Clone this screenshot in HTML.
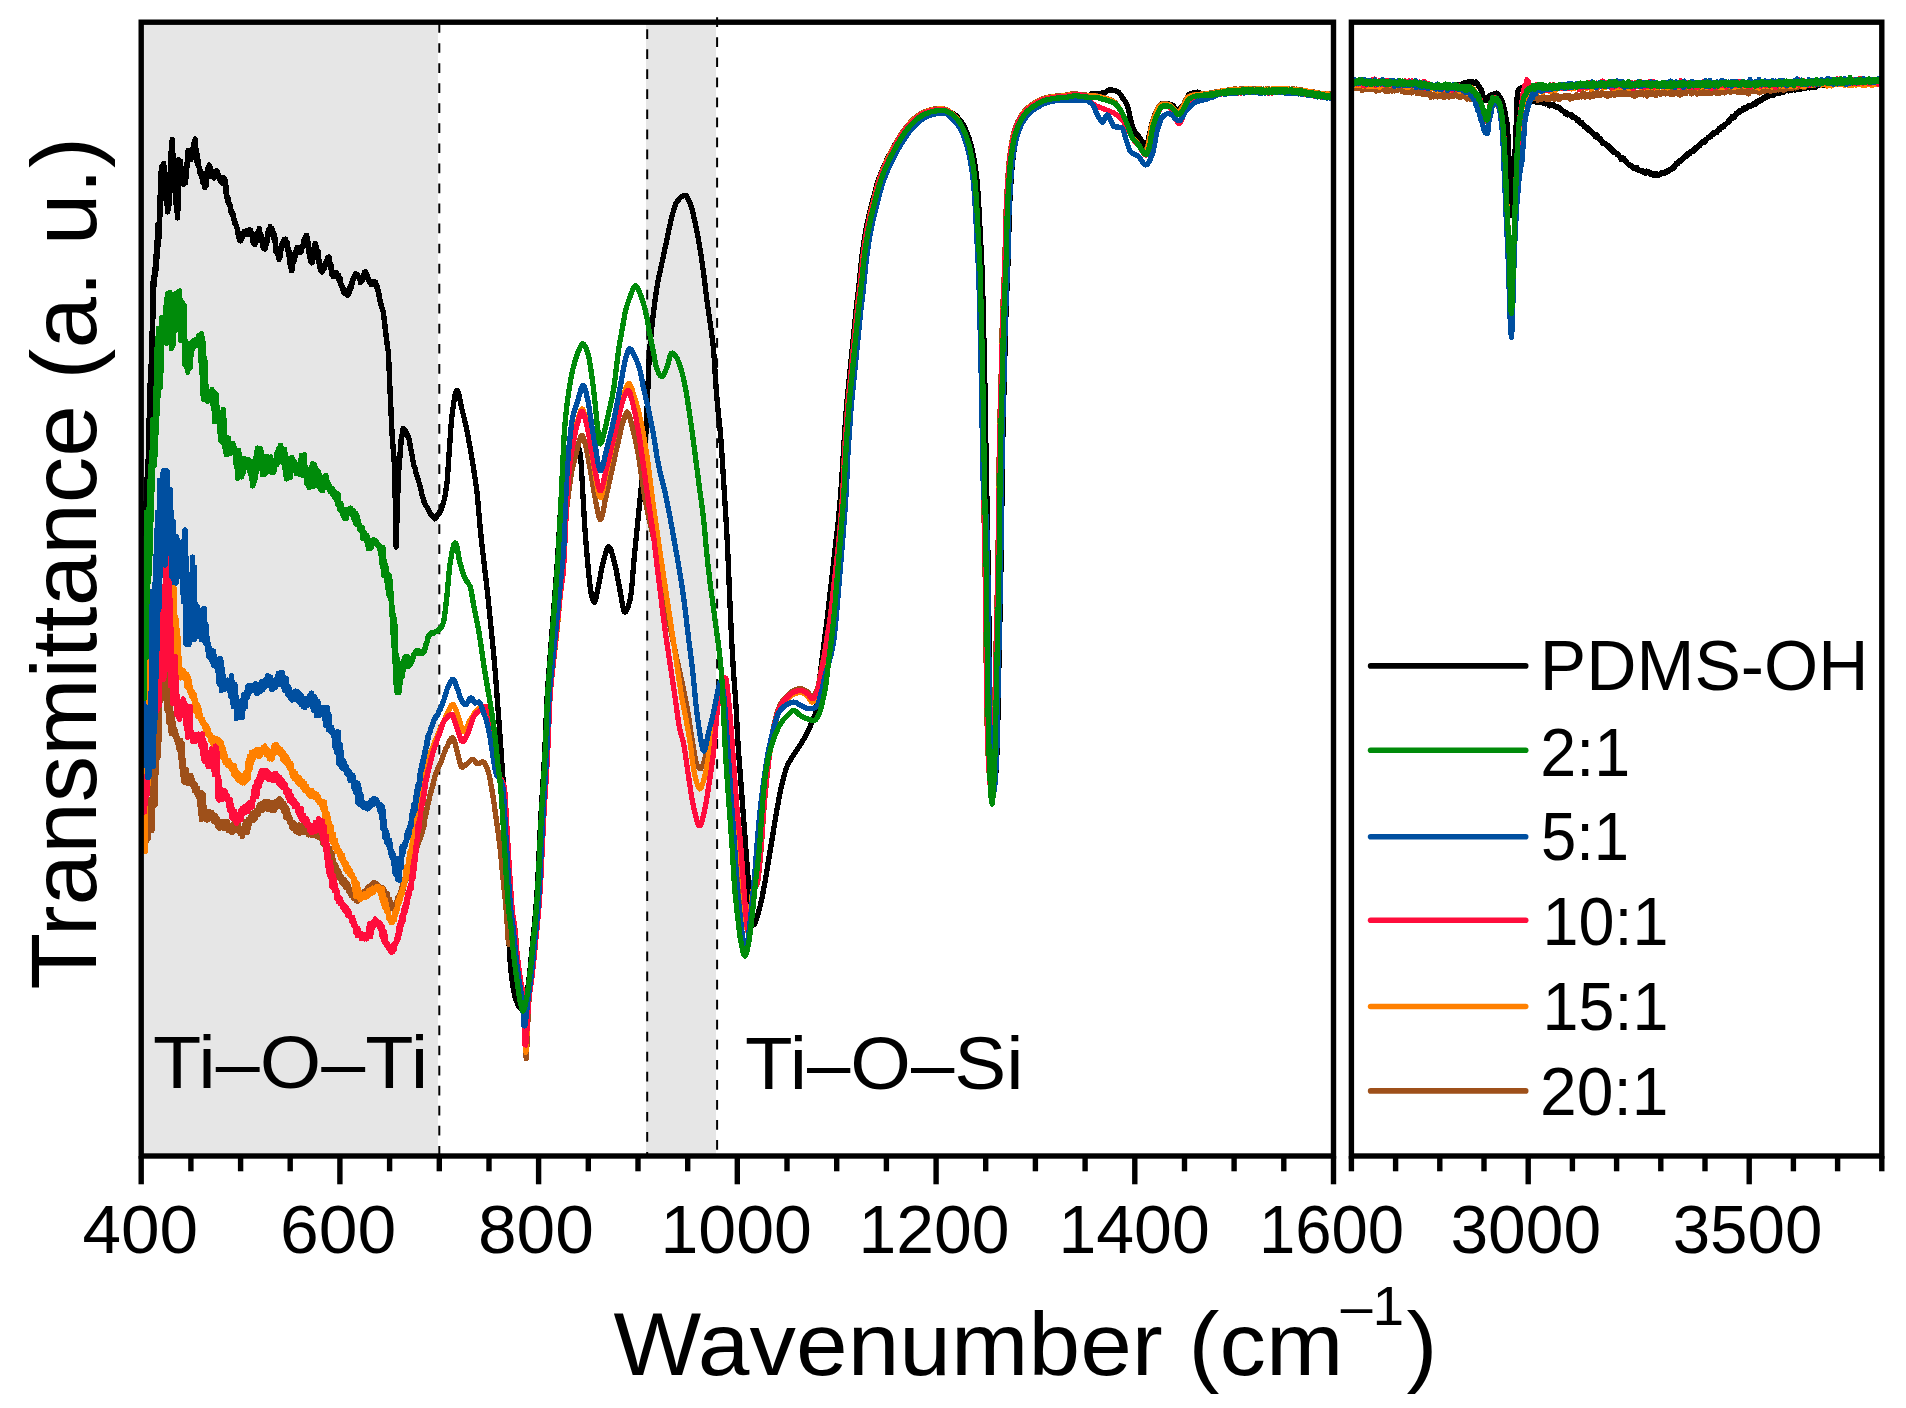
<!DOCTYPE html>
<html lang="en"><head><meta charset="utf-8"><title>FTIR spectra</title>
<style>html,body{margin:0;padding:0;background:#fff}body{width:1906px;height:1408px;overflow:hidden}svg{display:block}text{font-family:"Liberation Sans",sans-serif;fill:#000}.c{shape-rendering:crispEdges;fill:none;stroke-width:5.3;stroke-linejoin:round;stroke-linecap:butt}.f{fill:none;stroke:#000;stroke-width:5.4}.t{stroke:#000;stroke-width:5.4}.d{stroke:#000;stroke-width:2;stroke-dasharray:9.7 10.35}</style></head><body>
<svg width="1906" height="1408" viewBox="0 0 1906 1408">
<rect width="1906" height="1408" fill="#fff"/>
<rect x="141.2" y="22.2" width="296.7" height="1133.8" fill="#E6E6E6"/>
<rect x="646.0" y="22.2" width="70.0" height="1133.8" fill="#E6E6E6"/>
<line class="d" x1="439.3" y1="23.1" x2="439.3" y2="1156.0"/>
<line class="d" x1="647.2" y1="29.2" x2="647.2" y2="1156.0"/>
<line class="d" x1="717.1" y1="17.3" x2="717.1" y2="1156.0"/>
<defs><clipPath id="cl"><rect x="141.2" y="22.2" width="1192.3" height="1133.8"/></clipPath><clipPath id="cr"><rect x="1351.4" y="22.2" width="530.4" height="1133.8"/></clipPath></defs>
<g clip-path="url(#cl)">
<path class="c" stroke="#000000" d="M141.5,555.4 141.8,557.0 142.0,557.4 142.2,560.7 142.5,555.2 142.8,546.2 143.0,552.7 143.2,546.3 143.5,552.7 143.8,549.5 144.0,540.4 144.2,539.9 144.5,525.6 144.8,520.8 145.0,531.7 145.2,512.4 145.5,509.0 145.8,502.1 146.0,517.8 146.2,517.2 146.5,507.5 146.8,478.5 147.0,496.0 147.2,500.2 147.5,470.9 147.8,478.4 148.0,459.7 148.2,469.7 148.5,420.3 148.8,432.7 149.0,433.7 149.2,459.2 149.5,453.6 149.8,404.1 150.0,385.0 150.2,382.7 150.5,421.4 150.8,402.2 151.0,403.6 151.2,356.4 151.5,349.4 151.8,353.7 152.0,332.3 152.2,354.3 152.5,329.4 152.8,337.8 153.0,285.7 153.2,280.2 153.5,276.8 153.8,281.8 154.0,284.0 154.2,285.6 154.5,276.2 154.8,268.9 155.0,276.3 155.2,264.9 155.5,256.3 155.8,269.0 156.0,270.3 156.2,260.0 156.5,251.3 156.8,254.3 157.0,241.2 157.2,245.3 157.5,257.1 157.8,247.5 158.0,224.3 158.2,225.9 158.5,229.4 158.8,244.5 159.0,227.4 159.2,237.1 159.5,197.0 159.8,223.3 160.0,205.0 160.2,211.2 160.5,189.7 160.8,174.1 161.0,187.6 161.2,166.9 161.5,174.8 161.8,179.5 162.0,170.3 162.2,177.4 162.5,180.6 162.8,174.1 163.0,168.8 163.2,165.2 163.5,175.0 163.8,163.2 164.0,169.8 164.2,165.7 164.5,171.8 164.8,184.1 165.0,191.1 165.2,187.6 165.5,188.6 165.8,190.9 166.0,195.2 166.2,202.8 166.5,196.1 166.8,201.0 167.0,199.7 167.2,207.5 167.5,212.0 167.8,209.2 168.0,201.4 168.2,210.0 168.5,199.1 168.8,188.6 169.0,201.9 169.2,205.3 169.5,193.9 169.8,173.5 170.0,183.7 170.2,184.6 170.5,152.9 170.8,190.6 171.0,151.7 171.2,153.0 171.5,149.0 171.8,152.2 172.0,145.4 172.2,139.1 172.5,162.1 172.8,156.8 173.0,165.3 173.2,165.0 173.5,164.7 173.8,155.5 174.0,166.5 174.2,170.7 174.5,169.6 174.8,184.3 175.0,188.2 175.2,190.3 175.5,179.6 175.8,178.8 176.0,198.7 176.2,206.2 176.5,210.6 176.8,206.6 177.0,209.5 177.2,190.3 177.5,217.9 177.8,180.2 178.0,185.2 178.2,209.1 178.5,176.8 178.8,159.8 179.0,171.9 179.2,178.9 179.5,177.4 179.8,177.6 180.0,168.2 180.2,163.3 180.5,161.0 180.8,169.0 181.0,170.7 181.2,167.8 181.5,175.4 181.8,178.0 182.0,177.4 182.2,177.7 182.5,181.4 182.8,181.4 183.0,181.2 183.2,181.7 183.5,184.3 183.8,183.4 184.0,182.1 184.2,182.4 184.5,179.2 184.8,176.0 185.0,178.6 185.2,172.6 185.5,171.1 185.8,182.6 186.0,172.6 186.2,164.1 186.5,171.1 186.8,170.5 187.0,163.6 187.2,163.9 187.5,151.9 187.8,154.9 188.0,153.2 188.2,150.5 188.5,153.7 188.8,151.9 189.0,152.4 189.2,154.7 189.5,155.4 189.8,155.1 190.0,157.5 190.2,155.7 190.5,158.0 190.8,154.6 191.0,159.6 191.2,154.9 191.5,158.1 191.8,155.9 192.0,154.5 192.2,158.0 192.5,155.1 192.8,153.6 193.0,147.6 193.2,148.0 193.5,144.9 193.8,146.1 194.0,144.5 194.2,141.0 194.5,142.6 194.8,145.0 195.0,143.6 195.2,138.8 195.5,143.3 195.8,146.4 196.0,150.9 196.2,158.0 196.5,161.5 196.8,152.3 197.0,155.6 197.2,161.6 197.5,164.1 197.8,162.8 198.0,165.2 198.2,159.6 198.5,164.5 198.8,167.2 199.0,166.3 199.2,168.4 199.5,171.8 199.8,172.6 200.0,169.8 200.2,173.5 200.5,173.1 200.8,173.9 201.0,173.1 201.2,172.1 201.5,177.0 201.8,175.9 202.0,175.2 202.2,178.8 202.5,176.7 202.8,182.3 203.0,182.5 203.2,181.2 203.5,181.1 203.8,184.4 204.0,182.1 204.2,184.7 204.5,185.7 204.8,187.5 205.0,187.7 205.2,184.5 205.5,181.5 205.8,177.3 206.0,186.0 206.2,183.1 206.5,172.7 206.8,176.8 207.0,177.3 207.2,178.4 207.5,169.1 207.8,172.5 208.0,168.9 208.2,170.5 208.5,168.6 208.8,166.7 209.0,165.4 209.2,164.9 209.5,166.6 209.8,166.3 210.0,168.1 210.2,167.3 210.5,168.8 210.8,168.1 211.0,171.8 211.2,172.3 211.5,171.4 211.8,176.5 212.0,174.5 212.2,173.8 212.5,173.0 212.8,176.7 213.0,175.3 213.2,175.1 213.5,173.3 213.8,178.2 214.0,176.9 214.2,172.7 214.5,177.4 214.8,174.8 215.0,172.0 215.2,173.0 215.5,173.4 215.8,174.5 216.0,175.4 216.2,172.4 216.5,173.1 216.8,170.8 217.0,172.5 217.2,174.7 217.5,171.7 217.8,176.8 218.0,174.5 218.2,176.3 218.5,176.4 218.8,177.6 219.0,175.3 219.2,177.0 219.5,177.2 219.8,176.9 220.0,179.6 220.2,181.0 220.5,180.8 220.8,179.5 221.0,181.5 221.2,181.8 221.5,179.9 221.8,181.1 222.0,181.2 222.2,182.6 222.5,183.5 222.8,181.8 223.0,180.5 223.2,179.7 223.5,179.5 223.8,177.6 224.0,181.9 224.2,180.5 224.5,183.0 224.8,184.8 225.0,179.0 225.2,184.9 225.5,184.0 225.8,182.3 226.0,192.0 226.2,194.8 226.5,191.9 226.8,194.5 227.0,198.4 227.2,196.3 227.5,199.9 227.8,201.4 228.0,202.2 228.2,199.5 228.5,199.0 228.8,203.5 229.0,204.4 229.2,202.9 229.5,204.0 229.8,204.1 230.0,204.1 230.2,207.5 230.5,207.6 230.8,208.9 231.0,210.7 231.2,212.8 231.5,211.3 231.8,212.1 232.0,213.1 232.2,211.8 232.5,213.3 232.8,215.9 233.0,213.4 233.2,214.8 233.5,218.8 233.8,216.9 234.0,220.3 234.2,219.4 234.5,221.5 234.8,223.8 235.0,223.1 235.2,222.8 235.5,223.0 235.8,223.7 236.0,225.0 236.2,224.8 236.5,226.5 236.8,228.3 237.0,227.5 237.2,229.6 237.5,229.8 237.8,233.6 238.0,231.5 238.2,235.4 238.5,236.7 238.8,235.7 239.0,238.1 239.2,238.7 239.5,237.3 239.8,240.9 240.0,240.9 240.2,238.1 240.5,241.1 240.8,238.4 241.0,235.5 241.2,237.3 241.5,238.0 241.8,237.7 242.0,238.8 242.2,235.9 242.5,233.8 242.8,236.2 243.0,233.8 243.2,236.2 243.5,235.4 243.8,231.7 244.0,234.3 244.2,234.4 244.5,231.8 244.8,234.1 245.0,231.2 245.2,231.4 245.5,234.2 245.8,234.5 246.0,231.2 246.2,232.0 246.5,233.8 246.8,230.7 247.0,231.4 247.2,231.1 247.5,234.3 247.8,233.8 248.0,231.9 248.2,233.3 248.5,231.7 248.8,231.0 249.0,232.8 249.2,232.4 249.5,229.4 249.8,230.2 250.0,231.8 250.2,230.8 250.5,231.0 250.8,230.4 251.0,232.2 251.2,233.9 251.5,233.8 251.8,233.1 252.0,235.9 252.2,237.6 252.5,237.7 252.8,239.0 253.0,239.4 253.2,243.4 253.5,242.1 253.8,243.5 254.0,240.9 254.2,243.5 254.5,242.6 254.8,244.7 255.0,243.2 255.2,243.4 255.5,240.2 255.8,240.0 256.0,242.2 256.2,237.6 256.5,234.4 256.8,234.7 257.0,236.5 257.2,233.4 257.5,235.4 257.8,233.5 258.0,232.3 258.2,231.0 258.5,231.1 258.8,229.9 259.0,231.5 259.2,228.5 259.5,232.5 259.8,233.2 260.0,233.8 260.2,235.9 260.5,233.4 260.8,238.8 261.0,234.6 261.2,239.7 261.5,241.2 261.8,237.5 262.0,238.8 262.2,243.7 262.5,242.9 262.8,245.0 263.0,247.8 263.2,247.1 263.5,246.2 263.8,248.8 264.0,246.8 264.2,245.5 264.5,247.9 264.8,245.4 265.0,249.0 265.2,246.2 265.5,245.8 265.8,242.1 266.0,244.6 266.2,239.5 266.5,240.8 266.8,243.6 267.0,242.4 267.2,237.0 267.5,236.3 267.8,231.9 268.0,234.5 268.2,234.3 268.5,235.3 268.8,228.9 269.0,230.7 269.2,229.9 269.5,229.1 269.8,231.9 270.0,228.5 270.2,226.6 270.5,229.2 270.8,229.2 271.0,231.6 271.2,229.9 271.5,230.3 271.8,228.8 272.0,228.5 272.2,229.9 272.5,232.2 272.8,231.4 273.0,233.0 273.2,233.2 273.5,233.7 273.8,232.5 274.0,235.2 274.2,241.1 274.5,237.8 274.8,240.0 275.0,240.2 275.2,239.2 275.5,238.8 275.8,243.3 276.0,251.7 276.2,247.1 276.5,247.5 276.8,248.1 277.0,253.3 277.2,251.0 277.5,252.4 277.8,252.6 278.0,255.7 278.2,254.9 278.5,256.8 278.8,257.7 279.0,259.5 279.2,257.7 279.5,254.9 279.8,256.4 280.0,255.8 280.2,256.5 280.5,254.4 280.8,252.1 281.0,248.4 281.2,249.1 281.5,249.0 281.8,248.4 282.0,243.9 282.2,246.4 282.5,246.0 282.8,242.1 283.0,243.0 283.2,244.2 283.5,240.7 283.8,240.5 284.0,244.5 284.2,239.5 284.5,240.1 284.8,241.3 285.0,240.1 285.2,240.4 285.5,239.0 285.8,240.7 286.0,241.4 286.2,242.0 286.5,244.2 286.8,243.6 287.0,242.1 287.2,243.5 287.5,245.2 287.8,247.8 288.0,248.0 288.2,252.8 288.5,251.4 288.8,250.0 289.0,251.2 289.2,258.7 289.5,255.1 289.8,260.3 290.0,257.0 290.2,266.7 290.5,266.0 290.8,261.7 291.0,264.2 291.2,267.0 291.5,270.7 291.8,268.3 292.0,267.8 292.2,270.3 292.5,269.1 292.8,263.0 293.0,259.4 293.2,262.0 293.5,261.9 293.8,258.8 294.0,254.9 294.2,260.6 294.5,260.7 294.8,253.4 295.0,257.2 295.2,255.5 295.5,251.5 295.8,254.2 296.0,251.8 296.2,251.3 296.5,248.8 296.8,250.6 297.0,247.2 297.2,248.9 297.5,250.7 297.8,248.1 298.0,248.8 298.2,250.5 298.5,248.3 298.8,248.9 299.0,249.4 299.2,249.4 299.5,250.8 299.8,247.9 300.0,252.7 300.2,251.8 300.5,249.2 300.8,252.0 301.0,250.3 301.2,251.8 301.5,248.7 301.8,247.5 302.0,247.7 302.2,247.0 302.5,246.1 302.8,246.2 303.0,245.3 303.2,246.8 303.5,244.1 303.8,242.9 304.0,239.4 304.2,240.4 304.5,238.3 304.8,238.1 305.0,240.7 305.2,240.2 305.5,238.3 305.8,235.9 306.0,238.5 306.2,237.7 306.5,235.3 306.8,242.0 307.0,240.0 307.2,237.4 307.5,238.4 307.8,238.3 308.0,246.4 308.2,248.4 308.5,243.7 308.8,249.7 309.0,253.2 309.2,251.0 309.5,252.6 309.8,256.5 310.0,257.9 310.2,257.2 310.5,259.8 310.8,261.6 311.0,259.8 311.2,261.2 311.5,257.3 311.8,258.5 312.0,263.0 312.2,259.5 312.5,260.2 312.8,252.6 313.0,258.1 313.2,253.9 313.5,257.7 313.8,248.5 314.0,249.9 314.2,252.4 314.5,244.5 314.8,246.0 315.0,245.6 315.2,243.5 315.5,247.5 315.8,247.5 316.0,245.8 316.2,250.9 316.5,252.2 316.8,250.8 317.0,252.4 317.2,253.4 317.5,254.6 317.8,257.8 318.0,251.0 318.2,253.3 318.5,259.9 318.8,257.5 319.0,262.7 319.2,263.6 319.5,264.2 319.8,267.8 320.0,263.7 320.2,270.0 320.5,267.9 320.8,266.9 321.0,270.4 321.2,269.2 321.5,267.9 321.8,269.5 322.0,271.4 322.2,272.0 322.5,269.3 322.8,269.5 323.0,270.8 323.2,267.9 323.5,268.2 323.8,267.3 324.0,266.2 324.2,268.4 324.5,268.0 324.8,264.1 325.0,265.7 325.2,264.6 325.5,262.5 325.8,263.6 326.0,262.2 326.2,263.1 326.5,261.8 326.8,261.5 327.0,259.2 327.2,261.5 327.5,260.0 327.8,257.5 328.0,258.7 328.2,257.4 328.5,260.5 328.8,258.3 329.0,258.3 329.2,256.8 329.5,263.2 329.8,265.3 330.0,265.1 330.2,267.9 330.5,264.6 330.8,266.0 331.0,264.3 331.2,270.7 331.5,273.8 331.8,269.7 332.0,272.4 332.2,272.8 332.5,273.9 332.8,273.3 333.0,276.6 333.2,273.8 333.5,273.8 333.8,276.4 334.0,274.0 334.2,275.1 334.5,276.4 334.8,276.6 335.0,275.2 335.2,273.6 335.5,273.6 335.8,275.1 336.0,275.2 336.2,272.6 336.5,273.8 336.8,274.7 337.0,274.5 337.2,276.9 337.5,275.0 337.8,276.9 338.0,277.7 338.2,278.5 338.5,279.0 338.8,275.4 339.0,277.9 339.2,280.5 339.5,278.5 339.8,277.5 340.0,278.3 340.2,283.2 340.5,282.8 340.8,283.3 341.0,285.5 341.2,285.3 341.5,286.1 341.8,284.9 342.0,285.4 342.2,287.4 342.5,287.4 342.8,289.7 343.0,289.3 343.2,290.9 343.5,288.7 343.8,292.7 344.0,290.3 344.2,289.9 344.5,291.8 344.8,293.3 345.0,292.6 345.2,292.2 345.5,292.5 345.8,290.6 346.0,293.5 346.2,293.2 346.5,292.9 346.8,293.4 347.0,292.9 347.2,292.6 347.5,294.9 347.8,294.6 348.0,295.3 348.2,292.6 348.5,292.4 348.8,292.7 349.0,291.9 349.2,293.2 349.5,289.2 349.8,288.1 350.0,286.6 350.2,287.4 350.5,289.9 350.8,288.9 351.0,287.4 351.2,282.7 351.5,284.7 351.8,283.1 352.0,283.5 352.2,283.4 352.5,279.5 352.8,282.3 353.0,278.7 353.2,280.0 353.5,278.4 353.8,279.5 354.0,277.6 354.2,275.9 354.5,276.0 354.8,275.6 355.0,276.3 355.2,276.5 355.5,273.8 355.8,273.8 356.0,276.1 356.2,274.4 356.5,275.5 356.8,275.1 357.0,274.9 357.2,274.6 357.5,275.0 357.8,275.2 358.0,275.6 358.2,276.3 358.5,277.6 358.8,278.2 359.0,277.7 359.2,278.2 359.5,279.7 359.8,278.4 360.0,280.4 360.2,280.5 360.5,282.7 360.8,281.5 361.0,281.2 361.2,279.3 361.5,279.5 361.8,278.4 362.0,279.5 362.2,280.6 362.5,276.6 362.8,278.0 363.0,275.9 363.2,277.2 363.5,275.5 363.8,273.9 364.0,274.2 364.2,272.2 364.5,272.5 364.8,272.8 365.0,272.6 365.2,273.1 365.5,273.0 365.8,271.7 366.0,275.1 366.2,275.4 366.5,276.0 366.8,274.3 367.0,274.9 367.2,276.8 367.5,276.2 367.8,279.2 368.0,278.8 368.2,278.3 368.5,278.2 368.8,280.5 369.0,280.6 369.2,281.7 369.5,281.5 369.8,281.3 370.0,282.3 370.2,280.9 370.5,281.0 370.8,281.4 371.0,281.5 371.2,284.4 371.5,283.3 371.8,281.4 372.0,283.8 372.2,283.6 372.5,282.9 372.8,283.0 373.0,282.8 373.2,284.3 373.5,283.1 373.8,282.9 374.0,282.8 374.2,283.1 374.5,283.6 374.8,283.1 375.0,282.0 375.2,284.1 375.5,282.1 375.8,283.7 376.0,284.2 376.2,285.0 376.5,284.5 376.8,285.9 377.0,288.2 377.2,289.2 377.5,287.1 377.8,290.1 378.0,289.6 378.2,291.9 378.5,292.0 378.8,292.3 379.0,296.4 379.2,297.2 379.5,297.5 379.8,298.9 380.0,301.3 380.2,301.4 380.5,303.0 380.8,303.9 381.0,304.9 381.2,305.6 381.5,305.0 381.8,307.8 382.0,308.2 382.2,308.3 382.5,309.9 382.8,310.0 383.0,310.9 383.2,311.5 383.5,313.0 383.8,315.3 384.0,318.1 384.2,320.4 384.5,320.8 384.8,323.6 385.0,326.3 385.2,329.1 385.5,332.1 385.8,331.4 386.0,336.0 386.2,336.8 386.5,338.1 386.8,340.2 387.0,342.7 387.2,345.0 387.5,346.8 387.8,348.8 388.0,349.7 388.2,351.6 388.5,354.7 388.8,360.1 389.0,364.9 389.2,371.5 389.5,376.8 389.8,383.3 390.0,390.6 390.2,394.3 390.5,400.5 390.8,405.0 391.0,411.6 391.2,416.8 391.5,422.3 391.8,427.4 392.0,433.2 392.2,436.8 392.5,439.9 392.8,442.6 393.0,445.9 393.2,449.1 393.5,453.4 393.8,455.1 394.0,458.5 394.2,463.2 394.5,468.5 394.8,479.4 395.0,491.4 395.2,500.4 395.5,510.4 395.8,526.9 396.0,545.8 396.2,547.2 396.5,536.3 396.8,526.3 397.0,517.1 397.2,510.1 397.5,502.5 397.8,495.3 398.0,489.3 398.2,481.2 398.5,476.0 398.8,470.9 399.0,468.7 399.2,465.9 399.5,461.8 399.8,459.3 400.0,454.0 400.2,451.5 400.5,447.6 400.8,444.8 401.0,443.3 401.2,438.4 401.5,437.6 401.8,435.7 402.0,434.8 402.2,434.0 402.5,433.4 402.8,430.8 403.0,428.2 403.2,428.3 403.5,428.6 403.8,428.9 404.0,429.6 404.2,429.2 404.5,430.8 404.8,430.4 405.0,430.9 405.2,430.6 405.5,431.3 405.8,432.3 406.0,433.6 406.2,432.2 406.5,434.7 406.8,434.0 407.0,433.8 407.2,435.6 407.5,435.2 407.8,435.0 408.0,436.4 408.2,437.1 408.5,438.0 408.8,437.7 409.0,438.9 409.2,439.9 409.5,441.2 409.8,442.7 410.0,444.9 410.2,446.6 410.5,447.1 410.8,448.3 411.0,449.8 411.5,453.0 412.0,455.2 412.5,457.6 413.0,461.2 413.5,463.3 414.0,466.7 414.5,466.8 415.0,468.0 415.5,470.2 416.0,473.1 416.5,474.5 417.0,475.8 417.5,476.7 418.0,479.1 418.5,481.2 419.0,482.4 419.5,484.0 420.0,486.2 420.5,487.9 421.0,490.3 421.5,492.4 422.0,494.8 422.5,496.4 423.0,498.3 423.5,500.3 424.0,501.7 424.5,502.2 425.0,503.9 425.5,505.0 426.0,505.7 426.5,506.5 427.0,507.0 427.5,508.4 428.0,509.3 428.5,510.2 429.0,511.0 429.5,512.5 430.0,512.7 430.5,514.2 431.0,514.5 431.5,514.4 432.0,515.9 432.5,516.2 433.0,516.2 433.5,516.9 434.0,517.7 434.5,517.9 435.0,518.9 435.5,518.7 436.0,518.2 436.5,517.1 437.0,516.2 437.5,515.2 438.0,514.9 438.5,513.6 439.0,512.8 439.5,512.2 440.0,512.4 440.5,510.8 441.0,509.8 441.5,509.0 442.0,507.3 442.5,505.8 443.0,504.4 443.5,502.2 444.0,500.6 444.5,498.1 445.0,495.7 445.5,492.9 446.0,489.7 446.5,486.5 447.0,482.4 447.5,477.2 448.0,470.3 448.5,462.4 449.0,454.9 449.5,448.0 450.0,440.5 450.5,432.9 451.0,425.7 451.5,419.9 452.0,415.7 452.5,411.4 453.0,408.0 453.5,404.3 454.0,400.9 454.5,397.8 455.0,395.2 455.5,393.1 456.0,391.4 456.5,390.7 457.0,390.5 457.5,390.9 458.0,391.7 458.5,393.5 459.0,395.3 459.5,397.6 460.0,399.8 460.5,402.2 461.0,404.9 461.5,407.1 462.0,409.4 462.5,411.2 463.0,413.4 463.5,415.3 464.0,417.5 464.5,419.5 465.0,421.9 465.5,424.0 466.0,426.4 466.5,428.5 467.0,431.1 467.5,433.6 468.0,436.1 468.5,438.9 469.0,441.5 469.5,444.4 470.0,447.3 470.5,450.0 471.0,453.0 471.5,456.0 472.0,459.2 472.5,462.1 473.0,465.2 473.5,468.1 474.0,471.3 474.5,474.5 475.0,477.6 475.5,481.1 476.0,484.9 476.5,488.6 477.0,492.7 477.5,497.4 478.0,502.7 478.5,508.3 479.0,514.2 479.5,520.2 480.0,525.9 480.5,530.9 481.0,535.8 481.5,540.5 482.5,549.4 483.5,558.2 484.5,567.0 485.5,575.5 486.5,584.0 487.5,593.0 488.5,602.5 489.5,612.5 490.5,622.6 491.5,632.7 492.5,642.5 493.5,652.5 494.5,663.2 495.5,675.3 496.5,688.6 497.5,701.9 498.5,715.1 499.5,728.7 500.5,743.0 501.5,757.9 502.5,771.5 503.5,786.0 504.5,818.5 505.5,850.3 506.5,878.0 507.5,912.0 508.5,934.5 509.5,952.2 510.5,966.0 511.5,975.8 512.5,983.3 513.5,989.6 514.5,994.7 515.5,998.6 516.5,1001.3 517.5,1003.7 518.5,1005.8 519.5,1007.5 520.5,1008.6 521.5,1009.0 522.5,1008.3 523.5,1006.5 524.5,1003.9 525.5,1000.7 526.5,996.9 527.5,990.6 528.5,982.6 529.5,974.0 530.5,964.6 531.5,953.9 532.5,943.1 533.5,933.2 534.5,923.6 535.5,912.6 536.5,899.9 537.5,885.0 538.5,866.1 539.5,844.0 540.5,823.3 541.5,804.9 542.5,789.8 543.5,774.4 544.5,755.9 545.5,734.7 546.5,708.9 547.5,689.8 548.5,676.5 549.5,664.0 550.5,650.7 551.5,637.6 552.5,624.4 553.5,611.3 554.5,598.3 555.5,585.7 556.5,573.2 557.5,559.1 558.5,543.1 559.5,526.6 560.5,509.7 561.5,497.7 562.5,488.5 563.5,481.1 564.5,475.1 565.5,470.0 566.5,465.6 567.5,461.7 568.5,458.3 569.5,455.0 570.5,452.0 571.5,449.6 572.5,448.0 573.5,447.0 574.5,446.1 575.5,445.4 576.5,445.1 577.5,445.2 578.5,447.1 579.5,450.5 580.5,455.3 581.5,468.9 582.5,487.6 583.5,504.7 584.5,522.3 585.5,536.9 586.5,549.3 587.5,560.5 588.5,571.0 589.5,581.4 590.5,589.9 591.5,595.0 592.5,598.6 593.5,601.2 594.5,602.2 595.5,600.3 596.5,595.9 597.5,590.7 598.5,586.0 599.5,580.7 600.5,575.2 601.5,569.8 602.5,565.2 603.5,561.3 604.5,557.4 605.5,553.7 606.5,550.5 607.5,548.1 608.5,546.9 609.5,547.2 610.5,548.9 611.5,551.7 612.5,555.2 613.5,559.0 614.5,562.9 615.5,566.9 616.5,571.8 617.5,577.1 618.5,582.6 619.5,587.8 620.5,593.1 621.5,599.1 622.5,605.0 623.5,609.7 624.5,612.1 625.5,612.0 626.5,610.7 627.5,608.5 628.5,605.5 629.5,601.8 630.5,597.6 631.5,590.4 632.5,578.6 633.5,565.7 634.5,554.8 635.5,544.7 636.5,534.7 637.5,524.8 638.5,514.9 639.5,505.1 640.5,495.2 641.5,485.3 642.5,475.8 643.5,466.7 644.5,455.9 645.5,441.2 646.5,420.9 647.5,398.0 648.5,372.0 649.5,351.8 650.5,340.0 651.5,330.5 652.5,321.1 653.5,312.5 654.5,304.6 655.5,297.2 656.5,290.3 657.5,284.2 658.5,278.9 659.5,274.1 660.5,269.5 661.5,264.9 662.5,260.2 663.5,255.5 664.5,250.8 665.5,246.1 666.5,241.4 667.5,236.7 668.5,231.8 669.5,226.9 670.5,222.3 671.5,218.1 672.5,214.4 673.5,210.8 674.5,207.4 675.5,204.5 676.5,202.3 677.5,201.0 678.5,199.8 679.5,198.6 680.5,197.6 681.5,196.7 682.5,196.1 683.5,195.5 684.5,195.3 685.5,195.2 686.5,196.0 687.5,197.6 688.5,199.6 689.5,201.9 690.5,204.4 691.5,207.4 692.5,211.2 693.5,215.5 694.5,220.0 695.5,224.6 696.5,229.4 697.5,234.6 698.5,240.0 699.5,245.8 700.5,251.8 701.5,258.3 702.5,265.3 703.5,272.6 704.5,280.4 705.5,288.8 706.5,297.1 707.5,304.6 708.5,311.4 709.5,318.1 710.5,325.2 711.5,332.4 712.5,340.0 713.5,349.2 714.5,362.9 715.5,379.6 716.5,393.1 717.5,405.0 718.5,414.8 719.5,423.7 720.5,434.0 721.5,447.4 722.5,463.2 723.5,479.5 724.5,495.2 725.5,510.7 726.5,527.2 727.5,546.0 728.5,568.8 729.5,592.6 730.5,615.6 731.5,637.0 732.5,655.5 733.5,672.1 734.5,685.8 735.5,698.4 736.5,714.5 737.5,735.4 738.5,751.1 739.5,764.0 740.5,777.0 741.5,790.4 742.5,803.9 743.5,817.3 744.5,830.8 745.5,844.2 746.5,857.4 747.5,870.5 748.5,883.9 749.5,897.7 750.5,907.4 751.5,915.9 752.5,922.4 753.5,925.0 754.5,924.0 755.5,921.5 756.5,918.5 757.5,915.5 758.5,912.3 759.5,908.6 760.5,904.6 761.5,900.1 762.5,895.2 763.5,890.0 764.5,884.5 765.5,878.9 766.5,872.9 767.5,866.8 768.5,860.6 769.5,854.6 770.5,848.6 771.5,842.6 772.5,836.6 773.5,830.5 774.5,824.3 775.5,818.0 776.5,812.0 777.5,806.4 778.5,800.9 779.5,795.7 780.5,790.7 781.5,786.1 782.5,781.9 783.5,778.0 784.5,774.3 785.5,770.9 786.5,767.9 787.5,765.4 788.5,763.3 789.5,761.4 790.5,759.7 791.5,758.1 792.5,756.6 793.5,755.0 794.5,753.4 795.5,751.9 796.5,750.4 797.5,748.9 798.5,747.5 799.5,746.0 800.5,744.4 801.5,742.8 802.5,741.2 803.5,739.5 804.5,737.9 805.5,736.1 806.5,734.2 807.5,732.3 808.5,730.2 809.5,727.9 810.5,725.5 811.5,723.0 812.5,720.6 813.5,718.5 814.5,716.4 815.5,713.6 816.5,708.8 817.5,699.6 818.5,688.8 819.5,679.5 820.5,671.2 821.5,663.3 822.5,655.5 823.5,647.6 824.5,639.7 825.5,632.0 826.5,624.1 827.5,616.0 828.5,607.5 829.5,598.6 830.5,589.6 831.5,580.7 832.5,571.9 833.5,563.1 834.5,554.3 835.5,545.4 836.5,536.8 837.5,528.1 838.5,518.7 839.5,508.1 840.5,496.0 841.5,482.4 842.5,466.3 843.5,450.2 844.5,435.5 845.5,420.3 846.5,405.9 847.5,395.1 848.5,385.6 849.5,375.7 850.5,365.6 851.5,355.6 852.5,345.5 853.5,335.4 854.5,325.4 855.5,315.6 856.5,306.1 857.5,297.6 858.5,289.4 859.5,280.0 860.5,269.2 861.5,259.8 862.5,252.0 863.5,244.8 864.5,238.3 865.5,232.3 866.5,226.9 867.5,222.0 868.5,217.5 869.5,213.3 870.5,209.4 871.5,205.4 872.5,201.5 873.5,197.5 874.5,193.6 875.5,189.8 876.5,186.1 877.5,182.8 878.5,179.7 879.5,176.9 880.5,174.2 881.5,171.7 882.5,169.3 883.5,167.0 884.5,164.8 885.5,162.6 886.5,160.4 887.5,158.4 888.5,156.4 889.5,154.5 890.5,152.6 891.5,150.7 892.5,148.8 893.5,147.0 894.5,145.2 895.5,143.4 896.5,141.7 897.5,140.0 898.5,138.4 899.5,136.9 900.5,135.4 901.5,133.9 902.5,132.5 903.5,131.1 904.5,129.8 905.5,128.5 906.5,127.3 907.5,126.2 908.5,125.0 909.5,123.9 910.5,122.9 911.5,121.9 912.5,120.9 913.5,120.0 914.5,119.2 915.5,118.4 916.5,117.7 917.5,117.0 918.5,116.3 919.5,115.7 920.5,115.1 921.5,114.6 922.5,114.1 923.5,113.7 924.5,113.3 925.5,112.9 926.5,112.5 927.5,112.2 928.5,111.9 929.5,111.7 930.5,111.4 931.5,111.2 932.5,111.1 933.5,111.0 934.5,110.8 935.5,110.7 936.5,110.6 937.5,110.5 938.5,110.4 939.5,110.4 940.5,110.4 941.5,110.4 942.5,110.5 943.5,110.7 944.5,110.8 945.5,111.1 946.5,111.3 947.5,111.6 948.5,111.9 949.5,112.3 950.5,112.6 951.5,113.0 952.5,113.4 953.5,113.9 954.5,114.5 955.5,115.2 956.5,116.1 957.5,117.1 958.5,118.3 959.5,119.5 960.5,120.8 961.5,122.1 962.5,123.6 963.5,125.3 964.5,127.3 965.5,129.4 966.5,131.7 967.5,134.2 968.5,136.8 969.5,139.8 970.5,143.2 971.5,146.9 972.5,151.1 973.5,156.0 974.5,161.6 975.5,168.1 976.5,176.0 977.5,185.9 978.5,200.6 979.5,218.5 980.5,238.7 981.5,257.0 982.5,278.3 983.5,326.0 984.5,359.8 985.5,423.6 986.5,476.4 987.5,530.0 988.5,584.2 989.5,672.6 990.5,733.0 991.5,759.7 992.5,775.3 993.5,784.4 994.5,785.3 995.5,777.7 996.5,763.3 997.5,740.4 998.5,685.0 999.5,639.4 1000.5,592.5 1001.5,537.1 1002.5,453.2 1003.5,408.0 1004.5,371.9 1005.5,327.0 1006.5,299.2 1007.5,277.1 1008.5,244.9 1009.5,208.0 1010.5,189.1 1011.5,174.0 1012.5,162.5 1013.5,154.3 1014.5,147.5 1015.5,141.8 1016.5,137.2 1017.5,133.4 1018.5,130.2 1019.5,127.5 1020.5,125.0 1021.5,122.9 1022.5,121.0 1023.5,119.2 1024.5,117.5 1025.5,116.0 1026.5,114.6 1027.5,113.3 1028.5,112.2 1029.5,111.2 1030.5,110.2 1031.5,109.3 1032.5,108.5 1033.5,107.7 1034.5,107.0 1035.5,106.3 1036.5,105.7 1037.5,105.1 1038.5,104.4 1039.5,103.8 1040.5,103.3 1041.5,102.7 1042.5,102.2 1043.5,101.7 1044.5,101.2 1045.5,100.8 1046.5,100.5 1047.5,100.2 1048.5,99.9 1049.5,99.7 1050.5,99.4 1051.5,99.2 1052.5,99.0 1053.5,98.8 1054.5,98.7 1055.5,98.5 1056.5,98.4 1057.5,98.3 1058.5,98.2 1059.5,98.1 1060.5,98.0 1061.5,97.9 1062.5,97.8 1063.5,97.7 1064.5,97.7 1065.5,97.6 1066.5,97.5 1067.5,97.4 1068.5,97.2 1069.5,97.0 1070.5,96.8 1071.5,96.6 1072.5,96.4 1073.5,96.2 1074.5,96.0 1075.5,95.9 1076.5,95.8 1077.5,95.8 1078.5,95.8 1079.5,95.9 1080.5,96.1 1081.5,96.2 1082.5,96.4 1083.5,96.6 1084.5,96.8 1085.5,96.9 1086.5,97.0 1087.5,97.0 1088.5,96.6 1089.5,95.7 1090.5,94.7 1091.5,93.9 1092.5,93.6 1093.5,93.5 1094.5,93.4 1095.5,93.3 1096.5,93.3 1097.5,93.3 1098.5,93.2 1099.5,93.2 1100.5,93.2 1101.5,93.1 1102.5,93.1 1103.5,93.0 1104.5,92.8 1105.5,92.3 1106.5,91.5 1107.5,90.6 1108.5,90.0 1109.5,89.9 1110.5,89.9 1111.5,90.0 1112.5,90.2 1113.5,90.4 1114.5,90.6 1115.5,90.8 1116.5,91.1 1117.5,91.5 1118.5,92.2 1119.5,93.3 1120.5,94.7 1121.5,96.2 1122.5,97.8 1123.5,99.2 1124.5,100.6 1125.5,102.0 1126.5,103.7 1127.5,105.9 1128.5,109.4 1129.5,114.6 1130.5,119.3 1131.5,123.3 1132.5,126.9 1133.5,129.6 1134.5,131.3 1135.5,132.7 1136.5,133.9 1137.5,134.9 1138.5,136.0 1139.5,137.3 1140.5,138.8 1141.5,140.6 1142.5,142.3 1143.5,143.9 1144.5,145.1 1145.5,145.7 1146.5,145.3 1147.5,142.5 1148.5,138.5 1149.5,134.4 1150.5,130.1 1151.5,125.2 1152.5,121.1 1153.5,118.1 1154.5,115.4 1155.5,112.9 1156.5,110.8 1157.5,109.0 1158.5,107.5 1159.5,106.1 1160.5,104.8 1161.5,103.8 1162.5,103.2 1163.5,103.2 1164.5,103.3 1165.5,103.4 1166.5,103.5 1167.5,103.6 1168.5,103.8 1169.5,104.1 1170.5,104.3 1171.5,104.6 1172.5,105.1 1173.5,106.1 1174.5,107.3 1175.5,108.5 1176.5,109.4 1177.5,109.8 1178.5,109.6 1179.5,108.9 1180.5,108.0 1181.5,106.9 1182.5,105.7 1183.5,104.5 1184.5,102.9 1185.5,100.9 1186.5,98.7 1187.5,96.7 1188.5,95.1 1189.5,94.3 1190.5,93.8 1191.5,93.4 1192.5,93.0 1193.5,92.6 1194.0,92.6 1194.5,92.4 1195.0,92.4 1195.5,92.3 1196.0,92.3 1196.5,92.2 1197.0,92.3 1197.5,92.1 1198.0,92.4 1198.5,92.4 1199.0,92.7 1199.5,92.8 1200.0,93.0 1200.5,93.1 1201.0,93.1 1201.5,93.7 1202.0,93.7 1202.5,94.2 1203.0,94.4 1203.5,94.6 1204.0,94.6 1204.5,94.8 1205.0,94.9 1205.5,94.8 1206.0,95.2 1206.5,95.3 1207.0,95.2 1207.5,95.3 1208.0,94.8 1208.5,95.4 1209.0,94.9 1209.5,94.6 1210.0,94.9 1210.5,95.0 1211.0,94.7 1211.5,94.8 1212.0,94.3 1212.5,94.5 1213.0,94.7 1213.5,94.6 1214.0,94.0 1214.5,94.0 1215.0,94.4 1215.5,93.8 1216.0,93.6 1216.5,93.9 1217.0,93.6 1217.5,93.7 1218.0,93.3 1218.5,93.6 1219.0,92.7 1219.5,93.2 1220.0,93.2 1220.5,92.7 1221.0,93.1 1221.5,93.5 1222.0,92.7 1222.5,92.7 1223.0,92.5 1223.5,92.3 1224.0,92.9 1224.5,92.7 1225.0,92.1 1225.5,92.7 1226.0,93.1 1226.5,93.0 1227.0,92.2 1227.5,92.0 1228.0,91.9 1228.5,91.4 1229.0,92.1 1229.5,92.5 1230.0,91.5 1230.5,91.9 1231.0,92.2 1231.5,92.2 1232.0,92.0 1232.5,91.3 1233.0,92.1 1233.5,91.7 1234.0,91.8 1234.5,91.3 1235.0,90.8 1235.5,91.3 1236.0,91.1 1236.5,90.7 1237.0,91.2 1237.5,92.0 1238.0,90.8 1238.5,91.0 1239.0,91.0 1239.5,90.9 1240.0,92.0 1240.5,91.1 1241.0,91.3 1241.5,91.3 1242.0,91.3 1242.5,90.6 1243.0,90.6 1243.5,90.6 1244.0,91.7 1244.5,91.4 1245.0,90.8 1245.5,90.2 1246.0,90.8 1246.5,90.5 1247.0,90.3 1247.5,91.3 1248.0,91.5 1248.5,91.5 1249.0,91.2 1249.5,90.6 1250.0,91.2 1250.5,91.2 1251.0,90.9 1251.5,90.0 1252.0,90.4 1252.5,90.4 1253.0,90.7 1253.5,90.1 1254.0,91.3 1254.5,91.0 1255.0,91.3 1255.5,90.9 1256.0,91.5 1256.5,91.6 1257.0,91.4 1257.5,90.7 1258.0,91.1 1258.5,90.7 1259.0,91.4 1259.5,91.8 1260.0,92.0 1260.5,91.7 1261.0,91.6 1261.5,91.8 1262.0,91.5 1262.5,90.6 1263.0,91.4 1263.5,91.4 1264.0,91.1 1264.5,90.7 1265.0,91.1 1265.5,91.0 1266.0,91.1 1266.5,91.1 1267.0,91.4 1267.5,91.4 1268.0,91.4 1268.5,91.1 1269.0,91.0 1269.5,91.6 1270.0,91.0 1270.5,91.4 1271.0,90.4 1271.5,90.7 1272.0,90.8 1272.5,90.9 1273.0,91.6 1273.5,90.9 1274.0,91.7 1274.5,91.8 1275.0,90.2 1275.5,91.7 1276.0,90.8 1276.5,90.3 1277.0,91.4 1277.5,91.6 1278.0,90.6 1278.5,90.9 1279.0,90.1 1279.5,90.0 1280.0,90.2 1280.5,91.0 1281.0,90.4 1281.5,90.9 1282.0,90.9 1282.5,90.4 1283.0,90.9 1283.5,90.4 1284.0,90.8 1284.5,90.4 1285.0,90.1 1285.5,90.3 1286.0,90.7 1286.5,90.7 1287.0,90.4 1287.5,91.0 1288.0,91.7 1288.5,91.0 1289.0,91.8 1289.5,90.7 1290.0,90.9 1290.5,90.7 1291.0,90.4 1291.5,91.2 1292.0,91.4 1292.5,91.4 1293.0,91.5 1293.5,91.3 1294.0,92.1 1294.5,91.1 1295.0,91.8 1295.5,90.8 1296.0,91.5 1296.5,92.1 1297.0,92.2 1297.5,91.7 1298.0,91.3 1298.5,91.9 1299.0,92.3 1299.5,91.4 1300.0,91.2 1300.5,91.6 1301.0,92.9 1301.5,91.9 1302.0,92.9 1302.5,92.2 1303.0,91.9 1303.5,91.7 1304.0,92.2 1304.5,93.4 1305.0,92.9 1305.5,92.5 1306.0,93.3 1306.5,92.9 1307.0,92.4 1307.5,93.1 1308.0,92.5 1308.5,93.8 1309.0,93.7 1309.5,93.4 1310.0,93.5 1310.5,93.5 1311.0,93.2 1311.5,94.1 1312.0,93.5 1312.5,93.9 1313.0,94.7 1313.5,94.9 1314.0,93.8 1314.5,94.7 1315.0,95.2 1315.5,94.3 1316.0,94.2 1316.5,95.0 1317.0,95.3 1317.5,94.6 1318.0,94.8 1318.5,94.8 1319.0,95.0 1319.5,95.6 1320.0,95.9 1320.5,95.2 1321.0,95.4 1321.5,95.1 1322.0,95.7 1322.5,95.4 1323.0,96.4 1323.5,95.7 1324.0,95.4 1324.5,96.6 1325.0,96.1 1325.5,95.8 1326.0,95.5 1326.5,95.8 1327.0,95.7 1327.5,96.0 1328.0,95.3 1328.5,95.7 1329.0,96.5 1329.5,96.4 1330.0,95.6 1330.5,95.6 1331.0,96.7 1331.5,95.6 1332.0,97.3 1332.5,97.1 1333.0,96.8 1333.5,97.2"/>
<path class="c" stroke="#9E501A" d="M142.0,847.6 142.2,846.3 142.5,848.4 142.8,848.2 143.0,845.8 143.2,847.5 143.5,843.1 143.8,847.7 144.0,844.2 144.2,840.7 144.5,846.3 144.8,843.7 145.0,837.6 145.2,845.4 145.5,848.3 145.8,840.9 146.0,842.3 146.2,836.5 146.5,838.2 146.8,841.2 147.0,831.4 147.2,833.9 147.5,829.7 147.8,828.7 148.0,835.4 148.2,829.1 148.5,838.2 148.8,835.6 149.0,826.0 149.2,827.9 149.5,817.4 149.8,822.1 150.0,801.6 150.2,799.3 150.5,817.7 150.8,818.0 151.0,803.9 151.2,803.4 151.5,815.6 151.8,823.1 152.0,830.9 152.2,808.6 152.5,816.3 152.8,790.6 153.0,799.9 153.2,746.5 153.5,778.1 153.8,754.9 154.0,779.2 154.2,797.3 154.5,798.4 154.8,796.1 155.0,805.0 155.2,785.2 155.5,756.4 155.8,732.4 156.0,741.4 156.2,773.9 156.5,720.2 156.8,764.6 157.0,750.8 157.2,728.6 157.5,730.6 157.8,742.5 158.0,757.0 158.2,732.2 158.5,719.6 158.8,726.1 159.0,732.5 159.2,740.5 159.5,703.6 159.8,717.6 160.0,675.8 160.2,682.4 160.5,677.4 160.8,700.7 161.0,680.1 161.2,670.7 161.5,696.8 161.8,665.1 162.0,695.6 162.2,693.1 162.5,698.9 162.8,688.7 163.0,668.6 163.2,677.0 163.5,691.8 163.8,673.9 164.0,667.7 164.2,673.1 164.5,682.4 164.8,684.4 165.0,671.0 165.2,675.5 165.5,683.3 165.8,679.2 166.0,658.4 166.2,680.9 166.5,669.9 166.8,660.3 167.0,709.7 167.2,711.1 167.5,682.9 167.8,685.3 168.0,662.3 168.2,680.6 168.5,722.2 168.8,676.9 169.0,703.8 169.2,708.0 169.5,683.6 169.8,714.0 170.0,703.9 170.2,720.1 170.5,724.6 170.8,705.2 171.0,728.4 171.2,733.7 171.5,720.3 171.8,722.2 172.0,713.1 172.2,722.3 172.5,729.4 172.8,718.7 173.0,725.2 173.2,727.3 173.5,725.0 173.8,723.1 174.0,733.5 174.2,729.2 174.5,729.7 174.8,733.7 175.0,736.2 175.2,733.1 175.5,731.2 175.8,737.4 176.0,733.9 176.2,736.4 176.5,737.5 176.8,734.7 177.0,738.3 177.2,742.9 177.5,738.5 177.8,740.4 178.0,741.6 178.2,746.4 178.5,748.5 178.8,742.3 179.0,744.6 179.2,743.0 179.5,743.7 179.8,750.8 180.0,751.3 180.2,748.5 180.5,749.1 180.8,740.2 181.0,759.0 181.2,742.7 181.5,766.8 181.8,755.5 182.0,743.1 182.2,744.0 182.5,775.1 182.8,760.8 183.0,758.5 183.2,774.5 183.5,776.9 183.8,782.0 184.0,770.5 184.2,775.1 184.5,776.7 184.8,782.2 185.0,777.9 185.2,781.8 185.5,777.9 185.8,769.3 186.0,774.6 186.2,775.9 186.5,769.3 186.8,772.8 187.0,783.0 187.2,779.1 187.5,782.8 187.8,782.6 188.0,780.9 188.2,783.7 188.5,776.1 188.8,776.0 189.0,779.0 189.2,776.3 189.5,777.9 189.8,778.8 190.0,779.0 190.2,782.8 190.5,776.2 190.8,777.6 191.0,775.3 191.2,779.3 191.5,783.3 191.8,779.7 192.0,778.5 192.2,785.2 192.5,781.6 192.8,785.2 193.0,783.7 193.2,782.6 193.5,785.8 193.8,787.7 194.0,784.5 194.2,784.7 194.5,791.0 194.8,789.6 195.0,785.0 195.2,783.9 195.5,786.7 195.8,784.8 196.0,791.1 196.2,790.0 196.5,793.1 196.8,790.6 197.0,792.2 197.2,795.0 197.5,791.7 197.8,788.2 198.0,793.6 198.2,797.3 198.5,793.1 198.8,797.4 199.0,793.9 199.2,798.4 199.5,804.1 199.8,805.7 200.0,799.1 200.2,795.8 200.5,803.4 200.8,814.4 201.0,797.1 201.2,819.6 201.5,796.6 201.8,813.5 202.0,808.5 202.2,793.0 202.5,794.5 202.8,808.4 203.0,794.0 203.2,817.1 203.5,807.7 203.8,800.4 204.0,815.7 204.2,817.2 204.5,814.7 204.8,813.7 205.0,815.3 205.2,817.6 205.5,815.1 205.8,817.1 206.0,817.7 206.2,813.7 206.5,820.1 206.8,816.5 207.0,820.2 207.2,820.0 207.5,812.2 207.8,816.4 208.0,819.5 208.2,811.7 208.5,816.9 208.8,814.1 209.0,811.2 209.2,815.5 209.5,815.7 209.8,813.3 210.0,818.2 210.2,813.4 210.5,818.4 210.8,818.5 211.0,816.2 211.2,816.1 211.5,816.3 211.8,815.5 212.0,813.6 212.2,812.7 212.5,814.3 212.8,818.3 213.0,817.4 213.2,820.8 213.5,816.6 213.8,821.8 214.0,821.1 214.2,814.9 214.5,819.3 214.8,820.7 215.0,816.5 215.2,815.5 215.5,821.8 215.8,821.9 216.0,818.0 216.2,819.4 216.5,822.4 216.8,820.2 217.0,818.6 217.2,826.2 217.5,826.2 217.8,819.5 218.0,823.0 218.2,823.2 218.5,826.1 218.8,824.4 219.0,823.0 219.2,826.9 219.5,828.3 219.8,826.1 220.0,821.3 220.2,823.3 220.5,826.2 220.8,826.5 221.0,822.8 221.2,824.9 221.5,825.1 221.8,826.3 222.0,821.5 222.2,824.3 222.5,821.6 222.8,822.9 223.0,824.9 223.2,824.0 223.5,827.0 223.8,821.5 224.0,828.3 224.2,828.3 224.5,822.1 224.8,823.4 225.0,828.1 225.2,822.8 225.5,823.0 225.8,824.6 226.0,825.8 226.2,821.6 226.5,823.2 226.8,823.7 227.0,825.2 227.2,826.4 227.5,821.8 227.8,829.7 228.0,830.4 228.2,825.7 228.5,826.9 228.8,826.7 229.0,830.2 229.2,828.3 229.5,829.8 229.8,828.3 230.0,829.8 230.2,830.5 230.5,830.2 230.8,830.8 231.0,828.1 231.2,832.4 231.5,828.5 231.8,827.1 232.0,827.4 232.2,828.9 232.5,825.2 232.8,832.1 233.0,826.8 233.2,827.8 233.5,825.8 233.8,828.4 234.0,823.1 234.2,824.9 234.5,822.8 234.8,825.1 235.0,830.4 235.2,824.6 235.5,828.0 235.8,825.7 236.0,824.1 236.2,824.9 236.5,823.7 236.8,827.6 237.0,823.7 237.2,826.7 237.5,825.8 237.8,829.4 238.0,825.9 238.2,826.5 238.5,831.0 238.8,823.7 239.0,831.1 239.2,831.6 239.5,828.2 239.8,828.4 240.0,828.9 240.2,830.1 240.5,833.9 240.8,830.2 241.0,833.0 241.2,830.2 241.5,828.7 241.8,832.8 242.0,830.4 242.2,836.5 242.5,830.7 242.8,836.4 243.0,829.1 243.2,830.6 243.5,830.7 243.8,827.7 244.0,831.6 244.2,826.0 244.5,824.4 244.8,829.6 245.0,825.5 245.2,829.0 245.5,822.0 245.8,823.9 246.0,825.5 246.2,825.4 246.5,823.8 246.8,824.2 247.0,832.8 247.2,830.9 247.5,831.8 247.8,831.6 248.0,826.1 248.2,819.4 248.5,826.5 248.8,826.5 249.0,822.7 249.2,821.2 249.5,824.1 249.8,823.2 250.0,818.0 250.2,822.3 250.5,818.1 250.8,816.4 251.0,821.0 251.2,821.2 251.5,817.7 251.8,817.2 252.0,817.1 252.2,816.3 252.5,813.1 252.8,818.3 253.0,820.9 253.2,814.5 253.5,814.5 253.8,812.7 254.0,817.0 254.2,814.5 254.5,819.2 254.8,813.4 255.0,818.6 255.2,814.5 255.5,818.1 255.8,814.5 256.0,815.8 256.2,810.3 256.5,812.5 256.8,811.1 257.0,811.9 257.2,812.2 257.5,809.9 257.8,810.2 258.0,809.7 258.2,814.4 258.5,807.4 258.8,813.9 259.0,807.9 259.2,808.8 259.5,804.9 259.8,808.6 260.0,806.2 260.2,807.9 260.5,804.1 260.8,807.1 261.0,806.3 261.2,805.0 261.5,807.2 261.8,804.5 262.0,806.8 262.2,810.6 262.5,806.9 262.8,808.6 263.0,805.7 263.2,807.3 263.5,804.5 263.8,804.1 264.0,801.8 264.2,802.7 264.5,803.4 264.8,806.1 265.0,805.4 265.2,801.2 265.5,807.0 265.8,802.5 266.0,807.8 266.2,805.9 266.5,805.8 266.8,805.4 267.0,804.8 267.2,809.2 267.5,806.4 267.8,802.5 268.0,801.3 268.2,809.7 268.5,806.6 268.8,806.8 269.0,802.0 269.2,808.0 269.5,805.7 269.8,803.3 270.0,802.9 270.2,804.8 270.5,805.4 270.8,807.6 271.0,805.0 271.2,809.2 271.5,808.7 271.8,803.0 272.0,810.5 272.2,806.1 272.5,804.7 272.8,805.8 273.0,807.1 273.2,805.6 273.5,808.4 273.8,804.4 274.0,808.1 274.2,802.4 274.5,808.6 274.8,810.2 275.0,809.3 275.2,808.3 275.5,804.4 275.8,806.5 276.0,801.5 276.2,803.4 276.5,807.1 276.8,801.3 277.0,801.7 277.2,801.5 277.5,801.8 277.8,802.4 278.0,802.3 278.2,800.2 278.5,800.4 278.8,800.1 279.0,798.9 279.2,799.7 279.5,798.4 279.8,802.5 280.0,801.9 280.2,804.6 280.5,802.6 280.8,803.0 281.0,799.8 281.2,806.3 281.5,802.1 281.8,802.3 282.0,808.2 282.2,802.3 282.5,802.3 282.8,807.2 283.0,807.8 283.2,810.6 283.5,811.3 283.8,807.4 284.0,803.6 284.2,810.1 284.5,805.8 284.8,812.9 285.0,809.6 285.2,809.7 285.5,810.9 285.8,817.5 286.0,810.4 286.2,807.1 286.5,812.9 286.8,811.5 287.0,816.0 287.2,809.1 287.5,814.0 287.8,818.8 288.0,814.3 288.2,815.8 288.5,814.1 288.8,817.5 289.0,818.1 289.2,822.0 289.5,819.5 289.8,819.3 290.0,817.4 290.2,820.2 290.5,818.3 290.8,818.8 291.0,823.3 291.2,824.7 291.5,826.5 291.8,822.5 292.0,828.0 292.2,824.0 292.5,825.7 292.8,823.5 293.0,828.9 293.2,822.1 293.5,826.0 293.8,823.1 294.0,823.4 294.2,826.2 294.5,825.0 294.8,825.2 295.0,826.4 295.2,827.4 295.5,827.8 295.8,831.8 296.0,824.7 296.2,829.5 296.5,826.2 296.8,830.9 297.0,826.0 297.2,830.0 297.5,828.1 297.8,829.7 298.0,831.1 298.2,832.9 298.5,830.8 298.8,830.5 299.0,826.0 299.2,824.9 299.5,828.3 299.8,833.1 300.0,831.8 300.2,832.0 300.5,829.6 300.8,825.8 301.0,830.4 301.2,831.5 301.5,832.7 301.8,829.2 302.0,832.6 302.2,828.0 302.5,825.9 302.8,831.3 303.0,830.0 303.2,827.5 303.5,831.9 303.8,826.3 304.0,826.4 304.2,825.1 304.5,828.5 304.8,831.1 305.0,830.4 305.2,829.3 305.5,829.4 305.8,826.1 306.0,826.4 306.2,830.2 306.5,832.9 306.8,832.0 307.0,832.8 307.2,832.0 307.5,831.9 307.8,832.1 308.0,830.8 308.2,833.0 308.5,834.9 308.8,831.1 309.0,832.0 309.2,833.0 309.5,830.9 309.8,831.8 310.0,831.9 310.2,830.3 310.5,830.4 310.8,833.5 311.0,835.2 311.2,831.4 311.5,832.9 311.8,832.1 312.0,830.2 312.2,833.8 312.5,833.3 312.8,834.0 313.0,830.7 313.2,833.4 313.5,834.8 313.8,828.9 314.0,835.4 314.2,834.1 314.5,828.8 314.8,830.9 315.0,830.2 315.2,831.7 315.5,832.9 315.8,829.9 316.0,833.9 316.2,833.6 316.5,836.2 316.8,836.2 317.0,833.1 317.2,831.0 317.5,830.9 317.8,834.0 318.0,834.2 318.2,833.5 318.5,835.2 318.8,834.6 319.0,832.6 319.2,837.9 319.5,834.9 319.8,835.5 320.0,835.1 320.2,837.5 320.5,835.6 320.8,836.6 321.0,836.4 321.2,839.1 321.5,832.7 321.8,834.1 322.0,833.5 322.2,833.9 322.5,840.1 322.8,842.8 323.0,843.8 323.2,840.9 323.5,840.3 323.8,835.9 324.0,838.7 324.2,842.7 324.5,838.6 324.8,843.5 325.0,846.4 325.2,843.6 325.5,847.3 325.8,844.2 326.0,846.5 326.2,849.0 326.5,851.3 326.8,849.1 327.0,845.5 327.2,846.7 327.5,850.6 327.8,854.2 328.0,851.0 328.2,848.7 328.5,850.7 328.8,848.6 329.0,851.2 329.2,853.0 329.5,848.1 329.8,859.5 330.0,859.8 330.2,851.0 330.5,850.2 330.8,857.9 331.0,857.7 331.2,857.2 331.5,856.5 331.8,856.2 332.0,853.4 332.2,860.7 332.5,860.3 332.8,856.6 333.0,863.0 333.2,866.2 333.5,869.3 333.8,866.4 334.0,867.9 334.2,863.2 334.5,871.9 334.8,864.0 335.0,864.0 335.2,871.3 335.5,866.0 335.8,864.6 336.0,868.4 336.2,875.5 336.5,867.3 336.8,873.6 337.0,868.1 337.2,873.4 337.5,870.2 337.8,870.8 338.0,877.4 338.2,873.8 338.5,871.2 338.8,873.6 339.0,874.4 339.2,872.4 339.5,872.7 339.8,878.4 340.0,877.5 340.2,875.0 340.5,878.8 340.8,878.0 341.0,876.0 341.2,876.4 341.5,880.8 341.8,881.3 342.0,883.1 342.2,882.5 342.5,879.2 342.8,881.1 343.0,883.0 343.2,881.3 343.5,880.6 343.8,880.8 344.0,879.9 344.2,884.8 344.5,879.5 344.8,885.3 345.0,880.1 345.2,884.8 345.5,881.8 345.8,887.5 346.0,883.6 346.2,883.4 346.5,888.1 346.8,883.8 347.0,884.5 347.2,886.2 347.5,883.7 347.8,888.1 348.0,888.4 348.2,884.7 348.5,891.3 348.8,886.7 349.0,888.1 349.2,889.9 349.5,889.7 349.8,891.1 350.0,889.9 350.2,894.2 350.5,892.1 350.8,889.8 351.0,893.4 351.2,895.5 351.5,891.9 351.8,892.5 352.0,894.6 352.2,896.0 352.5,895.7 352.8,895.3 353.0,895.6 353.2,895.2 353.5,898.2 353.8,896.6 354.0,894.7 354.2,895.6 354.5,897.1 354.8,894.9 355.0,896.4 355.2,899.2 355.5,895.5 355.8,900.1 356.0,898.4 356.2,896.5 356.5,900.7 356.8,896.2 357.0,898.6 357.2,900.8 357.5,901.1 357.8,895.9 358.0,898.4 358.2,901.0 358.5,899.5 358.8,899.7 359.0,895.6 359.2,897.7 359.5,896.7 359.8,896.0 360.0,894.8 360.2,894.7 360.5,896.4 360.8,894.5 361.0,894.4 361.2,896.4 361.5,893.5 361.8,894.4 362.0,893.8 362.2,896.3 362.5,894.8 362.8,896.6 363.0,895.8 363.2,896.1 363.5,893.7 363.8,892.8 364.0,891.6 364.2,896.8 364.5,893.9 364.8,894.6 365.0,894.2 365.2,894.5 365.5,890.4 365.8,893.1 366.0,892.1 366.2,890.9 366.5,892.9 366.8,891.4 367.0,890.3 367.2,889.7 367.5,887.9 367.8,891.8 368.0,890.6 368.2,890.5 368.5,889.2 368.8,889.6 369.0,888.7 369.2,886.5 369.5,887.9 369.8,887.5 370.0,888.0 370.2,887.4 370.5,887.0 370.8,889.0 371.0,887.5 371.2,884.8 371.5,886.9 371.8,886.9 372.0,883.8 372.2,886.8 372.5,887.9 372.8,883.4 373.0,884.7 373.2,885.1 373.5,884.6 373.8,882.6 374.0,885.4 374.2,885.0 374.5,886.5 374.8,882.6 375.0,886.5 375.2,885.3 375.5,882.9 375.8,886.0 376.0,885.8 376.2,886.6 376.5,886.3 376.8,886.2 377.0,886.3 377.2,885.8 377.5,884.7 377.8,886.1 378.0,888.1 378.2,886.6 378.5,889.9 378.8,890.1 379.0,890.1 379.2,887.5 379.5,888.9 379.8,887.8 380.0,887.0 380.2,888.2 380.5,889.7 380.8,889.0 381.0,888.0 381.2,888.3 381.5,887.4 381.8,890.3 382.0,892.4 382.2,887.7 382.5,890.7 382.8,888.9 383.0,892.1 383.2,888.6 383.5,890.9 383.8,893.9 384.0,889.6 384.2,892.6 384.5,891.3 384.8,890.8 385.0,894.3 385.2,892.4 385.5,893.6 385.8,894.6 386.0,894.6 386.2,895.3 386.5,897.0 386.8,896.2 387.0,897.9 387.2,896.9 387.5,893.7 387.8,897.0 388.0,899.5 388.2,901.5 388.5,900.3 388.8,898.8 389.0,898.9 389.2,900.1 389.5,898.9 389.8,900.3 390.0,901.7 390.2,903.4 390.5,901.4 390.8,906.2 391.0,907.4 391.2,906.5 391.5,905.6 391.8,904.2 392.0,906.6 392.2,906.1 392.5,908.9 392.8,906.9 393.0,907.0 393.2,906.9 393.5,908.8 393.8,909.9 394.0,910.1 394.2,905.5 394.5,907.9 394.8,909.6 395.0,907.1 395.2,906.9 395.5,906.7 395.8,908.7 396.0,904.8 396.2,904.5 396.5,905.8 396.8,906.3 397.0,901.1 397.2,904.2 397.5,898.1 397.8,898.3 398.0,898.9 398.2,898.5 398.5,898.8 398.8,898.4 399.0,895.2 399.2,895.9 399.5,894.7 399.8,894.8 400.0,894.1 400.2,892.7 400.5,891.6 400.8,894.6 401.0,892.6 401.2,889.5 401.5,893.8 401.8,893.5 402.0,887.5 402.2,885.2 402.5,889.4 402.8,885.8 403.0,890.0 403.2,887.7 403.5,882.7 403.8,885.1 404.0,880.8 404.2,879.2 404.5,878.7 404.8,880.0 405.0,882.3 405.2,879.9 405.5,877.4 405.8,875.5 406.0,880.6 406.2,876.8 406.5,874.5 406.8,873.0 407.0,874.1 407.2,874.0 407.5,874.3 407.8,873.4 408.0,869.3 408.2,872.9 408.5,873.3 408.8,870.0 409.0,870.1 409.2,866.5 409.5,870.2 409.8,864.3 410.0,865.1 410.2,867.4 410.5,862.3 410.8,861.4 411.0,862.6 411.2,860.3 411.5,860.4 411.8,863.2 412.0,859.9 412.2,858.8 412.5,860.8 412.8,859.4 413.0,857.9 413.2,855.9 413.5,855.6 413.8,857.0 414.0,854.8 414.2,852.9 414.5,853.5 414.8,853.3 415.0,853.3 415.2,851.6 415.5,850.2 415.8,848.9 416.0,847.7 416.2,850.4 416.5,848.3 416.8,847.6 417.0,846.5 417.2,846.6 417.5,845.6 417.8,845.1 418.0,843.4 418.2,844.3 418.5,842.3 418.8,841.1 419.0,841.0 419.2,840.8 419.5,839.3 419.8,838.3 420.0,839.0 420.2,837.3 420.5,836.4 420.8,836.7 421.0,836.0 421.2,835.7 421.5,834.9 421.8,832.0 422.0,832.8 422.2,832.1 422.5,830.7 422.8,830.5 423.0,828.0 423.2,827.4 423.5,826.4 423.8,827.7 424.0,825.6 424.2,819.6 424.5,824.1 424.8,817.1 425.0,817.8 425.2,816.7 425.5,817.2 425.8,815.4 426.0,811.0 426.2,813.2 426.5,813.1 426.8,808.3 427.0,809.2 427.2,807.0 427.5,807.5 427.8,804.5 428.0,803.9 428.2,801.9 428.5,802.4 428.8,799.7 429.0,800.2 429.2,798.3 429.5,797.6 429.8,796.6 430.2,793.4 430.8,793.2 431.2,790.0 431.8,789.2 432.2,787.2 432.8,785.9 433.2,783.3 433.8,780.7 434.2,779.5 434.8,776.7 435.2,776.1 435.8,773.4 436.2,773.0 436.8,771.2 437.2,770.5 437.8,769.3 438.2,767.5 438.8,767.0 439.2,765.3 439.8,765.2 440.2,762.9 440.8,762.5 441.2,760.9 441.8,759.6 442.2,757.8 442.8,757.0 443.2,755.2 443.8,754.3 444.2,752.7 444.8,751.7 445.2,750.5 445.8,748.9 446.2,747.5 446.8,747.2 447.2,746.5 447.8,744.9 448.2,744.0 448.8,742.6 449.2,742.3 449.8,740.7 450.2,739.6 450.8,739.4 451.2,738.2 451.8,738.1 452.2,737.6 452.8,737.8 453.2,738.1 453.8,738.9 454.2,740.1 454.8,741.6 455.2,743.6 455.8,746.1 456.2,747.9 456.8,750.0 457.2,752.0 457.8,753.7 458.2,755.6 458.8,757.6 459.2,760.1 459.8,761.5 460.2,763.5 460.8,765.4 461.2,766.6 461.8,766.9 462.2,767.4 462.8,767.0 463.2,766.6 463.8,766.1 464.2,766.2 464.8,765.4 465.2,765.0 465.8,764.9 466.2,764.2 466.8,764.0 467.2,763.6 467.8,763.3 468.2,762.8 468.8,762.2 469.2,761.8 469.8,761.1 470.2,760.8 470.8,760.4 471.2,759.9 471.8,759.7 472.2,759.5 472.8,759.6 473.2,759.6 473.8,759.9 474.2,760.4 474.8,761.0 475.2,761.5 475.8,762.2 476.2,762.5 476.8,763.2 477.2,763.5 477.8,763.8 478.2,763.8 478.8,763.7 479.2,763.3 479.8,763.2 480.2,762.9 480.8,762.7 481.2,762.5 481.8,762.1 482.2,762.1 482.8,761.9 483.2,762.0 483.8,762.3 484.2,762.8 484.8,763.5 485.2,764.3 486.2,766.4 487.2,768.8 488.2,771.4 489.2,775.2 490.2,780.2 491.2,785.8 492.2,791.5 493.2,797.6 494.2,804.4 495.2,811.6 496.2,818.7 497.2,825.8 498.2,832.9 499.2,840.6 500.2,849.3 501.2,859.4 502.2,870.1 503.2,880.4 504.2,889.9 505.2,899.4 506.2,909.8 507.2,924.8 508.2,940.9 509.2,944.8 510.2,941.5 511.2,935.9 512.2,929.8 513.2,925.1 514.2,923.7 515.2,930.3 516.2,942.6 517.2,954.8 518.2,963.4 519.2,971.2 520.2,978.4 521.2,985.1 522.2,990.1 523.2,995.7 524.2,1004.9 525.2,1040.8 526.2,1058.6 527.2,1040.2 528.2,1013.2 529.2,996.5 530.2,988.4 531.2,982.0 532.2,975.1 533.2,966.2 534.2,956.3 535.2,946.0 536.2,936.0 537.2,926.4 538.2,915.8 539.2,903.3 540.2,889.0 541.2,871.5 542.2,849.6 543.2,829.0 544.2,809.8 545.2,793.8 546.2,778.6 547.2,760.9 548.2,740.8 549.2,715.0 550.2,694.3 551.2,682.6 552.2,673.6 553.2,664.8 554.2,655.5 555.2,646.7 556.2,637.8 557.2,628.2 558.2,618.0 559.2,607.4 560.2,596.7 561.2,586.6 562.2,576.4 563.2,564.3 564.2,547.9 565.2,530.3 566.2,513.0 567.2,504.2 568.2,496.8 569.2,488.5 570.2,480.7 571.2,474.5 572.2,469.5 573.2,465.0 574.2,461.0 575.2,457.2 576.2,453.5 577.2,449.5 578.2,445.2 579.2,441.2 580.2,438.0 581.2,436.0 582.2,435.7 583.2,437.4 584.2,440.4 585.2,444.2 586.2,448.0 587.2,452.5 588.2,458.0 589.2,463.8 590.2,469.4 591.2,475.3 592.2,481.4 593.2,487.4 594.2,493.1 595.2,498.2 596.2,503.7 597.2,509.2 598.2,514.2 599.2,517.9 600.2,519.6 601.2,518.7 602.2,515.6 603.2,511.0 604.2,505.8 605.2,500.5 606.2,495.9 607.2,491.6 608.2,487.1 609.2,482.5 610.2,478.0 611.2,473.4 612.2,468.9 613.2,464.3 614.2,459.8 615.2,455.2 616.2,450.7 617.2,446.3 618.2,441.9 619.2,437.4 620.2,432.8 621.2,428.4 622.2,424.5 623.2,421.2 624.2,418.1 625.2,415.2 626.2,413.0 627.2,412.1 628.2,412.9 629.2,415.2 630.2,418.6 631.2,422.6 632.2,426.8 633.2,430.8 634.2,434.8 635.2,439.2 636.2,443.9 637.2,449.0 638.2,454.4 639.2,460.3 640.2,466.9 641.2,473.6 642.2,480.3 643.2,487.2 644.2,493.8 645.2,499.6 646.2,504.9 647.2,509.9 648.2,514.5 649.2,519.0 650.2,523.4 651.2,527.7 652.2,532.1 653.2,536.6 654.2,541.3 655.2,546.3 656.2,551.5 657.2,556.9 658.2,562.4 659.2,568.0 660.2,573.7 661.2,579.4 662.2,585.0 663.2,590.6 664.2,596.0 665.2,601.3 666.2,606.5 667.2,611.6 668.2,616.7 669.2,621.7 670.2,626.7 671.2,631.7 672.2,636.6 673.2,641.5 674.2,646.3 675.2,651.2 676.2,656.0 677.2,660.6 678.2,665.1 679.2,669.6 680.2,674.1 681.2,678.6 682.2,683.2 683.2,687.9 684.2,692.7 685.2,697.6 686.2,702.8 687.2,708.3 688.2,714.2 689.2,720.7 690.2,727.3 691.2,733.9 692.2,740.4 693.2,746.3 694.2,752.0 695.2,758.0 696.2,762.9 697.2,765.5 698.2,767.2 699.2,768.3 700.2,768.8 701.2,768.2 702.2,766.5 703.2,763.9 704.2,760.8 705.2,757.5 706.2,754.1 707.2,750.0 708.2,745.0 709.2,739.6 710.2,734.0 711.2,728.6 712.2,723.9 713.2,719.3 714.2,714.8 715.2,710.4 716.2,706.3 717.2,702.5 718.2,699.2 719.2,695.8 720.2,692.4 721.2,689.4 722.2,687.1 723.2,686.0 724.2,687.1 725.2,691.2 726.2,697.1 727.2,703.8 728.2,713.1 729.2,725.0 730.2,737.6 731.2,750.3 732.2,764.0 733.2,777.7 734.2,791.8 735.2,805.0 736.2,815.7 737.2,824.7 738.2,833.7 739.2,844.4 740.2,857.9 741.2,871.9 742.2,884.6 743.2,897.1 744.2,907.8 745.2,916.7 746.2,925.1 747.2,929.8 748.2,927.9 749.2,920.8 750.2,913.1 751.2,903.4 752.2,894.0 753.2,889.4 754.2,887.8 755.2,886.8 756.2,885.7 757.2,883.8 758.2,878.7 759.2,870.1 760.2,859.3 761.2,847.7 762.2,834.5 763.2,819.0 764.2,805.8 765.2,794.4 766.2,784.1 767.2,774.7 768.2,766.0 769.2,757.5 770.2,749.4 771.2,741.9 772.2,735.1 773.2,729.2 774.2,724.4 775.2,720.1 776.2,716.2 777.2,712.7 778.2,709.6 779.2,706.9 780.2,704.7 781.2,702.9 782.2,701.3 783.2,699.9 784.2,698.7 785.2,697.6 786.2,696.6 787.2,695.6 788.2,694.7 789.2,693.8 790.2,692.9 791.2,692.1 792.2,691.4 793.2,690.8 794.2,690.4 795.2,690.0 796.2,689.6 797.2,689.3 798.2,689.0 799.2,688.8 800.2,688.7 801.2,688.7 802.2,689.0 803.2,689.3 804.2,689.9 805.2,690.5 806.2,691.2 807.2,691.8 808.2,692.7 809.2,693.9 810.2,695.2 811.2,696.4 812.2,697.0 813.2,696.8 814.2,695.7 815.2,694.1 816.2,692.0 817.2,689.6 818.2,686.4 819.2,681.3 820.2,675.5 821.2,670.3 822.2,665.5 823.2,660.5 824.2,655.2 825.2,649.1 826.2,642.6 827.2,636.2 828.2,630.0 829.2,623.7 830.2,616.9 831.2,609.2 832.2,600.4 833.2,591.2 834.2,582.0 835.2,573.4 836.2,564.9 837.2,556.2 838.2,546.7 839.2,536.2 840.2,524.9 841.2,512.3 842.2,498.4 843.2,481.9 844.2,457.5 845.2,440.8 846.2,426.8 847.2,411.4 848.2,398.7 849.2,388.7 850.2,379.2 851.2,369.2 852.2,359.1 853.2,349.1 854.2,338.9 855.2,328.9 856.2,319.0 857.2,309.2 858.2,300.1 859.2,292.0 860.2,283.5 861.2,273.2 862.2,262.6 863.2,254.2 864.2,246.7 865.2,239.8 866.2,233.5 867.2,227.8 868.2,222.6 869.2,217.9 870.2,213.6 871.2,209.5 872.2,205.6 873.2,201.7 874.2,197.7 875.2,193.7 876.2,189.9 877.2,186.1 878.2,182.6 879.2,179.4 880.2,176.4 881.2,173.7 882.2,171.1 883.2,168.6 884.2,166.3 885.2,164.0 886.2,161.8 887.2,159.6 888.2,157.5 889.2,155.5 890.2,153.5 891.2,151.6 892.2,149.7 893.2,147.9 894.2,146.0 895.2,144.2 896.2,142.4 897.2,140.6 898.2,138.9 899.2,137.3 900.2,135.7 901.2,134.2 902.2,132.7 903.2,131.3 904.2,129.9 905.2,128.5 906.2,127.2 907.2,126.0 908.2,124.8 909.2,123.6 910.2,122.5 911.2,121.5 912.2,120.4 913.2,119.4 914.2,118.5 915.2,117.6 916.2,116.8 917.2,116.1 918.2,115.4 919.2,114.7 920.2,114.0 921.2,113.4 922.2,112.9 923.2,112.3 924.2,111.9 925.2,111.5 926.2,111.1 927.2,110.7 928.2,110.4 929.2,110.1 930.2,109.8 931.2,109.5 932.2,109.3 933.2,109.2 934.2,109.0 935.2,108.9 936.2,108.8 937.2,108.7 938.2,108.6 939.2,108.5 940.2,108.4 941.2,108.4 942.2,108.4 943.2,108.6 944.2,108.9 945.2,109.3 946.2,109.7 947.2,110.2 948.2,110.8 949.2,111.3 950.2,111.9 951.2,112.6 952.2,113.3 953.2,114.2 954.2,115.2 955.2,116.3 956.2,117.5 957.2,118.7 958.2,120.0 959.2,121.5 960.2,123.2 961.2,125.2 962.2,127.3 963.2,129.6 964.2,132.0 965.2,134.7 966.2,137.7 967.2,141.0 968.2,144.7 969.2,148.9 970.2,153.7 971.2,159.3 972.2,165.8 973.2,173.5 974.2,183.3 975.2,197.7 976.2,215.5 977.2,235.7 978.2,254.2 979.2,274.9 980.2,321.7 981.2,356.1 982.2,417.3 983.2,472.0 984.2,525.3 985.2,579.1 986.2,666.5 987.2,728.4 988.2,757.2 989.2,773.9 990.2,784.0 991.2,785.4 992.2,777.7 993.2,762.8 994.2,740.3 995.2,685.7 996.2,639.6 997.2,593.0 998.2,538.6 999.2,454.4 1000.2,407.7 1001.2,372.2 1002.2,326.7 1003.2,298.4 1004.2,276.0 1005.2,246.3 1006.2,207.1 1007.2,188.0 1008.2,172.6 1009.2,161.0 1010.2,152.7 1011.2,145.8 1012.2,140.0 1013.2,135.4 1014.2,131.6 1015.2,128.4 1016.2,125.6 1017.2,123.1 1018.2,121.0 1019.2,119.1 1020.2,117.3 1021.2,115.6 1022.2,114.1 1023.2,112.7 1024.2,111.4 1025.2,110.3 1026.2,109.2 1027.2,108.3 1028.2,107.4 1029.2,106.6 1030.2,105.8 1031.2,105.0 1032.2,104.4 1033.2,103.7 1034.2,103.1 1035.2,102.5 1036.2,101.9 1037.2,101.3 1038.2,100.7 1039.2,100.2 1040.2,99.7 1041.2,99.3 1042.2,98.8 1043.2,98.5 1044.2,98.2 1045.2,97.9 1046.2,97.7 1047.2,97.5 1048.2,97.2 1049.2,97.0 1050.2,96.9 1051.2,96.7 1052.2,96.5 1053.2,96.4 1054.2,96.3 1055.2,96.2 1056.2,96.1 1057.2,96.0 1058.2,95.9 1059.2,95.8 1060.2,95.7 1061.2,95.7 1062.2,95.6 1063.2,95.5 1064.2,95.4 1065.2,95.2 1066.2,95.1 1067.2,94.9 1068.2,94.6 1069.2,94.4 1070.2,94.2 1071.2,94.0 1072.2,93.9 1073.2,93.8 1074.2,93.8 1075.2,93.8 1076.2,93.9 1077.2,94.0 1078.2,94.2 1079.2,94.3 1080.2,94.5 1081.2,94.6 1082.2,94.8 1083.2,94.9 1084.2,95.0 1085.2,95.1 1086.2,95.1 1087.2,95.2 1088.2,95.2 1089.2,95.2 1090.2,95.3 1091.2,95.3 1092.2,95.4 1093.2,95.4 1094.2,95.5 1095.2,95.6 1096.2,95.8 1097.2,96.0 1098.2,96.2 1099.2,96.5 1100.2,96.7 1101.2,97.0 1102.2,97.3 1103.2,97.6 1104.2,97.9 1105.2,98.1 1106.2,98.4 1107.2,98.7 1108.2,99.0 1109.2,99.4 1110.2,99.8 1111.2,100.2 1112.2,100.7 1113.2,101.2 1114.2,101.9 1115.2,102.8 1116.2,103.9 1117.2,105.2 1118.2,106.6 1119.2,108.1 1120.2,109.6 1121.2,111.3 1122.2,113.3 1123.2,115.5 1124.2,117.9 1125.2,120.4 1126.2,122.8 1127.2,125.5 1128.2,128.5 1129.2,131.4 1130.2,133.9 1131.2,135.7 1132.2,137.2 1133.2,138.5 1134.2,139.6 1135.2,140.6 1136.2,141.7 1137.2,142.8 1138.2,144.0 1139.2,145.5 1140.2,147.2 1141.2,149.0 1142.2,150.6 1143.2,151.8 1144.2,152.5 1145.2,152.3 1146.2,150.6 1147.2,147.7 1148.2,144.3 1149.2,139.5 1150.2,132.7 1151.2,126.8 1152.2,122.8 1153.2,119.5 1154.2,116.6 1155.2,114.1 1156.2,112.0 1157.2,109.9 1158.2,107.8 1159.2,106.1 1160.2,104.8 1161.2,104.2 1162.2,104.1 1163.2,104.1 1164.2,104.1 1165.2,104.1 1166.2,104.1 1167.2,104.1 1168.2,104.2 1169.2,104.7 1170.2,105.5 1171.2,106.4 1172.2,107.4 1173.2,108.4 1174.2,109.4 1175.2,110.7 1176.2,112.0 1177.2,112.8 1178.2,112.8 1179.2,111.9 1180.2,110.4 1181.2,108.6 1182.2,106.9 1183.2,105.2 1184.2,103.1 1185.2,101.0 1186.2,99.0 1187.2,97.5 1188.2,96.7 1189.2,96.3 1190.2,95.9 1191.2,95.5 1192.2,95.3 1192.8,95.2 1193.2,95.1 1193.8,94.8 1194.2,94.8 1194.8,94.7 1195.2,94.7 1195.8,94.6 1196.2,94.6 1196.8,94.5 1197.2,94.4 1197.8,94.2 1198.2,94.5 1198.8,94.3 1199.2,94.2 1199.8,94.5 1200.2,94.5 1200.8,94.2 1201.2,94.0 1201.8,94.0 1202.2,94.6 1202.8,94.0 1203.2,94.2 1203.8,93.8 1204.2,94.5 1204.8,94.5 1205.2,93.7 1205.8,94.1 1206.2,94.1 1206.8,94.0 1207.2,94.0 1207.8,94.3 1208.2,93.3 1208.8,94.0 1209.2,93.6 1209.8,93.1 1210.2,93.4 1210.8,94.0 1211.2,92.8 1211.8,93.3 1212.2,93.0 1212.8,93.4 1213.2,92.7 1213.8,92.8 1214.2,92.2 1214.8,92.6 1215.2,91.8 1215.8,92.6 1216.2,92.2 1216.8,92.1 1217.2,92.2 1217.8,93.0 1218.2,92.1 1218.8,91.8 1219.2,92.0 1219.8,92.8 1220.2,91.4 1220.8,91.2 1221.2,91.0 1221.8,92.0 1222.2,91.6 1222.8,90.6 1223.0,91.2 1223.2,91.1 1223.5,91.9 1223.8,91.4 1224.0,91.5 1224.2,91.9 1224.5,92.4 1224.8,91.6 1225.0,92.3 1225.2,90.7 1225.5,92.3 1225.8,91.2 1226.0,91.2 1226.2,91.5 1226.5,90.9 1226.8,90.6 1227.0,91.9 1227.2,90.9 1227.5,90.0 1227.8,90.1 1228.0,91.9 1228.2,90.4 1228.5,90.1 1228.8,89.9 1229.0,90.8 1229.2,90.8 1229.5,90.0 1229.8,89.8 1230.0,91.1 1230.2,90.1 1230.5,89.4 1230.8,90.7 1231.0,89.7 1231.2,89.9 1231.5,91.1 1231.8,91.1 1232.0,90.4 1232.2,90.1 1232.5,90.9 1232.8,90.1 1233.0,90.8 1233.2,90.9 1233.5,91.2 1233.8,91.3 1234.0,90.6 1234.2,89.0 1234.5,89.8 1234.8,90.6 1235.0,90.7 1235.2,91.5 1235.5,89.2 1235.8,90.6 1236.0,90.3 1236.2,90.2 1236.5,88.9 1236.8,89.7 1237.0,89.4 1237.2,89.2 1237.5,89.3 1237.8,90.0 1238.0,89.9 1238.2,90.5 1238.5,91.0 1238.8,90.1 1239.0,89.7 1239.2,89.1 1239.5,91.2 1239.8,89.5 1240.0,90.4 1240.2,89.0 1240.5,90.2 1240.8,89.4 1241.0,90.1 1241.2,90.1 1241.5,91.0 1241.8,90.0 1242.0,89.0 1242.2,90.4 1242.5,89.3 1242.8,90.0 1243.0,89.8 1243.2,90.2 1243.5,89.5 1243.8,89.0 1244.0,90.3 1244.2,89.6 1244.5,90.6 1244.8,90.9 1245.0,88.4 1245.2,88.8 1245.5,90.9 1245.8,90.2 1246.0,89.6 1246.2,89.9 1246.5,88.6 1246.8,89.0 1247.0,88.7 1247.2,89.6 1247.5,89.6 1247.8,90.2 1248.0,88.3 1248.2,90.8 1248.5,89.1 1248.8,90.6 1249.0,89.9 1249.2,90.1 1249.5,89.8 1249.8,89.0 1250.0,89.4 1250.2,90.8 1250.5,90.6 1250.8,90.0 1251.0,89.7 1251.2,90.0 1251.5,89.3 1251.8,90.8 1252.0,90.4 1252.2,89.5 1252.5,89.4 1252.8,89.4 1253.0,90.5 1253.2,88.5 1253.5,89.9 1253.8,89.5 1254.0,90.0 1254.2,89.7 1254.5,89.4 1254.8,90.8 1255.0,89.6 1255.2,89.9 1255.5,88.9 1255.8,90.0 1256.0,89.2 1256.2,89.6 1256.5,90.7 1256.8,90.2 1257.0,90.8 1257.2,89.2 1257.5,90.1 1257.8,90.5 1258.0,90.4 1258.2,89.6 1258.5,88.7 1258.8,89.3 1259.0,89.3 1259.2,89.7 1259.5,89.5 1259.8,90.7 1260.0,89.8 1260.2,91.2 1260.5,90.4 1260.8,91.2 1261.0,88.8 1261.2,89.1 1261.5,90.4 1261.8,89.2 1262.0,91.3 1262.2,90.5 1262.5,90.1 1262.8,90.8 1263.0,89.5 1263.2,89.7 1263.5,91.4 1263.8,89.1 1264.0,89.9 1264.2,90.4 1264.5,91.1 1264.8,89.6 1265.0,90.8 1265.2,89.4 1265.5,90.9 1265.8,89.1 1266.0,91.5 1266.2,88.9 1266.5,90.6 1266.8,90.1 1267.0,90.0 1267.2,89.6 1267.5,89.0 1267.8,89.8 1268.0,90.4 1268.2,91.4 1268.5,88.8 1268.8,90.5 1269.0,89.3 1269.2,89.4 1269.5,89.1 1269.8,91.0 1270.0,90.2 1270.2,90.9 1270.5,89.5 1270.8,90.0 1271.0,90.7 1271.2,90.4 1271.5,89.6 1271.8,89.9 1272.0,90.4 1272.2,89.4 1272.5,91.1 1272.8,89.9 1273.0,88.8 1273.2,89.5 1273.5,89.8 1273.8,90.8 1274.0,89.8 1274.2,90.9 1274.5,91.0 1274.8,89.2 1275.0,89.7 1275.2,90.0 1275.5,90.3 1275.8,88.4 1276.0,90.3 1276.2,89.9 1276.5,90.9 1276.8,88.6 1277.0,90.3 1277.2,90.1 1277.5,90.5 1277.8,89.8 1278.0,90.8 1278.2,88.3 1278.5,89.8 1278.8,89.2 1279.0,89.6 1279.2,90.0 1279.5,89.7 1279.8,90.2 1280.0,88.2 1280.2,90.4 1280.5,89.4 1280.8,88.8 1281.0,88.8 1281.2,90.5 1281.5,88.4 1281.8,88.4 1282.0,90.1 1282.2,88.5 1282.5,90.7 1282.8,90.8 1283.0,89.9 1283.2,89.6 1283.5,90.8 1283.8,90.8 1284.0,89.0 1284.2,90.9 1284.5,89.7 1284.8,88.9 1285.0,90.0 1285.2,88.8 1285.5,90.4 1285.8,88.7 1286.0,89.4 1286.2,89.7 1286.5,89.7 1286.8,90.4 1287.0,89.8 1287.2,89.6 1287.5,89.3 1287.8,89.4 1288.0,88.8 1288.2,90.3 1288.5,90.6 1288.8,89.2 1289.0,89.3 1289.2,90.0 1289.5,89.2 1289.8,89.4 1290.0,89.6 1290.2,90.4 1290.5,90.8 1290.8,89.7 1291.0,90.4 1291.2,89.2 1291.5,90.5 1291.8,89.2 1292.0,89.6 1292.2,90.2 1292.5,89.3 1292.8,88.8 1293.0,90.5 1293.2,89.6 1293.5,89.7 1293.8,88.9 1294.0,88.9 1294.2,90.9 1294.5,89.3 1294.8,89.9 1295.0,90.2 1295.2,90.1 1295.5,90.1 1295.8,90.0 1296.0,90.8 1296.2,89.1 1296.5,89.8 1296.8,90.8 1297.0,91.0 1297.2,89.7 1297.5,90.5 1297.8,90.0 1298.0,91.0 1298.2,90.3 1298.5,90.5 1298.8,90.9 1299.0,90.9 1299.2,91.0 1299.5,91.8 1299.8,91.0 1300.0,91.7 1300.2,90.8 1300.5,89.7 1300.8,91.0 1301.0,91.6 1301.2,92.3 1301.5,91.0 1301.8,91.4 1302.0,90.5 1302.2,91.5 1302.5,90.1 1302.8,92.3 1303.0,92.4 1303.2,91.7 1303.5,91.5 1303.8,92.8 1304.0,90.5 1304.2,92.0 1304.5,91.6 1304.8,90.7 1305.0,93.0 1305.2,92.3 1305.5,92.6 1305.8,90.6 1306.0,93.2 1306.2,91.3 1306.5,93.2 1306.8,91.8 1307.0,92.4 1307.2,91.7 1307.5,92.5 1307.8,91.8 1308.0,92.4 1308.2,93.4 1308.5,92.8 1308.8,93.2 1309.0,91.3 1309.2,92.7 1309.5,92.8 1309.8,93.1 1310.0,92.5 1310.2,91.8 1310.5,91.6 1310.8,92.8 1311.0,91.4 1311.2,93.0 1311.5,93.7 1311.8,92.4 1312.0,93.3 1312.2,93.2 1312.5,93.0 1312.8,92.0 1313.0,94.3 1313.2,93.2 1313.5,92.2 1313.8,93.5 1314.0,93.8 1314.2,92.0 1314.5,92.8 1314.8,92.8 1315.0,94.5 1315.2,92.6 1315.5,94.7 1315.8,92.2 1316.0,93.8 1316.2,93.2 1316.5,92.8 1316.8,93.7 1317.0,94.0 1317.2,92.4 1317.5,92.9 1317.8,94.0 1318.0,94.4 1318.2,94.1 1318.5,94.0 1318.8,92.8 1319.0,93.8 1319.2,94.0 1319.5,94.4 1319.8,94.2 1320.0,93.6 1320.2,93.9 1320.5,95.1 1320.8,94.4 1321.0,93.6 1321.2,95.6 1321.5,93.6 1321.8,95.6 1322.0,94.6 1322.2,95.7 1322.5,94.5 1322.8,94.2 1323.0,94.7 1323.2,94.2 1323.5,94.6 1323.8,94.5 1324.0,95.7 1324.2,94.8 1324.5,95.0 1324.8,95.0 1325.0,95.9 1325.2,94.2 1325.5,95.5 1325.8,94.8 1326.0,95.2 1326.2,95.7 1326.5,94.8 1326.8,93.6 1327.0,95.8 1327.2,94.1 1327.5,96.1 1327.8,95.6 1328.0,94.9 1328.2,94.4 1328.5,95.7 1328.8,93.8 1329.0,94.3 1329.2,95.6 1329.5,94.2 1329.8,95.8 1330.0,94.0 1330.2,95.8 1330.5,95.1 1330.8,96.0 1331.0,94.2 1331.2,96.0 1331.5,96.0 1331.8,94.1 1332.0,96.1 1332.2,95.8 1332.5,96.6 1332.8,96.7"/>
<path class="c" stroke="#FF8000" d="M142.0,834.5 142.2,843.4 142.5,833.5 142.8,840.6 143.0,834.0 143.2,847.4 143.5,842.6 143.8,840.4 144.0,843.2 144.2,836.5 144.5,822.2 144.8,850.1 145.0,829.4 145.2,851.2 145.5,769.4 145.8,768.2 146.0,730.9 146.2,736.2 146.5,747.3 146.8,691.5 147.0,739.5 147.2,748.3 147.5,782.0 147.8,784.2 148.0,739.3 148.2,683.1 148.5,684.2 148.8,784.0 149.0,672.6 149.2,747.2 149.5,704.1 149.8,752.8 150.0,651.3 150.2,719.9 150.5,660.7 150.8,717.1 151.0,666.0 151.2,664.1 151.5,682.3 151.8,665.5 152.0,655.6 152.2,683.2 152.5,645.0 152.8,692.4 153.0,673.7 153.2,658.2 153.5,676.1 153.8,678.5 154.0,666.3 154.2,677.2 154.5,651.7 154.8,659.0 155.0,661.9 155.2,659.2 155.5,644.9 155.8,653.8 156.0,659.1 156.2,663.7 156.5,627.5 156.8,639.3 157.0,595.3 157.2,660.3 157.5,628.7 157.8,673.1 158.0,660.9 158.2,645.4 158.5,614.4 158.8,639.1 159.0,652.7 159.2,615.7 159.5,630.0 159.8,595.8 160.0,625.0 160.2,630.5 160.5,628.8 160.8,620.5 161.0,593.6 161.2,614.4 161.5,612.9 161.8,616.2 162.0,605.0 162.2,637.4 162.5,630.4 162.8,640.9 163.0,610.2 163.2,632.2 163.5,623.2 163.8,633.6 164.0,648.7 164.2,600.3 164.5,649.9 164.8,646.6 165.0,652.5 165.2,638.8 165.5,645.7 165.8,619.5 166.0,605.4 166.2,593.9 166.5,601.8 166.8,653.1 167.0,624.2 167.2,615.4 167.5,638.0 167.8,618.9 168.0,612.7 168.2,587.2 168.5,619.9 168.8,642.3 169.0,601.4 169.2,643.2 169.5,614.4 169.8,639.7 170.0,620.3 170.2,595.9 170.5,584.2 170.8,613.9 171.0,585.8 171.2,601.0 171.5,594.0 171.8,598.8 172.0,601.9 172.2,618.7 172.5,586.5 172.8,620.5 173.0,603.7 173.2,612.7 173.5,638.3 173.8,626.1 174.0,587.8 174.2,624.3 174.5,633.3 174.8,613.1 175.0,618.6 175.2,626.7 175.5,650.8 175.8,647.6 176.0,618.8 176.2,655.9 176.5,636.0 176.8,660.8 177.0,628.6 177.2,669.7 177.5,640.6 177.8,654.9 178.0,636.7 178.2,654.5 178.5,660.0 178.8,659.9 179.0,656.6 179.2,669.3 179.5,661.8 179.8,669.8 180.0,671.7 180.2,668.4 180.5,672.9 180.8,678.0 181.0,671.7 181.2,676.5 181.5,672.0 181.8,674.3 182.0,674.0 182.2,671.0 182.5,670.8 182.8,677.3 183.0,671.8 183.2,671.7 183.5,670.8 183.8,678.1 184.0,672.1 184.2,673.4 184.5,673.6 184.8,675.5 185.0,674.2 185.2,675.6 185.5,675.0 185.8,679.3 186.0,677.3 186.2,677.4 186.5,685.7 186.8,674.1 187.0,680.7 187.2,676.5 187.5,680.0 187.8,687.5 188.0,682.8 188.2,676.7 188.5,684.9 188.8,683.0 189.0,679.4 189.2,690.3 189.5,691.4 189.8,688.6 190.0,691.1 190.2,685.8 190.5,691.0 190.8,694.2 191.0,692.4 191.2,696.0 191.5,694.2 191.8,693.2 192.0,691.0 192.2,693.6 192.5,692.4 192.8,693.0 193.0,698.2 193.2,695.2 193.5,699.6 193.8,699.6 194.0,694.8 194.2,699.7 194.5,699.7 194.8,694.7 195.0,705.7 195.2,708.9 195.5,705.7 195.8,712.1 196.0,706.5 196.2,703.5 196.5,705.7 196.8,713.1 197.0,711.4 197.2,707.4 197.5,716.4 197.8,705.1 198.0,709.0 198.2,706.6 198.5,707.2 198.8,715.8 199.0,715.9 199.2,709.5 199.5,716.6 199.8,714.0 200.0,715.3 200.2,718.5 200.5,714.8 200.8,718.5 201.0,719.5 201.2,720.8 201.5,720.4 201.8,719.9 202.0,721.8 202.2,722.8 202.5,723.4 202.8,719.2 203.0,722.9 203.2,724.1 203.5,723.3 203.8,724.8 204.0,725.3 204.2,725.8 204.5,726.4 204.8,725.5 205.0,726.8 205.2,728.9 205.5,731.0 205.8,731.3 206.0,725.0 206.2,728.3 206.5,728.1 206.8,732.8 207.0,734.1 207.2,733.9 207.5,727.8 207.8,734.4 208.0,733.0 208.2,733.0 208.5,730.0 208.8,735.0 209.0,733.8 209.2,734.9 209.5,734.5 209.8,737.0 210.0,736.9 210.2,733.9 210.5,739.9 210.8,735.9 211.0,740.7 211.2,739.4 211.5,740.1 211.8,738.8 212.0,739.1 212.2,737.5 212.5,742.1 212.8,744.3 213.0,741.0 213.2,740.4 213.5,739.9 213.8,742.5 214.0,737.8 214.2,743.4 214.5,739.0 214.8,739.9 215.0,741.1 215.2,742.0 215.5,746.3 215.8,743.7 216.0,745.1 216.2,740.6 216.5,744.4 216.8,745.4 217.0,741.6 217.2,738.9 217.5,742.6 217.8,741.7 218.0,741.6 218.2,739.5 218.5,745.2 218.8,740.3 219.0,742.1 219.2,745.8 219.5,744.2 219.8,743.7 220.0,746.6 220.2,744.9 220.5,745.9 220.8,745.1 221.0,741.7 221.2,745.0 221.5,747.3 221.8,756.9 222.0,746.4 222.2,752.8 222.5,747.6 222.8,753.5 223.0,747.4 223.2,750.2 223.5,752.6 223.8,755.8 224.0,756.4 224.2,760.1 224.5,753.3 224.8,761.8 225.0,762.2 225.2,758.6 225.5,755.5 225.8,760.5 226.0,761.8 226.2,759.6 226.5,762.1 226.8,760.0 227.0,761.1 227.2,765.4 227.5,763.0 227.8,763.1 228.0,763.9 228.2,763.7 228.5,764.4 228.8,760.2 229.0,760.8 229.2,763.1 229.5,765.1 229.8,766.4 230.0,766.2 230.2,766.1 230.5,765.0 230.8,764.7 231.0,763.7 231.2,769.1 231.5,764.4 231.8,766.2 232.0,768.6 232.2,770.3 232.5,768.5 232.8,768.0 233.0,765.1 233.2,765.7 233.5,767.5 233.8,775.2 234.0,771.9 234.2,770.0 234.5,765.3 234.8,767.2 235.0,771.0 235.2,772.6 235.5,773.1 235.8,771.6 236.0,776.6 236.2,776.9 236.5,777.8 236.8,771.7 237.0,773.4 237.2,775.8 237.5,777.6 237.8,777.3 238.0,780.3 238.2,777.8 238.5,774.9 238.8,777.2 239.0,776.7 239.2,774.1 239.5,774.5 239.8,778.0 240.0,778.9 240.2,778.1 240.5,778.7 240.8,776.2 241.0,776.4 241.2,779.3 241.5,781.8 241.8,777.6 242.0,781.4 242.2,783.0 242.5,781.8 242.8,779.0 243.0,775.9 243.2,782.0 243.5,779.4 243.8,782.0 244.0,780.0 244.2,783.0 244.5,778.6 244.8,778.3 245.0,778.8 245.2,773.4 245.5,772.8 245.8,778.8 246.0,774.4 246.2,780.5 246.5,779.3 246.8,771.9 247.0,776.0 247.2,779.6 247.5,772.5 247.8,763.0 248.0,765.8 248.2,772.9 248.5,778.6 248.8,775.2 249.0,763.8 249.2,756.3 249.5,765.7 249.8,762.1 250.0,762.7 250.2,764.9 250.5,756.9 250.8,767.7 251.0,757.8 251.2,757.0 251.5,752.2 251.8,759.1 252.0,758.3 252.2,756.8 252.5,759.9 252.8,755.6 253.0,758.5 253.2,753.4 253.5,757.7 253.8,751.3 254.0,754.2 254.2,751.1 254.5,753.5 254.8,752.6 255.0,756.2 255.2,754.6 255.5,756.0 255.8,752.9 256.0,755.8 256.2,752.6 256.5,749.9 256.8,749.6 257.0,751.3 257.2,751.5 257.5,756.0 257.8,753.7 258.0,753.3 258.2,755.4 258.5,749.8 258.8,750.8 259.0,756.6 259.2,752.3 259.5,755.0 259.8,754.3 260.0,749.5 260.2,751.1 260.5,755.3 260.8,751.0 261.0,751.1 261.2,749.5 261.5,752.1 261.8,751.5 262.0,751.9 262.2,748.8 262.5,753.0 262.8,749.1 263.0,753.0 263.2,747.5 263.5,749.7 263.8,747.1 264.0,749.0 264.2,749.9 264.5,748.5 264.8,745.9 265.0,748.8 265.2,747.3 265.5,752.5 265.8,750.3 266.0,752.8 266.2,754.9 266.5,754.5 266.8,754.9 267.0,753.3 267.2,748.8 267.5,754.5 267.8,756.0 268.0,751.1 268.2,751.3 268.5,755.3 268.8,754.1 269.0,756.5 269.2,757.4 269.5,759.0 269.8,755.6 270.0,754.2 270.2,756.2 270.5,752.8 270.8,756.2 271.0,755.8 271.2,753.8 271.5,751.0 271.8,757.1 272.0,759.2 272.2,754.5 272.5,754.3 272.8,753.6 273.0,754.1 273.2,748.4 273.5,746.7 273.8,754.4 274.0,751.0 274.2,752.0 274.5,745.3 274.8,748.8 275.0,748.1 275.2,751.1 275.5,745.4 275.8,747.2 276.0,746.5 276.2,751.0 276.5,744.3 276.8,746.1 277.0,745.4 277.2,746.8 277.5,749.6 277.8,747.2 278.0,749.6 278.2,750.3 278.5,752.9 278.8,748.6 279.0,747.9 279.2,750.1 279.5,750.3 279.8,750.6 280.0,753.3 280.2,750.9 280.5,752.2 280.8,754.2 281.0,749.1 281.2,752.5 281.5,755.0 281.8,752.8 282.0,755.5 282.2,756.0 282.5,758.7 282.8,756.1 283.0,758.9 283.2,759.7 283.5,752.7 283.8,759.5 284.0,758.0 284.2,761.1 284.5,759.4 284.8,761.2 285.0,756.4 285.2,757.2 285.5,759.0 285.8,762.6 286.0,757.3 286.2,756.1 286.5,760.3 286.8,758.2 287.0,758.7 287.2,763.6 287.5,759.5 287.8,759.5 288.0,762.4 288.2,761.7 288.5,761.6 288.8,760.8 289.0,766.5 289.2,763.7 289.5,766.2 289.8,763.0 290.0,768.6 290.2,766.9 290.5,769.1 290.8,765.7 291.0,763.1 291.2,766.1 291.5,767.7 291.8,773.6 292.0,770.2 292.2,771.7 292.5,775.6 292.8,774.4 293.0,770.9 293.2,770.8 293.5,771.0 293.8,771.4 294.0,777.8 294.2,775.1 294.5,778.7 294.8,774.0 295.0,778.0 295.2,773.2 295.5,773.3 295.8,773.3 296.0,778.2 296.2,774.8 296.5,779.5 296.8,778.4 297.0,779.6 297.2,782.1 297.5,778.1 297.8,777.4 298.0,779.2 298.2,780.0 298.5,780.1 298.8,784.1 299.0,783.5 299.2,782.7 299.5,777.6 299.8,784.9 300.0,782.6 300.2,784.0 300.5,780.3 300.8,782.8 301.0,782.8 301.2,781.4 301.5,781.6 301.8,784.1 302.0,785.1 302.2,785.7 302.5,780.9 302.8,787.7 303.0,785.1 303.2,784.9 303.5,784.3 303.8,786.6 304.0,783.8 304.2,790.3 304.5,783.3 304.8,789.4 305.0,788.9 305.2,787.0 305.5,786.7 305.8,788.1 306.0,787.2 306.2,790.1 306.5,786.6 306.8,786.4 307.0,790.3 307.2,788.2 307.5,789.5 307.8,789.4 308.0,793.5 308.2,791.3 308.5,791.8 308.8,791.3 309.0,791.6 309.2,795.3 309.5,790.3 309.8,794.7 310.0,794.6 310.2,795.8 310.5,791.7 310.8,796.5 311.0,795.5 311.2,791.7 311.5,792.6 311.8,790.2 312.0,790.4 312.2,796.6 312.5,792.9 312.8,795.2 313.0,796.7 313.2,795.7 313.5,793.9 313.8,794.8 314.0,795.7 314.2,793.9 314.5,794.5 314.8,794.9 315.0,796.8 315.2,797.8 315.5,793.3 315.8,795.4 316.0,796.5 316.2,797.4 316.5,797.7 316.8,794.3 317.0,799.4 317.2,798.2 317.5,798.9 317.8,797.3 318.0,795.7 318.2,800.0 318.5,797.8 318.8,798.7 319.0,802.4 319.2,798.7 319.5,800.7 319.8,801.9 320.0,802.7 320.2,802.7 320.5,801.5 320.8,802.0 321.0,800.6 321.2,804.3 321.5,803.3 321.8,805.9 322.0,802.5 322.2,807.5 322.5,807.8 322.8,802.8 323.0,804.0 323.2,810.2 323.5,801.8 323.8,807.4 324.0,809.0 324.2,809.9 324.5,802.3 324.8,816.7 325.0,806.5 325.2,811.2 325.5,812.8 325.8,817.3 326.0,816.4 326.2,817.0 326.5,813.1 326.8,822.1 327.0,824.3 327.2,819.2 327.5,817.2 327.8,814.2 328.0,819.9 328.2,817.0 328.5,828.9 328.8,828.6 329.0,822.8 329.2,822.5 329.5,828.6 329.8,827.8 330.0,833.7 330.2,829.7 330.5,832.9 330.8,828.1 331.0,832.2 331.2,833.3 331.5,826.8 331.8,830.6 332.0,840.9 332.2,841.7 332.5,842.4 332.8,835.4 333.0,840.7 333.2,836.4 333.5,834.1 333.8,840.7 334.0,843.7 334.2,840.0 334.5,847.8 334.8,845.1 335.0,841.4 335.2,845.8 335.5,840.2 335.8,845.3 336.0,845.3 336.2,846.6 336.5,844.6 336.8,851.5 337.0,846.8 337.2,845.8 337.5,847.8 337.8,846.5 338.0,850.2 338.2,849.2 338.5,850.4 338.8,850.0 339.0,852.8 339.2,850.8 339.5,852.7 339.8,852.5 340.0,856.8 340.2,851.6 340.5,857.6 340.8,852.6 341.0,855.3 341.2,859.0 341.5,855.3 341.8,860.1 342.0,858.5 342.2,857.1 342.5,859.3 342.8,855.3 343.0,859.6 343.2,863.3 343.5,862.7 343.8,863.0 344.0,860.2 344.2,863.4 344.5,862.8 344.8,863.1 345.0,864.1 345.2,867.8 345.5,869.1 345.8,865.6 346.0,865.7 346.2,862.9 346.5,867.8 346.8,868.0 347.0,867.0 347.2,871.7 347.5,870.5 347.8,867.5 348.0,868.9 348.2,867.3 348.5,871.5 348.8,868.4 349.0,870.2 349.2,870.8 349.5,873.3 349.8,875.1 350.0,869.9 350.2,871.7 350.5,870.6 350.8,872.8 351.0,872.3 351.2,873.2 351.5,876.1 351.8,874.1 352.0,874.4 352.2,874.6 352.5,876.4 352.8,876.3 353.0,876.4 353.2,880.1 353.5,877.7 353.8,883.4 354.0,877.8 354.2,880.0 354.5,885.1 354.8,880.9 355.0,885.5 355.2,893.2 355.5,890.3 355.8,896.6 356.0,888.3 356.2,888.2 356.5,882.8 356.8,895.7 357.0,883.3 357.2,886.3 357.5,884.6 357.8,884.4 358.0,892.1 358.2,894.0 358.5,888.9 358.8,889.4 359.0,892.3 359.2,894.9 359.5,897.4 359.8,896.8 360.0,899.4 360.2,896.9 360.5,896.7 360.8,898.7 361.0,897.7 361.2,897.8 361.5,896.4 361.8,897.5 362.0,896.4 362.2,894.4 362.5,895.8 362.8,897.7 363.0,895.5 363.2,895.0 363.5,896.0 363.8,896.7 364.0,894.0 364.2,896.5 364.5,894.2 364.8,897.1 365.0,897.1 365.2,893.4 365.5,894.7 365.8,897.4 366.0,897.3 366.2,896.2 366.5,895.5 366.8,892.8 367.0,894.3 367.2,892.9 367.5,895.3 367.8,896.1 368.0,893.0 368.2,890.7 368.5,892.0 368.8,895.2 369.0,890.2 369.2,894.4 369.5,892.3 369.8,892.1 370.0,890.3 370.2,889.8 370.5,894.1 370.8,891.7 371.0,892.4 371.2,889.1 371.5,890.8 371.8,890.9 372.0,889.4 372.2,890.0 372.5,892.4 372.8,888.0 373.0,891.1 373.2,892.5 373.5,889.3 373.8,890.6 374.0,888.7 374.2,889.8 374.5,889.5 374.8,887.9 375.0,888.3 375.2,888.5 375.5,888.9 375.8,888.8 376.0,887.1 376.2,887.0 376.5,886.3 376.8,889.4 377.0,887.8 377.2,888.3 377.5,887.8 377.8,887.3 378.0,888.7 378.2,888.2 378.5,889.7 378.8,888.0 379.0,887.4 379.2,887.0 379.5,889.0 379.8,892.1 380.0,891.4 380.2,889.8 380.5,894.1 380.8,889.5 381.0,893.9 381.2,895.8 381.5,889.9 381.8,894.0 382.0,899.1 382.2,888.5 382.5,901.2 382.8,893.6 383.0,895.2 383.2,903.5 383.5,895.2 383.8,894.9 384.0,903.5 384.2,898.9 384.5,900.2 384.8,904.4 385.0,908.0 385.2,904.6 385.5,904.9 385.8,900.5 386.0,906.7 386.2,902.7 386.5,904.6 386.8,910.2 387.0,912.2 387.2,910.2 387.5,909.9 387.8,908.9 388.0,913.9 388.2,912.0 388.5,918.5 388.8,914.6 389.0,916.5 389.2,917.2 389.5,917.7 389.8,919.5 390.0,920.1 390.2,918.8 390.5,917.6 390.8,921.0 391.0,922.8 391.2,920.9 391.5,920.9 391.8,920.4 392.0,921.6 392.2,918.7 392.5,920.7 392.8,922.1 393.0,920.6 393.2,921.1 393.5,919.7 393.8,917.8 394.0,919.2 394.2,915.9 394.5,920.1 394.8,919.3 395.0,913.9 395.2,910.7 395.5,915.0 395.8,911.6 396.0,913.1 396.2,910.3 396.5,911.0 396.8,908.1 397.0,910.2 397.2,906.3 397.5,906.5 397.8,905.5 398.0,901.2 398.2,900.3 398.5,900.0 398.8,903.7 399.0,900.9 399.2,898.7 399.5,902.7 399.8,902.5 400.0,897.6 400.2,893.9 400.5,895.8 400.8,898.6 401.0,894.0 401.2,896.2 401.5,893.7 401.8,890.9 402.0,892.2 402.2,894.4 402.5,891.0 402.8,889.9 403.0,887.7 403.2,886.5 403.5,883.9 403.8,882.4 404.0,886.6 404.2,881.7 404.5,880.1 404.8,880.6 405.0,881.2 405.2,880.0 405.5,878.3 405.8,874.7 406.0,870.1 406.2,879.0 406.5,873.0 406.8,877.6 407.0,866.0 407.2,871.1 407.5,872.2 407.8,868.2 408.0,867.8 408.2,863.8 408.5,867.9 408.8,858.2 409.0,859.4 409.2,859.5 409.5,858.5 409.8,852.7 410.0,853.4 410.2,850.9 410.5,854.2 410.8,853.8 411.0,853.9 411.2,849.0 411.5,847.1 411.8,843.7 412.0,847.1 412.2,842.7 412.5,834.6 412.8,835.7 413.0,833.0 413.2,828.9 413.5,827.3 413.8,837.8 414.0,823.8 414.2,822.1 414.5,826.9 414.8,830.0 415.0,820.8 415.2,821.4 415.5,817.3 415.8,814.4 416.0,816.0 416.2,814.2 416.5,811.3 416.8,813.4 417.0,814.5 417.2,809.4 417.5,808.9 417.8,809.4 418.0,808.9 418.2,805.2 418.5,803.2 418.8,802.5 419.0,800.5 419.2,800.5 419.5,800.2 419.8,797.7 420.0,800.3 420.2,797.4 420.5,793.7 420.8,796.5 421.0,792.6 421.2,791.8 421.5,790.4 421.8,788.1 422.0,785.1 422.2,787.1 422.5,784.8 422.8,786.5 423.0,782.3 423.2,780.8 423.5,780.7 423.8,781.4 424.0,780.0 424.2,776.8 424.5,776.0 424.8,776.4 425.0,774.5 425.2,773.3 425.5,771.9 425.8,770.5 426.0,769.5 426.2,768.8 426.5,767.7 426.8,767.5 427.0,765.8 427.2,764.9 427.5,764.3 427.8,761.6 428.0,761.4 428.2,760.8 428.5,759.5 428.8,758.4 429.2,756.8 429.8,753.7 430.2,753.6 430.8,752.0 431.2,750.8 431.8,749.3 432.2,748.8 432.8,747.4 433.2,745.8 433.8,744.1 434.2,743.4 434.8,741.7 435.2,740.6 435.8,739.0 436.2,738.3 436.8,737.4 437.2,736.1 437.8,734.9 438.2,733.8 438.8,732.2 439.2,731.5 439.8,730.2 440.2,728.5 440.8,728.1 441.2,726.9 441.8,725.7 442.2,724.6 442.8,723.6 443.2,722.0 443.8,721.2 444.2,720.2 444.8,719.2 445.2,718.1 445.8,716.8 446.2,716.1 446.8,715.0 447.2,713.6 447.8,713.1 448.2,711.7 448.8,710.7 449.2,710.0 449.8,708.7 450.2,707.3 450.8,706.3 451.2,705.3 451.8,705.1 452.2,704.9 452.8,704.6 453.2,704.8 453.8,705.0 454.2,706.0 454.8,707.1 455.2,708.2 455.8,709.4 456.2,710.8 456.8,711.9 457.2,713.8 457.8,715.1 458.2,716.0 458.8,718.1 459.2,719.9 459.8,721.3 460.2,723.5 460.8,725.4 461.2,726.8 461.8,728.5 462.2,730.0 462.8,730.6 463.2,731.4 463.8,731.6 464.2,731.1 464.8,730.6 465.2,730.2 465.8,729.4 466.2,728.2 466.8,727.4 467.2,726.2 467.8,725.3 468.2,723.8 468.8,722.9 469.2,721.7 469.8,720.6 470.2,719.7 470.8,719.0 471.2,718.3 471.8,717.2 472.2,716.6 472.8,716.0 473.2,714.9 473.8,714.5 474.2,713.5 474.8,712.9 475.2,712.4 475.8,711.9 476.2,711.2 476.8,710.8 477.2,710.2 477.8,709.9 478.2,709.2 478.8,708.8 479.2,708.3 479.8,708.0 480.2,707.6 480.8,707.3 481.2,707.2 481.8,707.0 482.2,707.0 482.8,707.2 483.2,707.3 483.8,707.7 484.2,708.0 484.8,708.5 485.8,709.6 486.8,710.9 487.8,712.4 488.8,714.5 489.8,717.4 490.8,721.0 491.8,725.0 492.8,729.6 493.8,735.6 494.8,742.5 495.8,750.0 496.8,760.2 497.8,770.3 498.8,775.8 499.8,778.3 500.8,779.8 501.8,781.2 502.8,783.2 503.8,786.9 504.8,798.4 505.8,815.6 506.8,833.5 507.8,850.2 508.8,867.5 509.8,883.2 510.8,897.9 511.8,910.1 512.8,917.8 513.8,924.9 514.8,934.4 515.8,945.0 516.8,955.0 517.8,963.4 518.8,971.2 519.8,978.4 520.8,985.1 521.8,990.2 522.8,995.8 523.8,1004.9 524.8,1039.3 525.8,1052.3 526.8,1037.1 527.8,1015.0 528.8,998.6 529.8,990.1 530.8,983.5 531.8,976.7 532.8,968.1 533.8,958.3 534.8,948.0 535.8,937.9 536.8,928.4 537.8,918.1 538.8,906.0 539.8,892.0 540.8,875.4 541.8,853.9 542.8,833.0 543.8,813.4 544.8,796.9 545.8,781.7 546.8,764.7 547.8,745.0 548.8,720.5 549.8,697.1 550.8,684.6 551.8,675.2 552.8,666.6 553.8,657.4 554.8,648.8 555.8,640.2 556.8,631.2 557.8,621.3 558.8,610.9 559.8,600.6 560.8,591.4 561.8,583.5 562.8,574.6 563.8,562.3 564.8,541.7 565.8,520.2 566.8,499.8 567.8,484.4 568.8,471.6 569.8,462.0 570.8,454.5 571.8,448.3 572.8,442.7 573.8,437.4 574.8,432.5 575.8,427.9 576.8,423.8 577.8,420.2 578.8,416.6 579.8,413.1 580.8,410.3 581.8,408.9 582.8,409.4 583.8,411.8 584.8,415.2 585.8,419.1 586.8,423.2 587.8,428.5 588.8,434.4 589.8,440.5 590.8,446.6 591.8,453.3 592.8,460.1 593.8,466.7 594.8,472.7 595.8,478.1 596.8,484.0 597.8,489.6 598.8,494.2 599.8,497.1 600.8,497.5 601.8,495.3 602.8,491.2 603.8,485.9 604.8,480.3 605.8,475.1 606.8,470.7 607.8,466.3 608.8,461.8 609.8,457.3 610.8,452.8 611.8,448.2 612.8,443.5 613.8,438.6 614.8,433.7 615.8,428.8 616.8,423.9 617.8,419.2 618.8,414.4 619.8,409.5 620.8,404.7 621.8,400.4 622.8,396.7 623.8,393.8 624.8,391.0 625.8,388.3 626.8,386.0 627.8,384.4 628.8,383.6 629.8,384.1 630.8,385.9 631.8,388.7 632.8,392.0 633.8,395.3 634.8,398.2 635.8,401.4 636.8,404.8 637.8,408.5 638.8,412.4 639.8,416.6 640.8,421.0 641.8,425.9 642.8,431.1 643.8,436.7 644.8,442.5 645.8,448.7 646.8,455.1 647.8,462.2 648.8,469.9 649.8,478.0 650.8,486.1 651.8,493.8 652.8,501.3 653.8,508.7 654.8,516.1 655.8,523.3 656.8,530.3 657.8,537.2 658.8,544.0 659.8,550.6 660.8,557.3 661.8,563.9 662.8,570.7 663.8,577.4 664.8,584.2 665.8,590.9 666.8,597.5 667.8,604.1 668.8,610.7 669.8,617.2 670.8,623.8 671.8,630.4 672.8,637.0 673.8,643.7 674.8,650.5 675.8,657.2 676.8,664.0 677.8,670.8 678.8,677.8 679.8,684.8 680.8,691.4 681.8,697.6 682.8,703.1 683.8,708.2 684.8,713.1 685.8,718.0 686.8,723.4 687.8,728.9 688.8,734.7 689.8,740.7 690.8,747.4 691.8,755.4 692.8,763.5 693.8,770.5 694.8,775.2 695.8,779.3 696.8,783.0 697.8,786.0 698.8,788.1 699.8,788.9 700.8,788.2 701.8,786.2 702.8,783.3 703.8,779.7 704.8,775.9 705.8,772.0 706.8,766.9 707.8,760.9 708.8,754.4 709.8,747.8 710.8,741.3 711.8,734.4 712.8,727.2 713.8,720.2 714.8,713.7 715.8,708.2 716.8,703.0 717.8,698.2 718.8,694.0 719.8,690.7 720.8,688.1 721.8,685.7 722.8,683.6 723.8,682.3 724.8,682.2 725.8,686.4 726.8,693.9 727.8,702.1 728.8,712.3 729.8,724.6 730.8,737.5 731.8,750.4 732.8,764.1 733.8,777.7 734.8,791.7 735.8,804.9 736.8,815.9 737.8,825.2 738.8,834.6 739.8,845.6 740.8,858.7 741.8,872.0 742.8,884.3 743.8,896.4 744.8,907.5 745.8,918.4 746.8,928.8 747.8,931.7 748.8,925.8 749.8,917.0 750.8,908.3 751.8,898.3 752.8,890.9 753.8,888.4 754.8,887.1 755.8,886.0 756.8,884.3 757.8,880.0 758.8,871.9 759.8,861.5 760.8,850.0 761.8,837.5 762.8,822.0 763.8,808.2 764.8,796.5 765.8,785.8 766.8,776.4 767.8,768.2 768.8,760.5 769.8,753.3 770.8,746.6 771.8,740.5 772.8,735.0 773.8,730.1 774.8,725.8 775.8,721.8 776.8,718.1 777.8,714.7 778.8,711.7 779.8,709.2 780.8,707.2 781.8,705.6 782.8,704.1 783.8,702.8 784.8,701.7 785.8,700.6 786.8,699.6 787.8,698.7 788.8,697.7 789.8,696.8 790.8,696.0 791.8,695.2 792.8,694.6 793.8,694.1 794.8,693.7 795.8,693.4 796.8,693.1 797.8,692.8 798.8,692.6 799.8,692.4 800.8,692.4 801.8,692.5 802.8,692.8 803.8,693.3 804.8,693.9 805.8,694.7 806.8,695.4 807.8,696.2 808.8,697.6 809.8,699.4 810.8,701.1 811.8,702.0 812.8,701.8 813.8,700.8 814.8,699.3 815.8,697.3 816.8,694.9 817.8,692.3 818.8,687.9 819.8,682.2 820.8,676.4 821.8,671.2 822.8,666.0 823.8,660.6 824.8,654.6 825.8,648.0 826.8,641.3 827.8,635.0 828.8,628.8 829.8,622.4 830.8,615.4 831.8,607.5 832.8,598.6 833.8,589.4 834.8,580.3 835.8,571.5 836.8,562.7 837.8,553.6 838.8,543.6 839.8,533.1 840.8,521.6 841.8,508.8 842.8,494.4 843.8,476.2 844.8,452.1 845.8,437.3 846.8,422.7 847.8,407.6 848.8,396.1 849.8,386.4 850.8,376.7 851.8,366.6 852.8,356.6 853.8,346.5 854.8,336.4 855.8,326.4 856.8,316.5 857.8,306.9 858.8,298.1 859.8,290.0 860.8,281.1 861.8,270.4 862.8,260.4 863.8,252.4 864.8,245.1 865.8,238.3 866.8,232.2 867.8,226.7 868.8,221.6 869.8,217.1 870.8,212.8 871.8,208.8 872.8,204.9 873.8,201.0 874.8,197.0 875.8,193.1 876.8,189.2 877.8,185.5 878.8,182.1 879.8,179.0 880.8,176.1 881.8,173.4 882.8,170.8 883.8,168.4 884.8,166.1 885.8,163.8 886.8,161.6 887.8,159.5 888.8,157.4 889.8,155.4 890.8,153.5 891.8,151.6 892.8,149.7 893.8,147.8 894.8,145.9 895.8,144.1 896.8,142.3 897.8,140.6 898.8,138.9 899.8,137.3 900.8,135.8 901.8,134.3 902.8,132.8 903.8,131.3 904.8,130.0 905.8,128.6 906.8,127.3 907.8,126.1 908.8,124.9 909.8,123.8 910.8,122.7 911.8,121.6 912.8,120.6 913.8,119.6 914.8,118.7 915.8,117.9 916.8,117.1 917.8,116.4 918.8,115.7 919.8,115.0 920.8,114.3 921.8,113.7 922.8,113.2 923.8,112.7 924.8,112.3 925.8,111.9 926.8,111.5 927.8,111.1 928.8,110.8 929.8,110.5 930.8,110.2 931.8,110.0 932.8,109.8 933.8,109.6 934.8,109.5 935.8,109.4 936.8,109.2 937.8,109.1 938.8,109.0 939.8,109.0 940.8,108.9 941.8,108.9 942.8,109.0 943.8,109.2 944.8,109.5 945.8,109.9 946.8,110.4 947.8,110.9 948.8,111.4 949.8,112.0 950.8,112.6 951.8,113.3 952.8,114.1 953.8,115.0 954.8,116.0 955.8,117.1 956.8,118.3 957.8,119.6 958.8,120.9 959.8,122.5 960.8,124.3 961.8,126.3 962.8,128.5 963.8,130.8 964.8,133.3 965.8,136.0 966.8,139.1 967.8,142.6 968.8,146.4 969.8,150.8 970.8,155.8 971.8,161.7 972.8,168.4 973.8,176.7 974.8,187.5 975.8,203.4 976.8,221.9 977.8,242.2 978.8,259.9 979.8,286.1 980.8,334.7 981.8,367.5 982.8,438.6 983.8,487.9 984.8,541.8 985.8,599.7 986.8,688.3 987.8,741.3 988.8,763.8 989.8,779.3 990.8,787.4 991.8,785.9 992.8,775.4 993.8,758.0 994.8,726.4 995.8,671.4 996.8,626.8 997.8,578.5 998.8,515.0 999.8,437.1 1000.8,398.5 1001.8,358.2 1002.8,317.7 1003.8,291.7 1004.8,271.1 1005.8,228.4 1006.8,201.2 1007.8,183.5 1008.8,169.2 1009.8,158.8 1010.8,151.0 1011.8,144.4 1012.8,139.0 1013.8,134.7 1014.8,131.1 1015.8,128.0 1016.8,125.3 1017.8,123.0 1018.8,120.9 1019.8,119.0 1020.8,117.2 1021.8,115.6 1022.8,114.1 1023.8,112.8 1024.8,111.6 1025.8,110.4 1026.8,109.4 1027.8,108.5 1028.8,107.6 1029.8,106.8 1030.8,106.1 1031.8,105.3 1032.8,104.7 1033.8,104.0 1034.8,103.4 1035.8,102.8 1036.8,102.2 1037.8,101.6 1038.8,101.1 1039.8,100.5 1040.8,100.1 1041.8,99.6 1042.8,99.2 1043.8,98.9 1044.8,98.6 1045.8,98.4 1046.8,98.1 1047.8,97.9 1048.8,97.7 1049.8,97.5 1050.8,97.3 1051.8,97.1 1052.8,97.0 1053.8,96.9 1054.8,96.7 1055.8,96.6 1056.8,96.5 1057.8,96.5 1058.8,96.4 1059.8,96.3 1060.8,96.2 1061.8,96.1 1062.8,96.1 1063.8,96.0 1064.8,95.8 1065.8,95.7 1066.8,95.5 1067.8,95.3 1068.8,95.1 1069.8,94.9 1070.8,94.7 1071.8,94.5 1072.8,94.4 1073.8,94.3 1074.8,94.3 1075.8,94.4 1076.8,94.4 1077.8,94.6 1078.8,94.7 1079.8,94.9 1080.8,95.0 1081.8,95.2 1082.8,95.3 1083.8,95.4 1084.8,95.5 1085.8,95.6 1086.8,95.6 1087.8,95.7 1088.8,95.7 1089.8,95.7 1090.8,95.8 1091.8,95.8 1092.8,95.9 1093.8,95.9 1094.8,96.0 1095.8,96.1 1096.8,96.3 1097.8,96.5 1098.8,96.8 1099.8,97.0 1100.8,97.3 1101.8,97.6 1102.8,97.9 1103.8,98.2 1104.8,98.5 1105.8,98.7 1106.8,99.0 1107.8,99.3 1108.8,99.6 1109.8,100.0 1110.8,100.4 1111.8,100.8 1112.8,101.3 1113.8,101.9 1114.8,102.7 1115.8,103.7 1116.8,104.8 1117.8,106.1 1118.8,107.5 1119.8,109.0 1120.8,110.6 1121.8,112.4 1122.8,114.4 1123.8,116.7 1124.8,119.1 1125.8,121.6 1126.8,124.1 1127.8,126.9 1128.8,129.9 1129.8,132.7 1130.8,135.0 1131.8,136.7 1132.8,138.1 1133.8,139.3 1134.8,140.4 1135.8,141.5 1136.8,142.5 1137.8,143.6 1138.8,144.9 1139.8,146.5 1140.8,148.3 1141.8,150.0 1142.8,151.5 1143.8,152.6 1144.8,153.1 1145.8,152.4 1146.8,150.3 1147.8,147.2 1148.8,143.7 1149.8,138.1 1150.8,131.2 1151.8,126.0 1152.8,122.3 1153.8,119.0 1154.8,116.3 1155.8,113.9 1156.8,111.8 1157.8,109.7 1158.8,107.8 1159.8,106.2 1160.8,105.0 1161.8,104.6 1162.8,104.6 1163.8,104.6 1164.8,104.6 1165.8,104.6 1166.8,104.6 1167.8,104.6 1168.8,104.8 1169.8,105.4 1170.8,106.3 1171.8,107.2 1172.8,108.2 1173.8,109.1 1174.8,110.3 1175.8,111.6 1176.8,112.8 1177.8,113.4 1178.8,113.1 1179.8,112.0 1180.8,110.3 1181.8,108.6 1182.8,106.9 1183.8,105.1 1184.8,103.0 1185.8,100.9 1186.8,99.0 1187.8,97.7 1188.8,97.1 1189.8,96.6 1190.8,96.2 1191.8,95.8 1192.8,95.5 1193.2,95.4 1193.8,95.4 1194.2,95.2 1194.8,95.2 1195.2,95.0 1195.8,95.1 1196.2,94.9 1196.8,94.8 1197.2,94.8 1197.8,94.9 1198.2,94.8 1198.8,94.7 1199.2,94.6 1199.8,94.7 1200.2,94.7 1200.8,94.7 1201.2,94.3 1201.8,94.3 1202.2,94.1 1202.8,94.4 1203.2,94.5 1203.8,94.8 1204.2,94.4 1204.8,94.2 1205.2,94.2 1205.8,94.1 1206.2,94.0 1206.8,94.2 1207.2,94.4 1207.8,93.9 1208.2,93.7 1208.8,94.2 1209.2,94.1 1209.8,93.9 1210.2,93.9 1210.8,94.0 1211.2,93.7 1211.8,93.8 1212.2,93.3 1212.8,93.2 1213.2,93.3 1213.8,93.1 1214.2,92.7 1214.8,93.3 1215.2,92.3 1215.8,93.6 1216.2,92.7 1216.8,92.9 1217.2,92.3 1217.8,92.0 1218.2,92.6 1218.8,92.5 1219.2,92.6 1219.8,91.3 1220.2,93.0 1220.8,91.8 1221.2,91.4 1221.8,91.2 1222.2,90.8 1222.8,91.4 1223.0,92.3 1223.2,91.3 1223.5,91.5 1223.8,92.1 1224.0,92.7 1224.2,91.2 1224.5,90.9 1224.8,92.0 1225.0,91.5 1225.2,92.6 1225.5,90.7 1225.8,91.5 1226.0,90.9 1226.2,90.8 1226.5,91.0 1226.8,91.5 1227.0,91.9 1227.2,90.5 1227.5,91.0 1227.8,90.6 1228.0,91.0 1228.2,90.9 1228.5,90.2 1228.8,90.3 1229.0,90.5 1229.2,90.8 1229.5,90.9 1229.8,92.2 1230.0,91.5 1230.2,91.9 1230.5,89.9 1230.8,90.3 1231.0,90.6 1231.2,91.2 1231.5,91.2 1231.8,89.7 1232.0,91.7 1232.2,90.8 1232.5,89.5 1232.8,90.6 1233.0,91.8 1233.2,90.7 1233.5,89.4 1233.8,90.5 1234.0,91.4 1234.2,89.3 1234.5,89.8 1234.8,91.8 1235.0,90.6 1235.2,91.3 1235.5,89.3 1235.8,90.6 1236.0,89.6 1236.2,89.8 1236.5,91.2 1236.8,90.1 1237.0,90.7 1237.2,89.7 1237.5,89.9 1237.8,90.3 1238.0,91.3 1238.2,91.6 1238.5,89.2 1238.8,90.3 1239.0,91.1 1239.2,90.9 1239.5,91.1 1239.8,90.8 1240.0,91.1 1240.2,89.8 1240.5,90.9 1240.8,90.1 1241.0,90.2 1241.2,89.7 1241.5,89.9 1241.8,90.7 1242.0,89.6 1242.2,90.9 1242.5,90.1 1242.8,90.2 1243.0,90.0 1243.2,90.0 1243.5,89.7 1243.8,89.9 1244.0,89.6 1244.2,89.2 1244.5,91.1 1244.8,90.7 1245.0,89.7 1245.2,89.9 1245.5,88.6 1245.8,91.2 1246.0,90.2 1246.2,89.7 1246.5,90.6 1246.8,88.6 1247.0,91.1 1247.2,89.3 1247.5,90.8 1247.8,90.5 1248.0,89.4 1248.2,89.3 1248.5,90.0 1248.8,89.4 1249.0,90.9 1249.2,89.1 1249.5,89.2 1249.8,91.1 1250.0,89.4 1250.2,89.4 1250.5,89.5 1250.8,90.3 1251.0,88.9 1251.2,89.8 1251.5,90.9 1251.8,89.3 1252.0,91.1 1252.2,89.9 1252.5,90.6 1252.8,89.3 1253.0,90.6 1253.2,89.8 1253.5,90.2 1253.8,89.6 1254.0,89.8 1254.2,90.4 1254.5,91.2 1254.8,89.8 1255.0,89.3 1255.2,90.6 1255.5,91.0 1255.8,90.5 1256.0,90.6 1256.2,90.3 1256.5,89.1 1256.8,90.1 1257.0,89.9 1257.2,90.0 1257.5,90.3 1257.8,90.5 1258.0,90.8 1258.2,90.3 1258.5,88.9 1258.8,91.5 1259.0,91.5 1259.2,90.6 1259.5,89.1 1259.8,91.5 1260.0,89.0 1260.2,91.6 1260.5,89.7 1260.8,89.7 1261.0,89.9 1261.2,89.3 1261.5,90.4 1261.8,89.5 1262.0,90.3 1262.2,91.6 1262.5,91.6 1262.8,91.1 1263.0,91.4 1263.2,91.1 1263.5,91.3 1263.8,89.5 1264.0,91.8 1264.2,91.2 1264.5,91.2 1264.8,91.5 1265.0,89.5 1265.2,90.7 1265.5,91.0 1265.8,91.3 1266.0,89.9 1266.2,90.1 1266.5,89.2 1266.8,91.7 1267.0,90.3 1267.2,91.2 1267.5,89.9 1267.8,90.5 1268.0,90.2 1268.2,89.2 1268.5,90.4 1268.8,90.8 1269.0,89.1 1269.2,89.4 1269.5,89.9 1269.8,89.7 1270.0,89.9 1270.2,90.2 1270.5,90.9 1270.8,89.8 1271.0,90.9 1271.2,89.6 1271.5,90.1 1271.8,90.2 1272.0,90.1 1272.2,89.0 1272.5,90.4 1272.8,88.9 1273.0,90.6 1273.2,89.6 1273.5,90.3 1273.8,89.5 1274.0,90.5 1274.2,89.6 1274.5,90.8 1274.8,89.9 1275.0,89.0 1275.2,91.2 1275.5,90.7 1275.8,90.3 1276.0,90.2 1276.2,90.1 1276.5,90.8 1276.8,91.1 1277.0,89.1 1277.2,91.1 1277.5,89.3 1277.8,88.8 1278.0,91.1 1278.2,90.4 1278.5,90.6 1278.8,90.0 1279.0,90.1 1279.2,89.9 1279.5,89.3 1279.8,88.9 1280.0,90.3 1280.2,89.6 1280.5,90.1 1280.8,88.5 1281.0,89.7 1281.2,91.1 1281.5,90.3 1281.8,90.2 1282.0,88.9 1282.2,89.2 1282.5,91.1 1282.8,88.6 1283.0,90.0 1283.2,89.9 1283.5,89.8 1283.8,90.3 1284.0,89.0 1284.2,90.7 1284.5,90.8 1284.8,89.7 1285.0,90.0 1285.2,90.8 1285.5,89.6 1285.8,89.0 1286.0,89.9 1286.2,90.9 1286.5,90.5 1286.8,89.4 1287.0,91.3 1287.2,90.9 1287.5,90.2 1287.8,89.7 1288.0,88.8 1288.2,91.1 1288.5,90.4 1288.8,90.3 1289.0,89.3 1289.2,90.8 1289.5,90.5 1289.8,91.4 1290.0,90.0 1290.2,90.9 1290.5,89.9 1290.8,91.5 1291.0,89.1 1291.2,91.5 1291.5,90.7 1291.8,89.6 1292.0,89.6 1292.2,89.4 1292.5,91.4 1292.8,90.0 1293.0,89.8 1293.2,91.0 1293.5,89.2 1293.8,90.0 1294.0,90.7 1294.2,91.1 1294.5,90.8 1294.8,91.2 1295.0,89.3 1295.2,90.3 1295.5,89.5 1295.8,91.5 1296.0,90.8 1296.2,90.9 1296.5,90.6 1296.8,89.7 1297.0,90.7 1297.2,89.5 1297.5,92.1 1297.8,90.7 1298.0,91.9 1298.2,91.5 1298.5,91.6 1298.8,90.9 1299.0,91.1 1299.2,91.4 1299.5,91.0 1299.8,91.9 1300.0,92.4 1300.2,90.3 1300.5,92.5 1300.8,91.7 1301.0,92.2 1301.2,90.5 1301.5,91.9 1301.8,92.2 1302.0,90.6 1302.2,91.5 1302.5,92.8 1302.8,91.7 1303.0,91.1 1303.2,92.0 1303.5,91.4 1303.8,91.6 1304.0,93.1 1304.2,92.7 1304.5,92.5 1304.8,92.1 1305.0,92.8 1305.2,90.8 1305.5,91.5 1305.8,92.7 1306.0,92.2 1306.2,91.2 1306.5,91.0 1306.8,93.0 1307.0,92.5 1307.2,91.2 1307.5,92.7 1307.8,92.3 1308.0,93.0 1308.2,93.4 1308.5,93.0 1308.8,92.9 1309.0,92.4 1309.2,91.7 1309.5,91.5 1309.8,92.3 1310.0,91.6 1310.2,92.8 1310.5,93.5 1310.8,92.3 1311.0,92.7 1311.2,92.9 1311.5,93.6 1311.8,93.7 1312.0,93.5 1312.2,92.0 1312.5,93.6 1312.8,93.7 1313.0,92.9 1313.2,93.5 1313.5,93.4 1313.8,93.4 1314.0,93.4 1314.2,94.2 1314.5,93.6 1314.8,93.4 1315.0,94.5 1315.2,93.1 1315.5,93.8 1315.8,92.5 1316.0,93.4 1316.2,94.7 1316.5,94.2 1316.8,94.0 1317.0,93.5 1317.2,94.0 1317.5,94.0 1317.8,94.3 1318.0,95.2 1318.2,93.6 1318.5,94.3 1318.8,94.3 1319.0,94.4 1319.2,94.0 1319.5,94.1 1319.8,94.7 1320.0,94.2 1320.2,95.6 1320.5,94.3 1320.8,94.4 1321.0,95.8 1321.2,94.7 1321.5,93.8 1321.8,95.0 1322.0,94.7 1322.2,93.4 1322.5,95.3 1322.8,95.4 1323.0,95.0 1323.2,95.0 1323.5,93.8 1323.8,95.7 1324.0,95.4 1324.2,94.8 1324.5,95.4 1324.8,96.2 1325.0,95.6 1325.2,95.5 1325.5,96.3 1325.8,95.0 1326.0,96.0 1326.2,95.7 1326.5,94.9 1326.8,95.8 1327.0,95.6 1327.2,94.0 1327.5,95.7 1327.8,96.0 1328.0,94.0 1328.2,95.2 1328.5,95.6 1328.8,94.7 1329.0,95.3 1329.2,96.1 1329.5,95.4 1329.8,96.6 1330.0,96.4 1330.2,96.2 1330.5,96.1 1330.8,95.0 1331.0,95.3 1331.2,94.6 1331.5,94.3 1331.8,95.7 1332.0,96.2 1332.2,95.3 1332.5,94.6 1332.8,95.9 1333.0,95.2"/>
<path class="c" stroke="#FF0D3C" d="M141.5,809.4 141.8,802.7 142.0,810.5 142.2,807.6 142.5,807.1 142.8,803.5 143.0,800.4 143.2,799.7 143.5,810.7 143.8,812.2 144.0,807.4 144.2,791.5 144.5,800.0 144.8,811.5 145.0,795.2 145.2,803.4 145.5,786.4 145.8,779.4 146.0,776.7 146.2,782.6 146.5,780.4 146.8,780.4 147.0,795.5 147.2,769.1 147.5,768.7 147.8,782.7 148.0,759.0 148.2,760.3 148.5,750.2 148.8,772.7 149.0,764.0 149.2,771.6 149.5,755.1 149.8,750.2 150.0,760.4 150.2,722.4 150.5,740.2 150.8,763.9 151.0,735.2 151.2,735.2 151.5,756.3 151.8,722.4 152.0,745.7 152.2,723.2 152.5,737.6 152.8,727.9 153.0,710.3 153.2,704.7 153.5,706.5 153.8,699.4 154.0,713.7 154.2,719.0 154.5,685.9 154.8,711.0 155.0,686.6 155.2,713.2 155.5,664.7 155.8,667.6 156.0,649.9 156.2,667.7 156.5,670.3 156.8,698.3 157.0,710.5 157.2,667.4 157.5,684.3 157.8,676.1 158.0,687.8 158.2,676.0 158.5,680.1 158.8,699.7 159.0,677.1 159.2,680.4 159.5,613.9 159.8,705.0 160.0,642.0 160.2,619.3 160.5,660.9 160.8,633.4 161.0,606.5 161.2,604.7 161.5,627.7 161.8,598.0 162.0,620.4 162.2,674.5 162.5,676.8 162.8,636.4 163.0,626.6 163.2,627.3 163.5,679.5 163.8,629.4 164.0,676.7 164.2,596.7 164.5,624.0 164.8,606.1 165.0,633.6 165.2,573.7 165.5,542.5 165.8,565.1 166.0,613.3 166.2,558.0 166.5,603.9 166.8,542.8 167.0,604.1 167.2,582.1 167.5,664.1 167.8,669.3 168.0,653.3 168.2,555.5 168.5,565.5 168.8,570.6 169.0,633.0 169.2,659.6 169.5,558.8 169.8,654.3 170.0,599.1 170.2,635.7 170.5,686.0 170.8,627.2 171.0,628.2 171.2,668.0 171.5,670.4 171.8,682.9 172.0,663.7 172.2,691.2 172.5,683.4 172.8,703.8 173.0,667.6 173.2,686.7 173.5,693.7 173.8,674.2 174.0,690.1 174.2,702.6 174.5,662.6 174.8,677.6 175.0,676.6 175.2,656.8 175.5,674.8 175.8,693.8 176.0,675.6 176.2,714.0 176.5,686.9 176.8,704.4 177.0,694.7 177.2,713.4 177.5,706.9 177.8,699.1 178.0,705.9 178.2,708.6 178.5,715.0 178.8,716.9 179.0,718.4 179.2,715.4 179.5,719.2 179.8,712.8 180.0,707.8 180.2,707.2 180.5,709.7 180.8,705.2 181.0,716.2 181.2,707.2 181.5,714.8 181.8,708.2 182.0,707.5 182.2,704.1 182.5,706.3 182.8,700.1 183.0,706.7 183.2,699.0 183.5,704.4 183.8,708.3 184.0,705.8 184.2,705.5 184.5,705.5 184.8,704.1 185.0,704.8 185.2,703.6 185.5,706.1 185.8,712.8 186.0,710.5 186.2,729.0 186.5,721.6 186.8,710.6 187.0,712.7 187.2,711.0 187.5,713.9 187.8,737.1 188.0,713.4 188.2,722.2 188.5,723.8 188.8,718.2 189.0,712.4 189.2,723.7 189.5,710.9 189.8,734.1 190.0,706.3 190.2,712.7 190.5,723.2 190.8,728.6 191.0,735.4 191.2,734.8 191.5,731.4 191.8,734.8 192.0,734.3 192.2,738.4 192.5,734.5 192.8,741.5 193.0,740.1 193.2,738.1 193.5,734.7 193.8,741.4 194.0,738.5 194.2,741.6 194.5,737.9 194.8,738.6 195.0,738.8 195.2,736.6 195.5,735.0 195.8,740.5 196.0,741.3 196.2,741.0 196.5,734.5 196.8,738.1 197.0,737.2 197.2,739.0 197.5,739.1 197.8,735.4 198.0,737.7 198.2,734.5 198.5,737.4 198.8,734.0 199.0,735.4 199.2,734.8 199.5,740.0 199.8,740.9 200.0,736.5 200.2,739.9 200.5,744.9 200.8,741.1 201.0,741.1 201.2,743.6 201.5,734.2 201.8,735.4 202.0,747.7 202.2,742.5 202.5,734.0 202.8,754.2 203.0,753.8 203.2,744.7 203.5,758.9 203.8,740.5 204.0,750.7 204.2,761.2 204.5,744.4 204.8,746.4 205.0,743.1 205.2,751.7 205.5,749.5 205.8,749.6 206.0,752.7 206.2,756.6 206.5,759.8 206.8,761.5 207.0,752.7 207.2,761.5 207.5,759.4 207.8,762.1 208.0,766.6 208.2,762.0 208.5,758.7 208.8,766.6 209.0,762.1 209.2,766.6 209.5,757.8 209.8,760.5 210.0,756.9 210.2,757.1 210.5,752.6 210.8,753.1 211.0,754.9 211.2,748.9 211.5,752.6 211.8,760.1 212.0,758.3 212.2,764.2 212.5,752.7 212.8,750.1 213.0,762.8 213.2,751.0 213.5,756.6 213.8,768.1 214.0,763.6 214.2,774.6 214.5,754.6 214.8,758.8 215.0,766.7 215.2,746.3 215.5,746.2 215.8,768.6 216.0,765.6 216.2,747.0 216.5,748.0 216.8,769.1 217.0,751.1 217.2,755.8 217.5,767.7 217.8,792.1 218.0,798.3 218.2,775.9 218.5,779.6 218.8,795.3 219.0,800.2 219.2,780.6 219.5,799.2 219.8,794.9 220.0,787.9 220.2,790.7 220.5,795.4 220.8,792.2 221.0,791.9 221.2,791.5 221.5,797.0 221.8,797.5 222.0,791.7 222.2,794.0 222.5,799.5 222.8,794.3 223.0,793.9 223.2,792.4 223.5,799.0 223.8,797.5 224.0,798.4 224.2,794.1 224.5,790.4 224.8,794.9 225.0,791.8 225.2,790.9 225.5,792.2 225.8,798.1 226.0,795.9 226.2,795.3 226.5,795.9 226.8,796.4 227.0,797.5 227.2,794.9 227.5,798.1 227.8,800.9 228.0,797.9 228.2,798.1 228.5,806.0 228.8,805.4 229.0,798.9 229.2,801.4 229.5,803.2 229.8,805.7 230.0,811.3 230.2,799.3 230.5,801.4 230.8,807.0 231.0,806.2 231.2,804.2 231.5,807.3 231.8,806.9 232.0,818.0 232.2,814.6 232.5,815.6 232.8,812.3 233.0,809.3 233.2,815.0 233.5,817.3 233.8,815.9 234.0,811.3 234.2,818.2 234.5,810.9 234.8,819.5 235.0,813.9 235.2,819.5 235.5,818.4 235.8,821.7 236.0,822.2 236.2,819.4 236.5,816.6 236.8,823.3 237.0,819.8 237.2,817.4 237.5,821.7 237.8,817.2 238.0,815.6 238.2,819.5 238.5,814.5 238.8,816.3 239.0,816.4 239.2,817.0 239.5,815.2 239.8,816.9 240.0,815.3 240.2,815.9 240.5,819.9 240.8,817.2 241.0,810.2 241.2,818.8 241.5,811.9 241.8,812.1 242.0,810.6 242.2,813.9 242.5,808.2 242.8,812.4 243.0,808.6 243.2,808.3 243.5,808.8 243.8,809.9 244.0,810.6 244.2,808.4 244.5,807.4 244.8,813.0 245.0,806.2 245.2,812.3 245.5,807.0 245.8,807.3 246.0,811.6 246.2,809.1 246.5,808.0 246.8,809.2 247.0,809.2 247.2,806.6 247.5,811.8 247.8,804.1 248.0,809.7 248.2,809.2 248.5,808.5 248.8,808.0 249.0,805.8 249.2,803.8 249.5,805.4 249.8,808.0 250.0,808.0 250.2,802.2 250.5,805.8 250.8,802.3 251.0,804.3 251.2,805.5 251.5,805.1 251.8,807.4 252.0,802.7 252.2,806.6 252.5,798.2 252.8,803.3 253.0,798.5 253.2,800.7 253.5,797.8 253.8,793.1 254.0,798.4 254.2,787.6 254.5,794.6 254.8,795.8 255.0,789.3 255.2,794.0 255.5,792.8 255.8,785.4 256.0,794.1 256.2,781.9 256.5,782.5 256.8,796.8 257.0,795.0 257.2,790.9 257.5,791.5 257.8,784.3 258.0,787.6 258.2,778.8 258.5,784.0 258.8,785.9 259.0,786.0 259.2,787.2 259.5,780.8 259.8,781.5 260.0,774.6 260.2,775.0 260.5,773.3 260.8,782.4 261.0,775.7 261.2,779.6 261.5,770.8 261.8,778.6 262.0,779.5 262.2,778.9 262.5,772.8 262.8,770.6 263.0,772.9 263.2,776.0 263.5,773.5 263.8,773.5 264.0,772.9 264.2,774.1 264.5,775.7 264.8,771.7 265.0,775.5 265.2,774.6 265.5,775.5 265.8,774.8 266.0,776.3 266.2,770.6 266.5,777.9 266.8,773.6 267.0,775.0 267.2,772.5 267.5,773.3 267.8,771.6 268.0,774.8 268.2,772.9 268.5,775.6 268.8,779.7 269.0,773.6 269.2,777.9 269.5,777.0 269.8,774.4 270.0,778.3 270.2,779.7 270.5,776.0 270.8,776.2 271.0,777.8 271.2,777.1 271.5,774.5 271.8,776.1 272.0,774.8 272.2,778.4 272.5,780.5 272.8,776.8 273.0,776.8 273.2,774.3 273.5,777.3 273.8,774.1 274.0,778.0 274.2,777.8 274.5,777.3 274.8,774.9 275.0,778.7 275.2,779.9 275.5,776.4 275.8,773.2 276.0,780.8 276.2,776.0 276.5,776.8 276.8,776.5 277.0,777.7 277.2,780.2 277.5,778.3 277.8,778.3 278.0,782.7 278.2,776.0 278.5,779.1 278.8,777.0 279.0,783.5 279.2,777.4 279.5,781.8 279.8,784.9 280.0,783.2 280.2,777.7 280.5,779.1 280.8,782.2 281.0,781.7 281.2,781.0 281.5,784.8 281.8,784.3 282.0,783.1 282.2,783.8 282.5,787.3 282.8,780.9 283.0,785.5 283.2,782.7 283.5,785.7 283.8,787.4 284.0,787.2 284.2,786.1 284.5,788.1 284.8,788.4 285.0,783.8 285.2,785.4 285.5,787.0 285.8,792.8 286.0,788.0 286.2,789.3 286.5,788.6 286.8,790.8 287.0,793.4 287.2,793.2 287.5,794.9 287.8,796.9 288.0,793.1 288.2,792.2 288.5,791.0 288.8,793.1 289.0,797.2 289.2,801.0 289.5,790.9 289.8,794.4 290.0,797.1 290.2,796.2 290.5,801.0 290.8,797.5 291.0,802.2 291.2,797.7 291.5,795.7 291.8,799.5 292.0,798.6 292.2,800.7 292.5,800.5 292.8,803.1 293.0,802.6 293.2,801.8 293.5,801.0 293.8,799.9 294.0,801.3 294.2,806.9 294.5,801.5 294.8,806.2 295.0,801.0 295.2,806.3 295.5,802.7 295.8,803.7 296.0,804.8 296.2,804.9 296.5,805.8 296.8,803.8 297.0,807.8 297.2,808.1 297.5,804.8 297.8,806.8 298.0,811.0 298.2,812.9 298.5,811.9 298.8,814.2 299.0,808.5 299.2,808.4 299.5,810.2 299.8,815.4 300.0,810.9 300.2,816.1 300.5,811.0 300.8,813.1 301.0,818.4 301.2,808.4 301.5,812.3 301.8,817.2 302.0,817.1 302.2,820.1 302.5,819.2 302.8,818.6 303.0,817.7 303.2,815.9 303.5,815.2 303.8,820.8 304.0,817.6 304.2,820.0 304.5,820.3 304.8,820.3 305.0,819.8 305.2,819.4 305.5,822.9 305.8,823.1 306.0,819.4 306.2,822.0 306.5,818.7 306.8,824.5 307.0,825.4 307.2,819.8 307.5,824.5 307.8,825.6 308.0,822.8 308.2,824.4 308.5,825.6 308.8,826.5 309.0,826.0 309.2,825.4 309.5,830.4 309.8,828.3 310.0,826.1 310.2,830.4 310.5,827.2 310.8,825.3 311.0,832.3 311.2,829.5 311.5,828.6 311.8,828.1 312.0,828.2 312.2,832.5 312.5,830.0 312.8,832.4 313.0,828.3 313.2,831.0 313.5,826.8 313.8,831.0 314.0,826.5 314.2,827.9 314.5,827.2 314.8,830.7 315.0,828.3 315.2,831.8 315.5,822.4 315.8,828.7 316.0,823.9 316.2,827.6 316.5,822.5 316.8,824.3 317.0,821.8 317.2,822.5 317.5,823.6 317.8,822.9 318.0,821.6 318.2,819.2 318.5,818.9 318.8,825.6 319.0,821.1 319.2,822.3 319.5,825.5 319.8,827.9 320.0,822.5 320.2,828.4 320.5,821.6 320.8,829.3 321.0,832.2 321.2,826.2 321.5,820.8 321.8,821.0 322.0,825.1 322.2,836.8 322.5,826.4 322.8,821.2 323.0,829.5 323.2,842.8 323.5,836.0 323.8,831.5 324.0,826.2 324.2,826.1 324.5,838.2 324.8,838.0 325.0,838.9 325.2,844.8 325.5,839.9 325.8,851.2 326.0,851.5 326.2,847.6 326.5,858.3 326.8,836.1 327.0,855.7 327.2,859.9 327.5,851.6 327.8,855.0 328.0,854.1 328.2,871.7 328.5,857.9 328.8,866.3 329.0,864.4 329.2,860.6 329.5,875.2 329.8,865.7 330.0,871.6 330.2,876.6 330.5,875.8 330.8,862.0 331.0,870.1 331.2,873.8 331.5,869.9 331.8,885.2 332.0,887.3 332.2,885.5 332.5,878.5 332.8,882.4 333.0,882.0 333.2,887.3 333.5,877.5 333.8,875.9 334.0,880.8 334.2,878.8 334.5,891.0 334.8,879.7 335.0,890.0 335.2,888.8 335.5,886.6 335.8,891.2 336.0,888.6 336.2,892.5 336.5,894.8 336.8,899.0 337.0,890.6 337.2,891.3 337.5,894.5 337.8,892.9 338.0,898.1 338.2,897.5 338.5,901.6 338.8,898.8 339.0,897.3 339.2,901.1 339.5,898.8 339.8,903.0 340.0,902.5 340.2,898.4 340.5,903.9 340.8,902.2 341.0,901.7 341.2,902.9 341.5,903.0 341.8,904.2 342.0,902.0 342.2,906.4 342.5,904.0 342.8,908.0 343.0,905.6 343.2,905.5 343.5,904.5 343.8,904.6 344.0,907.8 344.2,905.3 344.5,908.5 344.8,910.3 345.0,910.6 345.2,906.8 345.5,906.6 345.8,909.6 346.0,909.2 346.2,909.5 346.5,912.1 346.8,912.7 347.0,908.4 347.2,914.0 347.5,912.4 347.8,913.5 348.0,915.9 348.2,914.3 348.5,913.2 348.8,914.3 349.0,915.4 349.2,911.7 349.5,916.0 349.8,913.9 350.0,916.7 350.2,917.1 350.5,916.8 350.8,916.8 351.0,917.4 351.2,917.7 351.5,921.3 351.8,919.1 352.0,918.9 352.2,921.5 352.5,917.5 352.8,917.3 353.0,920.5 353.2,919.8 353.5,924.9 353.8,924.2 354.0,923.1 354.2,923.7 354.5,926.4 354.8,922.7 355.0,926.5 355.2,925.4 355.5,931.6 355.8,929.3 356.0,927.8 356.2,929.1 356.5,931.0 356.8,928.5 357.0,932.6 357.2,935.4 357.5,930.6 357.8,932.2 358.0,932.1 358.2,928.6 358.5,933.5 358.8,934.3 359.0,934.6 359.2,935.2 359.5,934.1 359.8,935.7 360.0,933.3 360.2,935.5 360.5,934.0 360.8,936.9 361.0,935.7 361.2,936.9 361.5,938.8 361.8,933.8 362.0,936.3 362.2,936.0 362.5,937.1 362.8,936.4 363.0,937.6 363.2,934.9 363.5,938.1 363.8,934.8 364.0,938.8 364.2,934.8 364.5,938.9 364.8,936.5 365.0,938.9 365.2,936.0 365.5,936.6 365.8,938.7 366.0,936.4 366.2,936.3 366.5,939.0 366.8,935.6 367.0,937.0 367.2,936.8 367.5,934.1 367.8,934.9 368.0,936.5 368.2,934.5 368.5,931.4 368.8,927.6 369.0,933.1 369.2,931.7 369.5,932.2 369.8,934.0 370.0,923.4 370.2,930.1 370.5,924.6 370.8,936.8 371.0,932.6 371.2,932.2 371.5,925.4 371.8,928.3 372.0,927.6 372.2,926.8 372.5,926.3 372.8,925.1 373.0,927.9 373.2,924.1 373.5,924.5 373.8,924.4 374.0,921.0 374.2,923.4 374.5,922.7 374.8,920.7 375.0,920.1 375.2,918.9 375.5,919.9 375.8,921.6 376.0,922.0 376.2,921.1 376.5,920.7 376.8,921.2 377.0,921.7 377.2,922.0 377.5,923.6 377.8,921.9 378.0,922.1 378.2,922.2 378.5,923.1 378.8,925.2 379.0,926.2 379.2,923.7 379.5,926.7 379.8,926.6 380.0,923.0 380.2,923.2 380.5,925.8 380.8,926.1 381.0,930.4 381.2,928.0 381.5,928.8 381.8,927.8 382.0,932.9 382.2,937.3 382.5,932.2 382.8,926.8 383.0,933.2 383.2,931.8 383.5,934.7 383.8,938.4 384.0,941.8 384.2,931.5 384.5,932.4 384.8,935.7 385.0,934.6 385.2,937.8 385.5,940.5 385.8,943.8 386.0,941.4 386.2,944.7 386.5,943.2 386.8,942.9 387.0,943.4 387.2,945.2 387.5,946.0 387.8,944.1 388.0,946.4 388.2,945.6 388.5,948.5 388.8,946.7 389.0,949.2 389.2,947.6 389.5,946.4 389.8,948.6 390.0,949.3 390.2,950.8 390.5,949.4 390.8,952.1 391.0,949.7 391.2,951.6 391.5,950.8 391.8,952.1 392.0,947.7 392.2,948.9 392.5,949.8 392.8,946.3 393.0,945.7 393.2,951.3 393.5,949.4 393.8,945.9 394.0,950.2 394.2,946.5 394.5,947.4 394.8,943.3 395.0,945.2 395.2,944.9 395.5,944.7 395.8,942.2 396.0,943.8 396.2,940.2 396.5,940.7 396.8,941.4 397.0,938.8 397.2,937.2 397.5,935.3 397.8,940.0 398.0,935.0 398.2,938.6 398.5,930.9 398.8,932.3 399.0,927.3 399.2,935.3 399.5,934.1 399.8,932.1 400.0,927.7 400.2,922.2 400.5,930.1 400.8,924.3 401.0,921.8 401.2,920.2 401.5,925.3 401.8,916.3 402.0,922.0 402.2,915.6 402.5,918.9 402.8,915.7 403.0,921.4 403.2,918.6 403.5,914.8 403.8,915.6 404.0,908.7 404.2,913.2 404.5,913.1 404.8,911.4 405.0,912.0 405.2,903.8 405.5,908.3 405.8,903.1 406.0,908.2 406.2,901.2 406.5,903.4 406.8,898.0 407.0,903.0 407.2,904.3 407.5,898.5 407.8,901.9 408.0,892.8 408.2,892.2 408.5,897.4 408.8,894.0 409.0,894.1 409.2,889.5 409.5,894.3 409.8,887.9 410.0,887.2 410.2,888.3 410.5,885.2 410.8,885.2 411.0,889.2 411.2,882.1 411.5,880.2 411.8,878.6 412.0,879.5 412.2,872.6 412.5,875.0 412.8,879.2 413.0,866.1 413.2,878.0 413.5,877.3 413.8,867.9 414.0,865.9 414.2,857.5 414.5,869.6 414.8,863.0 415.0,861.2 415.2,852.8 415.5,855.1 415.8,846.7 416.0,852.6 416.2,843.9 416.5,846.5 416.8,843.2 417.0,840.2 417.2,838.6 417.5,837.7 417.8,825.9 418.0,832.0 418.2,831.6 418.5,825.9 418.8,827.6 419.0,822.4 419.2,827.7 419.5,820.1 419.8,819.8 420.0,819.5 420.2,816.9 420.5,818.1 420.8,810.5 421.0,809.2 421.2,809.7 421.5,809.6 421.8,806.4 422.0,803.6 422.2,802.9 422.5,799.0 422.8,800.8 423.0,798.0 423.2,800.7 423.5,794.0 423.8,797.1 424.0,793.3 424.2,790.2 424.5,787.7 424.8,791.0 425.0,784.7 425.2,783.4 425.5,780.5 425.8,782.7 426.0,778.8 426.2,779.9 426.5,779.0 426.8,777.1 427.0,776.8 427.2,775.3 427.5,774.3 427.8,772.9 428.0,771.8 428.2,770.2 428.5,770.6 428.8,769.9 429.0,767.7 429.2,766.9 429.5,764.9 429.8,764.2 430.0,764.5 430.2,762.3 430.5,762.0 430.8,760.4 431.0,760.1 431.2,757.8 431.8,756.8 432.2,755.2 432.8,753.5 433.2,750.9 433.8,750.2 434.2,748.0 434.8,746.8 435.2,745.9 435.8,744.8 436.2,742.3 436.8,741.3 437.2,739.7 437.8,738.2 438.2,736.3 438.8,735.9 439.2,734.3 439.8,733.2 440.2,731.1 440.8,729.7 441.2,728.5 441.8,727.1 442.2,725.2 442.8,723.7 443.2,722.7 443.8,722.3 444.2,720.8 444.8,719.8 445.2,719.3 445.8,719.0 446.2,718.9 446.8,718.1 447.2,717.2 447.8,717.2 448.2,716.4 448.8,716.2 449.2,715.5 449.8,715.2 450.2,714.9 450.8,714.8 451.2,714.9 451.8,714.8 452.2,714.7 452.8,715.8 453.2,716.3 453.8,717.6 454.2,719.7 454.8,721.3 455.2,722.9 455.8,724.6 456.2,726.0 456.8,727.8 457.2,728.7 457.8,730.4 458.2,732.2 458.8,733.2 459.2,734.8 459.8,736.5 460.2,737.7 460.8,739.3 461.2,740.5 461.8,741.2 462.2,741.3 462.8,741.6 463.2,741.4 463.8,741.2 464.2,740.4 464.8,740.0 465.2,738.9 465.8,738.2 466.2,736.7 466.8,735.7 467.2,734.5 467.8,733.5 468.2,732.1 468.8,731.4 469.2,729.6 469.8,728.1 470.2,726.7 470.8,724.9 471.2,723.4 471.8,721.6 472.2,719.7 472.8,718.4 473.2,717.1 473.8,716.2 474.2,715.7 474.8,714.9 475.2,714.4 475.8,713.8 476.2,713.3 476.8,713.0 477.2,712.5 477.8,712.1 478.2,711.6 478.8,711.2 479.2,710.7 479.8,710.4 480.2,709.7 480.8,709.3 481.2,708.9 481.8,708.4 482.2,707.9 482.8,707.5 483.2,707.1 483.8,706.8 484.2,706.6 484.8,706.4 485.8,706.4 486.8,707.4 487.8,709.1 488.8,711.2 489.8,713.8 490.8,717.3 491.8,721.5 492.8,726.2 493.8,732.0 494.8,738.7 495.8,746.1 496.8,754.9 497.8,765.6 498.8,773.9 499.8,777.2 500.8,779.1 501.8,780.5 502.8,782.1 503.8,784.7 504.8,791.6 505.8,806.6 506.8,824.8 507.8,841.6 508.8,858.9 509.8,875.6 510.8,890.7 511.8,904.5 512.8,914.4 513.8,921.0 514.8,929.4 515.8,939.7 516.8,950.2 517.8,959.3 518.8,967.4 519.8,974.8 520.8,982.0 521.8,987.2 522.8,991.3 523.8,998.7 524.8,1044.5 525.8,1045.0 526.8,1031.4 527.8,1014.6 528.8,1000.6 529.8,992.1 530.8,985.2 531.8,978.2 532.8,969.9 533.8,960.3 534.8,950.1 535.8,939.9 536.8,930.3 537.8,920.2 538.8,908.5 539.8,895.0 540.8,879.1 541.8,858.4 542.8,837.1 543.8,817.1 544.8,799.9 545.8,784.8 546.8,768.3 547.8,749.1 548.8,726.2 549.8,700.5 550.8,686.4 551.8,676.0 552.8,666.8 553.8,657.0 554.8,647.8 555.8,638.7 556.8,629.2 557.8,618.9 558.8,608.4 559.8,598.6 560.8,590.5 561.8,583.8 562.8,576.1 563.8,564.8 564.8,544.4 565.8,522.7 566.8,501.9 567.8,486.6 568.8,474.0 569.8,464.5 570.8,457.2 571.8,451.0 572.8,445.4 573.8,440.1 574.8,435.0 575.8,430.3 576.8,426.0 577.8,422.4 578.8,418.8 579.8,415.4 580.8,412.6 581.8,411.3 582.8,412.0 583.8,414.3 584.8,417.5 585.8,421.1 586.8,424.9 587.8,429.8 588.8,435.2 589.8,440.7 590.8,446.1 591.8,452.0 592.8,457.9 593.8,463.6 594.8,468.8 595.8,473.7 596.8,478.9 597.8,483.8 598.8,487.9 599.8,490.5 600.8,490.8 601.8,488.9 602.8,485.3 603.8,480.6 604.8,475.6 605.8,471.0 606.8,467.0 607.8,462.9 608.8,458.7 609.8,454.5 610.8,450.3 611.8,446.0 612.8,441.9 613.8,437.7 614.8,433.5 615.8,429.3 616.8,425.1 617.8,421.0 618.8,416.8 619.8,412.4 620.8,408.0 621.8,404.0 622.8,400.7 623.8,398.0 624.8,395.4 625.8,393.1 626.8,391.3 627.8,390.4 628.8,390.7 629.8,392.7 630.8,395.8 631.8,399.7 632.8,403.7 633.8,407.6 634.8,412.0 635.8,417.0 636.8,422.4 637.8,428.0 638.8,433.9 639.8,440.2 640.8,447.0 641.8,454.0 642.8,461.0 643.8,468.1 644.8,475.3 645.8,482.6 646.8,490.0 647.8,497.2 648.8,504.2 649.8,510.8 650.8,517.3 651.8,523.8 652.8,530.7 653.8,538.2 654.8,546.4 655.8,555.0 656.8,563.4 657.8,571.6 658.8,579.8 659.8,588.0 660.8,596.1 661.8,604.3 662.8,612.5 663.8,620.5 664.8,628.1 665.8,635.4 666.8,642.2 667.8,648.8 668.8,655.4 669.8,662.0 670.8,668.7 671.8,675.4 672.8,682.1 673.8,688.8 674.8,695.5 675.8,702.5 676.8,709.9 677.8,717.2 678.8,723.8 679.8,729.2 680.8,733.2 681.8,736.7 682.8,740.3 683.8,744.9 684.8,750.7 685.8,757.4 686.8,764.5 687.8,771.6 688.8,778.2 689.8,784.7 690.8,791.4 691.8,797.7 692.8,803.4 693.8,808.0 694.8,812.3 695.8,816.6 696.8,820.4 697.8,823.4 698.8,825.3 699.8,825.7 700.8,824.4 701.8,821.6 702.8,817.9 703.8,813.8 704.8,809.6 705.8,804.5 706.8,798.5 707.8,791.9 708.8,785.3 709.8,778.8 710.8,772.3 711.8,765.4 712.8,757.9 713.8,749.6 714.8,738.8 715.8,726.4 716.8,715.1 717.8,706.8 718.8,699.4 719.8,693.4 720.8,689.1 721.8,685.5 722.8,682.3 723.8,679.7 724.8,678.1 725.8,678.0 726.8,683.3 727.8,692.7 728.8,702.4 729.8,713.3 730.8,725.8 731.8,738.8 732.8,751.9 733.8,765.5 734.8,779.1 735.8,793.1 736.8,806.1 737.8,816.8 738.8,826.1 739.8,835.6 740.8,847.0 741.8,860.6 742.8,874.4 743.8,888.0 744.8,901.3 745.8,912.7 746.8,924.1 747.8,930.9 748.8,928.3 749.8,920.9 750.8,913.1 751.8,903.5 752.8,894.2 753.8,889.3 754.8,887.5 755.8,886.2 756.8,884.3 757.8,879.8 758.8,871.8 759.8,861.4 760.8,850.0 761.8,837.5 762.8,822.0 763.8,808.2 764.8,796.5 765.8,785.9 766.8,776.5 767.8,768.1 768.8,760.0 769.8,752.5 770.8,745.4 771.8,738.9 772.8,733.1 773.8,728.1 774.8,723.8 775.8,719.7 776.8,716.0 777.8,712.7 778.8,709.7 779.8,707.2 780.8,705.2 781.8,703.6 782.8,702.1 783.8,700.8 784.8,699.7 785.8,698.6 786.8,697.6 787.8,696.7 788.8,695.7 789.8,694.8 790.8,694.0 791.8,693.2 792.8,692.6 793.8,692.1 794.8,691.7 795.8,691.4 796.8,691.1 797.8,690.8 798.8,690.6 799.8,690.4 800.8,690.4 801.8,690.5 802.8,690.8 803.8,691.3 804.8,691.9 805.8,692.5 806.8,693.2 807.8,693.9 808.8,695.0 809.8,696.3 810.8,697.6 811.8,698.6 812.8,698.8 813.8,698.1 814.8,696.7 815.8,694.7 816.8,692.3 817.8,689.7 818.8,685.4 819.8,679.9 820.8,674.4 821.8,669.4 822.8,664.5 823.8,659.3 824.8,653.5 825.8,647.0 826.8,640.3 827.8,633.9 828.8,627.7 829.8,621.1 830.8,613.9 831.8,605.7 832.8,596.7 833.8,587.5 834.8,578.5 835.8,569.9 836.8,561.4 837.8,552.4 838.8,542.8 839.8,532.7 840.8,521.8 841.8,509.3 842.8,495.0 843.8,476.7 844.8,452.6 845.8,437.8 846.8,423.2 847.8,408.1 848.8,396.6 849.8,386.9 850.8,377.2 851.8,367.1 852.8,357.1 853.8,347.0 854.8,336.9 855.8,326.9 856.8,317.0 857.8,307.4 858.8,298.6 859.8,290.5 860.8,281.6 861.8,270.9 862.8,260.9 863.8,252.9 864.8,245.6 865.8,238.8 866.8,232.7 867.8,227.2 868.8,222.1 869.8,217.6 870.8,213.3 871.8,209.3 872.8,205.4 873.8,201.5 874.8,197.5 875.8,193.6 876.8,189.7 877.8,186.0 878.8,182.6 879.8,179.5 880.8,176.6 881.8,173.9 882.8,171.3 883.8,168.9 884.8,166.6 885.8,164.3 886.8,162.1 887.8,160.0 888.8,157.9 889.8,155.9 890.8,154.0 891.8,152.1 892.8,150.2 893.8,148.3 894.8,146.4 895.8,144.6 896.8,142.8 897.8,141.1 898.8,139.4 899.8,137.8 900.8,136.3 901.8,134.8 902.8,133.3 903.8,131.8 904.8,130.5 905.8,129.1 906.8,127.8 907.8,126.6 908.8,125.4 909.8,124.3 910.8,123.2 911.8,122.1 912.8,121.1 913.8,120.1 914.8,119.2 915.8,118.4 916.8,117.6 917.8,116.9 918.8,116.2 919.8,115.5 920.8,114.8 921.8,114.2 922.8,113.7 923.8,113.2 924.8,112.8 925.8,112.4 926.8,112.0 927.8,111.6 928.8,111.3 929.8,111.0 930.8,110.7 931.8,110.5 932.8,110.3 933.8,110.1 934.8,110.0 935.8,109.9 936.8,109.7 937.8,109.6 938.8,109.5 939.8,109.5 940.8,109.4 941.8,109.4 942.8,109.5 943.8,109.7 944.8,110.0 945.8,110.4 946.8,110.9 947.8,111.4 948.8,111.9 949.8,112.5 950.8,113.1 951.8,113.8 952.8,114.6 953.8,115.5 954.8,116.5 955.8,117.6 956.8,118.8 957.8,120.1 958.8,121.4 959.8,123.0 960.8,124.8 961.8,126.8 962.8,129.0 963.8,131.3 964.8,133.8 965.8,136.5 966.8,139.6 967.8,143.1 968.8,146.9 969.8,151.3 970.8,156.3 971.8,162.2 972.8,168.9 973.8,177.2 974.8,188.0 975.8,203.9 976.8,222.4 977.8,242.7 978.8,260.4 979.8,286.6 980.8,335.2 981.8,368.0 982.8,439.1 983.8,488.4 984.8,542.3 985.8,600.2 986.8,688.8 987.8,741.6 988.8,765.1 989.8,781.7 990.8,790.3 991.8,788.7 992.8,777.4 993.8,759.0 994.8,726.7 995.8,671.9 996.8,627.3 997.8,579.0 998.8,515.5 999.8,437.6 1000.8,399.0 1001.8,358.7 1002.8,318.2 1003.8,292.2 1004.8,271.6 1005.8,228.9 1006.8,201.7 1007.8,184.0 1008.8,169.7 1009.8,159.3 1010.8,151.5 1011.8,144.9 1012.8,139.5 1013.8,135.2 1014.8,131.6 1015.8,128.5 1016.8,125.8 1017.8,123.5 1018.8,121.4 1019.8,119.5 1020.8,117.7 1021.8,116.1 1022.8,114.6 1023.8,113.3 1024.8,112.1 1025.8,110.9 1026.8,109.9 1027.8,109.0 1028.8,108.1 1029.8,107.3 1030.8,106.6 1031.8,105.8 1032.8,105.2 1033.8,104.5 1034.8,103.9 1035.8,103.3 1036.8,102.7 1037.8,102.1 1038.8,101.6 1039.8,101.0 1040.8,100.6 1041.8,100.1 1042.8,99.7 1043.8,99.4 1044.8,99.1 1045.8,98.9 1046.8,98.6 1047.8,98.4 1048.8,98.2 1049.8,98.0 1050.8,97.8 1051.8,97.6 1052.8,97.5 1053.8,97.4 1054.8,97.2 1055.8,97.1 1056.8,97.0 1057.8,97.0 1058.8,96.9 1059.8,96.8 1060.8,96.7 1061.8,96.6 1062.8,96.6 1063.8,96.5 1064.8,96.3 1065.8,96.2 1066.8,96.0 1067.8,95.8 1068.8,95.6 1069.8,95.4 1070.8,95.2 1071.8,95.0 1072.8,94.9 1073.8,94.8 1074.8,94.8 1075.8,94.8 1076.8,94.8 1077.8,94.9 1078.8,94.9 1079.8,95.0 1080.8,95.1 1081.8,95.1 1082.8,95.2 1083.8,95.4 1084.8,95.5 1085.8,95.7 1086.8,96.4 1087.8,97.4 1088.8,98.6 1089.8,100.0 1090.8,101.4 1091.8,102.7 1092.8,103.8 1093.8,104.6 1094.8,105.1 1095.8,105.7 1096.8,106.1 1097.8,106.6 1098.8,107.0 1099.8,107.3 1100.8,107.7 1101.8,108.1 1102.8,108.4 1103.8,108.9 1104.8,109.3 1105.8,109.7 1106.8,110.1 1107.8,110.5 1108.8,110.9 1109.8,111.3 1110.8,111.7 1111.8,112.1 1112.8,112.6 1113.8,113.1 1114.8,113.7 1115.8,114.3 1116.8,115.0 1117.8,115.7 1118.8,116.5 1119.8,117.4 1120.8,118.3 1121.8,119.4 1122.8,120.5 1123.8,121.8 1124.8,123.3 1125.8,124.8 1126.8,126.5 1127.8,128.3 1128.8,130.4 1129.8,132.7 1130.8,135.1 1131.8,137.1 1132.8,138.6 1133.8,140.0 1134.8,141.2 1135.8,142.3 1136.8,143.4 1137.8,144.5 1138.8,145.6 1139.8,146.9 1140.8,148.5 1141.8,150.3 1142.8,152.0 1143.8,153.5 1144.8,154.6 1145.8,155.1 1146.8,154.4 1147.8,152.3 1148.8,149.2 1149.8,145.7 1150.8,140.1 1151.8,133.2 1152.8,128.0 1153.8,124.3 1154.8,121.0 1155.8,118.3 1156.8,115.9 1157.8,113.8 1158.8,111.7 1159.8,109.8 1160.8,108.2 1161.8,107.0 1162.8,106.6 1163.8,106.6 1164.8,106.6 1165.8,106.6 1166.8,106.6 1167.8,106.6 1168.8,106.6 1169.8,107.1 1170.8,108.4 1171.8,110.3 1172.8,112.3 1173.8,114.4 1174.8,116.3 1175.8,118.4 1176.8,120.7 1177.8,122.6 1178.8,123.7 1179.8,123.3 1180.8,121.6 1181.8,119.2 1182.8,116.6 1183.8,114.2 1184.8,111.4 1185.8,108.4 1186.8,105.3 1187.8,102.6 1188.8,100.6 1189.8,99.6 1190.8,98.9 1191.8,98.2 1192.8,97.6 1193.2,97.4 1193.8,97.3 1194.2,96.9 1194.8,96.9 1195.2,96.6 1195.8,96.5 1196.2,96.6 1196.8,96.4 1197.2,96.4 1197.8,96.5 1198.2,96.4 1198.8,96.1 1199.2,96.1 1199.8,96.0 1200.2,96.0 1200.8,95.9 1201.2,96.3 1201.8,96.0 1202.2,96.0 1202.8,95.6 1203.2,95.7 1203.8,96.2 1204.2,95.6 1204.8,95.4 1205.2,95.7 1205.8,95.3 1206.2,95.4 1206.8,95.2 1207.2,95.3 1207.8,95.3 1208.2,95.8 1208.8,95.0 1209.2,96.0 1209.8,95.0 1210.2,95.8 1210.8,95.8 1211.2,94.9 1211.8,94.7 1212.2,95.3 1212.8,95.2 1213.2,94.1 1213.8,94.0 1214.2,95.4 1214.8,95.3 1215.2,94.7 1215.8,93.9 1216.2,94.4 1216.8,93.8 1217.2,94.0 1217.8,94.9 1218.2,94.6 1218.8,93.5 1219.2,93.5 1219.8,94.7 1220.2,92.7 1220.8,93.8 1221.2,93.8 1221.8,93.0 1222.2,93.6 1222.8,93.7 1223.0,93.7 1223.2,92.9 1223.5,92.9 1223.8,92.2 1224.0,93.3 1224.2,93.6 1224.5,92.1 1224.8,92.4 1225.0,92.3 1225.2,93.4 1225.5,93.0 1225.8,94.1 1226.0,92.5 1226.2,93.6 1226.5,93.3 1226.8,92.9 1227.0,92.4 1227.2,91.9 1227.5,93.3 1227.8,92.4 1228.0,93.6 1228.2,91.5 1228.5,92.8 1228.8,92.8 1229.0,92.3 1229.2,92.9 1229.5,91.8 1229.8,92.1 1230.0,93.2 1230.2,91.2 1230.5,92.0 1230.8,91.8 1231.0,93.0 1231.2,92.3 1231.5,92.4 1231.8,91.8 1232.0,91.6 1232.2,91.8 1232.5,91.4 1232.8,91.4 1233.0,92.2 1233.2,93.4 1233.5,91.5 1233.8,92.7 1234.0,93.4 1234.2,92.9 1234.5,91.4 1234.8,92.2 1235.0,93.4 1235.2,92.5 1235.5,90.8 1235.8,90.8 1236.0,91.3 1236.2,92.9 1236.5,92.5 1236.8,91.5 1237.0,92.5 1237.2,91.7 1237.5,93.2 1237.8,91.3 1238.0,90.6 1238.2,91.1 1238.5,92.1 1238.8,91.7 1239.0,91.4 1239.2,91.9 1239.5,91.2 1239.8,92.1 1240.0,92.4 1240.2,92.1 1240.5,91.8 1240.8,91.6 1241.0,93.0 1241.2,90.5 1241.5,90.8 1241.8,91.7 1242.0,92.9 1242.2,91.1 1242.5,92.4 1242.8,91.3 1243.0,92.7 1243.2,90.6 1243.5,91.6 1243.8,91.4 1244.0,91.8 1244.2,92.6 1244.5,91.0 1244.8,91.6 1245.0,92.3 1245.2,90.8 1245.5,92.1 1245.8,91.2 1246.0,91.4 1246.2,91.6 1246.5,92.1 1246.8,90.2 1247.0,91.4 1247.2,91.0 1247.5,90.1 1247.8,91.2 1248.0,91.8 1248.2,90.1 1248.5,92.5 1248.8,90.2 1249.0,91.4 1249.2,91.7 1249.5,91.4 1249.8,91.3 1250.0,90.9 1250.2,92.1 1250.5,91.8 1250.8,90.7 1251.0,92.6 1251.2,90.6 1251.5,90.3 1251.8,90.8 1252.0,91.8 1252.2,90.0 1252.5,91.6 1252.8,91.4 1253.0,90.3 1253.2,92.0 1253.5,91.9 1253.8,91.3 1254.0,90.2 1254.2,91.2 1254.5,90.6 1254.8,91.6 1255.0,91.0 1255.2,91.8 1255.5,91.6 1255.8,90.8 1256.0,91.9 1256.2,91.8 1256.5,90.9 1256.8,91.5 1257.0,91.4 1257.2,91.1 1257.5,90.9 1257.8,92.4 1258.0,91.6 1258.2,92.0 1258.5,92.0 1258.8,92.7 1259.0,91.7 1259.2,91.8 1259.5,92.7 1259.8,93.0 1260.0,90.8 1260.2,92.4 1260.5,90.6 1260.8,91.6 1261.0,92.5 1261.2,91.2 1261.5,92.1 1261.8,92.6 1262.0,93.2 1262.2,92.6 1262.5,91.4 1262.8,92.7 1263.0,92.6 1263.2,91.5 1263.5,92.6 1263.8,92.3 1264.0,91.6 1264.2,90.8 1264.5,93.1 1264.8,92.5 1265.0,93.1 1265.2,91.7 1265.5,90.8 1265.8,92.0 1266.0,92.1 1266.2,91.1 1266.5,92.4 1266.8,92.6 1267.0,92.2 1267.2,92.2 1267.5,91.5 1267.8,93.0 1268.0,93.1 1268.2,92.6 1268.5,92.1 1268.8,92.7 1269.0,92.1 1269.2,92.1 1269.5,93.1 1269.8,90.9 1270.0,91.5 1270.2,90.6 1270.5,91.3 1270.8,92.8 1271.0,91.1 1271.2,92.1 1271.5,91.1 1271.8,92.4 1272.0,92.4 1272.2,92.9 1272.5,92.4 1272.8,92.1 1273.0,91.3 1273.2,90.7 1273.5,91.4 1273.8,91.2 1274.0,90.3 1274.2,92.8 1274.5,90.6 1274.8,91.1 1275.0,90.5 1275.2,90.2 1275.5,92.4 1275.8,92.0 1276.0,92.1 1276.2,92.4 1276.5,91.0 1276.8,92.7 1277.0,92.7 1277.2,91.5 1277.5,90.4 1277.8,91.0 1278.0,90.6 1278.2,90.4 1278.5,91.8 1278.8,92.3 1279.0,91.4 1279.2,91.3 1279.5,92.4 1279.8,90.8 1280.0,90.8 1280.2,90.0 1280.5,90.8 1280.8,91.7 1281.0,91.3 1281.2,92.5 1281.5,91.0 1281.8,91.4 1282.0,91.1 1282.2,92.1 1282.5,91.6 1282.8,90.2 1283.0,91.0 1283.2,92.4 1283.5,91.8 1283.8,91.1 1284.0,90.9 1284.2,91.1 1284.5,90.8 1284.8,91.9 1285.0,90.6 1285.2,92.2 1285.5,92.7 1285.8,91.9 1286.0,91.0 1286.2,91.1 1286.5,92.6 1286.8,92.0 1287.0,90.4 1287.2,90.4 1287.5,91.1 1287.8,90.3 1288.0,92.3 1288.2,92.6 1288.5,91.7 1288.8,91.9 1289.0,91.6 1289.2,90.3 1289.5,91.3 1289.8,92.9 1290.0,92.0 1290.2,92.3 1290.5,91.0 1290.8,91.1 1291.0,90.5 1291.2,91.2 1291.5,91.3 1291.8,92.1 1292.0,92.1 1292.2,91.9 1292.5,93.0 1292.8,91.9 1293.0,92.1 1293.2,90.6 1293.5,92.3 1293.8,92.1 1294.0,92.7 1294.2,92.7 1294.5,90.7 1294.8,91.9 1295.0,91.8 1295.2,93.3 1295.5,91.8 1295.8,91.8 1296.0,92.6 1296.2,93.1 1296.5,91.0 1296.8,91.9 1297.0,93.3 1297.2,92.9 1297.5,92.9 1297.8,92.8 1298.0,91.2 1298.2,92.9 1298.5,91.1 1298.8,93.7 1299.0,91.7 1299.2,91.5 1299.5,93.8 1299.8,93.2 1300.0,91.9 1300.2,93.5 1300.5,93.5 1300.8,92.8 1301.0,93.2 1301.2,91.5 1301.5,92.0 1301.8,93.6 1302.0,92.5 1302.2,93.3 1302.5,93.4 1302.8,93.1 1303.0,93.3 1303.2,93.2 1303.5,92.8 1303.8,93.3 1304.0,93.6 1304.2,92.8 1304.5,93.9 1304.8,93.5 1305.0,93.1 1305.2,93.1 1305.5,94.7 1305.8,94.2 1306.0,94.3 1306.2,93.5 1306.5,93.6 1306.8,93.7 1307.0,93.5 1307.2,94.4 1307.5,92.7 1307.8,95.0 1308.0,94.1 1308.2,95.2 1308.5,95.0 1308.8,94.9 1309.0,93.3 1309.2,94.3 1309.5,94.9 1309.8,95.4 1310.0,94.2 1310.2,93.0 1310.5,95.0 1310.8,93.8 1311.0,95.3 1311.2,94.4 1311.5,95.4 1311.8,95.6 1312.0,93.9 1312.2,95.7 1312.5,93.9 1312.8,94.4 1313.0,94.2 1313.2,96.0 1313.5,95.4 1313.8,95.2 1314.0,94.4 1314.2,95.1 1314.5,94.8 1314.8,94.5 1315.0,93.8 1315.2,94.3 1315.5,94.7 1315.8,95.7 1316.0,93.9 1316.2,96.2 1316.5,95.0 1316.8,94.9 1317.0,94.1 1317.2,95.2 1317.5,95.9 1317.8,94.2 1318.0,96.4 1318.2,96.7 1318.5,95.7 1318.8,95.3 1319.0,94.9 1319.2,96.6 1319.5,96.0 1319.8,95.2 1320.0,95.9 1320.2,94.6 1320.5,96.2 1320.8,95.4 1321.0,95.2 1321.2,95.8 1321.5,96.5 1321.8,96.6 1322.0,95.9 1322.2,96.0 1322.5,95.1 1322.8,94.9 1323.0,97.5 1323.2,96.1 1323.5,96.9 1323.8,96.5 1324.0,96.1 1324.2,96.1 1324.5,95.5 1324.8,95.9 1325.0,97.0 1325.2,97.4 1325.5,96.6 1325.8,96.8 1326.0,97.0 1326.2,96.8 1326.5,95.5 1326.8,95.7 1327.0,96.2 1327.2,97.3 1327.5,96.4 1327.8,97.4 1328.0,96.8 1328.2,96.9 1328.5,95.5 1328.8,96.1 1329.0,96.1 1329.2,95.6 1329.5,96.4 1329.8,96.6 1330.0,96.8 1330.2,97.6 1330.5,96.3 1330.8,97.4 1331.0,98.2 1331.2,96.2 1331.5,97.1 1331.8,98.3 1332.0,97.0 1332.2,96.3 1332.5,96.6 1332.8,98.0 1333.0,96.0 1333.2,97.5 1333.5,97.0"/>
<path class="c" stroke="#004FA0" d="M141.5,725.3 141.8,650.5 142.0,665.7 142.2,662.0 142.5,700.6 142.8,746.0 143.0,633.5 143.2,746.4 143.5,721.7 143.8,709.2 144.0,765.1 144.2,746.7 144.5,752.0 144.8,764.0 145.0,706.4 145.2,716.0 145.5,717.3 145.8,710.4 146.0,730.6 146.2,720.5 146.5,732.5 146.8,740.1 147.0,725.3 147.2,735.3 147.5,744.6 147.8,733.9 148.0,777.9 148.2,759.6 148.5,757.8 148.8,750.7 149.0,734.2 149.2,775.1 149.5,723.2 149.8,758.3 150.0,710.8 150.2,760.1 150.5,767.1 150.8,738.4 151.0,718.7 151.2,684.8 151.5,708.7 151.8,604.1 152.0,591.8 152.2,687.1 152.5,663.6 152.8,710.2 153.0,690.9 153.2,766.2 153.5,766.6 153.8,737.7 154.0,727.2 154.2,648.6 154.5,668.0 154.8,612.6 155.0,718.9 155.2,555.9 155.5,588.3 155.8,712.2 156.0,590.6 156.2,577.1 156.5,574.0 156.8,676.7 157.0,608.9 157.2,512.6 157.5,534.9 157.8,615.6 158.0,561.9 158.2,601.5 158.5,609.7 158.8,511.3 159.0,593.1 159.2,607.1 159.5,480.2 159.8,558.5 160.0,523.4 160.2,524.6 160.5,517.6 160.8,575.6 161.0,516.7 161.2,548.2 161.5,536.7 161.8,531.4 162.0,519.3 162.2,474.0 162.5,531.3 162.8,530.8 163.0,476.3 163.2,530.1 163.5,470.8 163.8,510.2 164.0,548.6 164.2,564.9 164.5,490.8 164.8,482.0 165.0,481.3 165.2,564.9 165.5,530.2 165.8,479.4 166.0,542.5 166.2,519.5 166.5,515.1 166.8,507.9 167.0,470.8 167.2,511.5 167.5,521.6 167.8,551.1 168.0,514.2 168.2,519.9 168.5,549.7 168.8,523.4 169.0,525.1 169.2,516.6 169.5,553.0 169.8,511.2 170.0,551.1 170.2,554.0 170.5,489.7 170.8,548.4 171.0,526.1 171.2,511.9 171.5,553.5 171.8,537.0 172.0,576.6 172.2,547.1 172.5,535.3 172.8,552.1 173.0,521.2 173.2,537.2 173.5,535.0 173.8,580.0 174.0,573.3 174.2,540.0 174.5,582.6 174.8,566.3 175.0,557.5 175.2,552.6 175.5,564.8 175.8,554.6 176.0,572.0 176.2,583.0 176.5,551.6 176.8,536.9 177.0,539.8 177.2,556.7 177.5,572.2 177.8,559.6 178.0,547.2 178.2,549.3 178.5,542.2 178.8,559.6 179.0,572.8 179.2,553.0 179.5,569.2 179.8,571.1 180.0,572.0 180.2,553.3 180.5,550.5 180.8,576.5 181.0,552.6 181.2,573.0 181.5,549.7 181.8,555.5 182.0,560.1 182.2,547.0 182.5,552.0 182.8,541.5 183.0,569.9 183.2,601.8 183.5,581.9 183.8,581.2 184.0,594.3 184.2,572.6 184.5,584.0 184.8,590.4 185.0,530.0 185.2,547.3 185.5,567.8 185.8,644.0 186.0,557.0 186.2,595.3 186.5,574.1 186.8,575.1 187.0,597.2 187.2,573.4 187.5,644.7 187.8,605.7 188.0,574.8 188.2,617.7 188.5,624.4 188.8,644.5 189.0,643.9 189.2,615.6 189.5,615.9 189.8,612.4 190.0,606.2 190.2,578.8 190.5,582.8 190.8,608.8 191.0,604.9 191.2,597.8 191.5,607.3 191.8,619.2 192.0,586.8 192.2,593.7 192.5,557.1 192.8,586.9 193.0,627.6 193.2,592.6 193.5,599.7 193.8,591.0 194.0,577.3 194.2,639.5 194.5,567.2 194.8,623.5 195.0,614.6 195.2,612.7 195.5,603.6 195.8,608.5 196.0,631.5 196.2,621.6 196.5,620.5 196.8,629.2 197.0,632.4 197.2,606.4 197.5,635.2 197.8,624.8 198.0,636.9 198.2,633.6 198.5,618.1 198.8,633.1 199.0,620.5 199.2,631.9 199.5,611.5 199.8,622.8 200.0,627.1 200.2,617.9 200.5,628.1 200.8,610.8 201.0,615.3 201.2,630.7 201.5,639.6 201.8,610.0 202.0,625.8 202.2,630.3 202.5,621.8 202.8,615.3 203.0,625.4 203.2,639.0 203.5,638.6 203.8,633.7 204.0,635.0 204.2,608.1 204.5,615.2 204.8,622.0 205.0,642.3 205.2,624.0 205.5,623.5 205.8,627.8 206.0,632.1 206.2,638.6 206.5,625.8 206.8,644.9 207.0,638.7 207.2,637.3 207.5,641.7 207.8,642.6 208.0,650.7 208.2,643.3 208.5,649.5 208.8,650.9 209.0,656.6 209.2,646.9 209.5,648.6 209.8,649.4 210.0,649.2 210.2,655.9 210.5,653.5 210.8,659.3 211.0,657.4 211.2,657.0 211.5,654.1 211.8,656.0 212.0,652.6 212.2,662.2 212.5,662.1 212.8,658.6 213.0,654.3 213.2,665.3 213.5,651.1 213.8,660.6 214.0,660.9 214.2,656.3 214.5,655.4 214.8,664.8 215.0,660.4 215.2,658.8 215.5,662.5 215.8,659.4 216.0,659.2 216.2,663.7 216.5,662.8 216.8,664.1 217.0,665.8 217.2,669.7 217.5,662.0 217.8,667.8 218.0,672.2 218.2,663.3 218.5,670.2 218.8,674.2 219.0,682.6 219.2,675.9 219.5,684.1 219.8,678.7 220.0,658.3 220.2,671.5 220.5,675.9 220.8,666.5 221.0,660.7 221.2,690.5 221.5,680.6 221.8,671.3 222.0,669.1 222.2,668.8 222.5,672.7 222.8,684.7 223.0,680.1 223.2,688.0 223.5,675.9 223.8,679.3 224.0,678.1 224.2,686.6 224.5,689.4 224.8,684.1 225.0,680.6 225.2,680.7 225.5,685.1 225.8,687.1 226.0,685.5 226.2,688.0 226.5,687.8 226.8,682.8 227.0,681.3 227.2,682.9 227.5,685.7 227.8,680.0 228.0,684.4 228.2,686.8 228.5,680.2 228.8,686.6 229.0,683.8 229.2,681.6 229.5,685.0 229.8,685.4 230.0,688.4 230.2,694.3 230.5,692.9 230.8,694.1 231.0,697.0 231.2,675.9 231.5,687.3 231.8,697.9 232.0,697.0 232.2,683.3 232.5,681.6 232.8,696.4 233.0,699.2 233.2,706.6 233.5,687.5 233.8,697.7 234.0,691.9 234.2,689.3 234.5,698.8 234.8,690.2 235.0,684.5 235.2,694.9 235.5,690.4 235.8,705.0 236.0,695.4 236.2,703.8 236.5,718.7 236.8,714.1 237.0,710.8 237.2,706.1 237.5,715.8 237.8,704.7 238.0,708.4 238.2,705.4 238.5,715.7 238.8,712.6 239.0,707.0 239.2,717.4 239.5,714.3 239.8,710.2 240.0,717.2 240.2,708.6 240.5,711.1 240.8,705.9 241.0,712.2 241.2,701.2 241.5,710.5 241.8,702.7 242.0,704.3 242.2,704.2 242.5,717.3 242.8,710.2 243.0,708.1 243.2,694.8 243.5,709.2 243.8,702.1 244.0,698.6 244.2,698.4 244.5,699.8 244.8,700.9 245.0,699.1 245.2,703.7 245.5,707.0 245.8,696.8 246.0,694.3 246.2,691.9 246.5,691.3 246.8,697.7 247.0,690.9 247.2,694.3 247.5,686.6 247.8,697.3 248.0,694.4 248.2,690.0 248.5,687.3 248.8,691.0 249.0,688.5 249.2,688.8 249.5,685.2 249.8,687.8 250.0,687.1 250.2,686.3 250.5,688.6 250.8,690.2 251.0,691.2 251.2,686.3 251.5,688.0 251.8,687.7 252.0,686.2 252.2,690.5 252.5,686.5 252.8,688.8 253.0,687.9 253.2,690.4 253.5,685.3 253.8,685.1 254.0,688.9 254.2,690.7 254.5,687.3 254.8,686.4 255.0,691.2 255.2,687.7 255.5,683.8 255.8,688.0 256.0,692.5 256.2,689.2 256.5,687.1 256.8,685.4 257.0,685.4 257.2,693.5 257.5,684.7 257.8,692.7 258.0,684.7 258.2,686.8 258.5,687.4 258.8,690.1 259.0,690.6 259.2,686.9 259.5,691.7 259.8,685.0 260.0,684.1 260.2,691.6 260.5,690.0 260.8,688.0 261.0,687.0 261.2,685.0 261.5,681.8 261.8,683.0 262.0,682.9 262.2,682.1 262.5,689.9 262.8,687.9 263.0,683.7 263.2,683.5 263.5,684.2 263.8,688.0 264.0,687.2 264.2,681.3 264.5,687.0 264.8,687.3 265.0,686.5 265.2,682.3 265.5,680.5 265.8,684.5 266.0,679.4 266.2,685.5 266.5,681.0 266.8,679.2 267.0,682.3 267.2,676.4 267.5,677.6 267.8,675.5 268.0,684.6 268.2,679.2 268.5,681.2 268.8,679.0 269.0,679.0 269.2,676.3 269.5,685.8 269.8,680.8 270.0,681.8 270.2,683.1 270.5,677.7 270.8,677.6 271.0,683.4 271.2,681.4 271.5,683.7 271.8,682.4 272.0,689.7 272.2,680.9 272.5,687.9 272.8,680.6 273.0,689.2 273.2,683.2 273.5,686.8 273.8,687.9 274.0,684.9 274.2,681.9 274.5,684.0 274.8,682.5 275.0,683.7 275.2,687.6 275.5,684.0 275.8,684.4 276.0,683.0 276.2,681.4 276.5,684.8 276.8,682.6 277.0,677.6 277.2,679.2 277.5,679.4 277.8,680.1 278.0,677.3 278.2,673.3 278.5,682.9 278.8,682.2 279.0,684.7 279.2,681.3 279.5,677.3 279.8,680.1 280.0,681.8 280.2,676.3 280.5,677.4 280.8,679.1 281.0,672.4 281.2,676.5 281.5,679.1 281.8,677.0 282.0,682.5 282.2,684.0 282.5,679.3 282.8,672.9 283.0,680.1 283.2,682.1 283.5,681.1 283.8,687.8 284.0,684.5 284.2,690.3 284.5,682.2 284.8,685.2 285.0,681.3 285.2,681.2 285.5,682.0 285.8,685.0 286.0,689.7 286.2,678.4 286.5,687.7 286.8,689.4 287.0,684.6 287.2,692.8 287.5,694.0 287.8,695.0 288.0,686.6 288.2,692.6 288.5,694.5 288.8,687.3 289.0,687.3 289.2,689.3 289.5,696.3 289.8,691.4 290.0,695.7 290.2,697.9 290.5,692.8 290.8,693.8 291.0,696.1 291.2,696.9 291.5,696.7 291.8,700.2 292.0,698.5 292.2,699.1 292.5,696.6 292.8,695.6 293.0,695.7 293.2,692.7 293.5,695.4 293.8,693.7 294.0,693.8 294.2,695.4 294.5,696.5 294.8,697.5 295.0,691.7 295.2,694.3 295.5,696.1 295.8,691.0 296.0,699.6 296.2,699.8 296.5,699.3 296.8,695.6 297.0,691.2 297.2,696.6 297.5,691.7 297.8,696.4 298.0,701.2 298.2,697.0 298.5,696.9 298.8,695.1 299.0,693.8 299.2,699.8 299.5,693.8 299.8,701.2 300.0,697.6 300.2,698.0 300.5,703.3 300.8,698.5 301.0,702.8 301.2,695.6 301.5,705.0 301.8,697.4 302.0,696.5 302.2,702.1 302.5,697.6 302.8,700.6 303.0,702.6 303.2,698.3 303.5,706.7 303.8,702.7 304.0,701.5 304.2,702.6 304.5,701.8 304.8,707.5 305.0,700.7 305.2,706.8 305.5,702.0 305.8,701.0 306.0,702.7 306.2,699.5 306.5,702.6 306.8,703.4 307.0,705.4 307.2,698.2 307.5,702.2 307.8,704.7 308.0,703.4 308.2,705.1 308.5,698.5 308.8,698.3 309.0,702.3 309.2,703.7 309.5,696.9 309.8,695.6 310.0,701.3 310.2,696.2 310.5,696.7 310.8,698.6 311.0,699.1 311.2,694.0 311.5,693.1 311.8,699.3 312.0,698.4 312.2,698.3 312.5,701.4 312.8,700.4 313.0,706.4 313.2,710.1 313.5,707.0 313.8,700.2 314.0,705.0 314.2,704.8 314.5,706.1 314.8,703.3 315.0,697.0 315.2,704.5 315.5,700.6 315.8,711.4 316.0,704.8 316.2,703.8 316.5,715.6 316.8,705.1 317.0,714.5 317.2,709.9 317.5,710.1 317.8,703.7 318.0,701.3 318.2,705.7 318.5,711.4 318.8,708.7 319.0,715.7 319.2,715.2 319.5,711.1 319.8,713.4 320.0,711.8 320.2,711.7 320.5,713.5 320.8,710.4 321.0,710.6 321.2,707.7 321.5,710.7 321.8,707.3 322.0,708.6 322.2,709.1 322.5,712.1 322.8,710.0 323.0,711.8 323.2,712.2 323.5,710.8 323.8,712.8 324.0,711.0 324.2,716.8 324.5,717.3 324.8,717.6 325.0,707.3 325.2,725.3 325.5,711.7 325.8,722.9 326.0,714.9 326.2,716.9 326.5,717.8 326.8,719.2 327.0,722.0 327.2,713.8 327.5,707.6 327.8,721.3 328.0,717.1 328.2,726.0 328.5,730.0 328.8,726.7 329.0,714.7 329.2,722.5 329.5,725.9 329.8,726.4 330.0,725.6 330.2,729.5 330.5,731.3 330.8,728.8 331.0,728.6 331.2,729.0 331.5,730.9 331.8,727.4 332.0,729.1 332.2,731.2 332.5,730.8 332.8,733.4 333.0,730.2 333.2,734.8 333.5,734.1 333.8,733.6 334.0,737.2 334.2,737.7 334.5,737.0 334.8,746.1 335.0,743.6 335.2,741.8 335.5,736.7 335.8,748.2 336.0,747.2 336.2,735.2 336.5,745.2 336.8,752.6 337.0,740.4 337.2,745.6 337.5,731.7 337.8,751.9 338.0,748.7 338.2,747.3 338.5,732.4 338.8,763.3 339.0,755.8 339.2,747.5 339.5,748.0 339.8,762.3 340.0,743.8 340.2,751.1 340.5,761.9 340.8,766.1 341.0,750.8 341.2,757.1 341.5,767.2 341.8,764.8 342.0,764.9 342.2,758.7 342.5,763.0 342.8,763.8 343.0,768.9 343.2,763.7 343.5,767.0 343.8,760.8 344.0,762.9 344.2,765.5 344.5,765.3 344.8,766.3 345.0,767.9 345.2,765.3 345.5,770.1 345.8,769.5 346.0,768.9 346.2,772.1 346.5,766.9 346.8,770.6 347.0,774.3 347.2,770.1 347.5,774.1 347.8,773.7 348.0,773.6 348.2,770.2 348.5,771.0 348.8,776.2 349.0,770.8 349.2,774.4 349.5,771.9 349.8,772.2 350.0,779.8 350.2,777.4 350.5,780.8 350.8,779.0 351.0,774.6 351.2,775.5 351.5,779.8 351.8,777.3 352.0,777.6 352.2,777.3 352.5,775.1 352.8,777.1 353.0,776.5 353.2,775.8 353.5,785.4 353.8,784.5 354.0,787.1 354.2,788.9 354.5,784.2 354.8,785.3 355.0,790.4 355.2,783.7 355.5,786.3 355.8,782.5 356.0,792.7 356.2,786.6 356.5,783.0 356.8,788.5 357.0,794.1 357.2,782.9 357.5,797.7 357.8,794.1 358.0,802.5 358.2,784.9 358.5,801.3 358.8,802.4 359.0,802.1 359.2,804.1 359.5,792.0 359.8,789.4 360.0,797.7 360.2,796.4 360.5,796.8 360.8,803.5 361.0,794.7 361.2,796.7 361.5,800.0 361.8,802.8 362.0,805.6 362.2,805.7 362.5,805.3 362.8,807.0 363.0,804.6 363.2,802.3 363.5,803.6 363.8,807.3 364.0,806.6 364.2,804.0 364.5,804.7 364.8,804.8 365.0,806.8 365.2,807.6 365.5,805.5 365.8,806.6 366.0,806.7 366.2,804.2 366.5,807.7 366.8,808.6 367.0,806.9 367.2,806.0 367.5,808.9 367.8,808.6 368.0,808.2 368.2,803.3 368.5,807.3 368.8,808.2 369.0,806.2 369.2,806.0 369.5,805.7 369.8,801.8 370.0,802.1 370.2,801.9 370.5,802.4 370.8,806.1 371.0,804.3 371.2,800.0 371.5,802.3 371.8,803.8 372.0,800.2 372.2,802.9 372.5,802.5 372.8,799.0 373.0,804.4 373.2,802.5 373.5,803.1 373.8,803.8 374.0,800.8 374.2,801.1 374.5,801.4 374.8,798.8 375.0,803.1 375.2,799.7 375.5,799.2 375.8,800.7 376.0,799.8 376.2,803.8 376.5,800.4 376.8,799.6 377.0,801.5 377.2,804.3 377.5,802.6 377.8,803.0 378.0,802.3 378.2,803.6 378.5,804.5 378.8,803.9 379.0,806.8 379.2,807.4 379.5,810.3 379.8,804.4 380.0,805.3 380.2,812.1 380.5,809.9 380.8,807.4 381.0,811.8 381.2,807.5 381.5,818.5 381.8,811.3 382.0,805.8 382.2,806.6 382.5,828.5 382.8,825.8 383.0,825.1 383.2,819.7 383.5,810.6 383.8,818.6 384.0,820.3 384.2,831.2 384.5,834.2 384.8,824.5 385.0,838.1 385.2,832.5 385.5,838.0 385.8,835.2 386.0,830.4 386.2,832.3 386.5,838.4 386.8,836.9 387.0,843.2 387.2,833.9 387.5,835.6 387.8,839.8 388.0,844.1 388.2,840.6 388.5,845.6 388.8,843.9 389.0,839.9 389.2,842.8 389.5,845.5 389.8,840.4 390.0,849.1 390.2,849.9 390.5,844.1 390.8,847.2 391.0,853.5 391.2,855.7 391.5,855.3 391.8,853.3 392.0,856.4 392.2,857.0 392.5,856.8 392.8,859.3 393.0,853.0 393.2,861.2 393.5,863.0 393.8,865.3 394.0,856.5 394.2,861.8 394.5,860.7 394.8,859.0 395.0,869.1 395.2,874.3 395.5,868.4 395.8,873.2 396.0,869.4 396.2,873.8 396.5,865.5 396.8,873.0 397.0,874.8 397.2,875.5 397.5,876.9 397.8,870.5 398.0,879.5 398.2,873.8 398.5,876.4 398.8,870.6 399.0,868.0 399.2,871.0 399.5,880.2 399.8,858.0 400.0,859.6 400.2,865.1 400.5,858.4 400.8,867.8 401.0,861.3 401.2,867.6 401.5,856.1 401.8,859.6 402.0,846.7 402.2,852.6 402.5,855.4 402.8,848.7 403.0,850.7 403.2,853.3 403.5,847.2 403.8,845.8 404.0,845.3 404.2,847.6 404.5,846.9 404.8,842.9 405.0,845.1 405.2,841.8 405.5,845.3 405.8,840.7 406.0,842.0 406.2,840.1 406.5,838.9 406.8,841.1 407.0,834.2 407.2,837.8 407.5,833.3 407.8,831.6 408.0,837.5 408.2,831.3 408.5,831.0 408.8,828.7 409.0,829.0 409.2,833.7 409.5,830.7 409.8,826.8 410.0,827.1 410.2,824.4 410.5,823.4 410.8,823.9 411.0,826.9 411.2,819.5 411.5,819.0 411.8,820.6 412.0,813.8 412.2,815.3 412.5,813.6 412.8,810.0 413.0,813.2 413.2,814.0 413.5,807.8 413.8,813.6 414.0,804.2 414.2,806.7 414.5,807.3 414.8,803.4 415.0,810.4 415.2,808.5 415.5,802.6 415.8,796.4 416.0,797.8 416.2,796.7 416.5,800.9 416.8,799.3 417.0,789.8 417.2,796.4 417.5,785.5 417.8,790.6 418.0,790.6 418.2,784.3 418.5,784.2 418.8,782.9 419.0,786.6 419.2,783.3 419.5,774.7 419.8,777.0 420.0,780.7 420.2,773.8 420.5,769.7 420.8,769.9 421.0,769.5 421.2,768.6 421.5,770.4 421.8,764.3 422.0,767.9 422.2,766.5 422.5,764.3 422.8,765.5 423.0,762.3 423.2,758.7 423.5,760.8 423.8,759.7 424.0,756.9 424.2,755.3 424.5,753.9 424.8,754.4 425.0,752.5 425.2,749.7 425.5,751.0 425.8,749.0 426.0,749.0 426.2,745.5 426.5,744.2 426.8,743.5 427.0,745.3 427.2,739.0 427.5,737.9 427.8,741.9 428.0,735.9 428.2,737.0 428.5,734.6 428.8,734.4 429.0,733.5 429.2,733.9 429.5,732.4 429.8,732.0 430.0,732.2 430.2,730.2 430.5,729.2 430.8,728.6 431.0,728.6 431.2,727.8 431.5,727.7 431.8,726.8 432.0,725.7 432.2,725.3 432.5,724.9 432.8,724.1 433.2,722.4 433.8,720.2 434.2,719.3 434.8,718.3 435.2,717.4 435.8,718.2 436.2,716.8 436.8,715.7 437.2,715.5 437.8,714.7 438.2,712.9 438.8,711.4 439.2,711.0 439.8,709.5 440.2,709.3 440.8,707.7 441.2,707.2 441.8,705.9 442.2,703.6 442.8,702.5 443.2,701.4 443.8,700.3 444.2,698.8 444.8,696.8 445.2,695.2 445.8,694.0 446.2,692.7 446.8,690.2 447.2,688.9 447.8,687.3 448.2,686.4 448.8,685.1 449.2,684.3 449.8,683.6 450.2,683.0 450.8,681.8 451.2,680.9 451.8,680.2 452.2,679.4 452.8,679.2 453.2,679.4 453.8,679.8 454.2,680.7 454.8,681.7 455.2,682.8 455.8,684.3 456.2,685.7 456.8,686.8 457.2,688.3 457.8,689.4 458.2,690.8 458.8,692.7 459.2,694.3 459.8,696.1 460.2,697.7 460.8,698.5 461.2,700.4 461.8,701.0 462.2,701.7 462.8,702.5 463.2,703.2 463.8,703.9 464.2,704.2 464.8,704.3 465.2,704.8 465.8,704.8 466.2,704.1 466.8,703.7 467.2,702.8 467.8,702.1 468.2,701.3 468.8,700.2 469.2,699.7 469.8,698.7 470.2,698.3 470.8,698.0 471.2,697.9 471.8,698.2 472.2,698.9 472.8,699.5 473.2,700.5 473.8,701.5 474.2,702.0 474.8,702.7 475.2,703.0 475.8,702.9 476.2,702.8 476.8,702.7 477.2,702.5 477.8,702.2 478.2,702.1 478.8,702.0 479.2,702.3 479.8,703.0 480.2,703.7 480.8,704.8 481.2,706.1 481.8,707.5 482.2,709.0 482.8,710.4 483.2,711.8 483.8,713.1 484.2,714.3 484.8,715.7 485.2,717.1 485.8,718.6 486.8,721.8 487.8,725.8 488.8,730.7 489.8,736.2 490.8,742.0 491.8,748.5 492.8,755.1 493.8,761.8 494.8,768.5 495.8,772.8 496.8,775.2 497.8,776.8 498.8,778.0 499.8,779.2 500.8,780.8 501.8,783.1 502.8,786.9 503.8,798.3 504.8,815.6 505.8,833.5 506.8,850.2 507.8,867.5 508.8,883.2 509.8,897.9 510.8,910.1 511.8,917.8 512.8,924.9 513.8,934.4 514.8,945.0 515.8,955.0 516.8,963.4 517.8,971.2 518.8,978.4 519.8,985.2 520.8,990.6 521.8,996.3 522.8,1004.8 523.8,1025.8 524.8,1025.9 525.8,1019.2 526.8,1010.0 527.8,1001.0 528.8,993.7 529.8,986.6 530.8,979.2 531.8,970.8 532.8,961.3 533.8,951.1 534.8,940.9 535.8,931.2 536.8,921.3 537.8,909.8 538.8,896.4 539.8,880.8 540.8,860.6 541.8,839.2 542.8,819.0 543.8,801.5 544.8,786.3 545.8,770.1 546.8,751.2 547.8,728.9 548.8,702.5 549.8,688.0 550.8,678.0 551.8,669.4 552.8,659.9 553.8,650.4 554.8,640.9 555.8,631.2 556.8,620.9 557.8,610.3 558.8,599.8 559.8,589.6 560.8,579.6 561.8,569.5 562.8,560.0 563.8,547.1 564.8,521.0 565.8,497.0 566.8,476.7 567.8,461.6 568.8,449.1 569.8,439.0 570.8,430.1 571.8,422.6 572.8,417.0 573.8,412.7 574.8,409.3 575.8,406.3 576.8,403.5 577.8,400.6 578.8,397.2 579.8,393.4 580.8,389.8 581.8,387.0 582.8,385.4 583.8,385.7 584.8,387.9 585.8,391.4 586.8,395.7 587.8,400.2 588.8,405.5 589.8,412.3 590.8,419.3 591.8,425.6 592.8,431.9 593.8,438.0 594.8,443.8 595.8,449.3 596.8,455.4 597.8,461.6 598.8,466.8 599.8,470.2 600.8,470.8 601.8,469.1 602.8,465.9 603.8,461.8 604.8,457.3 605.8,452.9 606.8,449.0 607.8,445.2 608.8,441.2 609.8,437.1 610.8,432.9 611.8,428.7 612.8,424.3 613.8,419.7 614.8,415.1 615.8,410.3 616.8,405.3 617.8,400.1 618.8,394.7 619.8,389.2 620.8,383.7 621.8,378.3 622.8,372.5 623.8,366.8 624.8,361.7 625.8,357.9 626.8,354.7 627.8,351.8 628.8,349.7 629.8,348.8 630.8,349.3 631.8,350.6 632.8,352.4 633.8,354.5 634.8,356.6 635.8,358.7 636.8,360.9 637.8,363.4 638.8,366.3 639.8,369.6 640.8,373.8 641.8,379.2 642.8,384.7 643.8,389.4 644.8,393.7 645.8,397.9 646.8,402.0 647.8,406.3 648.8,410.9 649.8,415.7 650.8,420.6 651.8,425.7 652.8,431.0 653.8,436.6 654.8,442.7 655.8,449.1 656.8,455.4 657.8,461.3 658.8,466.4 659.8,470.9 660.8,475.0 661.8,479.0 662.8,482.9 663.8,486.9 664.8,491.1 665.8,495.7 666.8,500.6 667.8,505.6 668.8,510.8 669.8,516.0 670.8,521.4 671.8,527.0 672.8,532.6 673.8,538.4 674.8,544.0 675.8,549.6 676.8,555.0 677.8,560.6 678.8,566.4 679.8,572.4 680.8,578.7 681.8,585.1 682.8,591.9 683.8,599.0 684.8,606.8 685.8,615.1 686.8,623.6 687.8,632.1 688.8,640.3 689.8,648.1 690.8,655.8 691.8,663.7 692.8,672.3 693.8,682.1 694.8,692.9 695.8,703.1 696.8,711.8 697.8,719.7 698.8,726.8 699.8,733.0 700.8,739.2 701.8,745.1 702.8,749.4 703.8,751.0 704.8,749.5 705.8,745.8 706.8,741.0 707.8,735.8 708.8,731.3 709.8,727.4 710.8,723.5 711.8,719.5 712.8,715.4 713.8,711.1 714.8,706.2 715.8,701.0 716.8,695.9 717.8,691.3 718.8,686.4 719.8,682.2 720.8,681.1 721.8,683.9 722.8,688.7 723.8,695.3 724.8,706.0 725.8,719.3 726.8,734.0 727.8,748.6 728.8,762.6 729.8,777.6 730.8,792.8 731.8,807.2 732.8,820.8 733.8,834.3 734.8,848.8 735.8,865.8 736.8,881.9 737.8,893.8 738.8,903.8 739.8,912.8 740.8,921.6 741.8,931.0 742.8,938.9 743.8,943.0 744.8,944.7 745.8,944.8 746.8,943.5 747.8,940.8 748.8,933.8 749.8,924.5 750.8,915.3 751.8,905.8 752.8,895.5 753.8,884.6 754.8,873.3 755.8,860.6 756.8,847.3 757.8,834.8 758.8,823.9 759.8,813.9 760.8,804.8 761.8,796.1 762.8,788.0 763.8,780.3 764.8,773.3 765.8,766.7 766.8,760.4 767.8,754.7 768.8,749.4 769.8,744.5 770.8,739.9 771.8,735.6 772.8,731.6 773.8,727.8 774.8,724.3 775.8,720.7 776.8,717.4 777.8,714.6 778.8,712.4 779.8,711.0 780.8,709.7 781.8,708.6 782.8,707.6 783.8,706.7 784.8,706.0 785.8,705.4 786.8,704.8 787.8,704.2 788.8,703.7 789.8,703.2 790.8,702.8 791.8,702.4 792.8,702.2 793.8,702.1 794.8,702.2 795.8,702.5 796.8,703.1 797.8,703.7 798.8,704.4 799.8,705.0 800.8,705.5 801.8,706.0 802.8,706.5 803.8,707.0 804.8,707.5 805.8,708.0 806.8,708.4 807.8,708.7 808.8,708.8 809.8,708.8 810.8,708.7 811.8,708.5 812.8,708.3 813.8,708.0 814.8,707.7 815.8,707.3 816.8,706.3 817.8,704.1 818.8,701.2 819.8,697.7 820.8,694.2 821.8,690.5 822.8,686.0 823.8,681.3 824.8,677.0 825.8,673.1 826.8,669.6 827.8,666.3 828.8,662.9 829.8,659.4 830.8,655.5 831.8,651.2 832.8,646.2 833.8,640.2 834.8,631.7 835.8,621.5 836.8,610.8 837.8,598.7 838.8,586.2 839.8,574.3 840.8,562.4 841.8,550.3 842.8,538.3 843.8,526.0 844.8,512.6 845.8,498.3 846.8,480.2 847.8,456.1 848.8,441.3 849.8,426.7 850.8,411.6 851.8,400.1 852.8,390.4 853.8,380.7 854.8,370.6 855.8,360.6 856.8,350.5 857.8,340.4 858.8,330.4 859.8,320.5 860.8,310.9 861.8,302.1 862.8,294.0 863.8,285.1 864.8,274.4 865.8,264.4 866.8,256.4 867.8,249.1 868.8,242.3 869.8,236.2 870.8,230.7 871.8,225.6 872.8,221.1 873.8,216.8 874.8,212.8 875.8,208.9 876.8,205.0 877.8,201.0 878.8,197.1 879.8,193.2 880.8,189.5 881.8,186.1 882.8,183.0 883.8,180.1 884.8,177.4 885.8,174.8 886.8,172.4 887.8,170.1 888.8,167.8 889.8,165.6 890.8,163.5 891.8,161.4 892.8,159.4 893.8,157.5 894.8,155.6 895.8,153.7 896.8,151.8 897.8,149.9 898.8,148.1 899.8,146.3 900.8,144.6 901.8,142.9 902.8,141.3 903.8,139.8 904.8,138.3 905.8,136.8 906.8,135.3 907.8,134.0 908.8,132.6 909.8,131.3 910.8,130.1 911.8,128.9 912.8,127.8 913.8,126.7 914.8,125.6 915.8,124.6 916.8,123.6 917.8,122.7 918.8,121.9 919.8,121.1 920.8,120.4 921.8,119.7 922.8,119.0 923.8,118.3 924.8,117.7 925.8,117.2 926.8,116.7 927.8,116.3 928.8,115.9 929.8,115.5 930.8,115.1 931.8,114.8 932.8,114.5 933.8,114.2 934.8,114.0 935.8,113.8 936.8,113.6 937.8,113.5 938.8,113.4 939.8,113.2 940.8,113.1 941.8,113.0 942.8,113.0 943.8,112.9 944.8,112.9 945.8,113.2 946.8,113.9 947.8,114.9 948.8,115.9 949.8,116.8 950.8,117.7 951.8,118.5 952.8,119.4 953.8,120.3 954.8,121.3 955.8,122.4 956.8,123.5 957.8,124.8 958.8,126.2 959.8,127.9 960.8,129.8 961.8,131.9 962.8,134.1 963.8,136.5 964.8,139.1 965.8,142.0 966.8,145.3 967.8,148.9 968.8,153.0 969.8,157.7 970.8,163.1 971.8,169.4 972.8,176.8 973.8,186.2 974.8,199.4 975.8,216.8 976.8,236.6 977.8,255.8 978.8,274.7 979.8,316.4 980.8,354.9 981.8,403.3 982.8,472.1 983.8,496.1 984.8,506.2 985.8,513.8 986.8,527.3 987.8,568.6 988.8,652.0 989.8,722.5 990.8,757.9 991.8,776.4 992.8,788.4 993.8,791.9 994.8,785.6 995.8,771.4 996.8,751.3 997.8,701.4 998.8,652.9 999.8,607.5 1000.8,555.7 1001.8,472.7 1002.8,419.1 1003.8,385.2 1004.8,338.6 1005.8,307.9 1006.8,284.2 1007.8,262.1 1008.8,216.6 1009.8,195.9 1010.8,179.9 1011.8,167.5 1012.8,158.7 1013.8,151.5 1014.8,145.6 1015.8,140.7 1016.8,136.8 1017.8,133.5 1018.8,130.6 1019.8,128.1 1020.8,125.9 1021.8,123.9 1022.8,122.1 1023.8,120.4 1024.8,118.9 1025.8,117.4 1026.8,116.2 1027.8,115.0 1028.8,113.9 1029.8,113.0 1030.8,112.1 1031.8,111.2 1032.8,110.4 1033.8,109.7 1034.8,109.0 1035.8,108.3 1036.8,107.7 1037.8,107.1 1038.8,106.5 1039.8,105.9 1040.8,105.3 1041.8,104.8 1042.8,104.3 1043.8,103.8 1044.8,103.4 1045.8,103.1 1046.8,102.8 1047.8,102.5 1048.8,102.2 1049.8,101.9 1050.8,101.7 1051.8,101.4 1052.8,101.2 1053.8,101.0 1054.8,100.9 1055.8,100.8 1056.8,100.8 1057.8,100.8 1058.8,100.8 1059.8,100.8 1060.8,100.8 1061.8,100.8 1062.8,100.8 1063.8,100.8 1064.8,100.8 1065.8,100.8 1066.8,100.7 1067.8,100.7 1068.8,100.7 1069.8,100.7 1070.8,100.6 1071.8,100.6 1072.8,100.6 1073.8,100.5 1074.8,100.5 1075.8,100.5 1076.8,100.4 1077.8,100.4 1078.8,100.4 1079.8,100.4 1080.8,100.3 1081.8,100.3 1082.8,100.3 1083.8,100.3 1084.8,100.3 1085.8,100.4 1086.8,100.6 1087.8,101.0 1088.8,101.6 1089.8,102.2 1090.8,103.0 1091.8,103.8 1092.8,104.9 1093.8,106.6 1094.8,108.8 1095.8,111.2 1096.8,113.6 1097.8,115.6 1098.8,117.3 1099.8,119.1 1100.8,120.8 1101.8,121.9 1102.8,122.3 1103.8,121.0 1104.8,118.7 1105.8,116.4 1106.8,115.0 1107.8,115.2 1108.8,116.5 1109.8,118.4 1110.8,120.7 1111.8,123.0 1112.8,125.0 1113.8,126.3 1114.8,126.8 1115.8,126.9 1116.8,127.0 1117.8,127.1 1118.8,127.1 1119.8,127.2 1120.8,127.3 1121.8,127.5 1122.8,128.9 1123.8,131.8 1124.8,135.4 1125.8,138.9 1126.8,141.8 1127.8,145.0 1128.8,148.0 1129.8,150.4 1130.8,151.9 1131.8,152.7 1132.8,153.4 1133.8,153.9 1134.8,154.3 1135.8,154.8 1136.8,155.3 1137.8,156.0 1138.8,156.9 1139.8,158.1 1140.8,159.6 1141.8,161.1 1142.8,162.5 1143.8,163.7 1144.8,164.5 1145.8,164.9 1146.8,164.6 1147.8,163.7 1148.8,162.2 1149.8,160.2 1150.8,157.9 1151.8,155.4 1152.8,152.7 1153.8,148.4 1154.8,142.8 1155.8,136.9 1156.8,132.0 1157.8,128.6 1158.8,125.3 1159.8,122.3 1160.8,119.7 1161.8,117.7 1162.8,116.4 1163.8,115.6 1164.8,114.9 1165.8,114.3 1166.8,113.9 1167.8,113.6 1168.8,113.5 1169.8,113.7 1170.8,114.3 1171.8,115.0 1172.8,116.0 1173.8,117.0 1174.8,118.1 1175.8,119.1 1176.8,119.9 1177.8,120.5 1178.8,120.8 1179.8,120.6 1180.8,119.7 1181.8,118.2 1182.8,116.4 1183.8,114.6 1184.8,112.7 1185.8,111.2 1186.8,110.0 1187.8,108.9 1188.8,107.9 1189.8,106.9 1190.8,105.9 1191.8,105.0 1192.8,104.2 1193.2,103.7 1193.8,103.4 1194.2,103.0 1194.8,102.5 1195.2,102.2 1195.8,102.2 1196.2,101.9 1196.8,101.6 1197.2,101.3 1197.8,101.2 1198.2,101.0 1198.8,101.1 1199.2,101.1 1199.8,100.9 1200.2,100.5 1200.8,100.3 1201.2,100.4 1201.8,100.3 1202.2,99.8 1202.8,100.1 1203.2,100.2 1203.8,99.6 1204.2,99.7 1204.8,99.4 1205.2,99.3 1205.8,99.5 1206.2,99.2 1206.8,98.8 1207.2,98.3 1207.8,98.6 1208.2,98.2 1208.8,98.2 1209.2,97.9 1209.8,97.4 1210.2,97.5 1210.8,97.7 1211.2,97.1 1211.8,97.0 1212.2,97.4 1212.8,96.7 1213.2,95.7 1213.8,96.7 1214.2,95.4 1214.8,95.7 1215.2,96.0 1215.8,95.8 1216.2,95.5 1216.8,94.6 1217.2,94.7 1217.8,94.9 1218.2,94.8 1218.8,93.7 1219.2,94.0 1219.8,93.8 1220.2,94.2 1220.8,92.9 1221.2,93.4 1221.8,92.7 1222.2,93.8 1222.8,92.8 1223.0,93.3 1223.2,93.3 1223.5,93.2 1223.8,92.3 1224.0,94.1 1224.2,92.5 1224.5,92.2 1224.8,92.9 1225.0,93.9 1225.2,94.3 1225.5,93.2 1225.8,94.3 1226.0,93.4 1226.2,92.8 1226.5,91.9 1226.8,92.8 1227.0,93.1 1227.2,93.0 1227.5,91.7 1227.8,92.6 1228.0,93.6 1228.2,93.5 1228.5,92.0 1228.8,92.3 1229.0,92.5 1229.2,93.7 1229.5,93.4 1229.8,91.8 1230.0,92.8 1230.2,93.2 1230.5,93.2 1230.8,91.8 1231.0,91.3 1231.2,92.0 1231.5,93.0 1231.8,93.2 1232.0,92.3 1232.2,92.4 1232.5,92.6 1232.8,92.7 1233.0,91.9 1233.2,91.6 1233.5,93.2 1233.8,92.4 1234.0,91.8 1234.2,91.9 1234.5,91.3 1234.8,91.3 1235.0,92.0 1235.2,92.4 1235.5,92.9 1235.8,91.4 1236.0,92.4 1236.2,92.5 1236.5,92.9 1236.8,92.5 1237.0,91.1 1237.2,91.3 1237.5,91.6 1237.8,92.9 1238.0,91.2 1238.2,92.2 1238.5,91.2 1238.8,92.1 1239.0,91.5 1239.2,91.9 1239.5,91.8 1239.8,92.7 1240.0,92.8 1240.2,91.1 1240.5,92.7 1240.8,92.8 1241.0,92.4 1241.2,91.6 1241.5,91.8 1241.8,92.0 1242.0,92.5 1242.2,91.0 1242.5,92.2 1242.8,91.3 1243.0,91.7 1243.2,91.9 1243.5,91.0 1243.8,93.0 1244.0,92.9 1244.2,92.1 1244.5,92.2 1244.8,91.9 1245.0,90.5 1245.2,92.4 1245.5,91.2 1245.8,90.4 1246.0,91.6 1246.2,92.3 1246.5,91.3 1246.8,91.3 1247.0,92.0 1247.2,91.5 1247.5,91.7 1247.8,91.3 1248.0,90.8 1248.2,91.5 1248.5,91.0 1248.8,92.8 1249.0,91.2 1249.2,91.1 1249.5,91.2 1249.8,91.5 1250.0,91.0 1250.2,92.4 1250.5,92.0 1250.8,92.4 1251.0,92.6 1251.2,92.5 1251.5,90.9 1251.8,91.2 1252.0,91.1 1252.2,92.8 1252.5,90.6 1252.8,91.4 1253.0,91.9 1253.2,91.1 1253.5,91.4 1253.8,92.6 1254.0,91.3 1254.2,92.1 1254.5,92.6 1254.8,91.1 1255.0,91.7 1255.2,92.0 1255.5,92.1 1255.8,91.5 1256.0,91.6 1256.2,91.5 1256.5,92.4 1256.8,92.4 1257.0,90.5 1257.2,91.4 1257.5,91.5 1257.8,92.1 1258.0,91.2 1258.2,92.6 1258.5,91.6 1258.8,93.1 1259.0,93.2 1259.2,91.8 1259.5,91.2 1259.8,90.7 1260.0,92.7 1260.2,91.5 1260.5,93.3 1260.8,90.8 1261.0,91.9 1261.2,92.2 1261.5,91.8 1261.8,93.3 1262.0,91.9 1262.2,92.8 1262.5,91.3 1262.8,91.2 1263.0,91.4 1263.2,90.9 1263.5,92.4 1263.8,92.5 1264.0,92.7 1264.2,92.2 1264.5,91.6 1264.8,92.4 1265.0,91.9 1265.2,93.2 1265.5,91.4 1265.8,91.4 1266.0,92.2 1266.2,92.8 1266.5,92.4 1266.8,90.9 1267.0,92.5 1267.2,91.5 1267.5,92.2 1267.8,92.0 1268.0,92.5 1268.2,92.2 1268.5,92.9 1268.8,92.1 1269.0,91.8 1269.2,91.5 1269.5,92.6 1269.8,92.7 1270.0,90.8 1270.2,91.4 1270.5,90.8 1270.8,92.4 1271.0,91.9 1271.2,91.5 1271.5,91.8 1271.8,91.1 1272.0,92.3 1272.2,91.5 1272.5,90.9 1272.8,92.4 1273.0,91.0 1273.2,91.3 1273.5,92.1 1273.8,91.7 1274.0,92.4 1274.2,91.7 1274.5,91.4 1274.8,91.4 1275.0,90.7 1275.2,91.2 1275.5,91.7 1275.8,91.9 1276.0,92.1 1276.2,91.2 1276.5,90.7 1276.8,90.7 1277.0,90.3 1277.2,90.5 1277.5,91.1 1277.8,91.4 1278.0,91.6 1278.2,91.9 1278.5,91.4 1278.8,91.7 1279.0,91.7 1279.2,91.0 1279.5,92.0 1279.8,92.0 1280.0,92.1 1280.2,92.1 1280.5,92.7 1280.8,91.3 1281.0,90.9 1281.2,91.5 1281.5,92.0 1281.8,90.3 1282.0,92.8 1282.2,91.0 1282.5,90.7 1282.8,90.4 1283.0,92.0 1283.2,91.0 1283.5,90.5 1283.8,90.6 1284.0,92.2 1284.2,92.1 1284.5,91.2 1284.8,92.7 1285.0,92.9 1285.2,90.5 1285.5,91.0 1285.8,91.9 1286.0,90.6 1286.2,92.9 1286.5,91.2 1286.8,90.5 1287.0,92.5 1287.2,92.2 1287.5,90.4 1287.8,91.6 1288.0,91.8 1288.2,93.0 1288.5,92.7 1288.8,91.4 1289.0,91.8 1289.2,91.1 1289.5,91.8 1289.8,92.2 1290.0,93.1 1290.2,91.0 1290.5,93.0 1290.8,93.1 1291.0,92.6 1291.2,93.2 1291.5,92.5 1291.8,91.5 1292.0,90.7 1292.2,91.0 1292.5,91.6 1292.8,93.3 1293.0,92.0 1293.2,92.6 1293.5,91.3 1293.8,90.8 1294.0,91.1 1294.2,91.7 1294.5,92.1 1294.8,91.9 1295.0,93.0 1295.2,93.3 1295.5,93.5 1295.8,91.5 1296.0,92.7 1296.2,92.8 1296.5,91.8 1296.8,91.8 1297.0,92.1 1297.2,92.2 1297.5,91.4 1297.8,92.3 1298.0,93.8 1298.2,93.5 1298.5,93.3 1298.8,93.9 1299.0,91.4 1299.2,92.6 1299.5,92.5 1299.8,92.9 1300.0,92.9 1300.2,93.3 1300.5,92.8 1300.8,93.6 1301.0,94.0 1301.2,93.8 1301.5,92.4 1301.8,93.7 1302.0,93.5 1302.2,93.2 1302.5,94.3 1302.8,93.6 1303.0,92.8 1303.2,93.1 1303.5,92.1 1303.8,92.8 1304.0,93.9 1304.2,93.4 1304.5,92.3 1304.8,92.3 1305.0,93.2 1305.2,93.3 1305.5,94.0 1305.8,94.2 1306.0,94.0 1306.2,94.0 1306.5,94.4 1306.8,93.6 1307.0,93.1 1307.2,93.6 1307.5,92.8 1307.8,94.4 1308.0,93.5 1308.2,95.4 1308.5,94.0 1308.8,95.2 1309.0,95.3 1309.2,94.7 1309.5,95.3 1309.8,95.2 1310.0,93.2 1310.2,95.7 1310.5,94.2 1310.8,94.8 1311.0,93.3 1311.2,95.9 1311.5,95.0 1311.8,94.4 1312.0,93.6 1312.2,95.8 1312.5,95.1 1312.8,95.5 1313.0,95.2 1313.2,95.5 1313.5,94.6 1313.8,94.4 1314.0,94.7 1314.2,95.0 1314.5,95.3 1314.8,94.2 1315.0,96.0 1315.2,96.1 1315.5,94.8 1315.8,94.4 1316.0,95.2 1316.2,94.4 1316.5,94.2 1316.8,96.8 1317.0,96.7 1317.2,96.1 1317.5,94.6 1317.8,97.0 1318.0,96.0 1318.2,95.5 1318.5,95.7 1318.8,94.8 1319.0,95.9 1319.2,96.3 1319.5,94.7 1319.8,95.3 1320.0,95.7 1320.2,96.9 1320.5,96.6 1320.8,95.7 1321.0,96.7 1321.2,95.8 1321.5,96.6 1321.8,95.8 1322.0,96.9 1322.2,96.2 1322.5,96.1 1322.8,95.9 1323.0,97.0 1323.2,96.2 1323.5,95.9 1323.8,96.6 1324.0,97.0 1324.2,96.2 1324.5,96.1 1324.8,96.0 1325.0,97.0 1325.2,96.4 1325.5,95.4 1325.8,97.2 1326.0,96.9 1326.2,96.9 1326.5,97.7 1326.8,97.4 1327.0,96.4 1327.2,98.1 1327.5,96.2 1327.8,96.3 1328.0,96.6 1328.2,97.2 1328.5,97.1 1328.8,96.0 1329.0,97.7 1329.2,97.1 1329.5,97.6 1329.8,97.4 1330.0,97.9 1330.2,97.8 1330.5,97.3 1330.8,97.1 1331.0,95.9 1331.2,96.1 1331.5,97.2 1331.8,98.0 1332.0,96.5 1332.2,97.0 1332.5,97.0 1332.8,98.6 1333.0,96.1 1333.2,98.0 1333.5,97.7"/>
<path class="c" stroke="#008B0A" d="M141.5,668.8 141.8,652.6 142.0,662.8 142.2,679.2 142.5,654.1 142.8,677.3 143.0,692.6 143.2,623.4 143.5,658.1 143.8,614.3 144.0,629.5 144.2,698.2 144.5,601.0 144.8,563.1 145.0,542.6 145.2,643.7 145.5,604.8 145.8,592.2 146.0,657.6 146.2,512.6 146.5,576.6 146.8,593.8 147.0,557.7 147.2,602.7 147.5,536.5 147.8,538.1 148.0,555.7 148.2,509.3 148.5,581.7 148.8,570.6 149.0,575.5 149.2,498.5 149.5,527.9 149.8,538.3 150.0,555.4 150.2,466.1 150.5,491.1 150.8,528.4 151.0,511.3 151.2,507.7 151.5,481.9 151.8,501.8 152.0,472.5 152.2,445.3 152.5,483.6 152.8,419.3 153.0,442.7 153.2,442.9 153.5,466.4 153.8,448.3 154.0,420.5 154.2,434.4 154.5,445.2 154.8,465.0 155.0,443.9 155.2,454.3 155.5,388.3 155.8,401.2 156.0,434.5 156.2,388.0 156.5,397.2 156.8,394.1 157.0,347.7 157.2,414.4 157.5,356.0 157.8,411.6 158.0,375.1 158.2,328.2 158.5,376.4 158.8,373.3 159.0,334.4 159.2,362.9 159.5,357.6 159.8,357.8 160.0,351.0 160.2,387.9 160.5,369.4 160.8,357.7 161.0,372.3 161.2,339.9 161.5,333.6 161.8,317.6 162.0,321.8 162.2,325.1 162.5,334.7 162.8,341.5 163.0,329.7 163.2,326.8 163.5,322.0 163.8,320.4 164.0,342.7 164.2,330.2 164.5,327.5 164.8,327.7 165.0,338.9 165.2,336.2 165.5,342.6 165.8,319.6 166.0,326.0 166.2,300.8 166.5,343.3 166.8,327.5 167.0,307.2 167.2,294.0 167.5,327.2 167.8,306.5 168.0,305.9 168.2,315.5 168.5,293.3 168.8,315.9 169.0,313.1 169.2,320.2 169.5,338.4 169.8,327.8 170.0,292.5 170.2,308.9 170.5,293.8 170.8,310.6 171.0,315.5 171.2,348.4 171.5,327.1 171.8,302.6 172.0,312.9 172.2,321.8 172.5,322.3 172.8,324.0 173.0,345.4 173.2,318.2 173.5,343.8 173.8,294.8 174.0,332.0 174.2,320.2 174.5,320.7 174.8,312.6 175.0,319.7 175.2,330.3 175.5,301.7 175.8,324.6 176.0,325.1 176.2,293.5 176.5,297.2 176.8,297.5 177.0,305.2 177.2,303.2 177.5,297.8 177.8,299.9 178.0,292.0 178.2,299.1 178.5,294.7 178.8,301.6 179.0,307.7 179.2,304.4 179.5,302.5 179.8,291.0 180.0,311.2 180.2,336.2 180.5,337.5 180.8,340.8 181.0,313.6 181.2,315.1 181.5,323.8 181.8,314.2 182.0,334.9 182.2,316.6 182.5,309.0 182.8,302.9 183.0,340.4 183.2,318.4 183.5,333.5 183.8,333.4 184.0,305.3 184.2,317.9 184.5,331.5 184.8,364.7 185.0,340.3 185.2,352.9 185.5,357.6 185.8,359.7 186.0,362.6 186.2,364.2 186.5,357.9 186.8,367.3 187.0,365.3 187.2,368.0 187.5,365.1 187.8,372.3 188.0,368.8 188.2,363.4 188.5,350.6 188.8,349.2 189.0,357.2 189.2,343.3 189.5,358.9 189.8,352.0 190.0,368.0 190.2,345.2 190.5,356.8 190.8,349.9 191.0,354.2 191.2,351.5 191.5,355.4 191.8,346.2 192.0,344.5 192.2,346.8 192.5,349.6 192.8,349.0 193.0,341.0 193.2,343.3 193.5,345.1 193.8,345.4 194.0,341.5 194.2,341.9 194.5,346.1 194.8,339.9 195.0,342.6 195.2,340.8 195.5,346.0 195.8,345.1 196.0,341.5 196.2,344.0 196.5,340.2 196.8,344.8 197.0,341.0 197.2,339.8 197.5,340.8 197.8,339.6 198.0,343.5 198.2,340.8 198.5,335.7 198.8,340.0 199.0,337.0 199.2,342.3 199.5,338.0 199.8,338.7 200.0,337.6 200.2,337.8 200.5,342.8 200.8,361.2 201.0,341.4 201.2,365.8 201.5,353.7 201.8,333.7 202.0,339.7 202.2,384.8 202.5,394.4 202.8,393.0 203.0,378.1 203.2,379.7 203.5,399.3 203.8,343.6 204.0,381.8 204.2,374.7 204.5,391.7 204.8,392.5 205.0,386.9 205.2,361.0 205.5,375.1 205.8,379.8 206.0,390.4 206.2,397.5 206.5,388.6 206.8,395.5 207.0,395.1 207.2,401.0 207.5,396.0 207.8,400.8 208.0,401.2 208.2,399.2 208.5,400.3 208.8,399.0 209.0,398.7 209.2,396.7 209.5,395.1 209.8,394.0 210.0,397.1 210.2,396.6 210.5,400.3 210.8,397.2 211.0,393.1 211.2,392.2 211.5,391.7 211.8,392.1 212.0,389.6 212.2,401.4 212.5,395.5 212.8,403.2 213.0,394.9 213.2,408.5 213.5,394.6 213.8,391.9 214.0,408.4 214.2,410.0 214.5,421.8 214.8,405.6 215.0,421.8 215.2,404.4 215.5,419.3 215.8,394.8 216.0,413.9 216.2,394.0 216.5,416.4 216.8,408.5 217.0,405.0 217.2,411.5 217.5,413.2 217.8,410.0 218.0,412.8 218.2,410.7 218.5,416.5 218.8,416.9 219.0,418.9 219.2,417.0 219.5,417.4 219.8,423.8 220.0,432.5 220.2,423.8 220.5,421.6 220.8,440.2 221.0,437.5 221.2,436.8 221.5,434.0 221.8,442.0 222.0,414.7 222.2,435.4 222.5,441.0 222.8,427.1 223.0,418.8 223.2,436.5 223.5,409.2 223.8,411.6 224.0,430.2 224.2,422.2 224.5,447.0 224.8,436.8 225.0,438.2 225.2,446.7 225.5,450.5 225.8,452.4 226.0,439.8 226.2,452.4 226.5,454.7 226.8,439.6 227.0,437.4 227.2,440.6 227.5,446.0 227.8,451.1 228.0,439.7 228.2,448.7 228.5,438.0 228.8,440.0 229.0,450.0 229.2,448.2 229.5,448.9 229.8,453.9 230.0,447.4 230.2,447.0 230.5,452.8 230.8,447.7 231.0,448.6 231.2,445.6 231.5,450.4 231.8,444.5 232.0,447.8 232.2,445.0 232.5,445.3 232.8,451.0 233.0,443.6 233.2,449.1 233.5,447.2 233.8,447.9 234.0,447.5 234.2,447.9 234.5,448.1 234.8,450.7 235.0,448.3 235.2,456.8 235.5,452.8 235.8,454.2 236.0,459.7 236.2,466.9 236.5,459.2 236.8,457.8 237.0,467.2 237.2,464.0 237.5,478.3 237.8,472.1 238.0,454.7 238.2,473.2 238.5,453.2 238.8,450.3 239.0,461.7 239.2,476.4 239.5,453.2 239.8,453.9 240.0,461.9 240.2,463.5 240.5,460.7 240.8,469.8 241.0,463.1 241.2,474.4 241.5,476.9 241.8,466.5 242.0,464.6 242.2,474.8 242.5,462.1 242.8,459.7 243.0,473.0 243.2,458.3 243.5,465.7 243.8,462.2 244.0,465.0 244.2,463.2 244.5,464.4 244.8,461.8 245.0,465.9 245.2,464.5 245.5,458.9 245.8,461.7 246.0,464.5 246.2,460.5 246.5,461.6 246.8,460.1 247.0,462.6 247.2,466.2 247.5,463.4 247.8,459.9 248.0,467.5 248.2,459.2 248.5,465.2 248.8,461.8 249.0,467.0 249.2,471.2 249.5,466.9 249.8,470.7 250.0,470.9 250.2,472.5 250.5,461.2 250.8,473.4 251.0,473.0 251.2,477.0 251.5,476.9 251.8,479.5 252.0,465.7 252.2,476.5 252.5,485.9 252.8,473.1 253.0,485.9 253.2,468.1 253.5,474.8 253.8,481.9 254.0,468.3 254.2,469.4 254.5,464.8 254.8,481.1 255.0,477.9 255.2,464.6 255.5,457.9 255.8,475.7 256.0,464.1 256.2,473.0 256.5,459.6 256.8,464.0 257.0,457.6 257.2,448.1 257.5,466.9 257.8,468.6 258.0,465.2 258.2,465.8 258.5,463.9 258.8,452.2 259.0,455.1 259.2,459.1 259.5,449.9 259.8,461.9 260.0,448.4 260.2,457.6 260.5,456.1 260.8,459.4 261.0,454.6 261.2,464.1 261.5,459.1 261.8,451.7 262.0,467.6 262.2,464.0 262.5,474.8 262.8,459.9 263.0,469.8 263.2,459.3 263.5,465.7 263.8,464.2 264.0,471.1 264.2,468.3 264.5,474.6 264.8,457.9 265.0,457.0 265.2,463.4 265.5,470.9 265.8,473.1 266.0,473.1 266.2,464.4 266.5,462.0 266.8,462.0 267.0,465.3 267.2,463.6 267.5,466.8 267.8,470.5 268.0,456.8 268.2,463.0 268.5,462.8 268.8,463.7 269.0,468.4 269.2,465.3 269.5,464.7 269.8,469.6 270.0,470.5 270.2,462.5 270.5,465.9 270.8,457.0 271.0,469.0 271.2,459.2 271.5,468.3 271.8,472.6 272.0,472.7 272.2,470.2 272.5,472.2 272.8,468.1 273.0,468.4 273.2,469.9 273.5,469.5 273.8,472.2 274.0,471.1 274.2,460.5 274.5,469.8 274.8,462.8 275.0,463.4 275.2,463.5 275.5,463.9 275.8,461.1 276.0,461.0 276.2,458.3 276.5,464.9 276.8,457.5 277.0,452.9 277.2,464.3 277.5,455.9 277.8,451.0 278.0,457.4 278.2,449.0 278.5,456.8 278.8,453.0 279.0,452.8 279.2,458.2 279.5,455.1 279.8,455.2 280.0,454.0 280.2,456.5 280.5,445.3 280.8,451.4 281.0,451.8 281.2,447.5 281.5,452.2 281.8,451.6 282.0,461.4 282.2,454.1 282.5,449.5 282.8,456.9 283.0,452.7 283.2,450.3 283.5,463.4 283.8,458.4 284.0,460.9 284.2,463.6 284.5,468.4 284.8,449.5 285.0,463.4 285.2,453.8 285.5,453.3 285.8,461.5 286.0,476.3 286.2,457.2 286.5,479.0 286.8,470.1 287.0,475.4 287.2,472.9 287.5,476.3 287.8,473.3 288.0,471.4 288.2,478.3 288.5,461.8 288.8,468.4 289.0,465.6 289.2,466.7 289.5,464.1 289.8,476.3 290.0,465.3 290.2,477.7 290.5,462.9 290.8,465.0 291.0,472.5 291.2,468.0 291.5,466.9 291.8,462.8 292.0,457.4 292.2,460.2 292.5,466.2 292.8,459.9 293.0,461.7 293.2,463.3 293.5,466.1 293.8,464.2 294.0,465.0 294.2,461.5 294.5,462.7 294.8,467.3 295.0,470.9 295.2,464.4 295.5,467.6 295.8,469.3 296.0,471.5 296.2,469.9 296.5,473.8 296.8,473.7 297.0,470.2 297.2,473.7 297.5,468.5 297.8,470.6 298.0,469.0 298.2,466.9 298.5,465.3 298.8,464.7 299.0,465.0 299.2,474.2 299.5,467.4 299.8,465.3 300.0,469.1 300.2,462.0 300.5,461.5 300.8,459.6 301.0,458.2 301.2,464.8 301.5,455.4 301.8,463.8 302.0,465.9 302.2,472.2 302.5,455.3 302.8,475.5 303.0,464.0 303.2,474.2 303.5,463.6 303.8,469.2 304.0,465.5 304.2,474.7 304.5,454.7 304.8,472.1 305.0,474.6 305.2,466.7 305.5,474.2 305.8,472.3 306.0,467.6 306.2,468.8 306.5,483.0 306.8,480.2 307.0,473.4 307.2,478.8 307.5,477.6 307.8,481.4 308.0,485.3 308.2,481.4 308.5,483.7 308.8,483.6 309.0,487.9 309.2,482.8 309.5,485.4 309.8,483.4 310.0,481.7 310.2,480.9 310.5,477.9 310.8,479.7 311.0,483.1 311.2,484.4 311.5,479.6 311.8,476.0 312.0,470.3 312.2,464.2 312.5,463.5 312.8,471.0 313.0,474.0 313.2,486.6 313.5,480.1 313.8,468.6 314.0,481.8 314.2,476.0 314.5,474.4 314.8,464.6 315.0,468.4 315.2,478.4 315.5,469.9 315.8,470.1 316.0,470.2 316.2,471.9 316.5,472.2 316.8,479.3 317.0,474.5 317.2,475.1 317.5,477.6 317.8,478.7 318.0,473.5 318.2,471.0 318.5,475.0 318.8,486.7 319.0,483.4 319.2,477.7 319.5,474.8 319.8,485.6 320.0,480.0 320.2,489.1 320.5,480.7 320.8,483.6 321.0,479.3 321.2,478.5 321.5,487.7 321.8,485.0 322.0,480.7 322.2,490.7 322.5,481.6 322.8,490.8 323.0,483.1 323.2,487.7 323.5,485.4 323.8,477.7 324.0,480.3 324.2,481.3 324.5,485.8 324.8,478.9 325.0,483.0 325.2,486.1 325.5,484.7 325.8,475.4 326.0,475.5 326.2,483.6 326.5,487.5 326.8,486.2 327.0,481.6 327.2,481.0 327.5,483.1 327.8,485.0 328.0,482.8 328.2,486.2 328.5,484.8 328.8,489.3 329.0,484.3 329.2,485.9 329.5,486.6 329.8,487.2 330.0,491.0 330.2,491.6 330.5,487.6 330.8,492.0 331.0,490.0 331.2,491.7 331.5,489.7 331.8,490.5 332.0,492.6 332.2,494.3 332.5,491.9 332.8,488.7 333.0,493.9 333.2,491.8 333.5,493.8 333.8,490.6 334.0,494.8 334.2,491.9 334.5,497.5 334.8,496.3 335.0,493.1 335.2,493.5 335.5,497.0 335.8,492.6 336.0,497.3 336.2,495.9 336.5,498.6 336.8,494.4 337.0,501.3 337.2,501.4 337.5,504.2 337.8,494.0 338.0,494.2 338.2,504.2 338.5,501.9 338.8,505.6 339.0,504.6 339.2,506.1 339.5,505.1 339.8,510.1 340.0,510.2 340.2,508.9 340.5,507.0 340.8,508.9 341.0,503.1 341.2,510.4 341.5,511.1 341.8,509.5 342.0,508.4 342.2,512.1 342.5,512.2 342.8,514.9 343.0,512.9 343.2,513.7 343.5,514.2 343.8,514.9 344.0,516.1 344.2,518.3 344.5,513.1 344.8,509.7 345.0,510.0 345.2,512.3 345.5,511.1 345.8,517.7 346.0,516.2 346.2,509.8 346.5,518.6 346.8,513.2 347.0,513.3 347.2,515.2 347.5,510.5 347.8,513.4 348.0,509.7 348.2,512.2 348.5,512.9 348.8,512.3 349.0,509.5 349.2,512.3 349.5,509.7 349.8,508.4 350.0,509.2 350.2,512.1 350.5,508.0 350.8,510.4 351.0,509.7 351.2,510.3 351.5,512.3 351.8,511.8 352.0,512.4 352.2,512.0 352.5,513.7 352.8,513.9 353.0,516.0 353.2,513.7 353.5,510.8 353.8,516.3 354.0,519.5 354.2,516.0 354.5,516.8 354.8,512.7 355.0,516.7 355.2,515.3 355.5,518.0 355.8,523.4 356.0,513.1 356.2,518.8 356.5,516.1 356.8,518.7 357.0,515.6 357.2,524.8 357.5,519.1 357.8,520.0 358.0,519.8 358.2,523.1 358.5,525.6 358.8,523.3 359.0,525.3 359.2,524.3 359.5,526.8 359.8,529.4 360.0,528.5 360.2,529.8 360.5,527.3 360.8,527.9 361.0,527.0 361.2,528.5 361.5,529.2 361.8,531.5 362.0,528.3 362.2,531.5 362.5,529.4 362.8,527.9 363.0,538.5 363.2,533.6 363.5,533.9 363.8,532.0 364.0,536.1 364.2,536.6 364.5,532.4 364.8,535.9 365.0,538.9 365.2,535.7 365.5,539.2 365.8,537.9 366.0,536.8 366.2,539.6 366.5,538.8 366.8,542.4 367.0,535.2 367.2,536.5 367.5,545.1 367.8,544.3 368.0,545.8 368.2,546.1 368.5,548.8 368.8,543.0 369.0,542.9 369.2,545.5 369.5,541.6 369.8,542.6 370.0,540.7 370.2,543.8 370.5,548.1 370.8,546.9 371.0,548.0 371.2,545.4 371.5,542.5 371.8,542.5 372.0,544.1 372.2,543.7 372.5,541.1 372.8,544.1 373.0,543.9 373.2,541.2 373.5,539.6 373.8,542.1 374.0,542.3 374.2,540.7 374.5,543.0 374.8,542.1 375.0,542.6 375.2,543.6 375.5,541.2 375.8,542.3 376.0,540.9 376.2,541.1 376.5,544.3 376.8,544.8 377.0,543.7 377.2,543.6 377.5,544.6 377.8,543.6 378.0,545.6 378.2,544.6 378.5,545.7 378.8,545.0 379.0,545.0 379.2,545.8 379.5,549.4 379.8,547.9 380.0,547.4 380.2,547.5 380.5,551.7 380.8,554.6 381.0,548.1 381.2,549.7 381.5,563.4 381.8,550.5 382.0,554.2 382.2,567.2 382.5,550.0 382.8,547.7 383.0,547.5 383.2,560.7 383.5,554.2 383.8,562.0 384.0,575.5 384.2,563.5 384.5,560.2 384.8,561.6 385.0,571.4 385.2,563.8 385.5,573.6 385.8,568.5 386.0,566.6 386.2,577.8 386.5,574.2 386.8,574.1 387.0,581.7 387.2,580.8 387.5,588.0 387.8,583.6 388.0,586.0 388.2,574.7 388.5,589.8 388.8,590.7 389.0,595.8 389.2,575.4 389.5,592.5 389.8,594.7 390.0,595.0 390.2,594.1 390.5,580.4 390.8,588.6 391.0,595.4 391.2,602.7 391.5,601.8 391.8,605.5 392.0,606.2 392.2,620.1 392.5,611.6 392.8,629.3 393.0,634.0 393.2,613.7 393.5,620.7 393.8,639.8 394.0,646.5 394.2,623.0 394.5,619.3 394.8,635.8 395.0,662.5 395.2,645.9 395.5,626.2 395.8,662.5 396.0,683.7 396.2,656.5 396.5,656.7 396.8,654.7 397.0,692.3 397.2,658.7 397.5,671.3 397.8,664.9 398.0,671.6 398.2,672.3 398.5,678.9 398.8,673.7 399.0,678.4 399.2,692.3 399.5,682.2 399.8,683.0 400.0,684.6 400.2,677.2 400.5,674.2 400.8,678.8 401.0,671.2 401.2,675.0 401.5,667.9 401.8,673.3 402.0,677.2 402.2,668.2 402.5,672.5 402.8,662.8 403.0,662.2 403.2,666.1 403.5,670.0 403.8,662.7 404.0,659.6 404.2,661.6 404.5,665.7 404.8,657.7 405.0,661.9 405.2,657.0 405.5,660.5 405.8,657.7 406.0,659.5 406.2,657.8 406.5,659.7 406.8,661.2 407.0,659.3 407.2,656.5 407.5,662.2 407.8,657.4 408.0,663.2 408.2,662.0 408.5,666.6 408.8,665.7 409.0,661.9 409.2,661.8 409.5,665.2 409.8,663.7 410.0,664.8 410.2,663.8 410.5,664.3 410.8,661.3 411.0,661.8 411.2,662.2 411.5,661.4 411.8,662.5 412.0,661.3 412.2,658.1 412.5,660.6 412.8,658.4 413.0,658.5 413.2,657.0 413.5,654.7 413.8,655.6 414.0,655.2 414.2,654.2 414.5,654.0 414.8,653.1 415.0,652.8 415.2,653.7 415.5,653.1 415.8,650.9 416.0,652.2 416.2,652.1 416.5,653.0 416.8,651.1 417.0,650.4 417.2,651.2 417.5,651.7 417.8,651.5 418.0,651.6 418.2,652.2 418.5,653.2 418.8,652.0 419.0,652.2 419.2,652.9 419.5,651.1 419.8,651.3 420.0,652.6 420.2,652.6 420.5,652.0 420.8,652.5 421.0,652.6 421.2,653.5 421.5,653.0 421.8,652.6 422.0,651.6 422.2,653.3 422.5,652.9 422.8,652.7 423.0,651.5 423.2,653.1 423.5,652.3 423.8,651.2 424.0,652.4 424.2,650.5 424.5,649.2 424.8,649.6 425.0,649.4 425.2,647.4 425.5,645.2 425.8,644.5 426.0,645.6 426.2,644.0 426.5,644.4 426.8,642.1 427.0,641.9 427.2,641.1 427.8,639.3 428.2,636.2 428.8,636.8 429.2,635.0 429.8,634.7 430.2,634.2 430.8,634.3 431.2,633.0 431.8,633.1 432.2,633.0 432.8,633.7 433.2,633.2 433.8,632.4 434.2,632.7 434.8,632.3 435.2,631.6 435.8,631.3 436.2,631.6 436.8,631.8 437.2,631.6 437.8,631.3 438.2,630.2 438.8,630.3 439.2,629.9 439.8,628.6 440.2,628.7 440.8,628.1 441.2,627.9 441.8,626.4 442.2,625.1 442.8,623.9 443.2,623.1 443.8,620.8 444.2,618.4 444.8,615.1 445.2,610.5 445.8,606.4 446.2,602.2 446.8,597.9 447.2,593.0 447.8,587.2 448.2,581.5 448.8,575.5 449.2,571.0 449.8,565.8 450.2,563.1 450.8,559.6 451.2,556.9 451.8,553.7 452.2,551.1 452.8,548.4 453.2,547.0 453.8,544.9 454.2,543.8 454.8,542.9 455.2,542.8 455.8,543.4 456.2,544.1 456.8,545.9 457.2,548.4 457.8,551.1 458.2,554.0 458.8,557.0 459.2,559.5 459.8,562.1 460.2,563.9 460.8,565.4 461.2,567.1 461.8,569.1 462.2,570.5 462.8,572.0 463.2,573.7 463.8,575.1 464.2,576.2 464.8,577.4 465.2,578.6 465.8,579.5 466.2,580.5 466.8,581.3 467.2,581.8 467.8,582.7 468.2,583.3 468.8,583.8 469.2,585.0 469.8,585.6 470.2,587.1 470.8,588.5 471.2,590.9 471.8,593.6 472.2,596.8 472.8,600.0 473.2,603.2 473.8,605.8 474.2,608.3 474.8,610.9 475.2,613.2 475.8,615.7 476.2,618.2 476.8,620.6 477.2,622.9 477.8,625.5 478.2,628.1 478.8,631.0 479.2,634.1 479.8,637.3 480.2,640.5 480.8,644.0 481.2,647.5 481.8,651.0 482.2,654.5 482.8,657.9 483.2,661.4 483.8,664.7 484.2,667.7 485.2,673.8 486.2,679.7 487.2,685.6 488.2,691.6 489.2,697.4 490.2,703.2 491.2,709.2 492.2,715.7 493.2,722.5 494.2,729.8 495.2,737.8 496.2,747.1 497.2,757.7 498.2,767.3 499.2,774.9 500.2,783.1 501.2,794.6 502.2,809.2 503.2,825.4 504.2,841.6 505.2,858.9 506.2,875.6 507.2,890.7 508.2,904.5 509.2,914.4 510.2,921.0 511.2,929.4 512.2,939.7 513.2,950.2 514.2,959.3 515.2,967.4 516.2,974.8 517.2,982.0 518.2,989.2 519.2,996.4 520.2,1002.3 521.2,1006.3 522.2,1009.6 523.2,1010.9 524.2,1009.2 525.2,1005.2 526.2,1000.3 527.2,994.9 528.2,987.7 529.2,979.4 530.2,970.8 531.2,961.3 532.2,951.1 533.2,940.9 534.2,931.2 535.2,921.3 536.2,909.8 537.2,896.4 538.2,880.8 539.2,860.6 540.2,839.2 541.2,819.0 542.2,801.5 543.2,786.3 544.2,770.1 545.2,751.2 546.2,729.0 547.2,702.9 548.2,686.2 549.2,673.6 550.2,661.0 551.2,648.1 552.2,635.3 553.2,622.0 554.2,608.5 555.2,595.3 556.2,582.9 557.2,570.1 558.2,554.2 559.2,535.6 560.2,516.3 561.2,495.9 562.2,474.7 563.2,453.7 564.2,434.7 565.2,422.0 566.2,411.9 567.2,403.2 568.2,395.6 569.2,388.9 570.2,382.8 571.2,377.0 572.2,372.0 573.2,367.7 574.2,363.9 575.2,360.3 576.2,357.2 577.2,354.4 578.2,351.9 579.2,349.4 580.2,347.0 581.2,345.1 582.2,344.0 583.2,343.9 584.2,344.8 585.2,346.5 586.2,348.8 587.2,351.5 588.2,354.5 589.2,359.3 590.2,365.4 591.2,371.8 592.2,378.6 593.2,386.3 594.2,394.9 595.2,404.6 596.2,414.6 597.2,425.1 598.2,433.1 599.2,440.1 600.2,443.9 601.2,443.1 602.2,440.2 603.2,436.1 604.2,431.9 605.2,428.1 606.2,424.0 607.2,419.6 608.2,415.1 609.2,410.4 610.2,405.9 611.2,401.4 612.2,396.7 613.2,391.5 614.2,385.3 615.2,377.6 616.2,369.3 617.2,361.1 618.2,352.8 619.2,345.7 620.2,339.9 621.2,334.6 622.2,329.2 623.2,323.4 624.2,317.6 625.2,312.5 626.2,308.5 627.2,304.9 628.2,301.8 629.2,299.0 630.2,296.4 631.2,293.8 632.2,291.1 633.2,288.7 634.2,286.9 635.2,285.9 636.2,286.0 637.2,287.0 638.2,288.9 639.2,291.2 640.2,293.9 641.2,296.7 642.2,299.4 643.2,302.6 644.2,306.2 645.2,310.2 646.2,314.5 647.2,319.3 648.2,325.0 649.2,330.9 650.2,336.3 651.2,341.3 652.2,346.2 653.2,351.1 654.2,356.4 655.2,362.1 656.2,366.7 657.2,369.5 658.2,371.9 659.2,374.0 660.2,375.6 661.2,376.4 662.2,376.3 663.2,375.3 664.2,373.5 665.2,371.4 666.2,369.1 667.2,366.7 668.2,363.2 669.2,359.2 670.2,355.6 671.2,353.4 672.2,353.1 673.2,353.6 674.2,354.5 675.2,355.8 676.2,357.2 677.2,358.7 678.2,360.8 679.2,363.4 680.2,366.4 681.2,369.6 682.2,373.1 683.2,377.2 684.2,381.9 685.2,386.9 686.2,392.3 687.2,398.4 688.2,404.7 689.2,411.3 690.2,418.1 691.2,425.1 692.2,432.4 693.2,439.7 694.2,447.2 695.2,454.8 696.2,462.6 697.2,470.5 698.2,478.3 699.2,485.9 700.2,493.2 701.2,500.4 702.2,507.9 703.2,516.1 704.2,525.3 705.2,536.1 706.2,547.3 707.2,557.4 708.2,566.8 709.2,575.7 710.2,583.9 711.2,591.2 712.2,598.3 713.2,605.8 714.2,613.5 715.2,621.2 716.2,628.5 717.2,635.5 718.2,643.0 719.2,651.3 720.2,660.1 721.2,670.3 722.2,683.4 723.2,704.6 724.2,726.3 725.2,747.4 726.2,764.4 727.2,779.3 728.2,793.2 729.2,807.2 730.2,820.8 731.2,834.3 732.2,848.8 733.2,865.8 734.2,881.9 735.2,893.8 736.2,903.8 737.2,912.8 738.2,921.4 739.2,930.0 740.2,937.7 741.2,943.4 742.2,948.2 743.2,952.5 744.2,955.4 745.2,956.0 746.2,953.9 747.2,949.9 748.2,945.0 749.2,939.6 750.2,932.4 751.2,924.0 752.2,915.3 753.2,905.7 754.2,895.4 755.2,885.3 756.2,876.3 757.2,868.0 758.2,859.5 759.2,849.8 760.2,837.5 761.2,822.0 762.2,808.2 763.2,796.1 764.2,785.2 765.2,776.1 766.2,769.4 767.2,763.5 768.2,758.5 769.2,754.0 770.2,750.0 771.2,746.4 772.2,743.1 773.2,740.1 774.2,737.4 775.2,734.8 776.2,732.5 777.2,730.2 778.2,728.1 779.2,726.2 780.2,724.5 781.2,722.9 782.2,721.5 783.2,720.1 784.2,718.9 785.2,717.7 786.2,716.6 787.2,715.6 788.2,714.7 789.2,713.6 790.2,712.6 791.2,711.7 792.2,711.0 793.2,710.6 794.2,710.5 795.2,710.9 796.2,711.5 797.2,712.5 798.2,713.5 799.2,714.5 800.2,715.3 801.2,715.9 802.2,716.5 803.2,717.0 804.2,717.5 805.2,718.0 806.2,718.4 807.2,718.8 808.2,719.2 809.2,719.5 810.2,719.8 811.2,720.1 812.2,720.4 813.2,720.5 814.2,720.6 815.2,720.2 816.2,719.1 817.2,717.6 818.2,715.8 819.2,713.8 820.2,711.1 821.2,707.4 822.2,703.1 823.2,698.6 824.2,693.9 825.2,688.5 826.2,682.3 827.2,674.3 828.2,664.8 829.2,656.4 830.2,648.9 831.2,641.2 832.2,632.8 833.2,623.7 834.2,613.8 835.2,602.4 836.2,589.9 837.2,577.7 838.2,565.8 839.2,553.9 840.2,541.8 841.2,529.7 842.2,517.0 843.2,503.2 844.2,487.5 845.2,464.5 846.2,445.6 847.2,431.8 848.2,416.4 849.2,403.0 850.2,392.6 851.2,383.2 852.2,373.2 853.2,363.1 854.2,353.1 855.2,342.9 856.2,332.9 857.2,323.0 858.2,313.1 859.2,303.9 860.2,295.6 861.2,287.3 862.2,277.4 863.2,266.6 864.2,257.8 865.2,250.1 866.2,243.1 867.2,236.7 868.2,230.9 869.2,225.6 870.2,220.8 871.2,216.4 872.2,212.3 873.2,208.4 874.2,204.5 875.2,200.5 876.2,196.5 877.2,192.6 878.2,188.8 879.2,185.3 880.2,182.0 881.2,179.0 882.2,176.2 883.2,173.6 884.2,171.1 885.2,168.7 886.2,166.5 887.2,164.2 888.2,162.0 889.2,159.9 890.2,157.9 891.2,155.9 892.2,154.0 893.2,152.1 894.2,150.2 895.2,148.4 896.2,146.5 897.2,144.7 898.2,143.0 899.2,141.2 900.2,139.6 901.2,138.0 902.2,136.5 903.2,135.0 904.2,133.6 905.2,132.1 906.2,130.8 907.2,129.5 908.2,128.2 909.2,127.0 910.2,125.9 911.2,124.8 912.2,123.7 913.2,122.6 914.2,121.6 915.2,120.7 916.2,119.8 917.2,119.0 918.2,118.2 919.2,117.5 920.2,116.8 921.2,116.2 922.2,115.5 923.2,115.0 924.2,114.4 925.2,114.0 926.2,113.6 927.2,113.2 928.2,112.8 929.2,112.5 930.2,112.1 931.2,111.8 932.2,111.6 933.2,111.4 934.2,111.2 935.2,111.1 936.2,110.9 937.2,110.8 938.2,110.7 939.2,110.6 940.2,110.5 941.2,110.4 942.2,110.4 943.2,110.4 944.2,110.6 945.2,110.8 946.2,111.2 947.2,111.6 948.2,112.1 949.2,112.7 950.2,113.2 951.2,113.8 952.2,114.4 953.2,115.2 954.2,116.0 955.2,117.0 956.2,118.1 957.2,119.2 958.2,120.5 959.2,121.8 960.2,123.2 961.2,124.9 962.2,126.8 963.2,128.9 964.2,131.1 965.2,133.5 966.2,136.1 967.2,139.0 968.2,142.3 969.2,145.9 970.2,150.0 971.2,154.7 972.2,160.1 973.2,166.4 974.2,173.8 975.2,183.2 976.2,196.4 977.2,213.8 978.2,233.6 979.2,252.8 980.2,271.7 981.2,313.4 982.2,351.9 983.2,400.3 984.2,464.7 985.2,516.3 986.2,569.5 987.2,649.5 988.2,719.1 989.2,756.9 990.2,781.8 991.2,799.1 992.2,804.3 993.2,795.0 994.2,774.9 995.2,748.5 996.2,698.6 997.2,650.4 998.2,605.0 999.2,553.2 1000.2,470.2 1001.2,416.6 1002.2,382.7 1003.2,336.1 1004.2,305.4 1005.2,281.7 1006.2,259.6 1007.2,214.1 1008.2,193.4 1009.2,177.4 1010.2,165.0 1011.2,156.2 1012.2,149.0 1013.2,143.1 1014.2,138.2 1015.2,134.3 1016.2,131.0 1017.2,128.1 1018.2,125.6 1019.2,123.4 1020.2,121.4 1021.2,119.6 1022.2,117.9 1023.2,116.4 1024.2,114.9 1025.2,113.7 1026.2,112.5 1027.2,111.4 1028.2,110.5 1029.2,109.6 1030.2,108.7 1031.2,107.9 1032.2,107.2 1033.2,106.5 1034.2,105.8 1035.2,105.2 1036.2,104.6 1037.2,104.0 1038.2,103.4 1039.2,102.8 1040.2,102.3 1041.2,101.8 1042.2,101.3 1043.2,100.9 1044.2,100.6 1045.2,100.3 1046.2,100.0 1047.2,99.7 1048.2,99.5 1049.2,99.3 1050.2,99.1 1051.2,98.9 1052.2,98.7 1053.2,98.6 1054.2,98.4 1055.2,98.3 1056.2,98.2 1057.2,98.1 1058.2,98.0 1059.2,97.9 1060.2,97.8 1061.2,97.8 1062.2,97.7 1063.2,97.6 1064.2,97.5 1065.2,97.4 1066.2,97.3 1067.2,97.1 1068.2,96.9 1069.2,96.7 1070.2,96.5 1071.2,96.3 1072.2,96.1 1073.2,95.9 1074.2,95.8 1075.2,95.8 1076.2,95.8 1077.2,95.9 1078.2,96.0 1079.2,96.1 1080.2,96.3 1081.2,96.5 1082.2,96.6 1083.2,96.8 1084.2,96.9 1085.2,97.0 1086.2,97.1 1087.2,97.1 1088.2,97.2 1089.2,97.2 1090.2,97.2 1091.2,97.3 1092.2,97.3 1093.2,97.4 1094.2,97.4 1095.2,97.5 1096.2,97.6 1097.2,97.7 1098.2,97.9 1099.2,98.1 1100.2,98.4 1101.2,98.7 1102.2,99.0 1103.2,99.3 1104.2,99.5 1105.2,99.8 1106.2,100.1 1107.2,100.4 1108.2,100.7 1109.2,101.0 1110.2,101.3 1111.2,101.7 1112.2,102.1 1113.2,102.6 1114.2,103.1 1115.2,103.8 1116.2,104.6 1117.2,105.7 1118.2,106.9 1119.2,108.3 1120.2,109.8 1121.2,111.3 1122.2,112.9 1123.2,114.9 1124.2,117.0 1125.2,119.4 1126.2,121.9 1127.2,124.3 1128.2,126.9 1129.2,129.8 1130.2,132.8 1131.2,135.5 1132.2,137.4 1133.2,138.9 1134.2,140.2 1135.2,141.4 1136.2,142.4 1137.2,143.5 1138.2,144.6 1139.2,145.7 1140.2,147.2 1141.2,148.9 1142.2,150.6 1143.2,152.3 1144.2,153.6 1145.2,154.4 1146.2,154.5 1147.2,153.0 1148.2,150.3 1149.2,147.0 1150.2,142.7 1151.2,136.1 1152.2,129.8 1153.2,125.6 1154.2,122.1 1155.2,119.1 1156.2,116.5 1157.2,114.4 1158.2,112.3 1159.2,110.2 1160.2,108.4 1161.2,107.0 1162.2,106.2 1163.2,106.1 1164.2,106.1 1165.2,106.1 1166.2,106.1 1167.2,106.1 1168.2,106.1 1169.2,106.2 1170.2,106.6 1171.2,107.3 1172.2,108.2 1173.2,109.2 1174.2,110.2 1175.2,111.2 1176.2,112.4 1177.2,113.7 1178.2,114.7 1179.2,114.9 1180.2,114.1 1181.2,112.7 1182.2,110.9 1183.2,109.2 1184.2,107.6 1185.2,105.6 1186.2,103.5 1187.2,101.5 1188.2,99.9 1189.2,98.8 1190.2,98.2 1191.2,97.6 1192.2,97.1 1192.8,96.9 1193.2,96.7 1193.8,96.5 1194.2,96.4 1194.8,96.2 1195.2,96.1 1195.8,96.1 1196.2,95.7 1196.8,95.7 1197.2,95.7 1197.8,95.8 1198.2,95.6 1198.8,95.9 1199.2,95.8 1199.8,95.4 1200.2,95.5 1200.8,95.8 1201.2,95.3 1201.8,95.4 1202.2,95.7 1202.8,95.3 1203.2,95.5 1203.8,95.2 1204.2,94.8 1204.8,95.0 1205.2,95.7 1205.8,95.1 1206.2,94.8 1206.8,95.0 1207.2,94.9 1207.8,95.2 1208.2,95.5 1208.8,94.6 1209.2,95.0 1209.8,94.1 1210.2,95.2 1210.8,94.0 1211.2,94.4 1211.8,95.0 1212.2,93.8 1212.8,94.0 1213.2,95.0 1213.8,93.9 1214.2,94.5 1214.8,94.5 1215.2,93.1 1215.8,93.6 1216.2,94.2 1216.8,92.9 1217.2,93.7 1217.8,94.3 1218.2,93.8 1218.8,93.8 1219.2,93.2 1219.8,93.3 1220.2,92.1 1220.8,92.3 1221.2,92.4 1221.8,92.9 1222.2,93.1 1222.8,93.0 1223.0,92.3 1223.2,93.7 1223.5,93.1 1223.8,93.4 1224.0,92.5 1224.2,91.5 1224.5,92.8 1224.8,93.3 1225.0,93.6 1225.2,92.5 1225.5,92.4 1225.8,93.2 1226.0,92.5 1226.2,91.9 1226.5,91.6 1226.8,91.1 1227.0,91.9 1227.2,91.1 1227.5,93.2 1227.8,93.0 1228.0,92.4 1228.2,92.0 1228.5,91.2 1228.8,91.2 1229.0,90.9 1229.2,92.4 1229.5,92.4 1229.8,92.3 1230.0,90.9 1230.2,91.7 1230.5,92.3 1230.8,90.6 1231.0,92.5 1231.2,90.5 1231.5,91.9 1231.8,92.4 1232.0,91.8 1232.2,91.5 1232.5,91.6 1232.8,92.1 1233.0,91.0 1233.2,91.6 1233.5,91.5 1233.8,91.6 1234.0,92.4 1234.2,91.3 1234.5,90.3 1234.8,92.7 1235.0,91.1 1235.2,91.3 1235.5,92.0 1235.8,92.3 1236.0,91.4 1236.2,90.8 1236.5,90.8 1236.8,90.6 1237.0,90.9 1237.2,92.6 1237.5,90.5 1237.8,90.6 1238.0,90.9 1238.2,90.5 1238.5,91.1 1238.8,91.2 1239.0,90.9 1239.2,92.3 1239.5,90.8 1239.8,90.7 1240.0,92.4 1240.2,90.9 1240.5,91.5 1240.8,92.1 1241.0,91.0 1241.2,91.7 1241.5,90.4 1241.8,90.1 1242.0,90.8 1242.2,90.8 1242.5,90.3 1242.8,91.2 1243.0,90.1 1243.2,90.5 1243.5,91.0 1243.8,91.3 1244.0,92.1 1244.2,90.7 1244.5,89.6 1244.8,91.5 1245.0,90.2 1245.2,91.4 1245.5,91.5 1245.8,90.3 1246.0,90.7 1246.2,91.4 1246.5,90.9 1246.8,90.3 1247.0,90.7 1247.2,90.4 1247.5,89.6 1247.8,91.3 1248.0,90.7 1248.2,89.5 1248.5,90.6 1248.8,89.5 1249.0,91.0 1249.2,92.0 1249.5,90.9 1249.8,90.1 1250.0,92.0 1250.2,89.9 1250.5,90.1 1250.8,90.7 1251.0,91.1 1251.2,91.1 1251.5,90.2 1251.8,90.6 1252.0,89.4 1252.2,90.5 1252.5,90.0 1252.8,91.1 1253.0,91.0 1253.2,91.1 1253.5,91.1 1253.8,90.5 1254.0,90.9 1254.2,91.0 1254.5,91.1 1254.8,91.0 1255.0,90.7 1255.2,91.4 1255.5,91.1 1255.8,91.9 1256.0,91.0 1256.2,90.5 1256.5,90.8 1256.8,90.2 1257.0,89.7 1257.2,91.4 1257.5,91.6 1257.8,91.2 1258.0,89.9 1258.2,91.3 1258.5,90.9 1258.8,90.8 1259.0,91.5 1259.2,90.6 1259.5,90.9 1259.8,91.6 1260.0,91.0 1260.2,89.9 1260.5,91.6 1260.8,91.4 1261.0,92.5 1261.2,90.9 1261.5,91.6 1261.8,92.5 1262.0,90.9 1262.2,90.0 1262.5,92.1 1262.8,91.4 1263.0,91.7 1263.2,90.1 1263.5,90.7 1263.8,92.4 1264.0,92.4 1264.2,92.2 1264.5,92.2 1264.8,91.4 1265.0,90.6 1265.2,91.4 1265.5,92.7 1265.8,92.3 1266.0,91.3 1266.2,90.1 1266.5,91.0 1266.8,91.1 1267.0,91.5 1267.2,91.3 1267.5,91.9 1267.8,92.1 1268.0,92.1 1268.2,90.1 1268.5,91.3 1268.8,91.2 1269.0,90.0 1269.2,92.4 1269.5,91.9 1269.8,90.1 1270.0,90.9 1270.2,92.1 1270.5,92.5 1270.8,90.2 1271.0,91.1 1271.2,91.4 1271.5,91.0 1271.8,91.1 1272.0,91.2 1272.2,90.0 1272.5,92.4 1272.8,89.8 1273.0,90.8 1273.2,91.1 1273.5,89.8 1273.8,90.6 1274.0,91.6 1274.2,91.4 1274.5,91.3 1274.8,90.6 1275.0,90.4 1275.2,89.6 1275.5,92.0 1275.8,90.6 1276.0,91.1 1276.2,91.0 1276.5,90.9 1276.8,92.1 1277.0,91.3 1277.2,91.0 1277.5,91.2 1277.8,90.9 1278.0,90.2 1278.2,89.7 1278.5,91.4 1278.8,90.5 1279.0,90.3 1279.2,91.5 1279.5,91.2 1279.8,90.8 1280.0,90.5 1280.2,91.3 1280.5,91.9 1280.8,90.7 1281.0,89.8 1281.2,89.9 1281.5,91.3 1281.8,91.2 1282.0,90.3 1282.2,91.0 1282.5,89.6 1282.8,91.1 1283.0,91.6 1283.2,89.6 1283.5,91.2 1283.8,90.3 1284.0,91.5 1284.2,92.0 1284.5,91.0 1284.8,90.8 1285.0,92.1 1285.2,91.6 1285.5,90.2 1285.8,89.6 1286.0,90.9 1286.2,90.6 1286.5,89.6 1286.8,90.5 1287.0,90.8 1287.2,90.9 1287.5,90.2 1287.8,90.1 1288.0,90.8 1288.2,90.5 1288.5,91.6 1288.8,90.4 1289.0,91.3 1289.2,90.3 1289.5,90.1 1289.8,90.1 1290.0,90.7 1290.2,90.0 1290.5,91.7 1290.8,91.7 1291.0,91.5 1291.2,91.2 1291.5,90.3 1291.8,91.9 1292.0,91.5 1292.2,91.5 1292.5,89.9 1292.8,90.6 1293.0,90.5 1293.2,90.6 1293.5,92.5 1293.8,91.6 1294.0,92.2 1294.2,90.9 1294.5,91.3 1294.8,91.7 1295.0,90.1 1295.2,91.4 1295.5,92.2 1295.8,91.6 1296.0,92.7 1296.2,92.7 1296.5,91.8 1296.8,91.5 1297.0,92.3 1297.2,91.4 1297.5,92.2 1297.8,91.5 1298.0,91.9 1298.2,92.8 1298.5,93.0 1298.8,91.4 1299.0,91.7 1299.2,90.6 1299.5,90.9 1299.8,90.7 1300.0,90.7 1300.2,92.5 1300.5,93.3 1300.8,91.7 1301.0,90.9 1301.2,91.4 1301.5,92.4 1301.8,91.0 1302.0,92.5 1302.2,93.6 1302.5,92.9 1302.8,91.8 1303.0,92.0 1303.2,92.0 1303.5,92.9 1303.8,92.4 1304.0,92.8 1304.2,93.1 1304.5,92.3 1304.8,93.7 1305.0,91.5 1305.2,93.3 1305.5,91.9 1305.8,92.6 1306.0,92.8 1306.2,92.6 1306.5,93.9 1306.8,94.4 1307.0,93.3 1307.2,93.4 1307.5,93.9 1307.8,93.7 1308.0,93.1 1308.2,93.4 1308.5,93.2 1308.8,93.0 1309.0,92.5 1309.2,94.8 1309.5,94.8 1309.8,93.0 1310.0,92.4 1310.2,93.2 1310.5,92.9 1310.8,94.0 1311.0,94.2 1311.2,92.6 1311.5,93.1 1311.8,93.9 1312.0,93.2 1312.2,94.4 1312.5,95.3 1312.8,92.8 1313.0,94.5 1313.2,94.0 1313.5,94.5 1313.8,95.1 1314.0,94.7 1314.2,94.5 1314.5,94.3 1314.8,95.2 1315.0,93.3 1315.2,93.3 1315.5,93.7 1315.8,95.1 1316.0,95.4 1316.2,95.3 1316.5,94.1 1316.8,93.9 1317.0,95.0 1317.2,94.2 1317.5,94.4 1317.8,96.2 1318.0,94.6 1318.2,94.8 1318.5,94.1 1318.8,94.0 1319.0,94.9 1319.2,96.4 1319.5,94.9 1319.8,93.9 1320.0,95.7 1320.2,95.1 1320.5,95.0 1320.8,95.8 1321.0,94.9 1321.2,96.2 1321.5,96.7 1321.8,96.6 1322.0,95.7 1322.2,95.3 1322.5,94.8 1322.8,94.3 1323.0,96.2 1323.2,95.6 1323.5,95.6 1323.8,95.7 1324.0,96.6 1324.2,96.4 1324.5,96.7 1324.8,97.1 1325.0,95.5 1325.2,95.3 1325.5,96.1 1325.8,96.2 1326.0,95.9 1326.2,96.7 1326.5,97.3 1326.8,95.5 1327.0,96.3 1327.2,97.3 1327.5,96.0 1327.8,97.0 1328.0,95.7 1328.2,96.1 1328.5,96.9 1328.8,95.6 1329.0,96.5 1329.2,95.7 1329.5,97.2 1329.8,97.4 1330.0,96.8 1330.2,96.8 1330.5,96.8 1330.8,95.1 1331.0,96.1 1331.2,95.3 1331.5,97.1 1331.8,95.2 1332.0,95.6 1332.2,97.1 1332.5,96.8 1332.8,96.6 1333.0,96.9 1333.2,96.8 1333.5,96.8"/>
</g><g clip-path="url(#cr)">
<path class="c" stroke="#000000" d="M1351.5,82.1 1352.0,83.0 1352.5,83.9 1353.0,83.1 1353.5,81.3 1354.0,82.4 1354.5,81.7 1355.0,82.4 1355.5,81.9 1356.0,83.3 1356.5,82.6 1357.0,82.6 1357.5,83.0 1358.0,83.7 1358.5,83.6 1359.0,82.7 1359.5,82.6 1360.0,82.5 1360.5,82.4 1361.0,82.9 1361.5,81.8 1362.0,81.6 1362.5,83.0 1363.0,82.1 1363.5,82.5 1364.0,82.9 1364.5,82.9 1365.0,82.7 1365.5,82.1 1366.0,84.1 1366.5,81.9 1367.0,83.9 1367.5,83.0 1368.0,83.2 1368.5,83.5 1369.0,83.1 1369.5,83.4 1370.0,82.2 1370.5,82.5 1371.0,82.2 1371.5,82.2 1372.0,81.6 1372.5,83.1 1373.0,83.0 1373.5,81.8 1374.0,82.3 1374.5,84.0 1375.0,82.5 1375.5,83.1 1376.0,82.4 1376.5,82.6 1377.0,82.8 1377.5,82.7 1378.0,81.7 1378.5,83.5 1379.0,82.7 1379.5,83.7 1380.0,83.2 1380.5,83.2 1381.0,82.6 1381.5,81.5 1382.0,82.7 1382.5,83.7 1383.0,82.6 1383.5,84.1 1384.0,82.8 1384.5,84.2 1385.0,83.9 1385.5,81.9 1386.0,82.7 1386.5,83.1 1387.0,84.4 1387.5,84.3 1388.0,82.6 1388.5,83.9 1389.0,83.1 1389.5,83.2 1390.0,83.3 1390.5,83.6 1391.0,84.1 1391.5,84.0 1392.0,84.2 1392.5,84.0 1393.0,82.4 1393.5,82.9 1394.0,83.0 1394.5,83.8 1395.0,83.7 1395.5,83.3 1396.0,83.2 1396.5,82.7 1397.0,83.1 1397.5,83.7 1398.0,84.4 1398.5,83.8 1399.0,82.5 1399.5,84.4 1400.0,83.4 1400.5,83.4 1401.0,83.3 1401.5,84.1 1402.0,82.2 1402.5,82.5 1403.0,84.1 1403.5,83.5 1404.0,83.2 1404.5,83.1 1405.0,82.3 1405.5,84.0 1406.0,82.8 1406.5,82.5 1407.0,84.1 1407.5,83.1 1408.0,82.9 1408.5,83.2 1409.0,83.6 1409.5,83.1 1410.0,83.7 1410.5,83.4 1411.0,83.7 1411.5,82.5 1412.0,84.2 1412.5,82.9 1413.0,85.2 1413.5,84.6 1414.0,82.8 1414.5,84.2 1415.0,84.5 1415.5,83.0 1416.0,84.4 1416.5,84.2 1417.0,84.1 1417.5,84.0 1418.0,83.5 1418.5,83.4 1419.0,83.8 1419.5,84.3 1420.0,84.3 1420.5,84.7 1421.0,85.2 1421.5,85.5 1422.0,85.6 1422.5,83.6 1423.0,85.7 1423.5,85.3 1424.0,85.8 1424.5,87.3 1425.0,86.0 1425.5,86.2 1426.0,85.8 1426.5,85.7 1427.0,85.1 1427.5,85.8 1428.0,86.0 1428.5,85.4 1429.0,86.1 1429.5,86.6 1430.0,86.2 1430.5,85.8 1431.0,84.9 1431.5,86.8 1432.0,85.9 1432.5,86.6 1433.0,86.7 1433.5,86.5 1434.0,87.5 1434.5,85.7 1435.0,86.2 1435.5,87.8 1436.0,85.2 1436.5,86.0 1437.0,86.0 1437.5,86.5 1438.0,85.4 1438.5,86.7 1439.0,86.6 1439.5,87.3 1440.0,87.2 1440.5,86.9 1441.0,86.1 1441.5,86.4 1442.0,87.2 1442.5,85.9 1443.0,86.2 1443.5,87.0 1444.0,87.3 1444.5,86.2 1445.0,85.8 1445.5,86.1 1446.0,86.0 1446.5,86.3 1447.0,86.1 1447.5,86.7 1448.0,85.7 1448.5,85.6 1449.0,86.3 1449.5,85.7 1450.0,87.3 1450.5,85.2 1451.0,85.7 1451.5,86.9 1452.0,85.6 1452.5,85.9 1453.0,87.0 1453.5,86.5 1454.0,85.9 1454.5,86.6 1455.0,86.3 1455.5,85.5 1456.0,85.1 1456.5,86.2 1457.0,85.1 1457.5,85.7 1458.0,84.8 1458.5,85.9 1459.0,85.8 1459.5,86.0 1460.0,85.2 1460.5,86.0 1461.0,84.9 1461.5,84.3 1462.0,84.8 1462.5,83.9 1463.0,83.5 1463.5,84.0 1464.0,84.1 1464.5,82.5 1465.0,83.2 1465.5,83.3 1466.0,83.7 1466.5,82.5 1467.0,82.7 1467.5,82.6 1468.0,82.1 1468.5,81.5 1469.0,82.8 1469.5,81.9 1470.0,81.7 1470.5,81.9 1471.0,82.1 1471.5,82.2 1472.0,81.9 1472.5,82.1 1473.0,82.6 1473.5,82.2 1474.0,83.0 1474.5,82.3 1475.0,82.7 1475.5,82.2 1476.0,82.0 1476.5,83.6 1477.0,82.7 1477.5,84.5 1478.0,85.5 1478.5,86.0 1479.0,86.5 1479.5,87.1 1480.0,87.4 1480.5,89.4 1481.0,89.3 1481.5,90.9 1482.0,92.3 1482.5,94.5 1483.0,95.4 1483.5,96.5 1484.0,98.1 1484.5,99.7 1485.0,100.2 1485.5,100.2 1486.0,99.2 1486.5,99.7 1487.0,99.2 1487.5,100.4 1488.0,97.4 1488.5,97.6 1489.0,96.2 1489.5,95.5 1490.0,95.3 1490.5,95.7 1491.0,96.7 1491.5,94.8 1492.0,95.4 1492.5,94.5 1493.0,96.0 1493.5,94.3 1494.0,94.1 1494.5,94.2 1495.0,94.8 1495.5,95.1 1496.0,95.3 1496.5,93.1 1497.0,95.1 1497.5,94.5 1498.0,93.9 1498.5,95.5 1499.0,96.3 1499.5,98.0 1500.0,96.7 1500.5,98.4 1501.0,98.9 1501.5,100.2 1502.0,101.0 1502.5,102.2 1503.0,104.2 1503.5,104.8 1504.0,108.3 1504.5,109.0 1505.0,112.0 1505.5,115.1 1506.0,117.6 1506.5,121.1 1507.0,122.4 1507.5,128.9 1508.0,136.4 1508.5,146.8 1509.0,159.1 1509.5,169.6 1510.0,183.3 1510.5,197.5 1511.0,210.7 1511.5,215.5 1512.0,209.9 1512.5,196.0 1513.0,181.6 1513.5,170.1 1514.0,163.5 1514.5,157.1 1515.0,151.8 1515.5,144.0 1516.0,131.2 1516.5,112.2 1517.0,98.7 1517.5,94.4 1518.0,90.3 1518.5,90.1 1519.0,88.9 1519.5,89.8 1520.0,89.4 1520.5,88.1 1521.0,88.3 1521.5,87.8 1522.0,87.6 1522.5,87.9 1523.0,88.6 1523.5,87.7 1524.0,89.3 1524.5,89.2 1525.0,89.9 1525.5,90.7 1526.0,91.9 1526.5,91.9 1527.0,92.2 1527.5,93.3 1528.0,93.8 1528.5,92.3 1529.0,94.1 1529.5,94.3 1530.0,96.3 1530.5,96.2 1531.0,96.8 1531.5,97.9 1532.0,98.5 1532.5,98.7 1533.0,98.9 1533.5,101.7 1534.0,101.8 1534.5,101.3 1535.0,101.0 1535.5,100.9 1536.0,101.5 1536.5,102.4 1537.0,102.5 1537.5,101.0 1538.0,101.7 1538.5,101.7 1539.0,102.2 1539.5,101.7 1540.0,102.5 1540.5,102.0 1541.0,102.8 1541.5,102.7 1542.0,102.2 1542.5,102.8 1543.0,103.1 1543.5,103.2 1544.0,102.7 1544.5,102.9 1545.0,103.2 1545.5,103.8 1546.0,103.3 1546.5,102.5 1547.0,103.8 1547.5,103.6 1548.0,103.6 1548.5,103.6 1549.0,104.3 1549.5,106.0 1550.0,104.5 1550.5,105.0 1551.0,104.8 1551.5,105.0 1552.0,104.8 1552.5,104.8 1553.0,104.8 1553.5,105.9 1554.0,104.9 1554.5,105.5 1555.0,105.9 1555.5,106.0 1556.0,106.9 1556.5,106.4 1557.0,106.7 1557.5,106.9 1558.0,107.8 1558.5,107.2 1559.0,107.6 1559.5,107.6 1560.0,109.1 1560.5,109.5 1561.0,109.8 1561.5,109.7 1562.0,110.7 1562.5,110.8 1563.0,110.9 1563.5,111.1 1564.0,112.1 1564.5,112.1 1565.0,113.4 1565.5,112.2 1566.0,112.7 1566.5,112.5 1567.0,114.8 1567.5,114.9 1568.0,114.3 1568.5,114.7 1569.0,114.7 1569.5,114.9 1570.0,114.9 1570.5,114.6 1571.0,116.0 1571.5,114.9 1572.0,115.8 1572.5,117.2 1573.0,117.0 1573.5,116.8 1574.0,117.7 1574.5,117.8 1575.0,117.3 1575.5,118.4 1576.0,118.2 1576.5,118.5 1577.0,119.4 1577.5,120.9 1578.0,120.0 1578.5,119.6 1579.0,120.7 1579.5,121.6 1580.0,122.5 1580.5,122.2 1581.0,123.1 1581.5,123.9 1582.0,122.5 1582.5,124.3 1583.0,124.6 1583.5,124.8 1584.0,126.5 1584.5,126.3 1585.0,126.1 1585.5,127.7 1586.0,127.4 1586.5,127.5 1587.0,128.8 1587.5,127.3 1588.0,129.5 1588.5,130.1 1589.0,129.2 1589.5,130.4 1590.0,130.3 1590.5,130.7 1591.0,132.1 1591.5,132.4 1592.0,132.5 1592.5,132.7 1593.0,132.8 1593.5,134.3 1594.0,134.3 1594.5,134.3 1595.0,135.0 1595.5,136.9 1596.0,135.7 1596.5,134.9 1597.0,135.1 1597.5,137.8 1598.0,137.4 1598.5,137.6 1599.0,139.0 1599.5,138.4 1600.0,138.2 1600.5,139.8 1601.0,139.9 1601.5,141.5 1602.0,141.3 1602.5,143.1 1603.0,143.4 1603.5,143.4 1604.0,143.0 1604.5,143.9 1605.0,143.7 1605.5,144.5 1606.0,144.2 1606.5,145.7 1607.0,145.3 1607.5,146.5 1608.0,146.5 1608.5,147.2 1609.0,146.0 1609.5,146.9 1610.0,148.0 1610.5,148.4 1611.0,149.9 1611.5,150.1 1612.0,148.9 1612.5,149.9 1613.0,150.3 1613.5,152.1 1614.0,151.8 1614.5,151.5 1615.0,152.1 1615.5,152.5 1616.0,152.9 1616.5,153.3 1617.0,154.4 1617.5,154.4 1618.0,154.0 1618.5,155.5 1619.0,155.4 1619.5,156.5 1620.0,157.0 1620.5,157.7 1621.0,159.5 1621.5,159.3 1622.0,157.3 1622.5,159.5 1623.0,159.5 1623.5,159.2 1624.0,158.6 1624.5,160.7 1625.0,161.3 1625.5,161.7 1626.0,160.8 1626.5,162.4 1627.0,162.6 1627.5,163.7 1628.0,163.9 1628.5,164.1 1629.0,165.1 1629.5,164.8 1630.0,165.0 1630.5,165.7 1631.0,165.8 1631.5,165.9 1632.0,166.2 1632.5,166.4 1633.0,167.9 1633.5,167.3 1634.0,167.5 1634.5,167.9 1635.0,168.6 1635.5,168.9 1636.0,168.3 1636.5,168.0 1637.0,167.8 1637.5,169.7 1638.0,169.5 1638.5,170.1 1639.0,170.8 1639.5,170.0 1640.0,170.6 1640.5,170.9 1641.0,171.2 1641.5,171.2 1642.0,171.6 1642.5,171.1 1643.0,170.8 1643.5,172.1 1644.0,172.3 1644.5,171.5 1645.0,172.0 1645.5,173.1 1646.0,172.9 1646.5,171.1 1647.0,171.9 1647.5,172.3 1648.0,172.6 1648.5,172.8 1649.0,173.2 1649.5,172.1 1650.0,174.1 1650.5,174.6 1651.0,173.7 1651.5,174.2 1652.0,174.2 1652.5,173.7 1653.0,175.2 1653.5,173.6 1654.0,174.7 1654.5,175.5 1655.0,175.1 1655.5,173.7 1656.0,173.6 1656.5,174.1 1657.0,175.7 1657.5,174.5 1658.0,175.6 1658.5,175.0 1659.0,175.1 1659.5,174.4 1660.0,174.7 1660.5,174.7 1661.0,173.2 1661.5,174.0 1662.0,172.3 1662.5,172.8 1663.0,173.5 1663.5,172.9 1664.0,172.8 1664.5,173.1 1665.0,172.9 1665.5,172.3 1666.0,172.6 1666.5,171.1 1667.0,172.1 1667.5,172.0 1668.0,170.3 1668.5,171.0 1669.0,170.5 1669.5,170.2 1670.0,169.5 1670.5,170.0 1671.0,169.8 1671.5,168.6 1672.0,168.2 1672.5,168.3 1673.0,167.5 1673.5,167.2 1674.0,168.4 1674.5,166.2 1675.0,165.0 1675.5,165.0 1676.0,163.7 1676.5,163.1 1677.0,163.6 1677.5,162.5 1678.0,163.4 1678.5,161.7 1679.0,160.9 1679.5,161.1 1680.0,161.7 1680.5,160.6 1681.0,160.1 1681.5,159.2 1682.0,160.1 1682.5,159.3 1683.0,158.1 1683.5,158.6 1684.0,158.2 1684.5,157.7 1685.0,156.4 1685.5,156.7 1686.0,155.7 1686.5,156.6 1687.0,154.1 1687.5,154.9 1688.0,154.3 1688.5,154.5 1689.0,154.0 1689.5,153.9 1690.0,152.8 1690.5,151.6 1691.0,151.5 1691.5,151.6 1692.0,151.1 1692.5,150.4 1693.0,151.6 1693.5,150.7 1694.0,150.0 1694.5,149.1 1695.0,149.1 1695.5,147.8 1696.0,149.3 1696.5,147.8 1697.0,148.1 1697.5,146.6 1698.0,147.3 1698.5,145.8 1699.0,145.1 1699.5,146.0 1700.0,145.5 1700.5,144.4 1701.0,143.7 1701.5,142.4 1702.0,141.9 1702.5,142.5 1703.0,142.3 1703.5,141.5 1704.0,141.0 1704.5,140.9 1705.0,142.1 1705.5,140.0 1706.0,139.8 1706.5,139.2 1707.0,139.1 1707.5,138.6 1708.0,138.3 1708.5,137.1 1709.0,137.4 1709.5,137.7 1710.0,136.7 1710.5,136.9 1711.0,134.9 1711.5,135.5 1712.0,135.1 1712.5,134.3 1713.0,134.5 1713.5,132.9 1714.0,134.3 1714.5,133.0 1715.0,132.8 1715.5,132.8 1716.0,132.6 1716.5,132.1 1717.0,132.4 1717.5,130.7 1718.0,130.8 1718.5,129.7 1719.0,128.8 1719.5,130.0 1720.0,128.7 1720.5,127.9 1721.0,127.8 1721.5,126.6 1722.0,127.4 1722.5,126.2 1723.0,125.8 1723.5,125.6 1724.0,126.6 1724.5,124.7 1725.0,125.0 1725.5,124.4 1726.0,124.1 1726.5,123.6 1727.0,122.8 1727.5,122.4 1728.0,122.4 1728.5,120.4 1729.0,121.4 1729.5,121.1 1730.0,120.1 1730.5,119.3 1731.0,118.3 1731.5,118.6 1732.0,116.4 1732.5,117.8 1733.0,117.4 1733.5,118.0 1734.0,115.8 1734.5,117.4 1735.0,114.8 1735.5,115.0 1736.0,114.5 1736.5,113.1 1737.0,113.5 1737.5,113.8 1738.0,112.9 1738.5,112.9 1739.0,110.9 1739.5,111.2 1740.0,112.2 1740.5,110.7 1741.0,110.6 1741.5,110.6 1742.0,110.7 1742.5,110.4 1743.0,109.8 1743.5,108.1 1744.0,109.3 1744.5,109.7 1745.0,108.0 1745.5,107.5 1746.0,107.7 1746.5,108.5 1747.0,107.2 1747.5,107.7 1748.0,107.2 1748.5,105.4 1749.0,106.2 1749.5,106.7 1750.0,106.8 1750.5,105.6 1751.0,105.6 1751.5,105.2 1752.0,105.7 1752.5,104.6 1753.0,104.5 1753.5,103.9 1754.0,104.1 1754.5,103.7 1755.0,103.4 1755.5,104.1 1756.0,102.4 1756.5,101.5 1757.0,102.4 1757.5,101.7 1758.0,101.1 1758.5,101.3 1759.0,101.3 1759.5,101.1 1760.0,100.0 1760.5,99.9 1761.0,100.8 1761.5,100.0 1762.0,99.4 1762.5,98.5 1763.0,97.9 1763.5,98.3 1764.0,98.8 1764.5,97.0 1765.0,97.4 1765.5,97.2 1766.0,95.6 1766.5,97.2 1767.0,96.4 1767.5,95.8 1768.0,96.5 1768.5,95.5 1769.0,94.7 1769.5,95.1 1770.0,94.2 1770.5,94.6 1771.0,95.0 1771.5,93.2 1772.0,94.3 1772.5,94.7 1773.0,95.8 1773.5,93.2 1774.0,93.6 1774.5,93.8 1775.0,93.4 1775.5,93.4 1776.0,92.8 1776.5,93.7 1777.0,93.0 1777.5,93.4 1778.0,91.9 1778.5,93.1 1779.0,92.0 1779.5,93.1 1780.0,91.6 1780.5,91.7 1781.0,90.6 1781.5,92.5 1782.0,90.5 1782.5,91.5 1783.0,91.9 1783.5,92.3 1784.0,90.8 1784.5,91.3 1785.0,90.8 1785.5,90.4 1786.0,89.8 1786.5,90.7 1787.0,90.5 1787.5,90.5 1788.0,90.2 1788.5,90.8 1789.0,90.0 1789.5,89.6 1790.0,88.4 1790.5,90.1 1791.0,88.2 1791.5,89.3 1792.0,89.9 1792.5,89.2 1793.0,89.8 1793.5,88.7 1794.0,89.7 1794.5,89.5 1795.0,90.2 1795.5,88.6 1796.0,89.6 1796.5,88.6 1797.0,89.4 1797.5,88.8 1798.0,88.9 1798.5,89.3 1799.0,88.9 1799.5,88.2 1800.0,87.3 1800.5,89.2 1801.0,88.0 1801.5,88.6 1802.0,87.7 1802.5,88.1 1803.0,87.5 1803.5,87.9 1804.0,88.3 1804.5,87.8 1805.0,87.7 1805.5,88.1 1806.0,87.0 1806.5,88.0 1807.0,87.6 1807.5,87.5 1808.0,87.7 1808.5,87.8 1809.0,87.0 1809.5,87.8 1810.0,86.1 1810.5,87.1 1811.0,86.7 1811.5,87.5 1812.0,86.1 1812.5,86.2 1813.0,86.8 1813.5,86.1 1814.0,86.6 1814.5,87.0 1815.0,87.4 1815.5,85.0 1816.0,86.0 1816.5,84.8 1817.0,86.1 1817.5,85.1 1818.0,85.6 1818.5,84.1 1819.0,84.6 1819.5,85.3 1820.0,85.2 1820.5,84.0 1821.0,84.1 1821.5,85.1 1822.0,84.7 1822.5,84.1 1823.0,83.9 1823.5,83.2 1824.0,85.0 1824.5,83.9 1825.0,84.7 1825.5,84.0 1826.0,84.2 1826.5,82.8 1827.0,82.9 1827.5,84.2 1828.0,83.8 1828.5,84.1 1829.0,83.5 1829.5,82.8 1830.0,83.5 1830.5,82.7 1831.0,82.0 1831.5,83.5 1832.0,82.8 1832.5,83.3 1833.0,82.3 1833.5,82.4 1834.0,83.0 1834.5,82.3 1835.0,82.1 1835.5,83.3 1836.0,82.6 1836.5,84.1 1837.0,82.7 1837.5,83.3 1838.0,82.5 1838.5,81.5 1839.0,82.6 1839.5,81.9 1840.0,82.0 1840.5,82.7 1841.0,81.1 1841.5,81.3 1842.0,82.6 1842.5,81.8 1843.0,82.2 1843.5,80.6 1844.0,82.1 1844.5,81.7 1845.0,81.7 1845.5,82.2 1846.0,81.7 1846.5,81.8 1847.0,80.6 1847.5,81.1 1848.0,81.5 1848.5,82.1 1849.0,82.1 1849.5,81.7 1850.0,81.6 1850.5,81.5 1851.0,81.1 1851.5,83.2 1852.0,81.7 1852.5,81.5 1853.0,81.5 1853.5,81.9 1854.0,82.4 1854.5,80.6 1855.0,81.7 1855.5,81.0 1856.0,80.9 1856.5,81.1 1857.0,81.1 1857.5,81.6 1858.0,81.2 1858.5,81.5 1859.0,81.1 1859.5,81.0 1860.0,82.2 1860.5,81.6 1861.0,82.0 1861.5,81.9 1862.0,81.5 1862.5,82.0 1863.0,81.0 1863.5,82.0 1864.0,81.1 1864.5,82.0 1865.0,80.7 1865.5,81.0 1866.0,80.9 1866.5,81.4 1867.0,81.1 1867.5,80.5 1868.0,81.1 1868.5,82.4 1869.0,81.2 1869.5,81.5 1870.0,82.6 1870.5,81.5 1871.0,80.4 1871.5,80.7 1872.0,79.9 1872.5,81.7 1873.0,79.8 1873.5,81.3 1874.0,81.4 1874.5,80.2 1875.0,81.7 1875.5,80.9 1876.0,80.9 1876.5,81.0 1877.0,80.4 1877.5,80.6 1878.0,81.9 1878.5,81.1 1879.0,80.2 1879.5,81.5 1880.0,80.7 1880.5,81.3 1881.0,80.9 1881.5,81.7"/>
<path class="c" stroke="#9E501A" d="M1351.5,85.4 1352.0,86.2 1352.5,87.3 1353.0,87.5 1353.5,87.9 1354.0,87.0 1354.5,85.5 1355.0,85.8 1355.5,86.5 1356.0,88.3 1356.5,86.8 1357.0,87.7 1357.5,87.0 1358.0,88.7 1358.5,86.4 1359.0,88.7 1359.5,87.3 1360.0,87.1 1360.5,88.2 1361.0,86.9 1361.5,88.2 1362.0,90.7 1362.5,89.2 1363.0,88.1 1363.5,89.1 1364.0,87.2 1364.5,88.6 1365.0,88.6 1365.5,88.2 1366.0,88.9 1366.5,87.7 1367.0,87.4 1367.5,88.2 1368.0,89.0 1368.5,87.4 1369.0,89.0 1369.5,88.4 1370.0,87.6 1370.5,86.6 1371.0,89.1 1371.5,89.1 1372.0,89.7 1372.5,87.3 1373.0,88.2 1373.5,87.5 1374.0,89.1 1374.5,88.7 1375.0,88.4 1375.5,87.7 1376.0,91.1 1376.5,88.2 1377.0,88.4 1377.5,87.7 1378.0,87.4 1378.5,88.5 1379.0,89.0 1379.5,90.7 1380.0,90.3 1380.5,88.5 1381.0,88.7 1381.5,87.1 1382.0,89.8 1382.5,88.3 1383.0,88.4 1383.5,86.8 1384.0,88.3 1384.5,89.2 1385.0,90.9 1385.5,91.1 1386.0,89.7 1386.5,88.1 1387.0,89.9 1387.5,90.1 1388.0,87.6 1388.5,90.0 1389.0,91.2 1389.5,90.1 1390.0,90.3 1390.5,89.3 1391.0,89.3 1391.5,89.9 1392.0,91.1 1392.5,90.8 1393.0,89.4 1393.5,90.5 1394.0,90.5 1394.5,90.9 1395.0,88.3 1395.5,88.9 1396.0,87.8 1396.5,90.6 1397.0,88.8 1397.5,89.9 1398.0,88.3 1398.5,90.0 1399.0,89.6 1399.5,89.3 1400.0,89.8 1400.5,89.7 1401.0,89.0 1401.5,88.6 1402.0,91.4 1402.5,90.8 1403.0,90.3 1403.5,90.2 1404.0,88.7 1404.5,92.3 1405.0,91.7 1405.5,92.2 1406.0,91.9 1406.5,89.4 1407.0,90.7 1407.5,90.3 1408.0,92.5 1408.5,89.9 1409.0,90.1 1409.5,91.8 1410.0,89.5 1410.5,91.2 1411.0,90.6 1411.5,92.9 1412.0,91.4 1412.5,91.7 1413.0,91.8 1413.5,90.6 1414.0,89.2 1414.5,91.3 1415.0,89.6 1415.5,90.7 1416.0,90.7 1416.5,91.8 1417.0,93.4 1417.5,91.2 1418.0,91.7 1418.5,92.8 1419.0,91.9 1419.5,89.9 1420.0,93.5 1420.5,92.1 1421.0,92.4 1421.5,93.2 1422.0,93.7 1422.5,94.1 1423.0,92.6 1423.5,92.3 1424.0,91.2 1424.5,93.8 1425.0,94.0 1425.5,93.4 1426.0,93.3 1426.5,94.3 1427.0,93.0 1427.5,93.3 1428.0,92.9 1428.5,93.2 1429.0,93.5 1429.5,93.8 1430.0,92.3 1430.5,94.6 1431.0,97.4 1431.5,94.7 1432.0,96.7 1432.5,95.8 1433.0,96.4 1433.5,96.9 1434.0,94.6 1434.5,96.7 1435.0,95.1 1435.5,96.1 1436.0,93.6 1436.5,96.0 1437.0,94.0 1437.5,96.9 1438.0,94.1 1438.5,95.0 1439.0,95.5 1439.5,94.9 1440.0,94.1 1440.5,93.4 1441.0,94.8 1441.5,96.4 1442.0,96.1 1442.5,96.7 1443.0,95.7 1443.5,94.3 1444.0,97.6 1444.5,95.4 1445.0,94.7 1445.5,94.9 1446.0,93.5 1446.5,95.0 1447.0,95.5 1447.5,96.7 1448.0,93.4 1448.5,95.8 1449.0,95.0 1449.5,97.1 1450.0,95.4 1450.5,96.6 1451.0,96.5 1451.5,94.5 1452.0,93.5 1452.5,95.6 1453.0,96.4 1453.5,92.9 1454.0,94.0 1454.5,95.1 1455.0,95.5 1455.5,93.6 1456.0,95.5 1456.5,94.3 1457.0,94.3 1457.5,96.6 1458.0,94.3 1458.5,96.9 1459.0,96.8 1459.5,94.6 1460.0,96.2 1460.5,97.4 1461.0,95.4 1461.5,95.0 1462.0,94.8 1462.5,94.8 1463.0,95.6 1463.5,93.8 1464.0,96.2 1464.5,95.7 1465.0,96.3 1465.5,95.7 1466.0,96.1 1466.5,96.2 1467.0,99.0 1467.5,96.8 1468.0,97.6 1468.5,97.0 1469.0,94.5 1469.5,96.4 1470.0,97.3 1470.5,99.2 1471.0,98.2 1471.5,98.1 1472.0,97.8 1472.5,98.5 1473.0,99.0 1473.5,98.5 1474.0,98.9 1474.5,100.3 1475.0,97.4 1475.5,100.0 1476.0,100.3 1476.5,99.9 1477.0,98.1 1477.5,98.8 1478.0,101.6 1478.5,100.1 1479.0,103.4 1479.5,103.9 1480.0,104.0 1480.5,105.4 1481.0,107.2 1481.5,106.6 1482.0,107.0 1482.5,111.3 1483.0,112.6 1483.5,112.6 1484.0,111.9 1484.5,116.0 1485.0,115.3 1485.5,118.3 1486.0,119.8 1486.5,120.3 1487.0,121.5 1487.5,121.4 1488.0,118.2 1488.5,114.3 1489.0,113.6 1489.5,109.2 1490.0,108.1 1490.5,107.3 1491.0,106.9 1491.5,105.6 1492.0,105.9 1492.5,106.2 1493.0,104.7 1493.5,102.9 1494.0,103.1 1494.5,102.7 1495.0,102.6 1495.5,102.2 1496.0,103.2 1496.5,101.3 1497.0,104.9 1497.5,102.4 1498.0,103.5 1498.5,107.3 1499.0,105.6 1499.5,105.7 1500.0,107.4 1500.5,110.8 1501.0,113.4 1501.5,114.5 1502.0,116.9 1502.5,119.4 1503.0,126.2 1503.5,133.1 1504.0,139.4 1504.5,147.8 1505.0,159.6 1505.5,169.7 1506.0,185.3 1506.5,194.3 1507.0,208.9 1507.5,217.8 1508.0,228.3 1508.5,237.8 1509.0,248.3 1509.5,261.3 1510.0,277.2 1510.5,292.4 1511.0,302.2 1511.5,304.6 1512.0,298.9 1512.5,286.2 1513.0,270.2 1513.5,254.8 1514.0,240.4 1514.5,225.4 1515.0,211.9 1515.5,194.4 1516.0,180.8 1516.5,169.5 1517.0,157.3 1517.5,147.9 1518.0,140.7 1518.5,130.6 1519.0,125.2 1519.5,122.9 1520.0,119.4 1520.5,115.8 1521.0,114.2 1521.5,111.3 1522.0,108.4 1522.5,106.2 1523.0,106.6 1523.5,104.1 1524.0,101.1 1524.5,103.1 1525.0,100.7 1525.5,102.8 1526.0,101.2 1526.5,102.1 1527.0,100.4 1527.5,98.9 1528.0,99.8 1528.5,97.9 1529.0,98.4 1529.5,98.4 1530.0,97.8 1530.5,98.6 1531.0,98.7 1531.5,98.7 1532.0,98.1 1532.5,97.5 1533.0,98.2 1533.5,97.7 1534.0,97.2 1534.5,96.3 1535.0,98.3 1535.5,96.8 1536.0,97.1 1536.5,98.4 1537.0,96.1 1537.5,97.8 1538.0,100.3 1538.5,98.8 1539.0,98.6 1539.5,99.5 1540.0,98.7 1540.5,98.3 1541.0,99.5 1541.5,97.7 1542.0,97.9 1542.5,98.3 1543.0,95.3 1543.5,97.8 1544.0,97.9 1544.5,97.1 1545.0,98.6 1545.5,98.1 1546.0,98.0 1546.5,99.6 1547.0,98.7 1547.5,99.1 1548.0,98.8 1548.5,98.7 1549.0,97.5 1549.5,99.6 1550.0,98.5 1550.5,98.1 1551.0,97.5 1551.5,98.6 1552.0,98.3 1552.5,97.4 1553.0,94.9 1553.5,97.9 1554.0,98.5 1554.5,99.5 1555.0,95.9 1555.5,97.0 1556.0,96.1 1556.5,97.9 1557.0,96.7 1557.5,97.1 1558.0,96.0 1558.5,97.0 1559.0,99.8 1559.5,96.3 1560.0,98.0 1560.5,97.1 1561.0,98.4 1561.5,96.7 1562.0,97.0 1562.5,97.3 1563.0,97.2 1563.5,96.9 1564.0,97.7 1564.5,96.0 1565.0,95.6 1565.5,95.9 1566.0,97.5 1566.5,96.2 1567.0,96.8 1567.5,96.5 1568.0,96.4 1568.5,95.4 1569.0,96.3 1569.5,95.9 1570.0,97.1 1570.5,99.1 1571.0,98.4 1571.5,97.5 1572.0,97.4 1572.5,96.7 1573.0,98.2 1573.5,97.3 1574.0,97.8 1574.5,96.9 1575.0,97.7 1575.5,96.6 1576.0,95.3 1576.5,94.7 1577.0,95.9 1577.5,95.8 1578.0,97.4 1578.5,95.2 1579.0,97.4 1579.5,95.5 1580.0,95.4 1580.5,96.1 1581.0,95.1 1581.5,96.9 1582.0,94.6 1582.5,95.9 1583.0,92.8 1583.5,95.0 1584.0,95.0 1584.5,93.5 1585.0,97.1 1585.5,96.3 1586.0,95.2 1586.5,96.0 1587.0,96.2 1587.5,94.4 1588.0,95.3 1588.5,94.7 1589.0,95.5 1589.5,95.2 1590.0,97.0 1590.5,96.1 1591.0,93.4 1591.5,94.5 1592.0,95.2 1592.5,93.1 1593.0,95.5 1593.5,96.6 1594.0,94.2 1594.5,95.4 1595.0,94.8 1595.5,94.4 1596.0,95.1 1596.5,92.5 1597.0,94.6 1597.5,94.9 1598.0,92.7 1598.5,95.5 1599.0,93.4 1599.5,95.5 1600.0,93.3 1600.5,95.4 1601.0,95.2 1601.5,92.4 1602.0,93.8 1602.5,94.3 1603.0,94.0 1603.5,94.6 1604.0,94.7 1604.5,93.9 1605.0,93.7 1605.5,94.5 1606.0,95.8 1606.5,94.9 1607.0,95.4 1607.5,96.1 1608.0,93.5 1608.5,93.6 1609.0,95.1 1609.5,93.2 1610.0,95.3 1610.5,95.5 1611.0,95.3 1611.5,92.5 1612.0,94.8 1612.5,92.5 1613.0,92.6 1613.5,93.5 1614.0,95.0 1614.5,93.3 1615.0,95.0 1615.5,92.7 1616.0,94.0 1616.5,93.6 1617.0,93.0 1617.5,94.4 1618.0,94.3 1618.5,93.1 1619.0,92.9 1619.5,93.0 1620.0,94.3 1620.5,93.5 1621.0,92.6 1621.5,94.2 1622.0,93.5 1622.5,92.9 1623.0,94.8 1623.5,92.8 1624.0,94.2 1624.5,93.2 1625.0,93.5 1625.5,93.0 1626.0,92.5 1626.5,94.7 1627.0,92.3 1627.5,93.5 1628.0,93.0 1628.5,94.3 1629.0,94.7 1629.5,93.4 1630.0,92.5 1630.5,91.9 1631.0,93.5 1631.5,93.2 1632.0,93.7 1632.5,93.3 1633.0,95.8 1633.5,93.5 1634.0,96.2 1634.5,94.1 1635.0,93.9 1635.5,96.1 1636.0,94.1 1636.5,95.4 1637.0,92.5 1637.5,93.8 1638.0,92.4 1638.5,94.7 1639.0,93.2 1639.5,94.4 1640.0,93.8 1640.5,93.7 1641.0,92.0 1641.5,91.8 1642.0,93.4 1642.5,94.5 1643.0,91.6 1643.5,95.0 1644.0,93.7 1644.5,94.7 1645.0,93.0 1645.5,93.2 1646.0,94.6 1646.5,92.3 1647.0,96.0 1647.5,93.1 1648.0,91.9 1648.5,94.0 1649.0,93.2 1649.5,91.3 1650.0,93.7 1650.5,94.0 1651.0,94.8 1651.5,93.2 1652.0,93.5 1652.5,94.8 1653.0,91.1 1653.5,92.9 1654.0,92.9 1654.5,93.2 1655.0,94.2 1655.5,92.3 1656.0,95.7 1656.5,92.7 1657.0,93.4 1657.5,93.7 1658.0,91.7 1658.5,91.5 1659.0,93.7 1659.5,93.8 1660.0,92.8 1660.5,94.5 1661.0,92.3 1661.5,93.5 1662.0,92.6 1662.5,92.9 1663.0,93.5 1663.5,91.3 1664.0,92.0 1664.5,93.8 1665.0,93.8 1665.5,92.4 1666.0,93.9 1666.5,93.6 1667.0,92.7 1667.5,92.4 1668.0,93.0 1668.5,92.6 1669.0,93.6 1669.5,93.3 1670.0,94.2 1670.5,94.5 1671.0,93.2 1671.5,90.9 1672.0,92.6 1672.5,94.2 1673.0,93.2 1673.5,92.4 1674.0,93.3 1674.5,93.9 1675.0,93.1 1675.5,90.7 1676.0,91.4 1676.5,90.9 1677.0,92.5 1677.5,91.0 1678.0,93.1 1678.5,93.9 1679.0,90.9 1679.5,95.1 1680.0,93.9 1680.5,93.8 1681.0,94.9 1681.5,92.7 1682.0,91.8 1682.5,92.8 1683.0,92.1 1683.5,91.8 1684.0,93.0 1684.5,92.2 1685.0,92.6 1685.5,92.0 1686.0,93.7 1686.5,91.8 1687.0,91.7 1687.5,90.8 1688.0,91.1 1688.5,90.1 1689.0,91.2 1689.5,91.8 1690.0,92.3 1690.5,92.0 1691.0,91.0 1691.5,93.9 1692.0,89.5 1692.5,93.0 1693.0,92.4 1693.5,90.2 1694.0,91.6 1694.5,90.8 1695.0,92.6 1695.5,91.2 1696.0,93.3 1696.5,93.4 1697.0,94.2 1697.5,92.0 1698.0,92.3 1698.5,92.5 1699.0,89.6 1699.5,91.8 1700.0,93.5 1700.5,92.4 1701.0,90.6 1701.5,92.5 1702.0,92.3 1702.5,90.4 1703.0,90.8 1703.5,93.2 1704.0,90.3 1704.5,91.6 1705.0,93.4 1705.5,91.7 1706.0,92.6 1706.5,93.6 1707.0,91.4 1707.5,92.2 1708.0,93.1 1708.5,92.5 1709.0,93.1 1709.5,91.6 1710.0,91.4 1710.5,93.6 1711.0,92.6 1711.5,91.5 1712.0,93.1 1712.5,92.2 1713.0,91.8 1713.5,90.3 1714.0,90.8 1714.5,90.4 1715.0,92.1 1715.5,91.7 1716.0,90.1 1716.5,93.2 1717.0,92.9 1717.5,92.6 1718.0,90.8 1718.5,90.6 1719.0,92.0 1719.5,93.2 1720.0,90.5 1720.5,90.5 1721.0,92.7 1721.5,90.5 1722.0,92.4 1722.5,90.1 1723.0,90.2 1723.5,89.0 1724.0,88.5 1724.5,92.9 1725.0,89.2 1725.5,92.5 1726.0,90.9 1726.5,91.4 1727.0,91.6 1727.5,89.9 1728.0,91.8 1728.5,90.7 1729.0,90.2 1729.5,91.1 1730.0,90.9 1730.5,92.3 1731.0,91.4 1731.5,90.5 1732.0,90.6 1732.5,90.7 1733.0,91.2 1733.5,89.9 1734.0,90.3 1734.5,91.1 1735.0,90.5 1735.5,89.0 1736.0,90.9 1736.5,91.3 1737.0,90.9 1737.5,92.5 1738.0,88.3 1738.5,88.9 1739.0,90.3 1739.5,91.0 1740.0,91.9 1740.5,91.4 1741.0,88.5 1741.5,90.8 1742.0,91.3 1742.5,92.7 1743.0,92.1 1743.5,91.1 1744.0,92.4 1744.5,92.4 1745.0,91.3 1745.5,89.3 1746.0,90.9 1746.5,90.8 1747.0,90.3 1747.5,90.0 1748.0,92.2 1748.5,94.0 1749.0,89.1 1749.5,90.7 1750.0,90.6 1750.5,89.2 1751.0,90.4 1751.5,91.2 1752.0,91.3 1752.5,90.2 1753.0,91.3 1753.5,90.5 1754.0,90.9 1754.5,91.3 1755.0,91.6 1755.5,89.4 1756.0,91.0 1756.5,88.6 1757.0,89.0 1757.5,90.7 1758.0,89.7 1758.5,89.8 1759.0,90.2 1759.5,93.0 1760.0,89.7 1760.5,89.8 1761.0,90.6 1761.5,90.8 1762.0,89.8 1762.5,88.5 1763.0,91.2 1763.5,90.7 1764.0,89.8 1764.5,91.3 1765.0,91.1 1765.5,88.3 1766.0,89.2 1766.5,88.9 1767.0,90.1 1767.5,89.4 1768.0,89.7 1768.5,90.1 1769.0,90.1 1769.5,86.2 1770.0,89.3 1770.5,91.1 1771.0,90.2 1771.5,91.0 1772.0,90.0 1772.5,89.7 1773.0,89.7 1773.5,90.1 1774.0,90.6 1774.5,89.3 1775.0,89.1 1775.5,90.3 1776.0,88.9 1776.5,88.2 1777.0,88.1 1777.5,89.1 1778.0,89.1 1778.5,89.9 1779.0,89.7 1779.5,88.6 1780.0,86.8 1780.5,86.6 1781.0,86.1 1781.5,86.9 1782.0,88.1 1782.5,89.8 1783.0,89.8 1783.5,88.3 1784.0,90.4 1784.5,87.9 1785.0,86.2 1785.5,89.3 1786.0,88.9 1786.5,87.6 1787.0,87.7 1787.5,87.5 1788.0,88.5 1788.5,87.4 1789.0,87.4 1789.5,86.3 1790.0,86.1 1790.5,86.9 1791.0,86.2 1791.5,87.1 1792.0,88.5 1792.5,87.3 1793.0,87.1 1793.5,87.3 1794.0,86.4 1794.5,86.7 1795.0,84.1 1795.5,88.1 1796.0,87.3 1796.5,87.1 1797.0,87.3 1797.5,85.7 1798.0,85.7 1798.5,86.0 1799.0,84.8 1799.5,86.1 1800.0,86.0 1800.5,83.7 1801.0,85.0 1801.5,84.2 1802.0,84.3 1802.5,85.7 1803.0,85.4 1803.5,84.1 1804.0,87.7 1804.5,85.8 1805.0,84.1 1805.5,85.9 1806.0,86.3 1806.5,85.1 1807.0,85.4 1807.5,84.3 1808.0,84.5 1808.5,83.9 1809.0,82.5 1809.5,85.4 1810.0,85.4 1810.5,85.0 1811.0,84.1 1811.5,84.8 1812.0,82.9 1812.5,85.6 1813.0,84.9 1813.5,84.5 1814.0,85.4 1814.5,84.0 1815.0,83.8 1815.5,82.1 1816.0,82.7 1816.5,83.5 1817.0,82.8 1817.5,84.2 1818.0,84.4 1818.5,84.6 1819.0,84.4 1819.5,84.2 1820.0,83.3 1820.5,84.3 1821.0,83.9 1821.5,81.9 1822.0,84.1 1822.5,84.4 1823.0,84.6 1823.5,83.1 1824.0,83.1 1824.5,81.0 1825.0,80.9 1825.5,83.9 1826.0,81.7 1826.5,83.7 1827.0,82.6 1827.5,82.1 1828.0,82.9 1828.5,84.2 1829.0,83.2 1829.5,81.2 1830.0,84.3 1830.5,81.7 1831.0,83.7 1831.5,82.4 1832.0,82.7 1832.5,83.8 1833.0,81.1 1833.5,82.2 1834.0,83.4 1834.5,82.7 1835.0,79.1 1835.5,83.0 1836.0,82.9 1836.5,80.1 1837.0,81.2 1837.5,83.1 1838.0,81.1 1838.5,82.1 1839.0,83.5 1839.5,80.4 1840.0,81.8 1840.5,82.7 1841.0,81.9 1841.5,82.8 1842.0,81.4 1842.5,83.0 1843.0,82.5 1843.5,80.7 1844.0,81.9 1844.5,81.5 1845.0,81.1 1845.5,83.0 1846.0,80.7 1846.5,82.7 1847.0,82.1 1847.5,79.6 1848.0,80.7 1848.5,81.7 1849.0,80.0 1849.5,80.9 1850.0,82.6 1850.5,84.9 1851.0,81.6 1851.5,82.2 1852.0,81.1 1852.5,81.2 1853.0,81.7 1853.5,80.8 1854.0,80.5 1854.5,79.6 1855.0,81.1 1855.5,81.4 1856.0,82.3 1856.5,82.7 1857.0,81.6 1857.5,82.7 1858.0,82.1 1858.5,82.9 1859.0,81.2 1859.5,81.3 1860.0,83.2 1860.5,81.5 1861.0,83.0 1861.5,78.8 1862.0,82.3 1862.5,81.2 1863.0,82.2 1863.5,80.6 1864.0,81.3 1864.5,83.1 1865.0,84.1 1865.5,82.2 1866.0,80.5 1866.5,82.4 1867.0,80.6 1867.5,83.9 1868.0,82.6 1868.5,81.8 1869.0,81.2 1869.5,81.3 1870.0,82.4 1870.5,79.8 1871.0,80.6 1871.5,82.6 1872.0,82.5 1872.5,83.1 1873.0,81.4 1873.5,81.6 1874.0,83.0 1874.5,82.2 1875.0,81.5 1875.5,82.7 1876.0,81.9 1876.5,81.8 1877.0,80.6 1877.5,82.4 1878.0,82.7 1878.5,82.0 1879.0,82.1 1879.5,82.5 1880.0,82.2 1880.5,82.7 1881.0,81.2 1881.5,81.8"/>
<path class="c" stroke="#FF8000" d="M1351.5,83.4 1352.0,83.7 1352.5,83.9 1353.0,84.1 1353.5,81.8 1354.0,81.5 1354.5,84.3 1355.0,84.9 1355.5,84.1 1356.0,84.4 1356.5,85.2 1357.0,85.0 1357.5,84.7 1358.0,85.8 1358.5,85.0 1359.0,84.0 1359.5,83.8 1360.0,84.9 1360.5,83.9 1361.0,83.2 1361.5,83.3 1362.0,85.0 1362.5,86.0 1363.0,86.1 1363.5,82.9 1364.0,83.0 1364.5,82.9 1365.0,84.2 1365.5,82.4 1366.0,84.9 1366.5,82.9 1367.0,83.5 1367.5,82.7 1368.0,86.5 1368.5,82.7 1369.0,83.9 1369.5,83.8 1370.0,83.0 1370.5,84.1 1371.0,86.0 1371.5,84.0 1372.0,86.0 1372.5,84.0 1373.0,84.2 1373.5,83.9 1374.0,86.3 1374.5,84.7 1375.0,83.1 1375.5,86.3 1376.0,84.9 1376.5,84.2 1377.0,82.5 1377.5,85.5 1378.0,84.0 1378.5,81.3 1379.0,85.7 1379.5,87.4 1380.0,84.4 1380.5,85.5 1381.0,84.7 1381.5,85.1 1382.0,85.2 1382.5,83.1 1383.0,85.1 1383.5,85.7 1384.0,85.2 1384.5,81.2 1385.0,83.1 1385.5,82.8 1386.0,84.6 1386.5,83.0 1387.0,83.7 1387.5,81.7 1388.0,83.0 1388.5,83.7 1389.0,82.9 1389.5,82.8 1390.0,84.1 1390.5,85.0 1391.0,82.9 1391.5,82.6 1392.0,85.1 1392.5,84.8 1393.0,83.7 1393.5,83.4 1394.0,84.7 1394.5,82.9 1395.0,86.9 1395.5,83.7 1396.0,84.2 1396.5,84.9 1397.0,85.1 1397.5,83.6 1398.0,84.2 1398.5,85.6 1399.0,84.7 1399.5,82.2 1400.0,82.4 1400.5,84.5 1401.0,84.8 1401.5,83.8 1402.0,84.6 1402.5,85.0 1403.0,83.8 1403.5,83.0 1404.0,83.4 1404.5,84.4 1405.0,86.7 1405.5,85.1 1406.0,87.2 1406.5,85.7 1407.0,86.9 1407.5,84.1 1408.0,84.2 1408.5,86.2 1409.0,86.9 1409.5,85.9 1410.0,83.3 1410.5,83.1 1411.0,84.3 1411.5,84.8 1412.0,83.6 1412.5,85.4 1413.0,83.0 1413.5,86.0 1414.0,85.7 1414.5,86.0 1415.0,83.3 1415.5,85.4 1416.0,85.6 1416.5,86.0 1417.0,84.0 1417.5,85.5 1418.0,83.9 1418.5,84.6 1419.0,84.7 1419.5,86.1 1420.0,85.8 1420.5,84.7 1421.0,86.1 1421.5,86.8 1422.0,86.0 1422.5,87.2 1423.0,86.6 1423.5,87.4 1424.0,85.0 1424.5,85.7 1425.0,86.6 1425.5,86.2 1426.0,88.0 1426.5,86.7 1427.0,87.4 1427.5,86.5 1428.0,86.2 1428.5,85.3 1429.0,88.3 1429.5,84.9 1430.0,88.0 1430.5,88.3 1431.0,86.8 1431.5,86.0 1432.0,88.3 1432.5,88.3 1433.0,87.0 1433.5,88.4 1434.0,88.9 1434.5,86.7 1435.0,86.8 1435.5,85.3 1436.0,87.2 1436.5,87.7 1437.0,85.7 1437.5,91.0 1438.0,86.0 1438.5,88.4 1439.0,88.0 1439.5,89.0 1440.0,89.1 1440.5,88.6 1441.0,89.9 1441.5,89.6 1442.0,86.7 1442.5,89.2 1443.0,86.6 1443.5,88.5 1444.0,86.9 1444.5,86.9 1445.0,88.7 1445.5,88.3 1446.0,89.7 1446.5,87.9 1447.0,88.3 1447.5,90.3 1448.0,88.5 1448.5,86.1 1449.0,88.6 1449.5,90.4 1450.0,88.5 1450.5,87.3 1451.0,86.1 1451.5,88.7 1452.0,90.1 1452.5,88.6 1453.0,87.2 1453.5,86.4 1454.0,87.7 1454.5,89.5 1455.0,89.1 1455.5,87.5 1456.0,88.1 1456.5,87.9 1457.0,89.5 1457.5,89.9 1458.0,88.7 1458.5,87.6 1459.0,87.1 1459.5,91.5 1460.0,90.9 1460.5,90.2 1461.0,87.9 1461.5,88.1 1462.0,90.0 1462.5,89.7 1463.0,87.9 1463.5,88.0 1464.0,86.3 1464.5,90.0 1465.0,89.9 1465.5,90.0 1466.0,88.3 1466.5,89.5 1467.0,90.7 1467.5,90.1 1468.0,93.4 1468.5,91.2 1469.0,89.9 1469.5,89.9 1470.0,88.3 1470.5,91.5 1471.0,91.6 1471.5,90.2 1472.0,88.0 1472.5,91.6 1473.0,91.3 1473.5,93.8 1474.0,89.1 1474.5,93.0 1475.0,92.8 1475.5,94.6 1476.0,93.2 1476.5,97.3 1477.0,96.4 1477.5,96.9 1478.0,98.7 1478.5,99.1 1479.0,99.8 1479.5,100.7 1480.0,104.3 1480.5,105.0 1481.0,105.4 1481.5,106.1 1482.0,106.9 1482.5,109.5 1483.0,111.0 1483.5,113.8 1484.0,115.1 1484.5,114.7 1485.0,117.7 1485.5,117.7 1486.0,120.0 1486.5,120.3 1487.0,119.8 1487.5,118.3 1488.0,117.7 1488.5,115.4 1489.0,110.5 1489.5,110.1 1490.0,107.3 1490.5,104.9 1491.0,106.8 1491.5,103.3 1492.0,102.7 1492.5,102.4 1493.0,100.9 1493.5,98.9 1494.0,101.5 1494.5,98.6 1495.0,98.6 1495.5,101.5 1496.0,99.8 1496.5,100.2 1497.0,102.2 1497.5,102.9 1498.0,102.4 1498.5,103.1 1499.0,103.6 1499.5,105.5 1500.0,107.1 1500.5,109.7 1501.0,111.9 1501.5,114.2 1502.0,119.1 1502.5,124.3 1503.0,127.2 1503.5,132.4 1504.0,142.6 1504.5,148.5 1505.0,160.7 1505.5,170.8 1506.0,183.4 1506.5,197.2 1507.0,207.2 1507.5,220.8 1508.0,228.4 1508.5,240.0 1509.0,249.1 1509.5,263.3 1510.0,284.7 1510.5,300.2 1511.0,311.6 1511.5,314.5 1512.0,308.6 1512.5,294.2 1513.0,272.4 1513.5,256.5 1514.0,241.7 1514.5,226.4 1515.0,210.5 1515.5,197.5 1516.0,181.8 1516.5,169.5 1517.0,159.8 1517.5,152.2 1518.0,143.3 1518.5,134.4 1519.0,129.2 1519.5,121.2 1520.0,118.2 1520.5,117.0 1521.0,110.0 1521.5,108.2 1522.0,107.0 1522.5,107.0 1523.0,102.6 1523.5,99.4 1524.0,99.9 1524.5,98.2 1525.0,96.2 1525.5,95.2 1526.0,94.6 1526.5,95.3 1527.0,90.2 1527.5,91.5 1528.0,91.3 1528.5,91.0 1529.0,87.3 1529.5,92.4 1530.0,90.8 1530.5,86.7 1531.0,90.0 1531.5,90.1 1532.0,89.2 1532.5,92.7 1533.0,89.1 1533.5,89.7 1534.0,89.7 1534.5,88.6 1535.0,88.0 1535.5,91.2 1536.0,88.3 1536.5,87.7 1537.0,88.8 1537.5,88.2 1538.0,88.9 1538.5,88.9 1539.0,91.2 1539.5,87.5 1540.0,87.3 1540.5,90.6 1541.0,89.2 1541.5,87.7 1542.0,88.6 1542.5,92.4 1543.0,88.4 1543.5,89.9 1544.0,87.8 1544.5,87.2 1545.0,89.2 1545.5,89.3 1546.0,90.1 1546.5,89.7 1547.0,87.6 1547.5,86.9 1548.0,89.5 1548.5,87.7 1549.0,85.9 1549.5,86.6 1550.0,91.4 1550.5,88.3 1551.0,87.4 1551.5,87.9 1552.0,86.9 1552.5,89.9 1553.0,85.3 1553.5,88.2 1554.0,87.3 1554.5,85.9 1555.0,88.2 1555.5,90.2 1556.0,88.6 1556.5,88.7 1557.0,85.9 1557.5,88.9 1558.0,88.5 1558.5,88.4 1559.0,88.3 1559.5,88.1 1560.0,86.2 1560.5,88.4 1561.0,87.5 1561.5,88.1 1562.0,88.1 1562.5,87.9 1563.0,87.6 1563.5,88.0 1564.0,85.6 1564.5,87.4 1565.0,86.2 1565.5,85.7 1566.0,88.3 1566.5,87.6 1567.0,86.3 1567.5,86.5 1568.0,85.9 1568.5,86.2 1569.0,85.8 1569.5,88.5 1570.0,87.9 1570.5,86.9 1571.0,88.8 1571.5,87.1 1572.0,88.9 1572.5,88.0 1573.0,87.3 1573.5,87.6 1574.0,85.2 1574.5,88.6 1575.0,88.2 1575.5,88.0 1576.0,87.1 1576.5,86.3 1577.0,86.2 1577.5,84.2 1578.0,87.6 1578.5,87.0 1579.0,87.4 1579.5,86.7 1580.0,87.3 1580.5,85.9 1581.0,86.6 1581.5,87.9 1582.0,86.4 1582.5,86.8 1583.0,86.7 1583.5,87.3 1584.0,86.8 1584.5,86.6 1585.0,84.6 1585.5,88.1 1586.0,87.3 1586.5,87.2 1587.0,88.0 1587.5,86.3 1588.0,86.2 1588.5,87.7 1589.0,85.4 1589.5,87.9 1590.0,86.2 1590.5,87.0 1591.0,89.2 1591.5,85.8 1592.0,88.6 1592.5,86.5 1593.0,85.4 1593.5,85.5 1594.0,85.8 1594.5,85.9 1595.0,84.5 1595.5,85.2 1596.0,85.7 1596.5,86.5 1597.0,87.2 1597.5,86.2 1598.0,84.2 1598.5,85.3 1599.0,87.1 1599.5,83.3 1600.0,86.1 1600.5,84.2 1601.0,86.3 1601.5,86.0 1602.0,85.9 1602.5,86.6 1603.0,85.3 1603.5,88.0 1604.0,86.1 1604.5,83.0 1605.0,86.9 1605.5,85.9 1606.0,87.0 1606.5,87.0 1607.0,83.4 1607.5,84.5 1608.0,86.2 1608.5,85.5 1609.0,85.3 1609.5,86.1 1610.0,86.0 1610.5,87.6 1611.0,87.5 1611.5,84.9 1612.0,85.5 1612.5,83.1 1613.0,85.2 1613.5,85.1 1614.0,85.3 1614.5,88.7 1615.0,85.8 1615.5,85.0 1616.0,85.7 1616.5,86.7 1617.0,83.7 1617.5,87.6 1618.0,86.2 1618.5,82.9 1619.0,86.1 1619.5,87.1 1620.0,85.1 1620.5,85.9 1621.0,85.7 1621.5,84.5 1622.0,87.1 1622.5,82.0 1623.0,84.8 1623.5,84.1 1624.0,85.9 1624.5,86.0 1625.0,85.9 1625.5,83.7 1626.0,85.8 1626.5,84.7 1627.0,86.8 1627.5,84.9 1628.0,86.4 1628.5,86.2 1629.0,88.9 1629.5,87.6 1630.0,86.0 1630.5,85.8 1631.0,86.9 1631.5,87.1 1632.0,85.4 1632.5,85.7 1633.0,85.1 1633.5,85.3 1634.0,84.4 1634.5,86.4 1635.0,84.9 1635.5,85.0 1636.0,84.7 1636.5,84.7 1637.0,86.0 1637.5,84.0 1638.0,86.0 1638.5,85.7 1639.0,86.0 1639.5,85.1 1640.0,85.9 1640.5,87.1 1641.0,83.9 1641.5,85.7 1642.0,86.5 1642.5,84.1 1643.0,86.6 1643.5,85.8 1644.0,86.2 1644.5,87.9 1645.0,86.1 1645.5,83.6 1646.0,84.8 1646.5,84.0 1647.0,85.5 1647.5,86.2 1648.0,83.7 1648.5,87.2 1649.0,85.6 1649.5,84.0 1650.0,84.2 1650.5,85.3 1651.0,83.8 1651.5,85.0 1652.0,85.8 1652.5,85.2 1653.0,84.3 1653.5,87.8 1654.0,87.1 1654.5,85.8 1655.0,87.9 1655.5,83.7 1656.0,86.4 1656.5,86.6 1657.0,87.6 1657.5,85.6 1658.0,87.1 1658.5,86.6 1659.0,86.5 1659.5,84.6 1660.0,84.8 1660.5,85.6 1661.0,86.2 1661.5,84.9 1662.0,87.3 1662.5,87.6 1663.0,87.2 1663.5,84.0 1664.0,86.2 1664.5,85.2 1665.0,86.8 1665.5,86.1 1666.0,83.1 1666.5,86.9 1667.0,84.9 1667.5,87.9 1668.0,83.2 1668.5,85.1 1669.0,86.4 1669.5,84.6 1670.0,85.1 1670.5,83.8 1671.0,82.5 1671.5,83.6 1672.0,82.9 1672.5,84.4 1673.0,86.0 1673.5,84.3 1674.0,85.1 1674.5,86.1 1675.0,85.2 1675.5,85.4 1676.0,86.2 1676.5,86.7 1677.0,87.7 1677.5,87.2 1678.0,86.0 1678.5,85.0 1679.0,84.1 1679.5,84.5 1680.0,87.5 1680.5,86.5 1681.0,84.8 1681.5,86.5 1682.0,85.2 1682.5,84.3 1683.0,84.2 1683.5,86.7 1684.0,87.2 1684.5,85.6 1685.0,82.7 1685.5,85.9 1686.0,85.3 1686.5,86.8 1687.0,82.4 1687.5,85.4 1688.0,83.7 1688.5,83.9 1689.0,87.6 1689.5,83.8 1690.0,86.5 1690.5,86.6 1691.0,84.5 1691.5,83.7 1692.0,87.3 1692.5,83.8 1693.0,86.7 1693.5,85.5 1694.0,86.5 1694.5,84.3 1695.0,84.3 1695.5,85.3 1696.0,86.2 1696.5,87.0 1697.0,87.5 1697.5,87.8 1698.0,87.0 1698.5,86.4 1699.0,84.9 1699.5,85.0 1700.0,86.1 1700.5,86.9 1701.0,83.9 1701.5,87.0 1702.0,84.1 1702.5,85.9 1703.0,85.1 1703.5,84.6 1704.0,84.1 1704.5,85.6 1705.0,84.5 1705.5,85.2 1706.0,85.4 1706.5,87.7 1707.0,83.6 1707.5,85.2 1708.0,85.7 1708.5,85.4 1709.0,87.4 1709.5,84.4 1710.0,85.3 1710.5,84.2 1711.0,85.1 1711.5,86.4 1712.0,85.1 1712.5,85.0 1713.0,85.6 1713.5,85.2 1714.0,85.7 1714.5,86.6 1715.0,86.3 1715.5,85.7 1716.0,85.8 1716.5,85.1 1717.0,84.3 1717.5,82.9 1718.0,86.2 1718.5,84.7 1719.0,85.5 1719.5,84.9 1720.0,87.6 1720.5,86.6 1721.0,83.8 1721.5,86.8 1722.0,87.0 1722.5,85.6 1723.0,86.5 1723.5,86.0 1724.0,87.1 1724.5,83.8 1725.0,84.2 1725.5,85.9 1726.0,84.5 1726.5,83.5 1727.0,84.0 1727.5,84.5 1728.0,85.9 1728.5,85.6 1729.0,83.5 1729.5,86.5 1730.0,85.8 1730.5,84.5 1731.0,83.4 1731.5,85.8 1732.0,85.7 1732.5,84.7 1733.0,85.1 1733.5,87.0 1734.0,87.5 1734.5,84.7 1735.0,83.0 1735.5,85.9 1736.0,86.6 1736.5,86.4 1737.0,84.4 1737.5,86.3 1738.0,82.6 1738.5,85.2 1739.0,86.1 1739.5,85.0 1740.0,85.2 1740.5,82.4 1741.0,84.3 1741.5,85.0 1742.0,85.4 1742.5,85.1 1743.0,84.9 1743.5,85.3 1744.0,84.6 1744.5,83.0 1745.0,86.9 1745.5,84.8 1746.0,84.3 1746.5,84.0 1747.0,85.9 1747.5,84.9 1748.0,84.0 1748.5,85.2 1749.0,84.7 1749.5,86.0 1750.0,85.7 1750.5,86.9 1751.0,84.0 1751.5,84.3 1752.0,84.7 1752.5,86.2 1753.0,83.9 1753.5,84.4 1754.0,83.8 1754.5,86.0 1755.0,86.5 1755.5,86.7 1756.0,87.1 1756.5,84.6 1757.0,83.9 1757.5,85.6 1758.0,84.4 1758.5,82.6 1759.0,88.1 1759.5,86.5 1760.0,86.0 1760.5,85.3 1761.0,85.3 1761.5,85.9 1762.0,84.8 1762.5,86.2 1763.0,82.9 1763.5,86.7 1764.0,84.1 1764.5,83.9 1765.0,85.4 1765.5,85.3 1766.0,82.8 1766.5,83.7 1767.0,84.3 1767.5,86.5 1768.0,84.0 1768.5,82.4 1769.0,85.1 1769.5,84.4 1770.0,85.2 1770.5,83.7 1771.0,84.8 1771.5,85.1 1772.0,83.4 1772.5,87.1 1773.0,84.4 1773.5,85.0 1774.0,83.2 1774.5,82.9 1775.0,85.1 1775.5,83.3 1776.0,86.2 1776.5,83.1 1777.0,85.4 1777.5,84.4 1778.0,85.0 1778.5,85.1 1779.0,85.4 1779.5,85.9 1780.0,84.5 1780.5,81.8 1781.0,83.1 1781.5,85.9 1782.0,85.8 1782.5,83.0 1783.0,86.9 1783.5,85.4 1784.0,85.9 1784.5,83.3 1785.0,85.7 1785.5,84.0 1786.0,84.0 1786.5,82.9 1787.0,83.6 1787.5,85.7 1788.0,82.4 1788.5,84.6 1789.0,83.7 1789.5,86.1 1790.0,83.9 1790.5,83.8 1791.0,85.5 1791.5,86.3 1792.0,84.6 1792.5,85.5 1793.0,84.8 1793.5,85.8 1794.0,85.6 1794.5,83.6 1795.0,85.7 1795.5,83.6 1796.0,86.1 1796.5,84.4 1797.0,84.9 1797.5,84.0 1798.0,84.0 1798.5,83.9 1799.0,84.0 1799.5,83.3 1800.0,84.8 1800.5,83.8 1801.0,82.8 1801.5,81.6 1802.0,86.8 1802.5,85.4 1803.0,84.5 1803.5,85.6 1804.0,83.9 1804.5,85.8 1805.0,86.2 1805.5,84.8 1806.0,83.5 1806.5,84.9 1807.0,83.9 1807.5,83.6 1808.0,83.7 1808.5,84.6 1809.0,82.7 1809.5,83.4 1810.0,83.0 1810.5,85.5 1811.0,85.7 1811.5,84.1 1812.0,83.8 1812.5,85.0 1813.0,82.5 1813.5,82.8 1814.0,82.0 1814.5,83.9 1815.0,82.7 1815.5,80.5 1816.0,84.1 1816.5,82.0 1817.0,84.4 1817.5,84.4 1818.0,84.1 1818.5,83.5 1819.0,83.1 1819.5,83.1 1820.0,84.4 1820.5,82.3 1821.0,85.2 1821.5,83.8 1822.0,83.3 1822.5,83.2 1823.0,83.4 1823.5,82.7 1824.0,82.6 1824.5,84.6 1825.0,84.9 1825.5,85.0 1826.0,82.9 1826.5,85.7 1827.0,85.9 1827.5,84.6 1828.0,82.9 1828.5,81.0 1829.0,82.4 1829.5,83.9 1830.0,83.5 1830.5,84.8 1831.0,82.0 1831.5,86.1 1832.0,82.9 1832.5,83.9 1833.0,82.5 1833.5,83.1 1834.0,83.5 1834.5,84.7 1835.0,82.3 1835.5,83.1 1836.0,81.4 1836.5,83.2 1837.0,82.4 1837.5,83.9 1838.0,84.6 1838.5,82.7 1839.0,82.9 1839.5,83.6 1840.0,83.5 1840.5,82.9 1841.0,81.5 1841.5,83.0 1842.0,82.5 1842.5,84.8 1843.0,84.0 1843.5,83.5 1844.0,84.4 1844.5,85.2 1845.0,85.2 1845.5,85.0 1846.0,82.2 1846.5,84.7 1847.0,82.6 1847.5,80.5 1848.0,81.7 1848.5,82.1 1849.0,80.7 1849.5,85.8 1850.0,82.4 1850.5,85.5 1851.0,82.6 1851.5,83.9 1852.0,85.5 1852.5,82.0 1853.0,83.1 1853.5,83.3 1854.0,84.9 1854.5,82.5 1855.0,81.1 1855.5,82.8 1856.0,85.0 1856.5,82.5 1857.0,82.8 1857.5,81.6 1858.0,83.5 1858.5,81.7 1859.0,83.3 1859.5,82.2 1860.0,84.3 1860.5,82.8 1861.0,80.8 1861.5,84.1 1862.0,83.9 1862.5,85.1 1863.0,83.5 1863.5,84.7 1864.0,84.6 1864.5,82.3 1865.0,81.1 1865.5,85.3 1866.0,83.9 1866.5,82.1 1867.0,84.4 1867.5,82.2 1868.0,83.9 1868.5,81.7 1869.0,81.7 1869.5,82.0 1870.0,81.7 1870.5,84.9 1871.0,82.3 1871.5,83.2 1872.0,82.4 1872.5,80.6 1873.0,85.3 1873.5,83.9 1874.0,83.4 1874.5,81.6 1875.0,80.7 1875.5,81.1 1876.0,82.8 1876.5,82.0 1877.0,84.6 1877.5,82.1 1878.0,82.7 1878.5,80.3 1879.0,83.1 1879.5,81.9 1880.0,83.5 1880.5,83.5 1881.0,81.8 1881.5,81.1"/>
<path class="c" stroke="#FF0D3C" d="M1351.5,82.7 1352.0,81.8 1352.5,82.2 1353.0,83.8 1353.5,84.0 1354.0,83.2 1354.5,81.1 1355.0,82.8 1355.5,82.6 1356.0,81.7 1356.5,84.0 1357.0,81.4 1357.5,82.5 1358.0,81.1 1358.5,83.9 1359.0,83.0 1359.5,82.0 1360.0,81.6 1360.5,82.8 1361.0,81.8 1361.5,82.7 1362.0,80.4 1362.5,80.9 1363.0,85.5 1363.5,83.4 1364.0,81.4 1364.5,82.9 1365.0,84.6 1365.5,84.9 1366.0,85.0 1366.5,84.0 1367.0,82.8 1367.5,81.7 1368.0,84.1 1368.5,83.4 1369.0,83.1 1369.5,84.6 1370.0,84.4 1370.5,81.6 1371.0,82.5 1371.5,80.0 1372.0,80.8 1372.5,83.1 1373.0,83.6 1373.5,84.0 1374.0,83.4 1374.5,78.9 1375.0,84.2 1375.5,85.1 1376.0,81.6 1376.5,83.8 1377.0,82.6 1377.5,82.7 1378.0,83.4 1378.5,82.6 1379.0,81.5 1379.5,80.9 1380.0,81.5 1380.5,83.5 1381.0,82.9 1381.5,82.4 1382.0,84.2 1382.5,83.3 1383.0,81.3 1383.5,83.3 1384.0,82.0 1384.5,84.9 1385.0,84.3 1385.5,80.9 1386.0,81.1 1386.5,83.5 1387.0,81.7 1387.5,83.6 1388.0,84.2 1388.5,82.8 1389.0,80.6 1389.5,82.6 1390.0,84.2 1390.5,83.5 1391.0,80.8 1391.5,84.1 1392.0,84.0 1392.5,83.1 1393.0,85.6 1393.5,83.1 1394.0,83.3 1394.5,85.0 1395.0,83.9 1395.5,83.4 1396.0,82.3 1396.5,82.5 1397.0,84.9 1397.5,83.8 1398.0,81.3 1398.5,82.7 1399.0,83.6 1399.5,83.1 1400.0,85.2 1400.5,82.5 1401.0,83.9 1401.5,82.4 1402.0,85.2 1402.5,82.8 1403.0,82.9 1403.5,84.1 1404.0,84.8 1404.5,83.1 1405.0,80.8 1405.5,83.2 1406.0,82.5 1406.5,82.4 1407.0,83.7 1407.5,85.8 1408.0,85.6 1408.5,82.8 1409.0,81.1 1409.5,83.8 1410.0,83.3 1410.5,84.0 1411.0,83.8 1411.5,85.5 1412.0,81.0 1412.5,84.4 1413.0,82.4 1413.5,84.2 1414.0,82.1 1414.5,81.4 1415.0,85.9 1415.5,86.0 1416.0,83.3 1416.5,84.4 1417.0,84.2 1417.5,84.9 1418.0,83.6 1418.5,85.2 1419.0,83.8 1419.5,82.0 1420.0,84.8 1420.5,86.1 1421.0,82.8 1421.5,84.6 1422.0,84.2 1422.5,82.5 1423.0,87.9 1423.5,84.6 1424.0,81.6 1424.5,81.5 1425.0,84.4 1425.5,88.5 1426.0,85.5 1426.5,86.1 1427.0,83.4 1427.5,88.3 1428.0,86.5 1428.5,87.4 1429.0,86.6 1429.5,83.9 1430.0,86.1 1430.5,87.3 1431.0,87.5 1431.5,87.5 1432.0,87.8 1432.5,86.1 1433.0,87.0 1433.5,86.6 1434.0,86.5 1434.5,85.3 1435.0,87.5 1435.5,88.4 1436.0,86.0 1436.5,87.5 1437.0,85.6 1437.5,85.3 1438.0,86.5 1438.5,88.7 1439.0,85.8 1439.5,87.5 1440.0,86.1 1440.5,86.4 1441.0,85.4 1441.5,88.5 1442.0,85.2 1442.5,89.5 1443.0,87.3 1443.5,87.8 1444.0,87.1 1444.5,87.0 1445.0,86.7 1445.5,86.6 1446.0,85.9 1446.5,84.7 1447.0,86.2 1447.5,87.0 1448.0,87.8 1448.5,86.6 1449.0,90.3 1449.5,87.1 1450.0,88.5 1450.5,88.6 1451.0,87.1 1451.5,86.8 1452.0,90.1 1452.5,88.1 1453.0,88.6 1453.5,85.8 1454.0,87.3 1454.5,89.8 1455.0,89.0 1455.5,87.8 1456.0,85.7 1456.5,89.3 1457.0,88.1 1457.5,85.5 1458.0,86.9 1458.5,85.5 1459.0,88.6 1459.5,86.9 1460.0,88.2 1460.5,87.0 1461.0,88.3 1461.5,88.6 1462.0,88.9 1462.5,87.6 1463.0,89.3 1463.5,88.1 1464.0,87.5 1464.5,88.1 1465.0,89.6 1465.5,87.6 1466.0,87.3 1466.5,89.2 1467.0,87.6 1467.5,90.4 1468.0,88.8 1468.5,89.3 1469.0,89.0 1469.5,89.1 1470.0,86.9 1470.5,89.8 1471.0,89.7 1471.5,91.1 1472.0,90.9 1472.5,90.4 1473.0,90.8 1473.5,91.1 1474.0,91.4 1474.5,94.1 1475.0,91.8 1475.5,95.5 1476.0,95.0 1476.5,95.3 1477.0,93.6 1477.5,96.8 1478.0,97.3 1478.5,96.9 1479.0,98.0 1479.5,100.2 1480.0,98.9 1480.5,102.0 1481.0,102.2 1481.5,106.3 1482.0,106.5 1482.5,107.8 1483.0,109.5 1483.5,115.0 1484.0,113.4 1484.5,117.4 1485.0,115.4 1485.5,117.5 1486.0,115.6 1486.5,120.7 1487.0,117.4 1487.5,118.4 1488.0,114.3 1488.5,113.9 1489.0,110.6 1489.5,107.5 1490.0,105.3 1490.5,104.4 1491.0,104.9 1491.5,102.0 1492.0,101.7 1492.5,97.9 1493.0,100.8 1493.5,99.4 1494.0,97.4 1494.5,100.1 1495.0,100.9 1495.5,101.0 1496.0,98.8 1496.5,100.9 1497.0,99.5 1497.5,99.9 1498.0,101.8 1498.5,102.2 1499.0,102.4 1499.5,105.4 1500.0,104.7 1500.5,109.8 1501.0,110.7 1501.5,111.0 1502.0,116.0 1502.5,121.4 1503.0,125.3 1503.5,131.3 1504.0,137.6 1504.5,149.1 1505.0,159.8 1505.5,170.6 1506.0,182.6 1506.5,197.5 1507.0,211.3 1507.5,216.4 1508.0,230.5 1508.5,237.5 1509.0,247.5 1509.5,262.4 1510.0,279.4 1510.5,297.8 1511.0,310.8 1511.5,315.2 1512.0,305.9 1512.5,291.4 1513.0,274.8 1513.5,254.6 1514.0,242.6 1514.5,225.0 1515.0,211.5 1515.5,196.8 1516.0,185.1 1516.5,170.9 1517.0,158.0 1517.5,149.5 1518.0,142.9 1518.5,132.3 1519.0,124.4 1519.5,122.3 1520.0,116.0 1520.5,112.6 1521.0,107.7 1521.5,105.2 1522.0,100.7 1522.5,99.0 1523.0,94.5 1523.5,90.6 1524.0,89.2 1524.5,87.9 1525.0,84.9 1525.5,84.8 1526.0,83.8 1526.5,83.4 1527.0,79.7 1527.5,81.2 1528.0,82.0 1528.5,81.9 1529.0,84.6 1529.5,86.4 1530.0,87.2 1530.5,86.7 1531.0,85.4 1531.5,89.2 1532.0,85.2 1532.5,87.5 1533.0,87.3 1533.5,86.8 1534.0,88.4 1534.5,87.1 1535.0,87.5 1535.5,88.5 1536.0,86.4 1536.5,86.4 1537.0,84.5 1537.5,86.9 1538.0,88.8 1538.5,88.1 1539.0,87.1 1539.5,86.8 1540.0,89.7 1540.5,87.3 1541.0,87.7 1541.5,86.7 1542.0,89.4 1542.5,87.2 1543.0,87.6 1543.5,87.6 1544.0,86.1 1544.5,85.6 1545.0,89.1 1545.5,86.1 1546.0,90.0 1546.5,86.2 1547.0,87.1 1547.5,89.1 1548.0,90.6 1548.5,87.3 1549.0,88.4 1549.5,87.2 1550.0,84.9 1550.5,88.1 1551.0,86.8 1551.5,87.6 1552.0,86.8 1552.5,85.4 1553.0,87.0 1553.5,84.3 1554.0,86.4 1554.5,88.0 1555.0,86.7 1555.5,86.8 1556.0,87.6 1556.5,85.9 1557.0,86.9 1557.5,87.5 1558.0,85.9 1558.5,87.4 1559.0,86.6 1559.5,85.4 1560.0,87.0 1560.5,87.1 1561.0,87.0 1561.5,87.2 1562.0,85.3 1562.5,84.9 1563.0,88.4 1563.5,85.0 1564.0,86.1 1564.5,86.8 1565.0,86.2 1565.5,87.7 1566.0,87.7 1566.5,84.6 1567.0,85.6 1567.5,86.9 1568.0,88.3 1568.5,86.0 1569.0,88.3 1569.5,84.3 1570.0,84.4 1570.5,87.3 1571.0,86.1 1571.5,84.9 1572.0,85.1 1572.5,86.1 1573.0,85.6 1573.5,84.7 1574.0,84.9 1574.5,86.0 1575.0,84.8 1575.5,85.5 1576.0,85.7 1576.5,85.2 1577.0,86.0 1577.5,86.0 1578.0,86.2 1578.5,86.5 1579.0,89.5 1579.5,84.5 1580.0,85.7 1580.5,84.9 1581.0,87.3 1581.5,85.6 1582.0,84.9 1582.5,83.5 1583.0,87.7 1583.5,86.3 1584.0,84.5 1584.5,85.0 1585.0,84.7 1585.5,86.1 1586.0,87.6 1586.5,84.5 1587.0,86.3 1587.5,84.2 1588.0,87.6 1588.5,84.8 1589.0,85.8 1589.5,84.9 1590.0,82.2 1590.5,82.7 1591.0,82.6 1591.5,85.3 1592.0,85.8 1592.5,83.5 1593.0,85.3 1593.5,86.2 1594.0,86.5 1594.5,84.5 1595.0,85.5 1595.5,83.9 1596.0,85.6 1596.5,83.1 1597.0,85.7 1597.5,85.3 1598.0,87.3 1598.5,85.1 1599.0,84.4 1599.5,83.0 1600.0,83.2 1600.5,83.5 1601.0,84.5 1601.5,83.2 1602.0,82.0 1602.5,81.1 1603.0,86.6 1603.5,84.1 1604.0,82.6 1604.5,86.0 1605.0,85.3 1605.5,85.0 1606.0,85.1 1606.5,86.2 1607.0,82.7 1607.5,84.6 1608.0,83.7 1608.5,83.9 1609.0,84.3 1609.5,85.2 1610.0,85.9 1610.5,84.3 1611.0,83.8 1611.5,88.0 1612.0,83.6 1612.5,84.7 1613.0,84.2 1613.5,87.5 1614.0,85.0 1614.5,86.6 1615.0,85.2 1615.5,83.6 1616.0,85.1 1616.5,85.9 1617.0,85.0 1617.5,82.7 1618.0,85.0 1618.5,85.0 1619.0,84.2 1619.5,83.9 1620.0,85.9 1620.5,83.7 1621.0,83.4 1621.5,83.1 1622.0,84.7 1622.5,86.3 1623.0,83.0 1623.5,84.2 1624.0,85.7 1624.5,85.0 1625.0,85.4 1625.5,83.2 1626.0,86.0 1626.5,86.5 1627.0,85.7 1627.5,85.2 1628.0,84.4 1628.5,84.1 1629.0,84.4 1629.5,86.3 1630.0,85.5 1630.5,83.2 1631.0,84.3 1631.5,85.6 1632.0,82.7 1632.5,88.5 1633.0,83.4 1633.5,84.7 1634.0,88.1 1634.5,87.4 1635.0,83.7 1635.5,83.7 1636.0,82.5 1636.5,83.7 1637.0,85.4 1637.5,84.8 1638.0,86.5 1638.5,84.4 1639.0,85.2 1639.5,85.0 1640.0,84.6 1640.5,81.8 1641.0,83.3 1641.5,84.1 1642.0,85.6 1642.5,83.3 1643.0,85.9 1643.5,84.6 1644.0,87.6 1644.5,83.7 1645.0,84.6 1645.5,86.0 1646.0,85.0 1646.5,82.3 1647.0,84.5 1647.5,86.5 1648.0,85.9 1648.5,86.4 1649.0,85.0 1649.5,81.4 1650.0,84.3 1650.5,84.2 1651.0,85.6 1651.5,84.1 1652.0,84.7 1652.5,84.3 1653.0,83.3 1653.5,81.3 1654.0,84.7 1654.5,87.1 1655.0,85.7 1655.5,85.3 1656.0,86.0 1656.5,84.5 1657.0,85.8 1657.5,83.6 1658.0,84.1 1658.5,85.9 1659.0,83.6 1659.5,83.9 1660.0,86.1 1660.5,84.1 1661.0,84.4 1661.5,85.9 1662.0,83.1 1662.5,85.7 1663.0,86.8 1663.5,84.6 1664.0,85.3 1664.5,85.1 1665.0,85.1 1665.5,84.3 1666.0,82.6 1666.5,84.0 1667.0,85.2 1667.5,85.3 1668.0,84.3 1668.5,82.1 1669.0,85.0 1669.5,84.0 1670.0,84.8 1670.5,84.5 1671.0,82.5 1671.5,83.8 1672.0,83.5 1672.5,85.5 1673.0,85.1 1673.5,84.5 1674.0,85.2 1674.5,84.0 1675.0,84.5 1675.5,83.8 1676.0,86.2 1676.5,85.2 1677.0,84.6 1677.5,85.9 1678.0,82.9 1678.5,86.8 1679.0,85.3 1679.5,86.2 1680.0,83.9 1680.5,85.3 1681.0,80.7 1681.5,87.5 1682.0,84.8 1682.5,85.5 1683.0,84.3 1683.5,86.2 1684.0,85.3 1684.5,84.8 1685.0,85.0 1685.5,84.0 1686.0,84.3 1686.5,86.5 1687.0,84.5 1687.5,82.6 1688.0,83.3 1688.5,87.1 1689.0,85.2 1689.5,85.8 1690.0,84.2 1690.5,87.8 1691.0,83.9 1691.5,84.4 1692.0,84.3 1692.5,84.4 1693.0,85.1 1693.5,84.7 1694.0,84.9 1694.5,86.5 1695.0,84.4 1695.5,84.0 1696.0,84.7 1696.5,84.2 1697.0,87.8 1697.5,84.6 1698.0,83.0 1698.5,85.4 1699.0,83.8 1699.5,86.7 1700.0,83.3 1700.5,84.6 1701.0,84.4 1701.5,82.9 1702.0,84.6 1702.5,83.4 1703.0,84.8 1703.5,85.2 1704.0,84.6 1704.5,81.0 1705.0,84.1 1705.5,84.8 1706.0,82.3 1706.5,83.6 1707.0,84.5 1707.5,83.9 1708.0,84.1 1708.5,84.2 1709.0,83.8 1709.5,84.4 1710.0,87.4 1710.5,81.9 1711.0,85.2 1711.5,88.3 1712.0,85.0 1712.5,83.6 1713.0,85.7 1713.5,84.5 1714.0,82.7 1714.5,85.1 1715.0,85.4 1715.5,84.7 1716.0,85.9 1716.5,84.6 1717.0,87.0 1717.5,85.1 1718.0,84.5 1718.5,86.2 1719.0,83.6 1719.5,84.9 1720.0,83.7 1720.5,83.5 1721.0,84.5 1721.5,84.4 1722.0,84.3 1722.5,85.1 1723.0,83.9 1723.5,84.5 1724.0,83.8 1724.5,86.0 1725.0,84.6 1725.5,86.2 1726.0,83.8 1726.5,87.1 1727.0,85.4 1727.5,83.5 1728.0,83.5 1728.5,84.8 1729.0,83.9 1729.5,85.2 1730.0,85.5 1730.5,83.8 1731.0,82.4 1731.5,82.8 1732.0,83.7 1732.5,82.5 1733.0,83.8 1733.5,84.8 1734.0,82.7 1734.5,83.3 1735.0,82.3 1735.5,85.5 1736.0,85.7 1736.5,82.8 1737.0,81.5 1737.5,82.3 1738.0,85.7 1738.5,81.6 1739.0,84.9 1739.5,83.6 1740.0,82.8 1740.5,84.8 1741.0,81.8 1741.5,85.0 1742.0,84.6 1742.5,84.8 1743.0,84.3 1743.5,83.2 1744.0,84.0 1744.5,85.0 1745.0,82.7 1745.5,82.7 1746.0,83.5 1746.5,85.6 1747.0,84.7 1747.5,84.2 1748.0,86.3 1748.5,84.3 1749.0,86.0 1749.5,84.7 1750.0,82.7 1750.5,83.2 1751.0,87.0 1751.5,83.2 1752.0,82.3 1752.5,84.7 1753.0,82.4 1753.5,84.9 1754.0,83.1 1754.5,82.4 1755.0,83.2 1755.5,86.2 1756.0,85.4 1756.5,84.0 1757.0,83.7 1757.5,82.2 1758.0,82.5 1758.5,83.1 1759.0,83.1 1759.5,84.8 1760.0,83.2 1760.5,86.3 1761.0,82.4 1761.5,83.7 1762.0,83.4 1762.5,83.0 1763.0,83.4 1763.5,84.4 1764.0,84.0 1764.5,85.0 1765.0,85.3 1765.5,84.3 1766.0,82.9 1766.5,83.4 1767.0,85.6 1767.5,84.0 1768.0,85.5 1768.5,85.1 1769.0,83.9 1769.5,85.1 1770.0,82.9 1770.5,84.0 1771.0,81.7 1771.5,84.9 1772.0,83.7 1772.5,85.7 1773.0,84.0 1773.5,84.4 1774.0,81.3 1774.5,82.5 1775.0,83.7 1775.5,87.6 1776.0,82.1 1776.5,86.4 1777.0,84.9 1777.5,83.0 1778.0,83.1 1778.5,83.5 1779.0,81.7 1779.5,82.9 1780.0,83.3 1780.5,82.7 1781.0,83.6 1781.5,82.3 1782.0,81.0 1782.5,83.0 1783.0,84.8 1783.5,83.5 1784.0,81.7 1784.5,85.0 1785.0,82.0 1785.5,83.1 1786.0,82.4 1786.5,83.3 1787.0,83.7 1787.5,83.2 1788.0,83.4 1788.5,82.7 1789.0,83.3 1789.5,83.8 1790.0,82.3 1790.5,82.8 1791.0,83.7 1791.5,83.8 1792.0,82.3 1792.5,84.7 1793.0,83.1 1793.5,82.1 1794.0,83.1 1794.5,85.2 1795.0,83.7 1795.5,84.1 1796.0,81.7 1796.5,84.4 1797.0,81.5 1797.5,82.7 1798.0,83.4 1798.5,79.6 1799.0,83.9 1799.5,83.2 1800.0,82.3 1800.5,85.1 1801.0,84.5 1801.5,82.1 1802.0,81.9 1802.5,82.4 1803.0,82.8 1803.5,80.9 1804.0,82.2 1804.5,83.2 1805.0,81.3 1805.5,82.9 1806.0,84.4 1806.5,84.6 1807.0,81.6 1807.5,84.0 1808.0,83.9 1808.5,82.3 1809.0,84.0 1809.5,85.7 1810.0,82.0 1810.5,83.1 1811.0,83.1 1811.5,83.1 1812.0,83.7 1812.5,82.6 1813.0,80.9 1813.5,81.5 1814.0,84.4 1814.5,81.8 1815.0,83.8 1815.5,82.0 1816.0,82.4 1816.5,82.4 1817.0,82.1 1817.5,82.6 1818.0,81.8 1818.5,81.2 1819.0,84.0 1819.5,81.1 1820.0,81.4 1820.5,80.9 1821.0,80.8 1821.5,83.3 1822.0,81.3 1822.5,82.9 1823.0,83.0 1823.5,82.0 1824.0,82.2 1824.5,82.3 1825.0,80.9 1825.5,82.7 1826.0,83.1 1826.5,81.0 1827.0,82.9 1827.5,83.4 1828.0,81.5 1828.5,83.4 1829.0,80.2 1829.5,82.2 1830.0,83.0 1830.5,83.2 1831.0,82.4 1831.5,80.6 1832.0,82.6 1832.5,83.7 1833.0,80.7 1833.5,81.3 1834.0,82.5 1834.5,82.6 1835.0,82.3 1835.5,81.3 1836.0,81.3 1836.5,81.9 1837.0,79.0 1837.5,83.7 1838.0,81.9 1838.5,81.4 1839.0,81.7 1839.5,80.4 1840.0,79.0 1840.5,82.9 1841.0,82.3 1841.5,83.6 1842.0,80.7 1842.5,80.6 1843.0,82.3 1843.5,82.9 1844.0,81.1 1844.5,81.5 1845.0,82.3 1845.5,80.7 1846.0,81.8 1846.5,81.4 1847.0,81.1 1847.5,82.5 1848.0,80.3 1848.5,81.6 1849.0,81.2 1849.5,83.8 1850.0,82.9 1850.5,82.2 1851.0,81.5 1851.5,83.1 1852.0,82.8 1852.5,79.2 1853.0,81.5 1853.5,82.7 1854.0,82.0 1854.5,83.6 1855.0,81.3 1855.5,83.1 1856.0,83.1 1856.5,81.7 1857.0,81.5 1857.5,82.1 1858.0,83.5 1858.5,81.8 1859.0,79.0 1859.5,81.1 1860.0,82.0 1860.5,81.5 1861.0,81.7 1861.5,81.7 1862.0,79.1 1862.5,82.0 1863.0,82.9 1863.5,81.0 1864.0,79.9 1864.5,81.8 1865.0,82.2 1865.5,81.7 1866.0,82.4 1866.5,80.0 1867.0,80.8 1867.5,81.0 1868.0,82.1 1868.5,83.1 1869.0,82.1 1869.5,81.7 1870.0,81.4 1870.5,81.3 1871.0,83.1 1871.5,80.9 1872.0,81.0 1872.5,81.2 1873.0,81.6 1873.5,80.4 1874.0,82.4 1874.5,81.9 1875.0,81.4 1875.5,80.5 1876.0,81.5 1876.5,82.4 1877.0,81.9 1877.5,82.0 1878.0,84.0 1878.5,80.0 1879.0,83.8 1879.5,82.6 1880.0,80.7 1880.5,82.1 1881.0,82.7 1881.5,83.9"/>
<path class="c" stroke="#004FA0" d="M1351.5,83.2 1352.0,81.3 1352.5,82.6 1353.0,83.9 1353.5,84.2 1354.0,83.1 1354.5,79.8 1355.0,81.9 1355.5,81.9 1356.0,80.8 1356.5,82.9 1357.0,81.3 1357.5,83.6 1358.0,81.5 1358.5,81.2 1359.0,81.0 1359.5,82.9 1360.0,83.2 1360.5,80.1 1361.0,81.6 1361.5,81.0 1362.0,82.2 1362.5,82.6 1363.0,79.6 1363.5,82.6 1364.0,79.1 1364.5,81.8 1365.0,81.6 1365.5,84.0 1366.0,82.1 1366.5,84.1 1367.0,83.6 1367.5,80.4 1368.0,82.7 1368.5,80.6 1369.0,81.4 1369.5,83.8 1370.0,83.7 1370.5,80.3 1371.0,83.3 1371.5,82.0 1372.0,81.6 1372.5,83.3 1373.0,82.9 1373.5,83.7 1374.0,81.0 1374.5,81.7 1375.0,79.9 1375.5,82.3 1376.0,83.7 1376.5,82.8 1377.0,83.7 1377.5,84.5 1378.0,81.4 1378.5,83.3 1379.0,82.4 1379.5,82.0 1380.0,83.9 1380.5,84.0 1381.0,81.0 1381.5,82.3 1382.0,83.8 1382.5,80.8 1383.0,79.8 1383.5,81.4 1384.0,82.5 1384.5,83.1 1385.0,84.8 1385.5,82.5 1386.0,82.4 1386.5,82.3 1387.0,82.6 1387.5,84.0 1388.0,82.6 1388.5,84.7 1389.0,82.2 1389.5,81.2 1390.0,83.8 1390.5,82.5 1391.0,80.7 1391.5,82.8 1392.0,83.5 1392.5,80.3 1393.0,80.4 1393.5,81.0 1394.0,84.2 1394.5,86.2 1395.0,82.1 1395.5,82.3 1396.0,83.4 1396.5,83.9 1397.0,84.3 1397.5,84.4 1398.0,85.2 1398.5,80.4 1399.0,84.0 1399.5,81.1 1400.0,85.1 1400.5,84.1 1401.0,83.2 1401.5,84.4 1402.0,84.6 1402.5,84.7 1403.0,83.4 1403.5,82.3 1404.0,85.5 1404.5,83.3 1405.0,84.3 1405.5,85.0 1406.0,82.8 1406.5,85.0 1407.0,82.3 1407.5,83.7 1408.0,83.8 1408.5,82.7 1409.0,85.4 1409.5,83.7 1410.0,81.9 1410.5,84.7 1411.0,82.2 1411.5,82.4 1412.0,83.5 1412.5,83.4 1413.0,82.7 1413.5,83.7 1414.0,82.1 1414.5,86.1 1415.0,83.3 1415.5,80.4 1416.0,87.7 1416.5,83.8 1417.0,82.3 1417.5,83.9 1418.0,86.1 1418.5,83.9 1419.0,83.9 1419.5,84.4 1420.0,86.6 1420.5,86.3 1421.0,87.6 1421.5,84.1 1422.0,85.3 1422.5,85.7 1423.0,85.5 1423.5,87.7 1424.0,82.8 1424.5,83.0 1425.0,83.2 1425.5,85.5 1426.0,85.9 1426.5,85.4 1427.0,88.0 1427.5,86.5 1428.0,85.5 1428.5,84.7 1429.0,88.1 1429.5,87.0 1430.0,86.4 1430.5,86.9 1431.0,85.9 1431.5,84.8 1432.0,85.6 1432.5,86.4 1433.0,87.2 1433.5,86.6 1434.0,85.2 1434.5,88.1 1435.0,86.8 1435.5,86.8 1436.0,89.2 1436.5,87.9 1437.0,88.8 1437.5,84.1 1438.0,88.4 1438.5,86.5 1439.0,88.2 1439.5,89.8 1440.0,88.7 1440.5,86.3 1441.0,88.3 1441.5,87.6 1442.0,89.1 1442.5,86.9 1443.0,87.9 1443.5,86.6 1444.0,87.8 1444.5,87.6 1445.0,86.9 1445.5,87.0 1446.0,87.5 1446.5,87.1 1447.0,88.1 1447.5,90.3 1448.0,87.6 1448.5,88.4 1449.0,88.9 1449.5,86.9 1450.0,87.4 1450.5,87.5 1451.0,88.5 1451.5,87.8 1452.0,87.1 1452.5,87.4 1453.0,86.6 1453.5,84.3 1454.0,86.4 1454.5,86.9 1455.0,88.9 1455.5,87.6 1456.0,87.5 1456.5,88.4 1457.0,86.6 1457.5,87.5 1458.0,88.1 1458.5,89.0 1459.0,87.4 1459.5,88.8 1460.0,88.7 1460.5,89.3 1461.0,89.2 1461.5,89.2 1462.0,88.8 1462.5,90.4 1463.0,89.5 1463.5,87.9 1464.0,88.1 1464.5,87.2 1465.0,89.0 1465.5,92.3 1466.0,90.7 1466.5,88.8 1467.0,91.0 1467.5,92.5 1468.0,91.2 1468.5,90.0 1469.0,92.6 1469.5,91.0 1470.0,92.4 1470.5,94.6 1471.0,96.2 1471.5,93.6 1472.0,96.3 1472.5,96.6 1473.0,96.7 1473.5,99.1 1474.0,100.0 1474.5,100.4 1475.0,99.0 1475.5,102.4 1476.0,105.8 1476.5,102.7 1477.0,107.1 1477.5,110.3 1478.0,107.2 1478.5,110.7 1479.0,112.2 1479.5,113.0 1480.0,115.9 1480.5,116.0 1481.0,119.9 1481.5,119.8 1482.0,122.5 1482.5,124.2 1483.0,125.4 1483.5,129.0 1484.0,130.3 1484.5,127.1 1485.0,130.7 1485.5,133.1 1486.0,133.1 1486.5,132.9 1487.0,132.7 1487.5,133.3 1488.0,131.4 1488.5,125.7 1489.0,120.9 1489.5,118.7 1490.0,117.1 1490.5,116.0 1491.0,113.4 1491.5,110.9 1492.0,105.4 1492.5,106.4 1493.0,105.4 1493.5,102.5 1494.0,103.3 1494.5,102.7 1495.0,103.4 1495.5,102.8 1496.0,103.6 1496.5,101.9 1497.0,103.8 1497.5,101.3 1498.0,104.8 1498.5,106.5 1499.0,106.0 1499.5,109.3 1500.0,111.8 1500.5,115.0 1501.0,119.8 1501.5,123.8 1502.0,126.9 1502.5,136.2 1503.0,142.2 1503.5,154.0 1504.0,168.4 1504.5,176.5 1505.0,188.6 1505.5,200.6 1506.0,212.7 1506.5,224.2 1507.0,233.0 1507.5,243.8 1508.0,255.6 1508.5,266.4 1509.0,283.7 1509.5,300.8 1510.0,314.6 1510.5,328.3 1511.0,333.3 1511.5,337.5 1512.0,329.3 1512.5,316.3 1513.0,298.5 1513.5,281.4 1514.0,262.6 1514.5,247.0 1515.0,238.3 1515.5,227.2 1516.0,217.8 1516.5,209.5 1517.0,202.1 1517.5,194.7 1518.0,191.4 1518.5,184.2 1519.0,179.8 1519.5,175.6 1520.0,171.8 1520.5,168.2 1521.0,166.4 1521.5,162.1 1522.0,161.9 1522.5,153.2 1523.0,146.8 1523.5,140.7 1524.0,134.1 1524.5,123.7 1525.0,121.1 1525.5,118.2 1526.0,114.3 1526.5,113.3 1527.0,111.0 1527.5,110.2 1528.0,105.2 1528.5,106.2 1529.0,101.2 1529.5,103.8 1530.0,100.8 1530.5,99.1 1531.0,98.4 1531.5,97.0 1532.0,94.6 1532.5,97.9 1533.0,92.5 1533.5,93.7 1534.0,90.2 1534.5,91.3 1535.0,91.3 1535.5,93.9 1536.0,90.7 1536.5,91.4 1537.0,87.4 1537.5,90.1 1538.0,88.8 1538.5,89.7 1539.0,90.3 1539.5,85.9 1540.0,90.7 1540.5,87.5 1541.0,89.3 1541.5,88.8 1542.0,91.4 1542.5,87.8 1543.0,87.6 1543.5,88.7 1544.0,89.9 1544.5,88.2 1545.0,86.6 1545.5,87.7 1546.0,87.2 1546.5,88.3 1547.0,87.8 1547.5,89.7 1548.0,88.1 1548.5,87.4 1549.0,87.5 1549.5,88.0 1550.0,88.9 1550.5,85.4 1551.0,85.4 1551.5,89.6 1552.0,88.0 1552.5,87.6 1553.0,86.5 1553.5,87.3 1554.0,86.6 1554.5,88.0 1555.0,86.6 1555.5,86.6 1556.0,88.8 1556.5,87.4 1557.0,88.7 1557.5,88.4 1558.0,88.8 1558.5,85.7 1559.0,85.9 1559.5,86.6 1560.0,86.2 1560.5,84.7 1561.0,85.3 1561.5,84.7 1562.0,85.1 1562.5,87.6 1563.0,85.2 1563.5,87.9 1564.0,87.3 1564.5,85.3 1565.0,88.4 1565.5,87.1 1566.0,85.0 1566.5,84.9 1567.0,85.2 1567.5,85.7 1568.0,85.2 1568.5,86.7 1569.0,87.5 1569.5,83.2 1570.0,87.4 1570.5,85.3 1571.0,83.2 1571.5,86.4 1572.0,86.1 1572.5,84.1 1573.0,87.0 1573.5,86.3 1574.0,84.8 1574.5,85.7 1575.0,84.4 1575.5,84.2 1576.0,84.4 1576.5,83.7 1577.0,86.4 1577.5,84.5 1578.0,84.7 1578.5,86.5 1579.0,83.6 1579.5,85.0 1580.0,85.0 1580.5,85.9 1581.0,84.5 1581.5,84.5 1582.0,85.7 1582.5,84.2 1583.0,86.9 1583.5,85.6 1584.0,86.2 1584.5,85.3 1585.0,83.6 1585.5,85.7 1586.0,84.1 1586.5,84.8 1587.0,82.8 1587.5,83.7 1588.0,86.4 1588.5,84.3 1589.0,84.6 1589.5,86.0 1590.0,84.3 1590.5,85.4 1591.0,85.1 1591.5,82.4 1592.0,84.6 1592.5,81.9 1593.0,83.9 1593.5,84.1 1594.0,84.8 1594.5,83.0 1595.0,83.4 1595.5,86.8 1596.0,84.4 1596.5,87.7 1597.0,85.4 1597.5,84.8 1598.0,85.2 1598.5,85.4 1599.0,83.5 1599.5,85.2 1600.0,82.5 1600.5,84.0 1601.0,86.0 1601.5,84.1 1602.0,83.9 1602.5,83.9 1603.0,85.7 1603.5,85.2 1604.0,85.5 1604.5,82.9 1605.0,84.4 1605.5,85.6 1606.0,85.5 1606.5,85.2 1607.0,83.7 1607.5,84.2 1608.0,86.5 1608.5,85.6 1609.0,83.6 1609.5,84.6 1610.0,84.3 1610.5,85.6 1611.0,84.2 1611.5,84.3 1612.0,85.4 1612.5,81.8 1613.0,82.5 1613.5,84.5 1614.0,83.1 1614.5,85.9 1615.0,84.7 1615.5,85.4 1616.0,83.7 1616.5,85.5 1617.0,84.9 1617.5,80.9 1618.0,82.5 1618.5,84.4 1619.0,82.9 1619.5,83.2 1620.0,84.4 1620.5,82.8 1621.0,84.7 1621.5,85.3 1622.0,81.3 1622.5,85.6 1623.0,81.9 1623.5,84.0 1624.0,86.8 1624.5,87.4 1625.0,83.7 1625.5,85.6 1626.0,83.7 1626.5,84.3 1627.0,85.0 1627.5,84.1 1628.0,84.3 1628.5,84.3 1629.0,86.3 1629.5,83.3 1630.0,85.7 1630.5,84.2 1631.0,83.6 1631.5,86.1 1632.0,85.6 1632.5,83.6 1633.0,84.4 1633.5,84.9 1634.0,84.7 1634.5,85.4 1635.0,84.2 1635.5,86.1 1636.0,83.3 1636.5,84.2 1637.0,82.9 1637.5,83.1 1638.0,82.9 1638.5,82.0 1639.0,85.6 1639.5,86.4 1640.0,83.6 1640.5,85.3 1641.0,84.9 1641.5,85.0 1642.0,86.3 1642.5,85.7 1643.0,82.5 1643.5,84.2 1644.0,85.7 1644.5,85.7 1645.0,84.5 1645.5,84.4 1646.0,85.8 1646.5,84.2 1647.0,84.0 1647.5,84.0 1648.0,84.0 1648.5,83.8 1649.0,84.3 1649.5,85.2 1650.0,86.0 1650.5,83.5 1651.0,82.1 1651.5,83.6 1652.0,84.4 1652.5,85.5 1653.0,84.4 1653.5,83.2 1654.0,84.2 1654.5,85.6 1655.0,82.8 1655.5,85.5 1656.0,83.8 1656.5,83.7 1657.0,85.0 1657.5,85.6 1658.0,83.5 1658.5,86.6 1659.0,85.7 1659.5,84.8 1660.0,86.5 1660.5,83.8 1661.0,85.8 1661.5,84.3 1662.0,83.0 1662.5,84.7 1663.0,84.1 1663.5,86.4 1664.0,84.0 1664.5,83.3 1665.0,86.7 1665.5,82.8 1666.0,85.0 1666.5,86.2 1667.0,83.0 1667.5,82.4 1668.0,84.8 1668.5,85.1 1669.0,83.1 1669.5,83.7 1670.0,85.2 1670.5,81.1 1671.0,83.0 1671.5,85.7 1672.0,86.0 1672.5,83.3 1673.0,84.3 1673.5,83.9 1674.0,85.0 1674.5,86.8 1675.0,87.6 1675.5,83.0 1676.0,85.5 1676.5,81.9 1677.0,84.6 1677.5,85.4 1678.0,82.2 1678.5,84.0 1679.0,83.9 1679.5,84.8 1680.0,82.8 1680.5,83.0 1681.0,85.1 1681.5,84.3 1682.0,84.5 1682.5,85.7 1683.0,85.4 1683.5,87.3 1684.0,81.9 1684.5,81.2 1685.0,84.3 1685.5,84.1 1686.0,85.3 1686.5,83.5 1687.0,84.0 1687.5,84.5 1688.0,84.7 1688.5,85.7 1689.0,84.2 1689.5,84.7 1690.0,84.0 1690.5,83.8 1691.0,81.8 1691.5,83.9 1692.0,82.6 1692.5,82.1 1693.0,81.9 1693.5,85.9 1694.0,85.6 1694.5,85.0 1695.0,85.0 1695.5,84.0 1696.0,85.3 1696.5,84.8 1697.0,82.6 1697.5,83.9 1698.0,85.0 1698.5,82.9 1699.0,82.7 1699.5,85.7 1700.0,84.3 1700.5,82.8 1701.0,83.5 1701.5,84.3 1702.0,84.8 1702.5,83.9 1703.0,83.0 1703.5,83.4 1704.0,82.8 1704.5,84.6 1705.0,83.1 1705.5,80.6 1706.0,86.4 1706.5,84.9 1707.0,83.9 1707.5,82.1 1708.0,84.5 1708.5,86.8 1709.0,83.6 1709.5,84.6 1710.0,80.5 1710.5,83.9 1711.0,85.1 1711.5,82.6 1712.0,83.8 1712.5,84.6 1713.0,83.6 1713.5,84.2 1714.0,83.0 1714.5,86.6 1715.0,83.0 1715.5,82.5 1716.0,84.5 1716.5,83.4 1717.0,81.9 1717.5,82.3 1718.0,84.0 1718.5,83.9 1719.0,83.6 1719.5,83.6 1720.0,83.8 1720.5,84.1 1721.0,83.2 1721.5,83.4 1722.0,80.2 1722.5,82.8 1723.0,83.3 1723.5,80.9 1724.0,84.2 1724.5,84.3 1725.0,83.7 1725.5,83.9 1726.0,82.7 1726.5,83.1 1727.0,83.0 1727.5,83.2 1728.0,84.0 1728.5,82.0 1729.0,85.5 1729.5,84.8 1730.0,84.2 1730.5,83.3 1731.0,85.4 1731.5,86.1 1732.0,81.4 1732.5,84.9 1733.0,82.6 1733.5,85.0 1734.0,82.1 1734.5,84.4 1735.0,81.7 1735.5,82.5 1736.0,82.8 1736.5,84.1 1737.0,81.9 1737.5,82.9 1738.0,82.9 1738.5,85.4 1739.0,84.9 1739.5,85.3 1740.0,84.9 1740.5,84.1 1741.0,84.3 1741.5,84.8 1742.0,83.2 1742.5,82.7 1743.0,81.6 1743.5,83.1 1744.0,83.8 1744.5,83.6 1745.0,84.7 1745.5,82.6 1746.0,83.8 1746.5,83.7 1747.0,82.4 1747.5,83.9 1748.0,85.7 1748.5,83.8 1749.0,82.4 1749.5,84.0 1750.0,79.2 1750.5,83.6 1751.0,85.0 1751.5,83.7 1752.0,83.4 1752.5,83.2 1753.0,82.6 1753.5,83.9 1754.0,84.7 1754.5,82.5 1755.0,82.0 1755.5,82.7 1756.0,81.6 1756.5,84.3 1757.0,82.2 1757.5,83.4 1758.0,84.6 1758.5,83.2 1759.0,79.4 1759.5,82.3 1760.0,82.6 1760.5,82.3 1761.0,81.8 1761.5,84.9 1762.0,83.0 1762.5,83.3 1763.0,83.2 1763.5,82.8 1764.0,82.7 1764.5,83.6 1765.0,81.1 1765.5,81.4 1766.0,82.3 1766.5,82.8 1767.0,84.8 1767.5,82.6 1768.0,83.5 1768.5,82.7 1769.0,81.8 1769.5,85.0 1770.0,84.3 1770.5,83.6 1771.0,83.9 1771.5,84.0 1772.0,82.7 1772.5,81.7 1773.0,80.7 1773.5,83.2 1774.0,83.8 1774.5,83.8 1775.0,83.3 1775.5,81.1 1776.0,84.3 1776.5,81.7 1777.0,83.6 1777.5,84.9 1778.0,84.6 1778.5,83.3 1779.0,81.9 1779.5,80.6 1780.0,82.5 1780.5,82.1 1781.0,83.0 1781.5,85.0 1782.0,82.9 1782.5,83.1 1783.0,80.6 1783.5,82.9 1784.0,83.9 1784.5,83.5 1785.0,82.1 1785.5,82.5 1786.0,82.7 1786.5,84.4 1787.0,85.7 1787.5,82.4 1788.0,84.3 1788.5,82.0 1789.0,83.5 1789.5,81.9 1790.0,82.7 1790.5,82.1 1791.0,84.1 1791.5,81.3 1792.0,81.6 1792.5,84.0 1793.0,81.2 1793.5,81.2 1794.0,80.9 1794.5,84.3 1795.0,80.8 1795.5,83.3 1796.0,80.8 1796.5,79.8 1797.0,79.0 1797.5,82.5 1798.0,81.8 1798.5,81.8 1799.0,82.0 1799.5,83.1 1800.0,81.9 1800.5,81.4 1801.0,81.6 1801.5,80.2 1802.0,81.3 1802.5,81.1 1803.0,81.8 1803.5,84.5 1804.0,84.1 1804.5,82.0 1805.0,83.2 1805.5,81.6 1806.0,83.1 1806.5,82.0 1807.0,83.9 1807.5,84.3 1808.0,81.5 1808.5,81.5 1809.0,79.8 1809.5,80.2 1810.0,82.9 1810.5,82.2 1811.0,83.9 1811.5,82.7 1812.0,81.4 1812.5,81.0 1813.0,82.0 1813.5,81.6 1814.0,80.6 1814.5,81.8 1815.0,82.4 1815.5,82.2 1816.0,84.0 1816.5,81.0 1817.0,82.2 1817.5,81.1 1818.0,81.9 1818.5,83.0 1819.0,83.4 1819.5,83.2 1820.0,83.9 1820.5,81.2 1821.0,81.4 1821.5,79.9 1822.0,83.1 1822.5,81.6 1823.0,81.5 1823.5,80.3 1824.0,81.7 1824.5,80.9 1825.0,82.3 1825.5,81.2 1826.0,80.3 1826.5,79.7 1827.0,80.3 1827.5,78.8 1828.0,80.9 1828.5,83.8 1829.0,81.3 1829.5,78.9 1830.0,80.2 1830.5,82.9 1831.0,81.1 1831.5,79.4 1832.0,79.6 1832.5,81.6 1833.0,82.8 1833.5,84.2 1834.0,81.1 1834.5,81.8 1835.0,82.5 1835.5,82.8 1836.0,80.9 1836.5,80.3 1837.0,79.7 1837.5,83.9 1838.0,81.9 1838.5,80.8 1839.0,79.6 1839.5,82.2 1840.0,79.8 1840.5,80.5 1841.0,81.8 1841.5,80.7 1842.0,81.6 1842.5,83.3 1843.0,82.3 1843.5,83.0 1844.0,80.4 1844.5,78.9 1845.0,79.2 1845.5,79.9 1846.0,84.5 1846.5,80.9 1847.0,81.5 1847.5,81.8 1848.0,80.1 1848.5,81.3 1849.0,81.1 1849.5,83.3 1850.0,80.6 1850.5,78.2 1851.0,79.8 1851.5,80.8 1852.0,81.7 1852.5,81.8 1853.0,80.9 1853.5,81.9 1854.0,80.4 1854.5,80.6 1855.0,79.8 1855.5,81.4 1856.0,79.8 1856.5,83.0 1857.0,80.8 1857.5,80.6 1858.0,81.0 1858.5,82.8 1859.0,82.3 1859.5,80.7 1860.0,80.5 1860.5,80.0 1861.0,80.1 1861.5,79.4 1862.0,81.3 1862.5,81.2 1863.0,82.8 1863.5,78.7 1864.0,80.3 1864.5,79.8 1865.0,81.8 1865.5,81.9 1866.0,79.4 1866.5,81.5 1867.0,80.0 1867.5,81.4 1868.0,80.3 1868.5,80.7 1869.0,81.1 1869.5,79.1 1870.0,80.6 1870.5,80.1 1871.0,82.4 1871.5,81.3 1872.0,79.2 1872.5,81.4 1873.0,81.3 1873.5,82.1 1874.0,80.5 1874.5,80.8 1875.0,82.0 1875.5,81.8 1876.0,80.8 1876.5,80.9 1877.0,79.7 1877.5,79.4 1878.0,79.8 1878.5,78.9 1879.0,79.4 1879.5,80.7 1880.0,81.4 1880.5,81.3 1881.0,82.7 1881.5,81.7"/>
<path class="c" stroke="#008B0A" d="M1351.5,82.7 1352.0,82.2 1352.5,83.2 1353.0,82.3 1353.5,81.4 1354.0,81.5 1354.5,83.6 1355.0,83.1 1355.5,83.6 1356.0,82.8 1356.5,81.5 1357.0,81.6 1357.5,80.9 1358.0,81.3 1358.5,82.6 1359.0,79.9 1359.5,81.7 1360.0,82.4 1360.5,82.5 1361.0,80.9 1361.5,81.9 1362.0,80.1 1362.5,81.0 1363.0,83.0 1363.5,81.4 1364.0,83.7 1364.5,82.6 1365.0,82.8 1365.5,83.8 1366.0,82.9 1366.5,81.1 1367.0,83.7 1367.5,82.7 1368.0,82.9 1368.5,81.2 1369.0,81.4 1369.5,82.4 1370.0,83.2 1370.5,83.8 1371.0,84.6 1371.5,82.6 1372.0,83.4 1372.5,83.4 1373.0,82.8 1373.5,81.2 1374.0,83.0 1374.5,83.9 1375.0,82.9 1375.5,82.2 1376.0,83.0 1376.5,82.2 1377.0,82.0 1377.5,82.8 1378.0,81.9 1378.5,83.0 1379.0,81.9 1379.5,83.2 1380.0,82.3 1380.5,82.7 1381.0,83.0 1381.5,82.4 1382.0,82.3 1382.5,81.1 1383.0,82.4 1383.5,81.9 1384.0,83.3 1384.5,83.6 1385.0,82.4 1385.5,82.0 1386.0,81.9 1386.5,83.0 1387.0,84.8 1387.5,82.7 1388.0,81.6 1388.5,82.0 1389.0,82.1 1389.5,83.1 1390.0,83.9 1390.5,82.2 1391.0,82.1 1391.5,82.2 1392.0,82.4 1392.5,82.4 1393.0,83.2 1393.5,82.9 1394.0,83.0 1394.5,82.6 1395.0,81.8 1395.5,82.1 1396.0,82.2 1396.5,82.9 1397.0,83.1 1397.5,84.1 1398.0,82.7 1398.5,83.7 1399.0,83.3 1399.5,82.4 1400.0,80.8 1400.5,82.7 1401.0,82.7 1401.5,82.1 1402.0,84.7 1402.5,81.1 1403.0,81.9 1403.5,81.9 1404.0,84.0 1404.5,84.6 1405.0,82.1 1405.5,83.0 1406.0,83.7 1406.5,82.3 1407.0,82.5 1407.5,82.3 1408.0,84.2 1408.5,83.0 1409.0,82.7 1409.5,83.5 1410.0,82.2 1410.5,84.2 1411.0,83.1 1411.5,82.4 1412.0,83.3 1412.5,84.0 1413.0,84.1 1413.5,83.5 1414.0,83.2 1414.5,81.7 1415.0,83.3 1415.5,82.7 1416.0,82.3 1416.5,83.9 1417.0,83.6 1417.5,83.0 1418.0,84.0 1418.5,83.7 1419.0,83.4 1419.5,85.4 1420.0,83.0 1420.5,82.9 1421.0,84.4 1421.5,83.3 1422.0,86.1 1422.5,83.3 1423.0,85.6 1423.5,84.8 1424.0,85.0 1424.5,83.7 1425.0,83.7 1425.5,84.9 1426.0,86.1 1426.5,86.0 1427.0,85.4 1427.5,86.0 1428.0,84.9 1428.5,86.7 1429.0,85.1 1429.5,85.8 1430.0,84.5 1430.5,85.6 1431.0,86.4 1431.5,86.7 1432.0,87.4 1432.5,86.0 1433.0,86.8 1433.5,87.7 1434.0,85.2 1434.5,85.4 1435.0,85.4 1435.5,87.3 1436.0,85.6 1436.5,85.5 1437.0,85.8 1437.5,87.5 1438.0,87.4 1438.5,84.7 1439.0,86.1 1439.5,86.5 1440.0,86.3 1440.5,85.5 1441.0,87.5 1441.5,87.0 1442.0,86.5 1442.5,85.8 1443.0,86.7 1443.5,87.5 1444.0,86.6 1444.5,85.3 1445.0,85.9 1445.5,84.0 1446.0,85.7 1446.5,88.0 1447.0,84.3 1447.5,86.3 1448.0,88.1 1448.5,86.5 1449.0,86.8 1449.5,87.1 1450.0,84.9 1450.5,87.3 1451.0,86.9 1451.5,86.9 1452.0,86.0 1452.5,87.8 1453.0,86.8 1453.5,86.6 1454.0,86.5 1454.5,87.2 1455.0,85.7 1455.5,84.8 1456.0,85.8 1456.5,88.6 1457.0,87.1 1457.5,85.5 1458.0,88.3 1458.5,87.1 1459.0,88.0 1459.5,87.7 1460.0,86.7 1460.5,87.0 1461.0,86.9 1461.5,88.6 1462.0,87.2 1462.5,88.3 1463.0,87.9 1463.5,86.7 1464.0,87.7 1464.5,88.1 1465.0,87.2 1465.5,90.4 1466.0,86.7 1466.5,88.6 1467.0,88.4 1467.5,90.1 1468.0,88.6 1468.5,89.1 1469.0,86.2 1469.5,89.6 1470.0,89.6 1470.5,88.8 1471.0,88.1 1471.5,89.7 1472.0,91.0 1472.5,91.0 1473.0,89.5 1473.5,91.8 1474.0,92.0 1474.5,92.5 1475.0,92.1 1475.5,94.2 1476.0,95.3 1476.5,94.3 1477.0,95.0 1477.5,96.2 1478.0,94.7 1478.5,98.8 1479.0,98.1 1479.5,100.7 1480.0,100.9 1480.5,102.6 1481.0,102.9 1481.5,103.9 1482.0,105.6 1482.5,107.7 1483.0,108.9 1483.5,110.1 1484.0,113.0 1484.5,113.3 1485.0,115.4 1485.5,117.2 1486.0,119.6 1486.5,119.6 1487.0,120.0 1487.5,118.1 1488.0,116.9 1488.5,112.4 1489.0,110.6 1489.5,107.1 1490.0,106.5 1490.5,104.3 1491.0,101.9 1491.5,103.1 1492.0,102.6 1492.5,97.8 1493.0,100.7 1493.5,100.2 1494.0,98.5 1494.5,98.6 1495.0,99.3 1495.5,99.4 1496.0,100.2 1496.5,98.1 1497.0,99.7 1497.5,100.5 1498.0,99.8 1498.5,101.0 1499.0,102.9 1499.5,102.8 1500.0,105.2 1500.5,108.6 1501.0,110.1 1501.5,113.1 1502.0,116.3 1502.5,121.3 1503.0,125.5 1503.5,131.3 1504.0,139.5 1504.5,146.6 1505.0,158.5 1505.5,168.9 1506.0,183.1 1506.5,197.8 1507.0,209.0 1507.5,216.8 1508.0,229.1 1508.5,235.1 1509.0,248.4 1509.5,263.5 1510.0,281.3 1510.5,298.6 1511.0,311.3 1511.5,313.7 1512.0,306.2 1512.5,289.8 1513.0,275.4 1513.5,256.7 1514.0,239.2 1514.5,225.7 1515.0,210.1 1515.5,195.1 1516.0,182.2 1516.5,168.9 1517.0,157.3 1517.5,145.8 1518.0,139.4 1518.5,131.3 1519.0,124.1 1519.5,119.6 1520.0,117.7 1520.5,114.6 1521.0,110.6 1521.5,108.4 1522.0,105.9 1522.5,102.0 1523.0,100.7 1523.5,98.9 1524.0,97.0 1524.5,96.2 1525.0,95.8 1525.5,94.9 1526.0,93.9 1526.5,90.5 1527.0,91.3 1527.5,89.6 1528.0,89.0 1528.5,88.8 1529.0,88.7 1529.5,89.9 1530.0,88.2 1530.5,87.9 1531.0,89.1 1531.5,87.0 1532.0,88.2 1532.5,87.6 1533.0,85.7 1533.5,87.6 1534.0,87.8 1534.5,89.2 1535.0,87.2 1535.5,87.3 1536.0,85.6 1536.5,86.7 1537.0,87.7 1537.5,87.6 1538.0,85.0 1538.5,84.8 1539.0,86.4 1539.5,86.8 1540.0,87.4 1540.5,87.0 1541.0,86.9 1541.5,84.2 1542.0,87.1 1542.5,87.5 1543.0,88.4 1543.5,86.8 1544.0,85.8 1544.5,88.1 1545.0,85.3 1545.5,85.2 1546.0,86.6 1546.5,88.3 1547.0,86.6 1547.5,87.6 1548.0,87.9 1548.5,86.6 1549.0,86.1 1549.5,86.2 1550.0,85.2 1550.5,86.2 1551.0,86.6 1551.5,86.9 1552.0,86.9 1552.5,88.1 1553.0,86.0 1553.5,85.2 1554.0,86.1 1554.5,86.7 1555.0,87.4 1555.5,85.4 1556.0,86.3 1556.5,86.3 1557.0,87.4 1557.5,85.7 1558.0,88.4 1558.5,85.6 1559.0,86.2 1559.5,86.4 1560.0,84.7 1560.5,86.2 1561.0,86.5 1561.5,85.3 1562.0,86.1 1562.5,85.8 1563.0,85.4 1563.5,86.3 1564.0,84.9 1564.5,87.2 1565.0,87.1 1565.5,86.7 1566.0,86.3 1566.5,86.5 1567.0,86.0 1567.5,85.6 1568.0,87.1 1568.5,85.5 1569.0,85.3 1569.5,86.2 1570.0,86.1 1570.5,86.7 1571.0,84.9 1571.5,85.6 1572.0,86.3 1572.5,85.1 1573.0,85.0 1573.5,85.6 1574.0,86.9 1574.5,86.4 1575.0,86.0 1575.5,85.2 1576.0,86.9 1576.5,86.6 1577.0,86.0 1577.5,87.0 1578.0,84.1 1578.5,85.9 1579.0,84.2 1579.5,85.6 1580.0,84.6 1580.5,83.0 1581.0,83.7 1581.5,84.9 1582.0,84.9 1582.5,85.1 1583.0,84.1 1583.5,83.6 1584.0,84.6 1584.5,85.0 1585.0,84.8 1585.5,83.7 1586.0,86.0 1586.5,83.0 1587.0,83.1 1587.5,84.9 1588.0,83.7 1588.5,85.6 1589.0,85.7 1589.5,85.3 1590.0,85.2 1590.5,83.2 1591.0,86.5 1591.5,83.5 1592.0,83.2 1592.5,84.6 1593.0,83.1 1593.5,86.2 1594.0,84.9 1594.5,83.0 1595.0,84.3 1595.5,84.4 1596.0,83.8 1596.5,84.2 1597.0,85.7 1597.5,85.3 1598.0,84.6 1598.5,84.4 1599.0,85.5 1599.5,83.9 1600.0,84.7 1600.5,83.9 1601.0,84.4 1601.5,85.6 1602.0,82.7 1602.5,85.3 1603.0,85.1 1603.5,84.1 1604.0,83.3 1604.5,83.2 1605.0,86.5 1605.5,84.4 1606.0,83.3 1606.5,84.2 1607.0,84.0 1607.5,84.1 1608.0,83.1 1608.5,84.2 1609.0,84.3 1609.5,81.6 1610.0,82.9 1610.5,84.7 1611.0,84.3 1611.5,84.6 1612.0,84.4 1612.5,83.3 1613.0,82.9 1613.5,84.1 1614.0,84.7 1614.5,81.4 1615.0,84.5 1615.5,85.5 1616.0,81.9 1616.5,83.4 1617.0,84.5 1617.5,84.4 1618.0,83.9 1618.5,84.2 1619.0,84.9 1619.5,84.8 1620.0,84.5 1620.5,83.3 1621.0,83.7 1621.5,83.9 1622.0,83.7 1622.5,83.4 1623.0,84.5 1623.5,85.5 1624.0,82.7 1624.5,85.2 1625.0,83.4 1625.5,84.5 1626.0,84.9 1626.5,85.5 1627.0,84.2 1627.5,85.2 1628.0,83.4 1628.5,81.9 1629.0,83.8 1629.5,85.5 1630.0,83.9 1630.5,86.2 1631.0,84.6 1631.5,85.4 1632.0,85.4 1632.5,84.2 1633.0,85.0 1633.5,84.2 1634.0,84.2 1634.5,85.3 1635.0,83.9 1635.5,83.5 1636.0,84.8 1636.5,84.2 1637.0,83.6 1637.5,84.0 1638.0,82.5 1638.5,85.3 1639.0,84.8 1639.5,84.1 1640.0,82.1 1640.5,83.5 1641.0,84.1 1641.5,83.6 1642.0,83.8 1642.5,83.6 1643.0,84.5 1643.5,84.7 1644.0,84.5 1644.5,84.2 1645.0,84.7 1645.5,83.0 1646.0,83.9 1646.5,82.6 1647.0,84.9 1647.5,85.5 1648.0,83.9 1648.5,83.2 1649.0,84.7 1649.5,83.5 1650.0,84.9 1650.5,84.4 1651.0,83.4 1651.5,86.2 1652.0,84.3 1652.5,83.1 1653.0,85.8 1653.5,85.6 1654.0,83.3 1654.5,84.2 1655.0,83.7 1655.5,84.4 1656.0,83.5 1656.5,85.9 1657.0,82.9 1657.5,84.8 1658.0,84.9 1658.5,86.1 1659.0,85.4 1659.5,83.3 1660.0,84.2 1660.5,84.1 1661.0,83.3 1661.5,86.0 1662.0,84.7 1662.5,84.0 1663.0,82.2 1663.5,84.0 1664.0,83.7 1664.5,84.9 1665.0,82.7 1665.5,84.8 1666.0,85.6 1666.5,83.4 1667.0,86.8 1667.5,83.2 1668.0,83.3 1668.5,85.8 1669.0,85.1 1669.5,84.1 1670.0,84.7 1670.5,82.5 1671.0,86.5 1671.5,83.5 1672.0,85.6 1672.5,84.3 1673.0,85.3 1673.5,85.8 1674.0,83.1 1674.5,85.3 1675.0,85.5 1675.5,84.9 1676.0,84.1 1676.5,83.8 1677.0,85.4 1677.5,84.3 1678.0,83.9 1678.5,85.0 1679.0,82.8 1679.5,85.1 1680.0,85.8 1680.5,84.8 1681.0,84.1 1681.5,82.8 1682.0,85.6 1682.5,83.4 1683.0,83.1 1683.5,84.2 1684.0,84.5 1684.5,83.2 1685.0,83.9 1685.5,83.9 1686.0,83.8 1686.5,84.1 1687.0,83.5 1687.5,84.9 1688.0,84.3 1688.5,83.4 1689.0,86.8 1689.5,82.5 1690.0,83.4 1690.5,83.7 1691.0,83.4 1691.5,84.5 1692.0,84.5 1692.5,84.7 1693.0,83.3 1693.5,85.2 1694.0,85.5 1694.5,85.1 1695.0,85.8 1695.5,83.5 1696.0,85.3 1696.5,82.6 1697.0,85.0 1697.5,83.3 1698.0,83.4 1698.5,83.2 1699.0,82.7 1699.5,84.6 1700.0,84.0 1700.5,86.0 1701.0,84.9 1701.5,84.0 1702.0,83.0 1702.5,83.7 1703.0,84.9 1703.5,83.1 1704.0,85.1 1704.5,82.3 1705.0,84.3 1705.5,84.2 1706.0,84.0 1706.5,82.8 1707.0,85.8 1707.5,82.0 1708.0,84.8 1708.5,84.9 1709.0,82.6 1709.5,85.0 1710.0,85.3 1710.5,83.8 1711.0,85.9 1711.5,84.1 1712.0,83.8 1712.5,84.9 1713.0,84.7 1713.5,84.0 1714.0,83.7 1714.5,82.9 1715.0,83.6 1715.5,83.8 1716.0,85.5 1716.5,82.4 1717.0,83.7 1717.5,85.2 1718.0,86.0 1718.5,85.6 1719.0,84.3 1719.5,84.1 1720.0,84.8 1720.5,82.8 1721.0,84.0 1721.5,83.3 1722.0,83.8 1722.5,82.6 1723.0,83.5 1723.5,82.3 1724.0,83.2 1724.5,82.4 1725.0,85.1 1725.5,84.4 1726.0,83.9 1726.5,82.1 1727.0,83.9 1727.5,84.0 1728.0,83.6 1728.5,84.1 1729.0,83.0 1729.5,83.3 1730.0,82.6 1730.5,84.8 1731.0,83.2 1731.5,83.2 1732.0,84.8 1732.5,84.3 1733.0,82.7 1733.5,83.0 1734.0,83.1 1734.5,84.1 1735.0,84.3 1735.5,83.7 1736.0,84.5 1736.5,83.9 1737.0,82.4 1737.5,84.1 1738.0,84.4 1738.5,84.0 1739.0,84.9 1739.5,84.4 1740.0,84.3 1740.5,85.0 1741.0,83.0 1741.5,84.4 1742.0,83.1 1742.5,82.7 1743.0,82.1 1743.5,83.3 1744.0,83.0 1744.5,83.4 1745.0,83.8 1745.5,85.2 1746.0,82.6 1746.5,83.0 1747.0,83.2 1747.5,83.8 1748.0,84.6 1748.5,82.8 1749.0,85.4 1749.5,83.7 1750.0,83.4 1750.5,83.5 1751.0,84.6 1751.5,83.6 1752.0,84.2 1752.5,84.1 1753.0,83.9 1753.5,83.1 1754.0,83.4 1754.5,82.8 1755.0,86.2 1755.5,83.8 1756.0,83.5 1756.5,83.1 1757.0,82.3 1757.5,85.3 1758.0,82.5 1758.5,84.4 1759.0,83.3 1759.5,83.6 1760.0,82.4 1760.5,83.2 1761.0,83.9 1761.5,82.5 1762.0,81.6 1762.5,82.7 1763.0,83.2 1763.5,82.4 1764.0,82.9 1764.5,84.4 1765.0,83.0 1765.5,83.4 1766.0,82.7 1766.5,83.2 1767.0,83.3 1767.5,82.9 1768.0,83.2 1768.5,83.1 1769.0,82.5 1769.5,85.4 1770.0,82.4 1770.5,82.8 1771.0,84.4 1771.5,81.9 1772.0,84.1 1772.5,82.5 1773.0,84.7 1773.5,83.0 1774.0,82.5 1774.5,82.5 1775.0,82.3 1775.5,82.8 1776.0,82.5 1776.5,84.6 1777.0,83.1 1777.5,82.0 1778.0,82.0 1778.5,84.3 1779.0,84.4 1779.5,82.1 1780.0,81.8 1780.5,83.7 1781.0,83.5 1781.5,84.3 1782.0,84.6 1782.5,83.3 1783.0,82.9 1783.5,82.8 1784.0,82.0 1784.5,83.8 1785.0,83.9 1785.5,82.7 1786.0,82.9 1786.5,81.1 1787.0,81.7 1787.5,84.3 1788.0,82.3 1788.5,83.7 1789.0,84.5 1789.5,81.3 1790.0,82.5 1790.5,83.7 1791.0,82.1 1791.5,81.8 1792.0,83.6 1792.5,83.9 1793.0,82.8 1793.5,82.7 1794.0,85.5 1794.5,82.0 1795.0,83.3 1795.5,82.0 1796.0,82.5 1796.5,82.4 1797.0,83.7 1797.5,83.0 1798.0,81.3 1798.5,82.5 1799.0,82.9 1799.5,83.4 1800.0,81.6 1800.5,83.7 1801.0,82.7 1801.5,84.7 1802.0,81.5 1802.5,81.0 1803.0,83.4 1803.5,82.9 1804.0,82.4 1804.5,83.1 1805.0,83.2 1805.5,82.9 1806.0,83.9 1806.5,82.9 1807.0,81.4 1807.5,82.9 1808.0,83.2 1808.5,83.6 1809.0,81.9 1809.5,81.9 1810.0,82.5 1810.5,83.0 1811.0,82.1 1811.5,81.1 1812.0,82.2 1812.5,83.8 1813.0,84.0 1813.5,83.1 1814.0,83.3 1814.5,83.2 1815.0,82.1 1815.5,81.3 1816.0,83.1 1816.5,79.8 1817.0,82.4 1817.5,82.6 1818.0,83.9 1818.5,83.2 1819.0,81.7 1819.5,83.6 1820.0,82.7 1820.5,82.2 1821.0,82.7 1821.5,81.2 1822.0,81.5 1822.5,83.3 1823.0,82.7 1823.5,81.4 1824.0,81.6 1824.5,81.6 1825.0,82.4 1825.5,82.5 1826.0,81.5 1826.5,81.3 1827.0,82.4 1827.5,80.4 1828.0,83.8 1828.5,81.1 1829.0,81.4 1829.5,81.3 1830.0,81.7 1830.5,82.1 1831.0,82.6 1831.5,82.0 1832.0,81.5 1832.5,82.1 1833.0,81.9 1833.5,82.9 1834.0,82.4 1834.5,79.2 1835.0,81.0 1835.5,82.0 1836.0,81.4 1836.5,83.2 1837.0,80.6 1837.5,82.5 1838.0,79.9 1838.5,80.7 1839.0,80.6 1839.5,80.9 1840.0,80.5 1840.5,82.9 1841.0,78.8 1841.5,80.2 1842.0,81.8 1842.5,82.2 1843.0,83.7 1843.5,82.3 1844.0,82.6 1844.5,80.8 1845.0,81.6 1845.5,82.3 1846.0,81.2 1846.5,81.1 1847.0,82.3 1847.5,81.6 1848.0,82.2 1848.5,81.6 1849.0,81.1 1849.5,81.4 1850.0,77.4 1850.5,81.4 1851.0,80.7 1851.5,82.7 1852.0,80.4 1852.5,82.9 1853.0,80.9 1853.5,82.4 1854.0,82.0 1854.5,81.4 1855.0,81.4 1855.5,80.8 1856.0,80.5 1856.5,82.6 1857.0,81.1 1857.5,81.1 1858.0,81.0 1858.5,80.0 1859.0,82.9 1859.5,80.9 1860.0,79.3 1860.5,81.5 1861.0,82.1 1861.5,80.9 1862.0,81.9 1862.5,82.0 1863.0,82.1 1863.5,82.3 1864.0,80.7 1864.5,80.9 1865.0,81.7 1865.5,82.4 1866.0,81.5 1866.5,81.7 1867.0,80.1 1867.5,81.1 1868.0,80.4 1868.5,81.8 1869.0,78.9 1869.5,81.6 1870.0,82.4 1870.5,81.6 1871.0,80.4 1871.5,80.9 1872.0,81.6 1872.5,80.7 1873.0,81.5 1873.5,79.9 1874.0,80.2 1874.5,80.8 1875.0,80.9 1875.5,80.8 1876.0,81.3 1876.5,80.7 1877.0,79.3 1877.5,81.6 1878.0,81.2 1878.5,81.0 1879.0,80.4 1879.5,81.2 1880.0,81.4 1880.5,80.0 1881.0,80.8 1881.5,81.5"/>
</g>
<rect class="f" x="141.2" y="22.2" width="1192.3" height="1133.8"/>
<rect class="f" x="1351.4" y="22.2" width="530.4" height="1133.8"/>
<line class="t" x1="141.2" y1="1156.0" x2="141.2" y2="1184.3"/>
<line class="t" x1="190.9" y1="1156.0" x2="190.9" y2="1171.3"/>
<line class="t" x1="240.6" y1="1156.0" x2="240.6" y2="1171.3"/>
<line class="t" x1="290.2" y1="1156.0" x2="290.2" y2="1171.3"/>
<line class="t" x1="339.9" y1="1156.0" x2="339.9" y2="1184.3"/>
<line class="t" x1="389.6" y1="1156.0" x2="389.6" y2="1171.3"/>
<line class="t" x1="439.3" y1="1156.0" x2="439.3" y2="1171.3"/>
<line class="t" x1="489.0" y1="1156.0" x2="489.0" y2="1171.3"/>
<line class="t" x1="538.6" y1="1156.0" x2="538.6" y2="1184.3"/>
<line class="t" x1="588.3" y1="1156.0" x2="588.3" y2="1171.3"/>
<line class="t" x1="638.0" y1="1156.0" x2="638.0" y2="1171.3"/>
<line class="t" x1="687.7" y1="1156.0" x2="687.7" y2="1171.3"/>
<line class="t" x1="737.3" y1="1156.0" x2="737.3" y2="1184.3"/>
<line class="t" x1="787.0" y1="1156.0" x2="787.0" y2="1171.3"/>
<line class="t" x1="836.7" y1="1156.0" x2="836.7" y2="1171.3"/>
<line class="t" x1="886.4" y1="1156.0" x2="886.4" y2="1171.3"/>
<line class="t" x1="936.1" y1="1156.0" x2="936.1" y2="1184.3"/>
<line class="t" x1="985.7" y1="1156.0" x2="985.7" y2="1171.3"/>
<line class="t" x1="1035.4" y1="1156.0" x2="1035.4" y2="1171.3"/>
<line class="t" x1="1085.1" y1="1156.0" x2="1085.1" y2="1171.3"/>
<line class="t" x1="1134.8" y1="1156.0" x2="1134.8" y2="1184.3"/>
<line class="t" x1="1184.5" y1="1156.0" x2="1184.5" y2="1171.3"/>
<line class="t" x1="1234.1" y1="1156.0" x2="1234.1" y2="1171.3"/>
<line class="t" x1="1283.8" y1="1156.0" x2="1283.8" y2="1171.3"/>
<line class="t" x1="1333.5" y1="1156.0" x2="1333.5" y2="1184.3"/>
<line class="t" x1="1351.4" y1="1156.0" x2="1351.4" y2="1171.3"/>
<line class="t" x1="1395.6" y1="1156.0" x2="1395.6" y2="1171.3"/>
<line class="t" x1="1439.8" y1="1156.0" x2="1439.8" y2="1171.3"/>
<line class="t" x1="1484.0" y1="1156.0" x2="1484.0" y2="1171.3"/>
<line class="t" x1="1528.2" y1="1156.0" x2="1528.2" y2="1184.3"/>
<line class="t" x1="1572.4" y1="1156.0" x2="1572.4" y2="1171.3"/>
<line class="t" x1="1616.6" y1="1156.0" x2="1616.6" y2="1171.3"/>
<line class="t" x1="1660.8" y1="1156.0" x2="1660.8" y2="1171.3"/>
<line class="t" x1="1705.0" y1="1156.0" x2="1705.0" y2="1171.3"/>
<line class="t" x1="1749.2" y1="1156.0" x2="1749.2" y2="1184.3"/>
<line class="t" x1="1793.4" y1="1156.0" x2="1793.4" y2="1171.3"/>
<line class="t" x1="1837.6" y1="1156.0" x2="1837.6" y2="1171.3"/>
<line class="t" x1="1881.8" y1="1156.0" x2="1881.8" y2="1171.3"/>
<line x1="1370.6" y1="665.9" x2="1525.7" y2="665.9" stroke="#000000" stroke-width="5.6" stroke-linecap="round"/>
<line x1="1370.6" y1="750.3" x2="1525.7" y2="750.3" stroke="#008B0A" stroke-width="5.6" stroke-linecap="round"/>
<line x1="1370.6" y1="836.7" x2="1525.7" y2="836.7" stroke="#004FA0" stroke-width="5.6" stroke-linecap="round"/>
<line x1="1370.6" y1="920.2" x2="1525.7" y2="920.2" stroke="#FF0D3C" stroke-width="5.6" stroke-linecap="round"/>
<line x1="1370.6" y1="1006.5" x2="1525.7" y2="1006.5" stroke="#FF8000" stroke-width="5.6" stroke-linecap="round"/>
<line x1="1370.6" y1="1090.9" x2="1525.7" y2="1090.9" stroke="#9E501A" stroke-width="5.6" stroke-linecap="round"/>
<text id="t400" transform="translate(140.26,1253.30) scale(1.0152,1.0000)" font-size="68.276" text-anchor="middle">400</text>
<text id="t600" transform="translate(338.15,1253.30) scale(1.0207,1.0000)" font-size="68.276" text-anchor="middle">600</text>
<text id="t800" transform="translate(535.88,1253.30) scale(1.0170,1.0000)" font-size="68.276" text-anchor="middle">800</text>
<text id="t1000" transform="translate(736.13,1253.30) scale(0.9966,1.0000)" font-size="68.276" text-anchor="middle">1000</text>
<text id="t1200" transform="translate(934.10,1253.30) scale(0.9946,1.0000)" font-size="68.275" text-anchor="middle">1200</text>
<text id="t1400" transform="translate(1134.12,1253.30) scale(0.9966,1.0000)" font-size="68.276" text-anchor="middle">1400</text>
<text id="t1600" transform="translate(1331.50,1253.30) scale(0.9560,1.0000)" font-size="68.276" text-anchor="middle">1600</text>
<text id="t3000" transform="translate(1525.75,1253.30) scale(0.9923,1.0000)" font-size="68.276" text-anchor="middle">3000</text>
<text id="t3500" transform="translate(1747.51,1253.30) scale(0.9861,1.0000)" font-size="68.276" text-anchor="middle">3500</text>
<text id="l0" transform="translate(1539.84,689.50) scale(0.9946,1.0000)" font-size="69.975" text-anchor="start">PDMS-OH</text>
<text id="l1" transform="translate(1540.34,775.75) scale(0.9394,1.0000)" font-size="68.798" text-anchor="start">2:1</text>
<text id="l2" transform="translate(1540.91,860.25) scale(0.9226,1.0000)" font-size="68.783" text-anchor="start">5:1</text>
<text id="l3" transform="translate(1542.58,945.00) scale(0.9505,1.0000)" font-size="68.062" text-anchor="start">10:1</text>
<text id="l4" transform="translate(1542.58,1029.75) scale(0.9333,1.0000)" font-size="69.301" text-anchor="start">15:1</text>
<text id="l5" transform="translate(1540.12,1115.00) scale(0.9692,1.0000)" font-size="68.062" text-anchor="start">20:1</text>
<text id="a1" transform="translate(152.92,1087.70) scale(1.0578,1.0000)" font-size="74.752" text-anchor="start">Ti–O–Ti</text>
<text id="a2" transform="translate(745.00,1089.20) scale(1.0466,1.0000)" font-size="74.476" text-anchor="start">Ti–O–Si</text>
<text id="yl" transform="translate(96.48,563.31) rotate(-90) scale(0.9962,1.0000)" font-size="93.16" text-anchor="middle">Transmittance (a. u.)</text>
<text id="xl" transform="translate(1025.53,1375.15) scale(1.0350,1.0000)" font-size="89.802" text-anchor="middle">Wavenumber (cm<tspan font-size="55" dy="-49.7" dx="-2.6">–1</tspan><tspan dy="49.7" dx="2.4">)</tspan></text>
</svg></body></html>
